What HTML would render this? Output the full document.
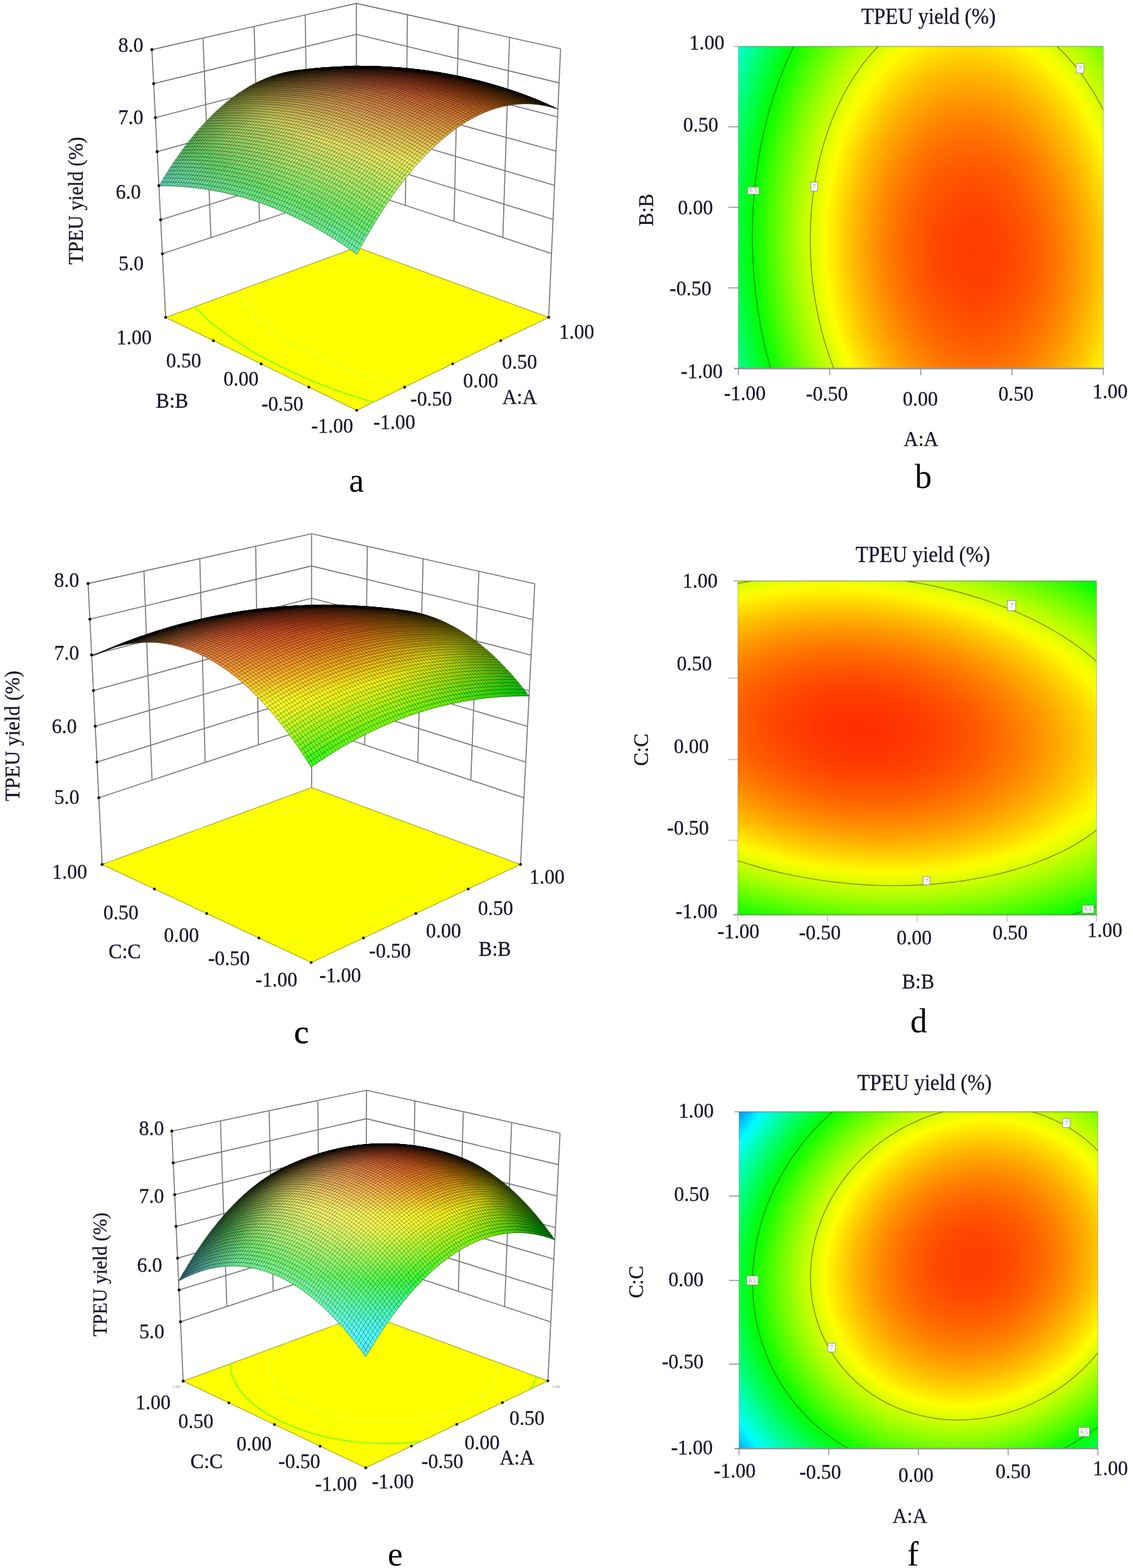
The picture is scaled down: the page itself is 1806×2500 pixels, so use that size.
<!DOCTYPE html>
<html lang="en"><head><meta charset="utf-8"><title>TPEU yield response surfaces</title>
<style>
html,body{margin:0;padding:0;background:#fff;overflow:hidden}
svg{display:block}
text{font-family:"Liberation Serif", "DejaVu Serif", serif;fill:#15152a;stroke:#15152a;stroke-width:.3px;text-anchor:middle}
text.s{fill:#8a8a8a;stroke:none}
</style></head><body>
<svg width="1806" height="2500" viewBox="0 0 1806 2500">
<defs><clipPath id="fca"><path d="M568.5 654.3L874.6 506L568.7 394.2L264.1 506.1Z"/></clipPath><radialGradient id="gb" gradientUnits="userSpaceOnUse" cx="0" cy="0" r="1" gradientTransform="matrix(430.298 0.000 20.851 644.309 1553.07 401.95)"><stop offset="0.000" stop-color="#ff3c00"/><stop offset="0.025" stop-color="#ff3d00"/><stop offset="0.050" stop-color="#ff3e00"/><stop offset="0.075" stop-color="#ff4000"/><stop offset="0.100" stop-color="#ff4300"/><stop offset="0.125" stop-color="#ff4600"/><stop offset="0.150" stop-color="#ff4b00"/><stop offset="0.175" stop-color="#ff5000"/><stop offset="0.200" stop-color="#ff5600"/><stop offset="0.225" stop-color="#ff5c00"/><stop offset="0.250" stop-color="#ff6400"/><stop offset="0.275" stop-color="#ff6c00"/><stop offset="0.300" stop-color="#ff7500"/><stop offset="0.325" stop-color="#ff7f00"/><stop offset="0.350" stop-color="#ff8a00"/><stop offset="0.375" stop-color="#ff9500"/><stop offset="0.400" stop-color="#ffa200"/><stop offset="0.425" stop-color="#ffaf00"/><stop offset="0.450" stop-color="#ffbc00"/><stop offset="0.475" stop-color="#ffcb00"/><stop offset="0.500" stop-color="#ffdb00"/><stop offset="0.525" stop-color="#ffeb00"/><stop offset="0.550" stop-color="#fffc00"/><stop offset="0.575" stop-color="#efff00"/><stop offset="0.600" stop-color="#dbff00"/><stop offset="0.625" stop-color="#c5ff00"/><stop offset="0.650" stop-color="#afff00"/><stop offset="0.675" stop-color="#98ff00"/><stop offset="0.700" stop-color="#80ff00"/><stop offset="0.725" stop-color="#67ff00"/><stop offset="0.750" stop-color="#4eff00"/><stop offset="0.775" stop-color="#33ff00"/><stop offset="0.800" stop-color="#18ff00"/><stop offset="0.825" stop-color="#00ff04"/><stop offset="0.850" stop-color="#00ff22"/><stop offset="0.875" stop-color="#00ff40"/><stop offset="0.900" stop-color="#00ff5e"/><stop offset="0.925" stop-color="#00ff7e"/><stop offset="0.950" stop-color="#00ff9f"/><stop offset="0.975" stop-color="#00ffc0"/><stop offset="1.000" stop-color="#00ffe3"/></radialGradient><clipPath id="cb"><rect x="1177" y="74" width="581.6" height="513.3"/></clipPath><clipPath id="fcc"><path d="M496 1534.6L829.7 1378.3L496.7 1255.7L162.8 1378.3Z"/></clipPath><radialGradient id="gd" gradientUnits="userSpaceOnUse" cx="0" cy="0" r="1" gradientTransform="matrix(619.647 0.000 74.736 344.856 1372.65 1164.36)"><stop offset="0.000" stop-color="#ff2f00"/><stop offset="0.025" stop-color="#ff3000"/><stop offset="0.050" stop-color="#ff3100"/><stop offset="0.075" stop-color="#ff3200"/><stop offset="0.100" stop-color="#ff3400"/><stop offset="0.125" stop-color="#ff3700"/><stop offset="0.150" stop-color="#ff3a00"/><stop offset="0.175" stop-color="#ff3e00"/><stop offset="0.200" stop-color="#ff4300"/><stop offset="0.225" stop-color="#ff4800"/><stop offset="0.250" stop-color="#ff4d00"/><stop offset="0.275" stop-color="#ff5400"/><stop offset="0.300" stop-color="#ff5a00"/><stop offset="0.325" stop-color="#ff6200"/><stop offset="0.350" stop-color="#ff6a00"/><stop offset="0.375" stop-color="#ff7300"/><stop offset="0.400" stop-color="#ff7c00"/><stop offset="0.425" stop-color="#ff8600"/><stop offset="0.450" stop-color="#ff9000"/><stop offset="0.475" stop-color="#ff9b00"/><stop offset="0.500" stop-color="#ffa700"/><stop offset="0.525" stop-color="#ffb300"/><stop offset="0.550" stop-color="#ffc000"/><stop offset="0.575" stop-color="#ffcd00"/><stop offset="0.600" stop-color="#ffdb00"/><stop offset="0.625" stop-color="#ffea00"/><stop offset="0.650" stop-color="#fff900"/><stop offset="0.675" stop-color="#f4ff00"/><stop offset="0.700" stop-color="#e2ff00"/><stop offset="0.725" stop-color="#cfff00"/><stop offset="0.750" stop-color="#bcff00"/><stop offset="0.775" stop-color="#a8ff00"/><stop offset="0.800" stop-color="#93ff00"/><stop offset="0.825" stop-color="#7eff00"/><stop offset="0.850" stop-color="#68ff00"/><stop offset="0.875" stop-color="#51ff00"/><stop offset="0.900" stop-color="#3aff00"/><stop offset="0.925" stop-color="#22ff00"/><stop offset="0.950" stop-color="#0aff00"/><stop offset="0.975" stop-color="#00ff10"/><stop offset="1.000" stop-color="#00ff2a"/></radialGradient><clipPath id="cd"><rect x="1176.1" y="926.2" width="571.9" height="532.3"/></clipPath><clipPath id="fce"><path d="M583.1 2340.3L873.4 2201.6L583 2094.6L292 2202.1Z"/></clipPath><radialGradient id="gf" gradientUnits="userSpaceOnUse" cx="0" cy="0" r="1" gradientTransform="matrix(472.451 0.000 -43.139 457.634 1551.53 2013.46)"><stop offset="0.000" stop-color="#ff3e00"/><stop offset="0.025" stop-color="#ff3f00"/><stop offset="0.050" stop-color="#ff4000"/><stop offset="0.075" stop-color="#ff4300"/><stop offset="0.100" stop-color="#ff4600"/><stop offset="0.125" stop-color="#ff4a00"/><stop offset="0.150" stop-color="#ff5000"/><stop offset="0.175" stop-color="#ff5600"/><stop offset="0.200" stop-color="#ff5d00"/><stop offset="0.225" stop-color="#ff6500"/><stop offset="0.250" stop-color="#ff6f00"/><stop offset="0.275" stop-color="#ff7900"/><stop offset="0.300" stop-color="#ff8400"/><stop offset="0.325" stop-color="#ff9000"/><stop offset="0.350" stop-color="#ff9d00"/><stop offset="0.375" stop-color="#ffab00"/><stop offset="0.400" stop-color="#ffba00"/><stop offset="0.425" stop-color="#ffca00"/><stop offset="0.450" stop-color="#ffdb00"/><stop offset="0.475" stop-color="#ffec00"/><stop offset="0.500" stop-color="#ffff00"/><stop offset="0.525" stop-color="#e9ff00"/><stop offset="0.550" stop-color="#d2ff00"/><stop offset="0.575" stop-color="#baff00"/><stop offset="0.600" stop-color="#a1ff00"/><stop offset="0.625" stop-color="#87ff00"/><stop offset="0.650" stop-color="#6cff00"/><stop offset="0.675" stop-color="#50ff00"/><stop offset="0.700" stop-color="#33ff00"/><stop offset="0.725" stop-color="#15ff00"/><stop offset="0.750" stop-color="#00ff0a"/><stop offset="0.775" stop-color="#00ff2b"/><stop offset="0.800" stop-color="#00ff4c"/><stop offset="0.825" stop-color="#00ff6f"/><stop offset="0.850" stop-color="#00ff92"/><stop offset="0.875" stop-color="#00ffb7"/><stop offset="0.900" stop-color="#00ffdc"/><stop offset="0.925" stop-color="#00fbff"/><stop offset="0.950" stop-color="#00d3ff"/><stop offset="0.975" stop-color="#00aaff"/><stop offset="1.000" stop-color="#0081ff"/></radialGradient><clipPath id="cf"><rect x="1178" y="1772.6" width="572" height="536.7"/></clipPath></defs>
<rect width="1806" height="2500" fill="#fff"/>
<g id="pa"><path d="M264.1 506.1L242.1 79.1M336.3 378.9L323.6 60.7M413.7 353.2L405.1 42.2M491.1 327.5L486.5 23.8M568.7 394.2L568 5.4M874.6 506L893.6 77.7M801.5 378.6L812.2 59.6M723.8 353L730.8 41.6M646.2 327.4L649.4 23.5M242.1 79.1L568 5.4L893.6 77.7M244.9 133.4L568.1 54.8L891.2 132.1M247.7 187.6L568.2 104.2L888.8 186.5M250.5 241.9L568.3 153.6L886.4 241M253.3 296.1L568.4 203L883.9 295.4M256.1 350.4L568.4 252.4L881.5 349.8M258.9 404.6L568.5 301.8L879.1 404.2" fill="none" stroke="#646464" stroke-opacity=".9" stroke-width="1.6"/>
<path d="M568.5 654.3L874.6 506L568.7 394.2L264.1 506.1Z" fill="#ff0" stroke="#8c8c14" stroke-width="1"/>
<g clip-path="url(#fca)" fill="none">
<path d="M614.5 646.5L588.8 639.4L563.4 631.5L538.5 623L514.1 613.9L490.4 604.3L467.6 594.1L445.6 583.6L424.7 572.8L404.9 561.7L386.4 550.4L369.1 539L353.2 527.6L338.9 516.3L326 505L314.8 494L305.2 483.2" stroke="#8cff1e" stroke-width="2.2"/>
<path d="M663.9 618.6L644.6 614.7L625.4 610.2L606.4 605.2L587.6 599.6L569.1 593.6L551.1 587.2L533.6 580.3L516.7 573.2L500.5 565.7L485 558L470.3 550L456.6 542L443.8 533.8L432.1 525.6L421.4 517.4L411.9 509.3L403.6 501.2L396.5 493.3L390.7 485.6L386.1 478.1L382.9 470.9L381 463.9L380.4 457.3L381.2 451M503.1 408.4L519.4 408.2L536.5 408.5L554.1 409.2L572.3 410.4L590.8 411.9L609.7 413.8L628.8 416.2L648 418.9L667.3 422L686.5 425.5M891.3 498.6L900.9 505.9" stroke="#e0ff28" stroke-width="1.6"/>
</g>
<g><path d="M568.2 121.9l9.3 4l-9.3 1.8l-9.3-4z" fill="#000000"/><path d="M559.3 118.9l9.4 3.5l-9.4 1.8l-9.3-3.6z" fill="#000000"/><path d="M577.1 120.7l9.3 4l-9.3 1.6l-9.3-4z" fill="#000000"/><path d="M550.4 116.2l9.4 3.1l-9.4 1.8l-9.3-3.1z" fill="#000000"/><path d="M568.2 117.6l9.3 3.6l-9.3 1.6l-9.3-3.5z" fill="#000000"/><path d="M586 119.6l9.3 4l-9.3 1.5l-9.4-4z" fill="#000000"/><path d="M541.5 114l9.3 2.7l-9.3 1.8l-9.4-2.7z" fill="#000000"/><path d="M559.3 115l9.3 3.1l-9.3 1.7l-9.4-3.2z" fill="#000000"/><path d="M577.1 116.6l9.3 3.5l-9.3 1.5l-9.4-3.6z" fill="#000000"/><path d="M594.9 118.6l9.3 4l-9.3 1.3l-9.4-3.9z" fill="#000000"/><path d="M532.5 112.3l9.4 2.2l-9.3 1.8l-9.4-2.3z" fill="#000000"/><path d="M550.4 112.9l9.3 2.6l-9.3 1.6l-9.4-2.6z" fill="#000000"/><path d="M568.2 114l9.3 3l-9.3 1.5l-9.4-3.1z" fill="#000000"/><path d="M586 115.6l9.3 3.5l-9.3 1.4l-9.4-3.5z" fill="#000000"/><path d="M603.8 117.8l9.3 4l-9.3 1.2l-9.4-4z" fill="#000000"/><path d="M523.6 111l9.4 1.7l-9.3 1.8l-9.4-1.8z" fill="#000000"/><path d="M541.4 111.1l9.4 2.2l-9.3 1.6l-9.4-2.2z" fill="#000000"/><path d="M559.3 111.8l9.3 2.6l-9.3 1.5l-9.4-2.6z" fill="#000000"/><path d="M577.1 113l9.3 3.1l-9.3 1.4l-9.4-3.1z" fill="#000000"/><path d="M594.9 114.8l9.4 3.5l-9.4 1.2l-9.3-3.5z" fill="#000000"/><path d="M612.7 117.1l9.3 4l-9.3 1l-9.3-3.9z" fill="#000000"/><path d="M514.6 110.1l9.4 1.3l-9.3 1.7l-9.4-1.3z" fill="#000000"/><path d="M532.5 109.8l9.4 1.8l-9.4 1.6l-9.4-1.8z" fill="#000000"/><path d="M550.3 110.1l9.4 2.2l-9.3 1.5l-9.4-2.3z" fill="#000000"/><path d="M568.2 110.9l9.3 2.6l-9.3 1.4l-9.4-2.7z" fill="#000000"/><path d="M586 112.3l9.4 3l-9.4 1.2l-9.4-3z" fill="#000000"/><path d="M603.8 114.2l9.4 3.4l-9.4 1.1l-9.3-3.5z" fill="#000000"/><path d="M621.7 116.6l9.3 3.9l-9.4 0.9l-9.3-3.9z" fill="#000000"/><path d="M505.7 109.7l9.4 0.8l-9.3 1.7l-9.4-0.8z" fill="#000000"/><path d="M523.5 109l9.4 1.3l-9.3 1.6l-9.4-1.4z" fill="#000000"/><path d="M541.4 108.8l9.4 1.8l-9.4 1.4l-9.4-1.7z" fill="#000000"/><path d="M559.2 109.2l9.4 2.2l-9.3 1.3l-9.4-2.2z" fill="#000000"/><path d="M577.1 110.2l9.4 2.6l-9.4 1.1l-9.4-2.6z" fill="#000000"/><path d="M594.9 111.6l9.4 3.1l-9.4 1l-9.3-3z" fill="#000000"/><path d="M612.8 113.7l9.3 3.4l-9.4 0.9l-9.3-3.4z" fill="#000000"/><path d="M630.6 116.2l9.3 3.9l-9.4 0.8l-9.3-3.9z" fill="#000000"/><path d="M496.7 109.7l9.4 0.4l-9.3 1.7l-9.4-0.4z" fill="#090801"/><path d="M639.5 116l9.3 3.9l-9.4 0.6l-9.3-3.9z" fill="#000000"/><path d="M514.6 108.6l9.4 0.8l-9.3 1.6l-9.5-0.9z" fill="#020200"/><path d="M532.4 108l9.4 1.3l-9.3 1.4l-9.4-1.3z" fill="#000000"/><path d="M550.3 108l9.4 1.7l-9.4 1.3l-9.4-1.7z" fill="#000000"/><path d="M568.2 108.5l9.3 2.1l-9.3 1.2l-9.4-2.2z" fill="#000000"/><path d="M586 109.6l9.4 2.5l-9.4 1.1l-9.4-2.6z" fill="#000000"/><path d="M603.9 111.2l9.3 3l-9.4 0.9l-9.3-3.1z" fill="#000000"/><path d="M621.7 113.3l9.3 3.5l-9.4 0.7l-9.3-3.4z" fill="#000000"/><path d="M487.7 110.2l9.5-0.1l-9.3 1.7l-9.5 0.1z" fill="#111002"/><path d="M648.5 115.9l9.3 3.9l-9.4 0.5l-9.3-3.9z" fill="#000000"/><path d="M505.6 108.6l9.4 0.4l-9.3 1.6l-9.4-0.4z" fill="#0c0b01"/><path d="M523.5 107.6l9.4 0.8l-9.4 1.5l-9.4-0.9z" fill="#060500"/><path d="M541.3 107.2l9.4 1.2l-9.3 1.3l-9.4-1.2z" fill="#000000"/><path d="M559.2 107.3l9.4 1.7l-9.4 1.1l-9.4-1.7z" fill="#000000"/><path d="M577.1 107.9l9.4 2.1l-9.4 1.1l-9.4-2.2z" fill="#000000"/><path d="M595 109.1l9.3 2.5l-9.4 0.9l-9.3-2.5z" fill="#000000"/><path d="M612.8 110.8l9.4 3l-9.4 0.8l-9.4-3z" fill="#000000"/><path d="M630.7 113.1l9.3 3.4l-9.4 0.6l-9.3-3.4z" fill="#000000"/><path d="M478.7 111.2l9.5-0.6l-9.2 1.7l-9.5 0.5z" fill="#191603"/><path d="M496.6 109.2l9.5-0.1l-9.3 1.5l-9.5 0.1z" fill="#141102"/><path d="M514.5 107.7l9.4 0.4l-9.3 1.4l-9.4-0.4z" fill="#0f0d01"/><path d="M621.8 110.6l9.3 3l-9.4 0.6l-9.3-3z" fill="#000000"/><path d="M639.6 113l9.3 3.4l-9.4 0.5l-9.3-3.4z" fill="#000000"/><path d="M657.4 116l9.3 3.8l-9.4 0.4l-9.3-3.9z" fill="#000000"/><path d="M532.4 106.8l9.4 0.8l-9.4 1.3l-9.4-0.8z" fill="#0a0801"/><path d="M550.3 106.5l9.4 1.2l-9.4 1.2l-9.4-1.3z" fill="#030300"/><path d="M568.2 106.7l9.3 1.7l-9.3 1l-9.4-1.7z" fill="#000000"/><path d="M586 107.5l9.4 2.1l-9.4 0.9l-9.4-2.2z" fill="#000000"/><path d="M603.9 108.8l9.4 2.5l-9.4 0.8l-9.4-2.6z" fill="#000000"/><path d="M469.8 113.5l9.5-2l-9.2 0.8l-9.5 1.9z" fill="#201d05"/><path d="M487.3 110.4l9.8-0.8l-9 1.4l-9.7 0.7z" fill="#1b1804"/><path d="M505.5 108.3l9.5-0.2l-9.3 1.4l-9.5 0.2z" fill="#171303"/><path d="M630.7 110.6l9.4 3l-9.5 0.4l-9.3-3z" fill="#000000"/><path d="M648.6 113.1l9.3 3.4l-9.4 0.3l-9.3-3.4z" fill="#000000"/><path d="M666.4 116.2l9.3 3.8l-9.5 0.2l-9.2-3.8z" fill="#000000"/><path d="M523.4 107l9.4 0.3l-9.3 1.2l-9.4-0.3z" fill="#120e02"/><path d="M541.3 106.2l9.4 0.7l-9.3 1.2l-9.5-0.8z" fill="#0d0a01"/><path d="M559.2 106l9.4 1.2l-9.4 1l-9.4-1.2z" fill="#070600"/><path d="M577.1 106.3l9.4 1.6l-9.4 0.9l-9.4-1.7z" fill="#000000"/><path d="M595 107.2l9.4 2.1l-9.4 0.7l-9.4-2.1z" fill="#000000"/><path d="M612.9 108.6l9.3 2.5l-9.4 0.6l-9.3-2.5z" fill="#000000"/><path d="M460.9 115.4l9.4-2.5l-9.3 0.8l-9.4 2.4z" fill="#272308"/><path d="M478.7 112.5l9.5-2l-9.3 0.7l-9.5 1.9z" fill="#231d06"/><path d="M496.4 110.2l9.6-1.5l-9.1 0.5l-9.6 1.4z" fill="#1e1904"/><path d="M514.4 107.6l9.5-0.2l-9.3 1.2l-9.5 0.2z" fill="#1a1403"/><path d="M532.3 106.3l9.5 0.3l-9.4 1.1l-9.4-0.3z" fill="#151002"/><path d="M603.9 107.1l9.4 2l-9.4 0.6l-9.4-2.1z" fill="#000000"/><path d="M621.8 108.6l9.4 2.5l-9.4 0.4l-9.4-2.5z" fill="#000000"/><path d="M639.7 110.7l9.3 3l-9.4 0.2l-9.3-2.9z" fill="#000000"/><path d="M657.5 113.4l9.3 3.3l-9.4 0.2l-9.3-3.4z" fill="#000000"/><path d="M675.4 116.6l9.2 3.8l-9.4 0l-9.3-3.8z" fill="#000000"/><path d="M550.2 105.7l9.5 0.7l-9.4 1l-9.4-0.8z" fill="#100c01"/><path d="M568.1 105.6l9.4 1.2l-9.3 0.8l-9.4-1.2z" fill="#0a0801"/><path d="M586.1 106l9.3 1.7l-9.4 0.7l-9.4-1.7z" fill="#040300"/><path d="M452 117.7l9.4-2.9l-9.3 0.7l-9.4 2.9z" fill="#2f290a"/><path d="M469.8 114.4l9.4-2.4l-9.3 0.6l-9.4 2.4z" fill="#2a2408"/><path d="M487.6 111.7l9.5-2l-9.4 0.5l-9.4 1.9z" fill="#261e06"/><path d="M505.4 109.5l9.5-1.6l-9.3 0.4l-9.4 1.5z" fill="#211905"/><path d="M523 107.5l9.8-0.7l-9 0.9l-9.8 0.3z" fill="#1c1503"/><path d="M612.9 107.1l9.4 2l-9.5 0.4l-9.3-2z" fill="#010100"/><path d="M630.8 108.8l9.3 2.4l-9.4 0.3l-9.3-2.5z" fill="#000000"/><path d="M648.7 111l9.3 2.9l-9.5 0.1l-9.3-2.9z" fill="#000000"/><path d="M666.5 113.8l9.3 3.3l-9.4 0l-9.3-3.3z" fill="#000000"/><path d="M684.3 117.1l9.3 3.8l-9.5-0.1l-9.2-3.8z" fill="#000000"/><path d="M541.3 105.9l9.4 0.2l-9.3 1l-9.5-0.3z" fill="#171102"/><path d="M559.2 105.3l9.4 0.7l-9.4 0.9l-9.4-0.8z" fill="#130d01"/><path d="M577.1 105.4l9.4 1.1l-9.4 0.7l-9.4-1.2z" fill="#0d0a01"/><path d="M595 105.9l9.4 1.6l-9.4 0.6l-9.4-1.6z" fill="#080600"/><path d="M443.1 120.6l9.3-3.4l-9.2 0.7l-9.4 3.3z" fill="#36300e"/><path d="M460.9 116.8l9.4-2.9l-9.4 0.6l-9.3 2.8z" fill="#312a0b"/><path d="M478.7 113.6l9.4-2.4l-9.3 0.4l-9.4 2.4z" fill="#2d2409"/><path d="M496.5 111l9.5-2l-9.4 0.3l-9.4 2z" fill="#281f07"/><path d="M514.4 108.9l9.4-1.5l-9.3 0.1l-9.4 1.6z" fill="#241a05"/><path d="M532.3 107.4l9.4-1.1l-9.3 0l-9.5 1.1z" fill="#1f1604"/><path d="M550.2 105.6l9.4 0.2l-9.3 0.8l-9.5-0.3z" fill="#1a1203"/><path d="M586.1 105.3l9.4 1.1l-9.5 0.5l-9.3-1.1z" fill="#100b01"/><path d="M604 106l9.3 1.5l-9.4 0.5l-9.3-1.6z" fill="#0b0801"/><path d="M621.9 107.2l9.3 2l-9.4 0.3l-9.4-2z" fill="#050400"/><path d="M639.8 109.1l9.3 2.4l-9.4 0.1l-9.4-2.5z" fill="#000000"/><path d="M657.6 111.4l9.3 2.9l-9.4 0l-9.3-2.9z" fill="#000000"/><path d="M675.5 114.3l9.2 3.4l-9.4-0.2l-9.3-3.3z" fill="#000000"/><path d="M693.3 117.8l9.2 3.8l-9.4-0.3l-9.2-3.8z" fill="#000000"/><path d="M568.1 105.1l9.5 0.7l-9.4 0.7l-9.5-0.7z" fill="#150e02"/><path d="M434.2 123.9l9.3-3.9l-9.3 0.7l-9.3 3.8z" fill="#3d3712"/><path d="M702.2 118.7l9.3 3.7l-9.5-0.5l-9.2-3.7z" fill="#000000"/><path d="M451.9 119.7l9.4-3.4l-9.3 0.5l-9.4 3.4z" fill="#38300f"/><path d="M469.7 116.1l9.4-3l-9.3 0.4l-9.4 2.9z" fill="#342a0c"/><path d="M487.6 113l9.4-2.5l-9.3 0.3l-9.4 2.4z" fill="#2f240a"/><path d="M505.5 110.5l9.4-2.1l-9.4 0.2l-9.4 2z" fill="#2b1f08"/><path d="M523.3 108.5l9.5-1.6l-9.4 0.1l-9.4 1.5z" fill="#261b06"/><path d="M541.2 107.1l9.5-1.1l-9.4-0.1l-9.4 1.1z" fill="#221704"/><path d="M595 105.4l9.4 1.1l-9.4 0.3l-9.4-1.1z" fill="#130c01"/><path d="M613 106.2l9.3 1.5l-9.4 0.3l-9.4-1.6z" fill="#0e0901"/><path d="M630.9 107.6l9.3 1.9l-9.4 0.2l-9.4-2.1z" fill="#090600"/><path d="M648.7 109.5l9.4 2.4l-9.5 0l-9.3-2.5z" fill="#020200"/><path d="M666.6 112l9.3 2.9l-9.4-0.2l-9.3-2.9z" fill="#000000"/><path d="M684.4 115.1l9.3 3.3l-9.4-0.4l-9.3-3.3z" fill="#000000"/><path d="M559.1 106.3l9.5-0.7l-9.2-0.2l-9.6 0.6z" fill="#1d1303"/><path d="M577.1 105.1l9.4 0.6l-9.4 0.6l-9.4-0.7z" fill="#181002"/><path d="M425.3 127.7l9.3-4.4l-9.3 0.6l-9.3 4.4z" fill="#454016"/><path d="M711.2 119.7l9.2 3.7l-9.4-0.6l-9.2-3.8z" fill="#000000"/><path d="M443 123l9.4-3.9l-9.3 0.6l-9.4 3.8z" fill="#3f3713"/><path d="M460.8 119l9.4-3.5l-9.3 0.4l-9.4 3.4z" fill="#3b3110"/><path d="M478.6 115.5l9.4-3l-9.3 0.2l-9.4 3z" fill="#372a0d"/><path d="M496.5 112.5l9.4-2.5l-9.3 0.1l-9.4 2.5z" fill="#32250a"/><path d="M514.4 110.1l9.4-2.1l-9.4 0l-9.4 2.1z" fill="#2d2008"/><path d="M532.3 108.3l9.4-1.7l-9.4-0.1l-9.4 1.6z" fill="#291b06"/><path d="M550.2 107l9.4-1.2l-9.4-0.3l-9.4 1.2z" fill="#241705"/><path d="M568.1 106.3l9.5-0.8l-9.5-0.4l-9.4 0.7z" fill="#1f1403"/><path d="M586.1 105.2l9.4 0.6l-9.5 0.4l-9.3-0.7z" fill="#1b1002"/><path d="M604 105.6l9.4 1.1l-9.5 0.2l-9.3-1.1z" fill="#160d01"/><path d="M621.9 106.5l9.4 1.5l-9.5 0.1l-9.3-1.5z" fill="#110b01"/><path d="M639.8 108l9.4 2l-9.5 0l-9.3-2z" fill="#0c0800"/><path d="M657.7 110.1l9.3 2.4l-9.4-0.2l-9.3-2.4z" fill="#060400"/><path d="M675.6 112.7l9.3 2.9l-9.5-0.4l-9.3-2.8z" fill="#000000"/><path d="M693.4 115.9l9.3 3.3l-9.5-0.5l-9.2-3.3z" fill="#000000"/><path d="M416.4 132l9.3-4.9l-9.3 0.6l-9.3 4.8z" fill="#4f4b1b"/><path d="M434.1 126.9l9.4-4.4l-9.3 0.5l-9.4 4.3z" fill="#494117"/><path d="M702.4 117l9.2 3.2l-9.4-0.6l-9.3-3.3z" fill="#000000"/><path d="M720.2 120.8l9.2 3.7l-9.4-0.8l-9.3-3.7z" fill="#000000"/><path d="M451.9 122.4l9.4-4l-9.3 0.4l-9.4 3.9z" fill="#443914"/><path d="M559.2 107l9.4-1.2l-9.4-0.4l-9.4 1.2z" fill="#271805"/><path d="M577.1 106.4l9.4-0.8l-9.4-0.5l-9.4 0.7z" fill="#221404"/><path d="M684.6 113.6l9.2 2.9l-9.4-0.5l-9.3-2.9z" fill="#030200"/><path d="M469.7 118.4l9.4-3.5l-9.3 0.3l-9.4 3.4z" fill="#3e3111"/><path d="M487.6 115l9.4-3l-9.4 0.1l-9.4 3z" fill="#392b0e"/><path d="M505.4 112.2l9.5-2.6l-9.4 0l-9.4 2.5z" fill="#35250b"/><path d="M523.3 109.9l9.5-2.1l-9.4-0.2l-9.4 2.1z" fill="#302009"/><path d="M541.3 108.2l9.4-1.7l-9.4-0.3l-9.4 1.6z" fill="#2b1c07"/><path d="M595.1 106.3l9.3-0.3l-9.5-0.6l-9.3 0.2z" fill="#1d1102"/><path d="M613 106l9.4 1l-9.5 0.1l-9.4-1.1z" fill="#180e02"/><path d="M630.9 107l9.4 1.5l-9.5 0l-9.3-1.6z" fill="#140c01"/><path d="M648.8 108.7l9.3 1.9l-9.4-0.2l-9.3-2z" fill="#0e0901"/><path d="M666.7 110.9l9.3 2.4l-9.5-0.4l-9.3-2.4z" fill="#090600"/><path d="M407.5 136.7l9.3-5.3l-9.2 0.6l-9.3 5.3z" fill="#595620"/><path d="M425.2 131.2l9.4-4.9l-9.3 0.5l-9.3 4.8z" fill="#544c1c"/><path d="M443 126.2l9.3-4.4l-9.3 0.3l-9.3 4.4z" fill="#4e4318"/><path d="M568.1 107.2l9.5-1.3l-9.5-0.5l-9.4 1.2z" fill="#291805"/><path d="M693.5 114.7l9.3 2.8l-9.5-0.7l-9.2-2.8z" fill="#060400"/><path d="M711.4 118.2l9.2 3.2l-9.5-0.8l-9.2-3.3z" fill="#000000"/><path d="M729.1 122.2l9.2 3.6l-9.4-0.9l-9.2-3.7z" fill="#000000"/><path d="M460.8 121.8l9.4-3.9l-9.4 0.2l-9.3 3.9z" fill="#483a15"/><path d="M550.2 108.2l9.4-1.7l-9.4-0.4l-9.4 1.6z" fill="#2e1c07"/><path d="M586.1 106.7l9.4-0.8l-9.4-0.7l-9.4 0.7z" fill="#251504"/><path d="M675.7 111.8l9.3 2.4l-9.5-0.6l-9.3-2.3z" fill="#0c0800"/><path d="M478.6 118l9.4-3.5l-9.3 0.1l-9.4 3.4z" fill="#423212"/><path d="M496.5 114.7l9.4-3.1l-9.4 0l-9.4 3z" fill="#3c2b0f"/><path d="M514.4 112l9.4-2.6l-9.4-0.2l-9.4 2.6z" fill="#37250c"/><path d="M532.3 109.8l9.4-2.1l-9.4-0.3l-9.4 2.1z" fill="#332009"/><path d="M604.1 106.8l9.3-0.4l-9.5-0.8l-9.3 0.3z" fill="#201203"/><path d="M622.4 106.8l8.9 0.7l-9.7-0.2l-9.1-0.9z" fill="#1b0f02"/><path d="M639.9 107.7l9.3 1.5l-9.5-0.3l-9.3-1.4z" fill="#160d01"/><path d="M657.8 109.5l9.3 1.9l-9.5-0.4l-9.3-1.9z" fill="#110a01"/><path d="M398.7 142l9.3-5.9l-9.3 0.6l-9.2 5.8z" fill="#636225"/><path d="M416.4 136l9.3-5.4l-9.3 0.5l-9.3 5.3z" fill="#5e5821"/><path d="M434.1 130.6l9.3-4.9l-9.3 0.3l-9.3 4.9z" fill="#584d1d"/><path d="M451.9 125.7l9.3-4.4l-9.3 0.2l-9.3 4.4z" fill="#53441a"/><path d="M559.2 108.4l9.4-1.7l-9.4-0.6l-9.4 1.7z" fill="#311c08"/><path d="M577.1 107.5l9.4-1.3l-9.4-0.7l-9.4 1.2z" fill="#2c1806"/><path d="M684.7 112.9l9.2 2.3l-9.4-0.7l-9.3-2.3z" fill="#0f0900"/><path d="M702.5 115.9l9.3 2.8l-9.5-0.8l-9.2-2.8z" fill="#0a0600"/><path d="M720.3 119.5l9.2 3.2l-9.4-1l-9.2-3.2z" fill="#030200"/><path d="M738.1 123.7l9.2 3.6l-9.4-1.1l-9.2-3.7z" fill="#000000"/><path d="M469.7 121.4l9.4-4l-9.4 0.1l-9.3 4z" fill="#4d3b16"/><path d="M541.2 109.9l9.5-2.2l-9.4-0.4l-9.5 2.1z" fill="#35200a"/><path d="M595.1 107.1l9.4-0.8l-9.5-0.8l-9.4 0.7z" fill="#271504"/><path d="M666.8 110.4l9.3 1.9l-9.5-0.5l-9.3-1.9z" fill="#140c01"/><path d="M487.5 117.7l9.4-3.5l-9.3-0.1l-9.4 3.5z" fill="#473313"/><path d="M505.4 114.5l9.4-3l-9.3-0.2l-9.5 3z" fill="#402c10"/><path d="M523.3 111.9l9.4-2.6l-9.4-0.3l-9.4 2.6z" fill="#3a260d"/><path d="M613 107.3l9.4-0.3l-9.5-1l-9.3 0.3z" fill="#221203"/><path d="M631.1 108.1l9.2 0.1l-9.6-1.1l-9.2-0.2z" fill="#1e1002"/><path d="M649.1 108.6l9.1 1.4l-9.6-0.4l-9.2-1.5z" fill="#190e01"/><path d="M389.9 147.8l9.2-6.4l-9.2 0.5l-9.2 6.4z" fill="#6b6d2a"/><path d="M407.5 141.3l9.3-5.9l-9.3 0.4l-9.2 5.9z" fill="#686427"/><path d="M425.2 135.5l9.3-5.5l-9.3 0.3l-9.3 5.4z" fill="#635923"/><path d="M443 130.1l9.3-4.9l-9.3 0.1l-9.3 5z" fill="#5d4f1f"/><path d="M460.8 125.4l9.3-4.5l-9.3 0l-9.4 4.5z" fill="#57451b"/><path d="M550.2 110.1l9.4-2.2l-9.4-0.6l-9.4 2.2z" fill="#39210b"/><path d="M568.2 108.8l9.4-1.8l-9.5-0.7l-9.4 1.7z" fill="#331c08"/><path d="M586.1 108l9.4-1.3l-9.4-0.9l-9.4 1.2z" fill="#2e1906"/><path d="M675.9 111.6l9.2 1.8l-9.6-0.7l-9.2-1.9z" fill="#160d01"/><path d="M693.7 114.2l9.2 2.2l-9.5-0.8l-9.2-2.3z" fill="#110b00"/><path d="M711.5 117.3l9.2 2.7l-9.4-1l-9.3-2.7z" fill="#0c0800"/><path d="M729.3 121l9.2 3.2l-9.4-1.1l-9.2-3.2z" fill="#070500"/><path d="M747.1 125.3l9.1 3.6l-9.4-1.2l-9.2-3.7z" fill="#000000"/><path d="M478.6 121.2l9.4-4l-9.4-0.1l-9.3 4z" fill="#513c17"/><path d="M532.3 112.1l9.4-2.7l-9.4-0.5l-9.4 2.6z" fill="#3f260d"/><path d="M604.1 107.7l9.4-0.8l-9.5-1l-9.4 0.8z" fill="#2a1605"/><path d="M658.2 110.3l9 0.6l-9.8-1.2l-9-0.8z" fill="#1b0f01"/><path d="M496.5 117.6l9.4-3.6l-9.4-0.2l-9.4 3.5z" fill="#4b3414"/><path d="M514.4 114.5l9.4-3.1l-9.4-0.3l-9.4 3.1z" fill="#452d10"/><path d="M622 108.1l9.4-0.4l-9.5-1.2l-9.3 0.4z" fill="#251303"/><path d="M640 109l9.3 0l-9.5-1.3l-9.3-0.1z" fill="#201102"/><path d="M381.1 154l9.2-6.8l-9.2 0.4l-9.2 6.9z" fill="#717730"/><path d="M398.7 147.1l9.3-6.4l-9.3 0.4l-9.2 6.4z" fill="#72712c"/><path d="M416.4 140.8l9.3-5.9l-9.3 0.2l-9.3 5.9z" fill="#6d6528"/><path d="M434.1 135.1l9.3-5.5l-9.3 0.1l-9.3 5.4z" fill="#685a24"/><path d="M451.9 129.9l9.3-5.1l-9.3 0l-9.3 5z" fill="#625020"/><path d="M469.7 125.2l9.4-4.5l-9.4-0.2l-9.4 4.6z" fill="#5c461c"/><path d="M541.2 112.3l9.5-2.7l-9.5-0.6l-9.4 2.7z" fill="#43270e"/><path d="M559.2 110.5l9.4-2.2l-9.4-0.8l-9.4 2.2z" fill="#3d220b"/><path d="M577.1 109.3l9.4-1.8l-9.4-0.9l-9.4 1.7z" fill="#371d09"/><path d="M595.1 108.6l9.4-1.3l-9.4-1.1l-9.5 1.3z" fill="#311907"/><path d="M667 111.6l9.2 0.5l-9.6-1.6l-9.2-0.6z" fill="#1e1002"/><path d="M685.1 113.1l9 1.6l-9.8-1.1l-9-1.7z" fill="#190e01"/><path d="M702.7 115.6l9.2 2.2l-9.5-1l-9.2-2.3z" fill="#140c01"/><path d="M720.5 118.9l9.2 2.7l-9.5-1.2l-9.2-2.7z" fill="#0f0a00"/><path d="M738.3 122.7l9.2 3.2l-9.5-1.3l-9.2-3.2z" fill="#0a0700"/><path d="M756 127.1l9.2 3.6l-9.5-1.4l-9.1-3.6z" fill="#040300"/><path d="M487.5 121.1l9.4-4l-9.3-0.3l-9.4 4.1z" fill="#563d19"/><path d="M523.3 114.7l9.4-3.2l-9.4-0.5l-9.4 3.2z" fill="#492e11"/><path d="M613 108.5l9.4-0.9l-9.4-1.2l-9.4 0.9z" fill="#2c1605"/><path d="M649 110l9.3 0l-9.5-1.5l-9.3 0z" fill="#221102"/><path d="M505.4 117.6l9.4-3.6l-9.4-0.4l-9.4 3.6z" fill="#503515"/><path d="M631 109l9.4-0.5l-9.5-1.3l-9.4 0.4z" fill="#271303"/><path d="M372.3 160.8l9.2-7.4l-9.2 0.5l-9.2 7.3z" fill="#758035"/><path d="M389.9 153.5l9.2-7l-9.2 0.4l-9.2 6.9z" fill="#797c32"/><path d="M407.6 146.7l9.2-6.5l-9.3 0.2l-9.2 6.5z" fill="#77722e"/><path d="M425.2 140.5l9.3-6l-9.3 0.1l-9.2 5.9z" fill="#72672a"/><path d="M443 134.8l9.3-5.5l-9.3-0.1l-9.3 5.5z" fill="#6d5c26"/><path d="M460.8 129.7l9.3-5l-9.3-0.2l-9.4 5z" fill="#675122"/><path d="M478.6 125.2l9.4-4.6l-9.4-0.3l-9.3 4.6z" fill="#61471e"/><path d="M532.3 115l9.4-3.2l-9.4-0.6l-9.4 3.1z" fill="#4e2f12"/><path d="M550.2 112.8l9.4-2.8l-9.4-0.8l-9.4 2.7z" fill="#48280f"/><path d="M568.2 111.1l9.4-2.3l-9.4-0.9l-9.5 2.2z" fill="#41230c"/><path d="M586.1 110l9.4-1.9l-9.4-1l-9.4 1.8z" fill="#3b1e09"/><path d="M604.1 109.4l9.4-1.3l-9.5-1.3l-9.4 1.4z" fill="#351a07"/><path d="M657.9 111.2l9.4 0l-9.5-1.7l-9.3 0z" fill="#251203"/><path d="M675.9 112.9l9.3 0.4l-9.5-1.7l-9.3-0.5z" fill="#201002"/><path d="M694 115.1l9 1l-9.7-1.9l-9-1z" fill="#1b0f01"/><path d="M711.8 117.2l9.1 2.2l-9.7-1.3l-9.1-2.2z" fill="#170d01"/><path d="M729.5 120.6l9.2 2.7l-9.6-1.4l-9.1-2.7z" fill="#120b00"/><path d="M747.3 124.6l9.1 3.1l-9.5-1.5l-9.1-3.1z" fill="#0d0900"/><path d="M765 129.1l9.1 3.6l-9.4-1.6l-9.1-3.6z" fill="#070500"/><path d="M496.5 121.2l9.4-4.1l-9.4-0.4l-9.4 4.1z" fill="#5b3e1a"/><path d="M514.4 117.8l9.4-3.6l-9.4-0.6l-9.4 3.7z" fill="#553616"/><path d="M622 109.4l9.4-0.9l-9.4-1.3l-9.4 0.8z" fill="#2f1605"/><path d="M640 110l9.4-0.4l-9.5-1.5l-9.4 0.4z" fill="#2a1404"/><path d="M363.6 168.1l9.1-7.9l-9.2 0.4l-9.1 7.9z" fill="#77893b"/><path d="M774 131.3l9.1 3.5l-9.5-1.8l-9.1-3.5z" fill="#0a0800"/><path d="M381.1 160.3l9.2-7.5l-9.2 0.3l-9.2 7.5z" fill="#7e8537"/><path d="M398.7 153l9.3-6.9l-9.3 0.1l-9.2 7z" fill="#818034"/><path d="M416.4 146.4l9.3-6.5l-9.3 0l-9.3 6.5z" fill="#7c7430"/><path d="M434.1 140.2l9.3-6l-9.3 0l-9.3 5.9z" fill="#77682c"/><path d="M451.9 134.7l9.3-5.6l-9.3-0.1l-9.3 5.5z" fill="#725d28"/><path d="M469.7 129.7l9.3-5.1l-9.3-0.3l-9.4 5.1z" fill="#6c5223"/><path d="M487.5 125.3l9.4-4.6l-9.4-0.5l-9.3 4.6z" fill="#66481f"/><path d="M505.4 121.5l9.4-4.2l-9.4-0.6l-9.4 4.2z" fill="#603f1b"/><path d="M523.3 118.2l9.4-3.7l-9.4-0.7l-9.4 3.7z" fill="#593717"/><path d="M541.2 115.5l9.5-3.2l-9.5-0.9l-9.4 3.2z" fill="#532f13"/><path d="M559.2 113.4l9.4-2.8l-9.4-1l-9.4 2.8z" fill="#4c2910"/><path d="M577.1 111.8l9.5-2.3l-9.5-1.1l-9.4 2.3z" fill="#46230d"/><path d="M595.1 110.8l9.4-1.9l-9.4-1.2l-9.4 1.8z" fill="#3f1f0a"/><path d="M613.1 110.4l9.4-1.4l-9.5-1.4l-9.4 1.4z" fill="#391b08"/><path d="M631 110.5l9.4-0.9l-9.4-1.5l-9.4 0.9z" fill="#331706"/><path d="M649 111.2l9.3-0.5l-9.4-1.6l-9.4 0.4z" fill="#2d1504"/><path d="M666.9 112.5l9.4 0l-9.5-1.8l-9.3 0z" fill="#281303"/><path d="M684.9 114.4l9.3 0.4l-9.5-2l-9.3-0.4z" fill="#221102"/><path d="M702.8 116.8l9.2 0.9l-9.5-2.1l-9.2-0.9z" fill="#1e1001"/><path d="M721 119.5l8.8 1.6l-9.8-1.9l-8.9-1.7z" fill="#190e01"/><path d="M738.6 122.5l9 2.6l-9.6-1.5l-9-2.7z" fill="#140d00"/><path d="M756.3 126.6l9.1 3.1l-9.5-1.7l-9.1-3.1z" fill="#0f0b00"/><path d="M354.9 175.9l9.1-8.4l-9.2 0.4l-9.1 8.4z" fill="#789240"/><path d="M372.4 167.6l9.2-7.9l-9.3 0.2l-9.1 7.9z" fill="#808e3d"/><path d="M496.5 125.6l9.4-4.7l-9.4-0.6l-9.4 4.7z" fill="#6b4920"/><path d="M514.4 121.9l9.4-4.2l-9.4-0.8l-9.4 4.2z" fill="#65401c"/><path d="M622.1 111.5l9.4-1.4l-9.5-1.6l-9.4 1.4z" fill="#3d1b08"/><path d="M640 111.8l9.4-1l-9.4-1.7l-9.4 1z" fill="#371806"/><path d="M765.3 128.8l9 3.1l-9.5-1.9l-9.1-3.1z" fill="#120c00"/><path d="M783 133.6l9 3.6l-9.5-2l-9-3.6z" fill="#0d0a00"/><path d="M390 159.9l9.2-7.5l-9.3 0.2l-9.2 7.4z" fill="#878b3a"/><path d="M407.6 152.8l9.2-7.1l-9.3 0.1l-9.2 6.9z" fill="#868136"/><path d="M425.3 146.2l9.2-6.6l-9.3 0l-9.2 6.5z" fill="#827532"/><path d="M443 140.2l9.3-6.1l-9.3-0.2l-9.3 6z" fill="#7d692e"/><path d="M460.8 134.7l9.3-5.6l-9.3-0.3l-9.3 5.6z" fill="#775e29"/><path d="M478.6 129.9l9.4-5.2l-9.4-0.4l-9.3 5.1z" fill="#715325"/><path d="M532.3 118.7l9.4-3.7l-9.4-0.9l-9.4 3.7z" fill="#5e3818"/><path d="M550.2 116.1l9.4-3.2l-9.4-1l-9.4 3.2z" fill="#583014"/><path d="M568.2 114.1l9.4-2.8l-9.4-1.1l-9.5 2.8z" fill="#512a10"/><path d="M586.1 112.7l9.5-2.4l-9.5-1.2l-9.4 2.3z" fill="#4a240d"/><path d="M604.1 111.8l9.4-1.9l-9.4-1.4l-9.4 1.9z" fill="#441f0a"/><path d="M658 112.6l9.3-0.5l-9.4-1.8l-9.4 0.4z" fill="#311604"/><path d="M675.9 114l9.3 0l-9.4-2l-9.4 0z" fill="#2b1403"/><path d="M693.8 116l9.3 0.4l-9.4-2.1l-9.3-0.4z" fill="#261202"/><path d="M711.8 118.6l9.2 0.8l-9.5-2.3l-9.3-0.8z" fill="#201101"/><path d="M729.7 121.6l9.1 1.4l-9.6-2.4l-9.1-1.4z" fill="#1b0f01"/><path d="M747.8 124.8l8.8 2.3l-9.8-1.9l-8.9-2.4z" fill="#170e00"/><path d="M346.2 184.2l9.1-8.9l-9.2 0.3l-9 8.9z" fill="#789a45"/><path d="M505.4 126l9.4-4.7l-9.4-0.7l-9.4 4.6z" fill="#714a22"/><path d="M631.1 112.8l9.4-1.5l-9.5-1.7l-9.4 1.4z" fill="#421c08"/><path d="M791.9 136.2l9 3.4l-9.5-2.2l-9-3.5z" fill="#0f0c00"/><path d="M363.7 175.5l9.1-8.5l-9.2 0.2l-9.1 8.5z" fill="#819742"/><path d="M381.2 167.3l9.2-8l-9.3 0.1l-9.1 8z" fill="#89933f"/><path d="M487.6 130.2l9.3-5.2l-9.4-0.6l-9.3 5.1z" fill="#775426"/><path d="M523.3 122.4l9.4-4.2l-9.4-0.9l-9.4 4.2z" fill="#6a411d"/><path d="M613.1 113l9.4-2l-9.4-1.5l-9.5 1.9z" fill="#48200b"/><path d="M649 113.2l9.4-1l-9.4-1.9l-9.4 1z" fill="#3b1906"/><path d="M756.6 127.5l8.9 1.8l-9.7-2.5l-8.9-2z" fill="#191001"/><path d="M774.4 131.3l8.9 2.9l-9.7-2.1l-8.9-3z" fill="#140e00"/><path d="M398.8 159.7l9.2-7.6l-9.3 0l-9.2 7.5z" fill="#908f3c"/><path d="M416.4 152.6l9.3-7l-9.3-0.1l-9.2 7z" fill="#8b8338"/><path d="M434.2 146.2l9.2-6.6l-9.3-0.3l-9.3 6.6z" fill="#877634"/><path d="M451.9 140.3l9.3-6.1l-9.3-0.4l-9.3 6.1z" fill="#826a2f"/><path d="M469.7 135l9.4-5.7l-9.4-0.5l-9.3 5.6z" fill="#7c5f2b"/><path d="M541.3 119.4l9.4-3.8l-9.5-1l-9.4 3.7z" fill="#643919"/><path d="M559.2 116.9l9.4-3.3l-9.4-1.1l-9.4 3.2z" fill="#5d3115"/><path d="M577.2 115l9.4-2.8l-9.5-1.3l-9.4 2.8z" fill="#562a11"/><path d="M595.1 113.7l9.4-2.4l-9.4-1.4l-9.4 2.3z" fill="#4f250e"/><path d="M667 114.2l9.3-0.6l-9.4-2l-9.4 0.5z" fill="#351705"/><path d="M684.9 115.7l9.3-0.1l-9.4-2.1l-9.4 0z" fill="#2f1503"/><path d="M702.8 117.8l9.3 0.4l-9.5-2.3l-9.3-0.4z" fill="#291402"/><path d="M720.7 120.5l9.3 0.8l-9.5-2.4l-9.3-0.9z" fill="#241201"/><path d="M738.6 123.8l9.2 1.2l-9.6-2.5l-9.1-1.3z" fill="#1e1101"/><path d="M337.6 193.1l9-9.5l-9.1 0.3l-9 9.4z" fill="#76a14a"/><path d="M496.5 130.7l9.4-5.2l-9.4-0.8l-9.4 5.2z" fill="#7c5528"/><path d="M514.4 126.6l9.4-4.7l-9.4-0.9l-9.4 4.7z" fill="#764b23"/><path d="M622.1 114.3l9.4-2l-9.4-1.7l-9.5 1.9z" fill="#4d210b"/><path d="M640.1 114.2l9.4-1.5l-9.5-1.8l-9.4 1.4z" fill="#461d09"/><path d="M801 138.9l8.9 3.4l-9.7-2.4l-8.9-3.5z" fill="#120e00"/><path d="M355 183.8l9.1-9l-9.2 0.2l-9.1 9z" fill="#809f47"/><path d="M783.4 134.2l8.8 2.5l-9.8-2.7l-8.8-2.5z" fill="#161000"/><path d="M372.5 175.2l9.1-8.5l-9.2 0l-9.1 8.5z" fill="#8a9c44"/><path d="M390 167.1l9.2-8l-9.2-0.1l-9.2 8z" fill="#929941"/><path d="M478.6 135.3l9.4-5.7l-9.4-0.6l-9.3 5.6z" fill="#82602d"/><path d="M532.3 123.1l9.4-4.2l-9.4-1.1l-9.4 4.2z" fill="#6f421f"/><path d="M604.1 114.9l9.4-2.4l-9.4-1.6l-9.4 2.4z" fill="#54260f"/><path d="M658 114.8l9.4-1.1l-9.5-2l-9.3 1z" fill="#401a07"/><path d="M747.5 126l9.2 1.3l-9.5-2.8l-9.1-1.3z" fill="#221301"/><path d="M765.4 130l9.1 1.7l-9.6-2.9l-9-1.7z" fill="#1c1101"/><path d="M407.6 159.6l9.3-7.6l-9.3-0.1l-9.2 7.5z" fill="#95913e"/><path d="M729.7 122.6l9.2 0.8l-9.4-2.6l-9.3-0.8z" fill="#271402"/><path d="M425.3 152.7l9.3-7.1l-9.3-0.3l-9.3 7z" fill="#91843a"/><path d="M443 146.3l9.3-6.6l-9.3-0.4l-9.3 6.6z" fill="#8c7836"/><path d="M460.8 140.5l9.3-6.1l-9.3-0.6l-9.3 6.2z" fill="#876c31"/><path d="M550.2 120.2l9.4-3.8l-9.4-1.2l-9.4 3.8z" fill="#69391a"/><path d="M568.2 117.9l9.4-3.4l-9.4-1.3l-9.4 3.3z" fill="#623216"/><path d="M586.2 116.1l9.4-2.9l-9.5-1.4l-9.4 2.8z" fill="#5b2b12"/><path d="M676 115.9l9.3-0.6l-9.4-2.2l-9.4 0.6z" fill="#391805"/><path d="M693.9 117.5l9.3-0.1l-9.4-2.3l-9.4 0.1z" fill="#331703"/><path d="M711.8 119.8l9.3 0.3l-9.5-2.4l-9.3-0.4z" fill="#2d1502"/><path d="M329 202.4l9-10l-9.1 0.3l-9 10z" fill="#72a84e"/><path d="M346.4 192.7l9-9.5l-9.2 0.1l-9 9.5z" fill="#7ea64c"/><path d="M487.6 135.9l9.3-5.8l-9.4-0.8l-9.3 5.7z" fill="#87612e"/><path d="M505.4 131.3l9.4-5.2l-9.4-1l-9.3 5.2z" fill="#815629"/><path d="M523.3 127.4l9.4-4.8l-9.4-1.1l-9.4 4.8z" fill="#7b4c25"/><path d="M613.1 116.3l9.4-2.5l-9.4-1.7l-9.4 2.4z" fill="#59260f"/><path d="M631.1 115.8l9.4-2l-9.5-1.9l-9.4 1.9z" fill="#52220c"/><path d="M649.1 115.9l9.4-1.6l-9.5-2l-9.4 1.5z" fill="#4b1e09"/><path d="M792.2 137.2l8.9 2.2l-9.6-3.2l-8.9-2.2z" fill="#191100"/><path d="M810.1 142l8.7 3.1l-9.8-2.8l-8.7-3.2z" fill="#141000"/><path d="M363.8 183.6l9.1-9.1l-9.2 0.1l-9.1 9z" fill="#89a44a"/><path d="M774.3 132.5l9.1 1.7l-9.5-3.1l-9.1-1.7z" fill="#1f1301"/><path d="M381.3 175.1l9.1-8.6l-9.2-0.1l-9.1 8.5z" fill="#93a147"/><path d="M398.9 167.1l9.2-8.1l-9.3-0.2l-9.2 8z" fill="#9c9e43"/><path d="M469.7 140.9l9.4-6.2l-9.4-0.6l-9.3 6.1z" fill="#8d6d33"/><path d="M541.3 124l9.4-4.3l-9.4-1.2l-9.4 4.3z" fill="#754320"/><path d="M595.1 117.3l9.5-2.9l-9.5-1.6l-9.4 2.9z" fill="#602c13"/><path d="M667 116.5l9.4-1.1l-9.5-2.1l-9.3 1z" fill="#441c07"/><path d="M738.6 124.9l9.3 0.8l-9.5-2.8l-9.2-0.8z" fill="#2b1602"/><path d="M756.5 128.4l9.2 1.3l-9.5-3l-9.2-1.2z" fill="#251501"/><path d="M416.5 159.7l9.2-7.6l-9.3-0.4l-9.2 7.6z" fill="#9a9240"/><path d="M720.8 121.9l9.3 0.3l-9.5-2.6l-9.3-0.3z" fill="#311702"/><path d="M434.2 152.9l9.3-7.2l-9.4-0.4l-9.2 7.1z" fill="#96853c"/><path d="M451.9 146.6l9.3-6.7l-9.3-0.5l-9.3 6.6z" fill="#917938"/><path d="M559.2 121.2l9.4-3.8l-9.4-1.4l-9.4 3.8z" fill="#6e3a1b"/><path d="M577.2 119l9.4-3.4l-9.4-1.5l-9.5 3.4z" fill="#673317"/><path d="M685 117.7l9.3-0.6l-9.4-2.3l-9.4 0.6z" fill="#3e1905"/><path d="M702.9 119.6l9.3-0.2l-9.4-2.5l-9.4 0.1z" fill="#371804"/><path d="M320.5 212.3l8.9-10.5l-9.1 0.2l-8.9 10.5z" fill="#6daf52"/><path d="M337.8 202.2l9-10.1l-9.2 0.1l-9 10z" fill="#7aad51"/><path d="M355.1 192.6l9.1-9.6l-9.2-0.1l-9 9.6z" fill="#87ab4e"/><path d="M478.7 141.5l9.3-6.2l-9.4-0.9l-9.3 6.2z" fill="#926e35"/><path d="M496.5 136.5l9.4-5.7l-9.4-1l-9.4 5.7z" fill="#8d6230"/><path d="M514.4 132.1l9.4-5.3l-9.4-1.1l-9.4 5.3z" fill="#87572b"/><path d="M532.3 128.3l9.4-4.8l-9.4-1.3l-9.4 4.8z" fill="#814d26"/><path d="M604.1 118.8l9.5-3l-9.5-1.8l-9.4 2.9z" fill="#652d14"/><path d="M622.1 117.8l9.4-2.5l-9.4-1.9l-9.4 2.4z" fill="#5e2710"/><path d="M640.1 117.4l9.4-2l-9.5-2.1l-9.4 2z" fill="#57230c"/><path d="M658.1 117.6l9.4-1.5l-9.5-2.2l-9.4 1.5z" fill="#501f0a"/><path d="M783.2 135.3l9.2 1.6l-9.5-3.2l-9.1-1.7z" fill="#211501"/><path d="M801 140.1l9.1 2.1l-9.6-3.4l-9-2.1z" fill="#1c1300"/><path d="M818.9 145.4l8.8 2.7l-9.7-3.4l-8.8-2.8z" fill="#161200"/><path d="M372.6 183.5l9.1-9.1l-9.2-0.1l-9.1 9.1z" fill="#92a94c"/><path d="M765.4 131l9.2 1.2l-9.4-3.1l-9.2-1.2z" fill="#281601"/><path d="M390.1 175.1l9.2-8.6l-9.3-0.3l-9.1 8.6z" fill="#9ca649"/><path d="M407.7 167.2l9.2-8.1l-9.3-0.4l-9.1 8.1z" fill="#a3a146"/><path d="M460.9 147.1l9.3-6.7l-9.4-0.8l-9.3 6.7z" fill="#977a39"/><path d="M550.3 125.1l9.4-4.4l-9.5-1.4l-9.4 4.3z" fill="#7a4421"/><path d="M586.2 120.3l9.4-3.4l-9.5-1.7l-9.4 3.4z" fill="#6c3318"/><path d="M676 118.4l9.4-1.1l-9.5-2.3l-9.3 1z" fill="#491d07"/><path d="M729.8 124.3l9.2 0.2l-9.4-2.8l-9.3-0.3z" fill="#351903"/><path d="M747.6 127.4l9.3 0.7l-9.5-3l-9.2-0.7z" fill="#2e1702"/><path d="M425.4 159.9l9.2-7.6l-9.3-0.5l-9.2 7.6z" fill="#9f9442"/><path d="M711.9 121.7l9.3-0.1l-9.5-2.7l-9.3 0.1z" fill="#3b1a04"/><path d="M443.1 153.2l9.3-7.2l-9.4-0.6l-9.2 7.2z" fill="#9b873e"/><path d="M568.2 122.4l9.4-3.9l-9.4-1.5l-9.4 3.8z" fill="#733b1c"/><path d="M693.9 119.8l9.4-0.6l-9.4-2.6l-9.4 0.7z" fill="#421b05"/><path d="M312 222.8l8.8-11.2l-9.1 0.2l-8.8 11.1z" fill="#66b556"/><path d="M329.2 212.1l8.9-10.6l-9.1 0l-8.9 10.6z" fill="#75b455"/><path d="M346.5 202l9-10.1l-9.1-0.1l-9 10.1z" fill="#83b253"/><path d="M363.9 192.5l9.1-9.6l-9.2-0.2l-9.1 9.6z" fill="#90b051"/><path d="M469.8 147.7l9.3-6.8l-9.4-0.9l-9.3 6.8z" fill="#9c7b3b"/><path d="M487.6 142.3l9.4-6.3l-9.4-1l-9.4 6.2z" fill="#976f37"/><path d="M505.5 137.4l9.3-5.8l-9.4-1.2l-9.3 5.8z" fill="#926332"/><path d="M523.4 133.1l9.4-5.3l-9.5-1.3l-9.3 5.3z" fill="#8c582c"/><path d="M541.3 129.4l9.4-4.9l-9.4-1.4l-9.4 4.8z" fill="#864e27"/><path d="M595.2 121.7l9.4-3.4l-9.5-1.9l-9.4 3.5z" fill="#723419"/><path d="M613.1 120.3l9.5-3l-9.5-1.9l-9.4 2.9z" fill="#6b2e14"/><path d="M631.1 119.5l9.4-2.5l-9.4-2.1l-9.4 2.5z" fill="#632810"/><path d="M649.1 119.3l9.4-2.1l-9.5-2.2l-9.4 2z" fill="#5c240d"/><path d="M667.1 119.6l9.4-1.6l-9.5-2.4l-9.4 1.6z" fill="#55210a"/><path d="M774.4 133.8l9.2 1.2l-9.4-3.3l-9.3-1.2z" fill="#2a1801"/><path d="M792.2 138.2l9.1 1.6l-9.4-3.4l-9.2-1.7z" fill="#241701"/><path d="M809.9 143.2l9.1 2l-9.5-3.5l-9.1-2.1z" fill="#1e1600"/><path d="M827.7 148.7l8.9 2.6l-9.6-3.7l-8.9-2.6z" fill="#191400"/><path d="M381.4 183.6l9.1-9.2l-9.2-0.2l-9.1 9.1z" fill="#9bae4e"/><path d="M756.6 130l9.2 0.7l-9.4-3.2l-9.3-0.7z" fill="#311902"/><path d="M399 175.3l9.1-8.7l-9.2-0.4l-9.2 8.6z" fill="#a5ab4b"/><path d="M416.6 167.5l9.2-8.2l-9.3-0.5l-9.2 8.1z" fill="#a8a248"/><path d="M452 153.7l9.3-7.2l-9.4-0.8l-9.2 7.2z" fill="#a18840"/><path d="M559.2 126.3l9.4-4.4l-9.4-1.6l-9.4 4.4z" fill="#804422"/><path d="M577.2 123.7l9.4-3.9l-9.4-1.7l-9.4 3.9z" fill="#793c1d"/><path d="M685 120.5l9.4-1.1l-9.5-2.6l-9.3 1.1z" fill="#4d1e08"/><path d="M720.8 124.1l9.4-0.2l-9.5-2.9l-9.3 0.2z" fill="#401b04"/><path d="M738.7 126.8l9.3 0.2l-9.4-3l-9.3-0.3z" fill="#381a03"/><path d="M434.3 160.3l9.2-7.7l-9.3-0.6l-9.2 7.6z" fill="#a59544"/><path d="M702.9 122l9.4-0.7l-9.5-2.6l-9.3 0.6z" fill="#461c06"/><path d="M303.5 233.7l8.8-11.6l-9.1 0.1l-8.8 11.6z" fill="#5dbb5a"/><path d="M836.5 152.1l9 2.5l-9.5-3.9l-9-2.5z" fill="#1b1600"/><path d="M320.7 222.6l8.9-11.2l-9.2 0l-8.8 11.2z" fill="#6eba59"/><path d="M337.9 212l9-10.6l-9.2-0.1l-8.9 10.6z" fill="#7db857"/><path d="M355.3 202.1l9-10.2l-9.2-0.2l-9 10.1z" fill="#8bb755"/><path d="M372.7 192.7l9.1-9.7l-9.2-0.4l-9.1 9.7z" fill="#98b553"/><path d="M460.9 154.4l9.3-7.3l-9.3-0.9l-9.3 7.2z" fill="#a68942"/><path d="M478.7 148.5l9.3-6.8l-9.3-1.1l-9.3 6.8z" fill="#a27d3d"/><path d="M496.6 143.2l9.3-6.4l-9.4-1.2l-9.3 6.3z" fill="#9d7038"/><path d="M514.4 138.4l9.4-5.9l-9.4-1.3l-9.4 5.8z" fill="#986533"/><path d="M532.3 134.2l9.4-5.4l-9.4-1.4l-9.4 5.3z" fill="#92592e"/><path d="M550.3 130.6l9.4-4.9l-9.5-1.5l-9.4 4.8z" fill="#8c4f29"/><path d="M568.2 127.6l9.4-4.4l-9.4-1.7l-9.4 4.4z" fill="#854523"/><path d="M586.2 125.2l9.4-4l-9.4-1.8l-9.5 3.9z" fill="#7e3d1e"/><path d="M604.2 123.3l9.4-3.5l-9.5-1.9l-9.4 3.4z" fill="#773519"/><path d="M622.1 122.1l9.5-3.1l-9.5-2.1l-9.4 3z" fill="#702f15"/><path d="M640.1 121.4l9.4-2.6l-9.4-2.3l-9.4 2.6z" fill="#682911"/><path d="M658.1 121.3l9.4-2.1l-9.5-2.5l-9.4 2.1z" fill="#61250d"/><path d="M676.1 121.7l9.3-1.6l-9.4-2.6l-9.4 1.6z" fill="#5a220a"/><path d="M765.5 132.8l9.3 0.7l-9.4-3.4l-9.3-0.7z" fill="#341b02"/><path d="M783.3 136.8l9.2 1.1l-9.4-3.5l-9.2-1.1z" fill="#2d1a01"/><path d="M801.1 141.3l9.1 1.6l-9.4-3.7l-9.1-1.6z" fill="#271901"/><path d="M818.8 146.4l9.1 2l-9.5-3.7l-9-2.1z" fill="#211800"/><path d="M390.2 183.8l9.2-9.2l-9.3-0.4l-9.1 9.2z" fill="#a4b350"/><path d="M443.2 160.9l9.2-7.8l-9.3-0.8l-9.3 7.7z" fill="#aa9646"/><path d="M694 122.8l9.4-1.2l-9.5-2.7l-9.4 1.1z" fill="#522008"/><path d="M747.7 129.4l9.3 0.2l-9.4-3.1l-9.3-0.3z" fill="#3b1c03"/><path d="M407.8 175.6l9.2-8.7l-9.3-0.6l-9.1 8.7z" fill="#afb04d"/><path d="M425.5 168l9.2-8.3l-9.3-0.7l-9.2 8.2z" fill="#ada44a"/><path d="M711.9 124.4l9.4-0.7l-9.5-2.9l-9.3 0.7z" fill="#4b1e06"/><path d="M729.8 126.6l9.3-0.2l-9.4-3l-9.3 0.2z" fill="#431d04"/><path d="M295.1 245.2l8.7-12.2l-9 0.1l-8.8 12.2z" fill="#5dc067"/><path d="M312.2 233.6l8.8-11.7l-9.1 0l-8.8 11.6z" fill="#65bf5c"/><path d="M559.3 132.1l9.4-5l-9.5-1.7l-9.4 4.9z" fill="#92502a"/><path d="M577.2 129.2l9.4-4.5l-9.4-1.9l-9.4 4.4z" fill="#8b4624"/><path d="M827.7 149.8l9.1 2l-9.4-3.9l-9.1-2.1z" fill="#231a00"/><path d="M845.3 155.7l9 2.4l-9.4-4.1l-9-2.5z" fill="#1e1900"/><path d="M452.1 161.6l9.2-7.8l-9.3-1l-9.3 7.8z" fill="#af9848"/><path d="M685.1 124l9.3-1.6l-9.4-2.8l-9.4 1.7z" fill="#5f240b"/><path d="M329.4 222.6l8.9-11.3l-9.1-0.1l-8.9 11.2z" fill="#76be5b"/><path d="M346.7 212.1l9-10.7l-9.2-0.3l-9 10.7z" fill="#85bd59"/><path d="M364.1 202.2l9-10.2l-9.2-0.4l-9 10.2z" fill="#94bc58"/><path d="M381.5 192.9l9.1-9.7l-9.2-0.5l-9.1 9.7z" fill="#a1ba55"/><path d="M434.4 168.6l9.2-8.3l-9.3-0.9l-9.3 8.3z" fill="#b3a54c"/><path d="M469.8 155.2l9.3-7.3l-9.3-1.1l-9.3 7.3z" fill="#ac8b44"/><path d="M487.7 149.4l9.3-6.8l-9.4-1.2l-9.3 6.8z" fill="#a77e3f"/><path d="M505.5 144.2l9.4-6.4l-9.4-1.3l-9.4 6.3z" fill="#a3723a"/><path d="M523.4 139.6l9.4-5.9l-9.4-1.5l-9.4 5.9z" fill="#9d6635"/><path d="M541.3 135.5l9.4-5.4l-9.4-1.6l-9.4 5.4z" fill="#985b2f"/><path d="M595.2 126.9l9.4-4.1l-9.4-2l-9.5 4z" fill="#843e1f"/><path d="M613.2 125.1l9.4-3.5l-9.5-2.2l-9.4 3.5z" fill="#7d361a"/><path d="M631.1 124l9.5-3.1l-9.5-2.3l-9.4 3z" fill="#753016"/><path d="M649.1 123.4l9.4-2.6l-9.4-2.4l-9.4 2.5z" fill="#6e2b12"/><path d="M667.1 123.4l9.4-2.1l-9.5-2.6l-9.4 2.1z" fill="#66270e"/><path d="M703 125.2l9.4-1.2l-9.5-2.9l-9.4 1.2z" fill="#572108"/><path d="M756.7 132.3l9.2 0.1l-9.4-3.3l-9.3-0.2z" fill="#3e1d03"/><path d="M774.5 135.8l9.2 0.6l-9.4-3.5l-9.2-0.7z" fill="#371d02"/><path d="M792.3 139.9l9.2 1.1l-9.4-3.7l-9.3-1.1z" fill="#301c01"/><path d="M810 144.6l9.1 1.5l-9.4-3.8l-9.1-1.6z" fill="#2a1b01"/><path d="M399.1 184.2l9.1-9.2l-9.2-0.6l-9.2 9.2z" fill="#adb853"/><path d="M738.8 129.3l9.3-0.3l-9.4-3.1l-9.3 0.2z" fill="#461e04"/><path d="M416.7 176.1l9.2-8.8l-9.3-0.7l-9.2 8.7z" fill="#b5b350"/><path d="M720.9 127l9.4-0.8l-9.5-3l-9.3 0.7z" fill="#4e2006"/><path d="M568.2 133.6l9.5-5l-9.5-1.9l-9.4 5z" fill="#97512b"/><path d="M286.7 257.3l8.7-12.8l-9 0l-8.7 12.7z" fill="#60c578"/><path d="M303.7 245.2l8.8-12.3l-9-0.1l-8.8 12.2z" fill="#5fc464"/><path d="M320.9 233.6l8.9-11.7l-9.2-0.2l-8.8 11.7z" fill="#6dc45e"/><path d="M443.2 169.3l9.3-8.3l-9.3-1l-9.3 8.3z" fill="#b8a74e"/><path d="M550.3 137l9.4-5.5l-9.4-1.8l-9.4 5.5z" fill="#9d5c31"/><path d="M586.2 130.9l9.4-4.6l-9.4-2l-9.4 4.5z" fill="#914826"/><path d="M694 126.5l9.4-1.7l-9.4-2.9l-9.4 1.6z" fill="#63250b"/><path d="M818.9 148l9.2 1.5l-9.4-4l-9.2-1.5z" fill="#2c1e01"/><path d="M836.6 153.4l9.1 2l-9.4-4.2l-9.1-2z" fill="#261d01"/><path d="M854.2 159.4l9 2.4l-9.4-4.3l-9-2.4z" fill="#201b00"/><path d="M461 162.5l9.3-7.9l-9.4-1.1l-9.3 7.8z" fill="#b5994a"/><path d="M676.1 125.8l9.4-2.2l-9.5-2.8l-9.4 2.2z" fill="#6b280e"/><path d="M338.1 222.7l9-11.3l-9.2-0.3l-8.9 11.2z" fill="#7ec35d"/><path d="M355.5 212.3l9-10.7l-9.2-0.4l-9 10.7z" fill="#8ec25c"/><path d="M372.9 202.6l9-10.3l-9.2-0.5l-9 10.2z" fill="#9cc05a"/><path d="M390.4 193.4l9.1-9.8l-9.3-0.7l-9.1 9.8z" fill="#aabf58"/><path d="M425.6 176.8l9.2-8.9l-9.3-0.8l-9.2 8.7z" fill="#bbb552"/><path d="M478.8 156.2l9.3-7.4l-9.4-1.2l-9.3 7.3z" fill="#b18c46"/><path d="M496.6 150.5l9.3-6.9l-9.3-1.3l-9.4 6.8z" fill="#ad7f41"/><path d="M514.5 145.4l9.3-6.4l-9.4-1.5l-9.3 6.4z" fill="#a8733c"/><path d="M532.4 140.9l9.4-5.9l-9.5-1.7l-9.3 5.9z" fill="#a36736"/><path d="M604.2 128.7l9.4-4.1l-9.4-2.2l-9.5 4z" fill="#8a3f20"/><path d="M622.2 127.1l9.4-3.6l-9.5-2.3l-9.4 3.5z" fill="#82381b"/><path d="M640.1 126.1l9.5-3.2l-9.5-2.4l-9.4 3z" fill="#7b3116"/><path d="M658.1 125.6l9.4-2.6l-9.4-2.6l-9.4 2.6z" fill="#732c12"/><path d="M712 127.8l9.3-1.2l-9.4-3.1l-9.4 1.2z" fill="#5a2309"/><path d="M747.8 132.2l9.3-0.3l-9.4-3.4l-9.4 0.3z" fill="#492005"/><path d="M765.6 135.3l9.3 0.1l-9.4-3.5l-9.3-0.2z" fill="#411f03"/><path d="M783.4 138.9l9.3 0.6l-9.4-3.6l-9.3-0.7z" fill="#3a1f02"/><path d="M801.2 143.2l9.2 1l-9.4-3.8l-9.2-1.1z" fill="#331e01"/><path d="M407.9 184.8l9.2-9.3l-9.3-0.8l-9.1 9.3z" fill="#b6bd55"/><path d="M729.9 129.7l9.3-0.8l-9.4-3.2l-9.3 0.8z" fill="#522106"/><path d="M559.3 138.6l9.4-5.5l-9.4-1.9l-9.4 5.4z" fill="#a35d32"/><path d="M577.2 135.4l9.5-5.1l-9.5-2l-9.4 5z" fill="#9d532c"/><path d="M278.4 269.9l8.6-13.3l-9-0.1l-8.6 13.3z" fill="#62c98b"/><path d="M295.4 257.3l8.7-12.9l-9.1-0.1l-8.7 12.8z" fill="#62c975"/><path d="M312.4 245.3l8.9-12.4l-9.1-0.2l-8.8 12.3z" fill="#62c961"/><path d="M329.6 233.8l8.9-11.8l-9.1-0.3l-8.9 11.7z" fill="#74c860"/><path d="M434.4 177.6l9.3-8.9l-9.4-1l-9.2 8.8z" fill="#c0b754"/><path d="M452.2 170.3l9.2-8.4l-9.3-1.2l-9.3 8.4z" fill="#bda950"/><path d="M541.3 142.4l9.4-6l-9.4-1.8l-9.4 6z" fill="#a96838"/><path d="M595.2 132.7l9.4-4.5l-9.4-2.2l-9.4 4.5z" fill="#974927"/><path d="M685.1 128.3l9.4-2.2l-9.5-3l-9.4 2.2z" fill="#702a0f"/><path d="M703 129.1l9.4-1.7l-9.4-3.1l-9.4 1.7z" fill="#67270c"/><path d="M810.1 146.6l9.2 1.1l-9.4-4l-9.2-1.1z" fill="#362101"/><path d="M827.8 151.6l9.2 1.5l-9.4-4.2l-9.2-1.5z" fill="#2f2001"/><path d="M845.5 157.2l9 1.9l-9.3-4.3l-9.1-2z" fill="#292001"/><path d="M863.1 163.3l9 2.4l-9.4-4.5l-9-2.4z" fill="#231e00"/><path d="M416.8 185.5l9.2-9.4l-9.3-0.9l-9.2 9.3z" fill="#bfc257"/><path d="M469.9 163.5l9.3-7.9l-9.4-1.3l-9.2 7.9z" fill="#ba9b4c"/><path d="M667.1 128l9.4-2.7l-9.4-2.8l-9.4 2.7z" fill="#792e13"/><path d="M721 130.6l9.3-1.3l-9.4-3.2l-9.4 1.2z" fill="#5e2509"/><path d="M346.9 223l9-11.3l-9.2-0.5l-9 11.3z" fill="#86c85f"/><path d="M364.3 212.7l9-10.8l-9.2-0.6l-9 10.8z" fill="#96c75e"/><path d="M381.7 203.1l9.1-10.4l-9.3-0.7l-9 10.3z" fill="#a5c55c"/><path d="M399.2 194l9.1-9.9l-9.2-0.8l-9.1 9.8z" fill="#b2c45a"/><path d="M487.7 157.4l9.3-7.4l-9.3-1.5l-9.4 7.4z" fill="#b78e48"/><path d="M505.6 151.8l9.3-6.9l-9.4-1.6l-9.3 6.9z" fill="#b28143"/><path d="M523.4 146.8l9.4-6.4l-9.4-1.7l-9.4 6.4z" fill="#ae743d"/><path d="M613.2 130.7l9.4-4.1l-9.4-2.4l-9.5 4.1z" fill="#904021"/><path d="M631.2 129.2l9.4-3.6l-9.5-2.5l-9.4 3.6z" fill="#88391c"/><path d="M649.2 128.3l9.4-3.1l-9.5-2.7l-9.4 3.1z" fill="#813317"/><path d="M738.9 132.6l9.3-0.8l-9.4-3.4l-9.4 0.8z" fill="#552307"/><path d="M756.7 135.3l9.3-0.4l-9.4-3.5l-9.3 0.3z" fill="#4d2205"/><path d="M774.6 138.5l9.2 0.1l-9.4-3.7l-9.2-0.2z" fill="#452203"/><path d="M792.4 142.3l9.2 0.5l-9.4-3.8l-9.2-0.6z" fill="#3d2102"/><path d="M270.1 283l8.6-13.9l-9 0l-8.6 13.8z" fill="#64ce9f"/><path d="M550.3 144.1l9.4-6l-9.4-2l-9.4 6z" fill="#af6a39"/><path d="M568.3 140.4l9.4-5.5l-9.5-2.2l-9.4 5.5z" fill="#a95f33"/><path d="M586.2 137.3l9.5-5.1l-9.5-2.2l-9.4 5z" fill="#a3542e"/><path d="M871.9 167.4l9 2.4l-9.3-4.7l-9-2.4z" fill="#252100"/><path d="M425.7 186.4l9.2-9.4l-9.3-1.1l-9.2 9.3z" fill="#c7c659"/><path d="M712 132l9.4-1.8l-9.4-3.3l-9.4 1.8z" fill="#6b280c"/><path d="M287 269.9l8.7-13.4l-9-0.1l-8.7 13.3z" fill="#64ce88"/><path d="M304 257.4l8.8-12.9l-9.1-0.2l-8.7 12.8z" fill="#64ce73"/><path d="M321.2 245.5l8.8-12.4l-9.1-0.4l-8.8 12.4z" fill="#69cd63"/><path d="M338.4 234.2l8.9-11.9l-9.2-0.5l-8.9 11.8z" fill="#7ccd63"/><path d="M408.1 194.8l9.1-9.9l-9.3-1l-9.1 9.8z" fill="#bbc95c"/><path d="M443.3 178.6l9.3-8.9l-9.4-1.3l-9.2 8.9z" fill="#c5b856"/><path d="M461.1 171.4l9.2-8.5l-9.3-1.3l-9.3 8.4z" fill="#c2aa52"/><path d="M532.4 148.4l9.4-6.5l-9.4-1.9l-9.4 6.5z" fill="#b4763f"/><path d="M604.2 134.8l9.4-4.6l-9.4-2.4l-9.4 4.5z" fill="#9c4b28"/><path d="M676.1 130.6l9.4-2.8l-9.4-2.9l-9.4 2.6z" fill="#7e2f13"/><path d="M694.1 131l9.4-2.3l-9.5-3.1l-9.4 2.2z" fill="#742b0f"/><path d="M729.9 133.6l9.4-1.4l-9.4-3.4l-9.4 1.3z" fill="#622609"/><path d="M801.3 145.8l9.2 0.5l-9.4-4l-9.2-0.6z" fill="#402402"/><path d="M819 150.3l9.2 1l-9.4-4.2l-9.2-1z" fill="#392402"/><path d="M836.7 155.4l9.1 1.5l-9.3-4.4l-9.2-1.5z" fill="#322301"/><path d="M854.3 161.1l9.1 1.9l-9.3-4.5l-9.1-1.9z" fill="#2b2301"/><path d="M478.8 164.7l9.3-7.9l-9.3-1.5l-9.3 7.9z" fill="#bf9d4e"/><path d="M658.2 130.7l9.4-3.2l-9.5-2.8l-9.4 3.2z" fill="#863518"/><path d="M355.7 223.4l8.9-11.3l-9.1-0.7l-9 11.4z" fill="#8dcc62"/><path d="M373.1 213.3l9-10.9l-9.2-0.7l-9 10.8z" fill="#9ecb60"/><path d="M390.5 203.7l9.1-10.4l-9.2-0.8l-9.1 10.3z" fill="#adca5e"/><path d="M496.7 158.7l9.3-7.5l-9.4-1.6l-9.3 7.5z" fill="#bc8f49"/><path d="M514.5 153.3l9.4-7l-9.4-1.8l-9.4 7z" fill="#b88344"/><path d="M622.2 132.8l9.4-4.1l-9.4-2.5l-9.5 4.1z" fill="#954222"/><path d="M640.2 131.5l9.4-3.7l-9.5-2.6l-9.4 3.6z" fill="#8e3b1d"/><path d="M747.8 135.7l9.4-0.8l-9.5-3.6l-9.3 0.8z" fill="#592507"/><path d="M765.7 138.5l9.3-0.4l-9.4-3.7l-9.3 0.3z" fill="#502405"/><path d="M783.5 141.8l9.3 0.1l-9.4-3.9l-9.3-0.1z" fill="#482403"/><path d="M261.9 296.7l8.5-14.4l-8.9-0.1l-8.6 14.3z" fill="#66d2b4"/><path d="M278.7 283.1l8.7-13.9l-9.1-0.2l-8.6 13.8z" fill="#66d29c"/><path d="M416.9 195.7l9.2-10l-9.3-1.1l-9.1 9.9z" fill="#c3ce5e"/><path d="M541.4 150.1l9.4-6.5l-9.5-2.1l-9.3 6.5z" fill="#b97841"/><path d="M559.3 146l9.4-6.1l-9.4-2.2l-9.4 6.1z" fill="#b46c3b"/><path d="M577.3 142.4l9.4-5.6l-9.5-2.3l-9.4 5.5z" fill="#af6035"/><path d="M595.2 139.4l9.5-5.1l-9.5-2.5l-9.4 5.1z" fill="#a9562f"/><path d="M721 135l9.4-1.9l-9.4-3.4l-9.4 1.8z" fill="#6f2a0c"/><path d="M863.2 165.3l9.1 1.9l-9.4-4.8l-9-1.9z" fill="#2e2601"/><path d="M880.7 171.7l9.1 2.4l-9.4-4.9l-9-2.4z" fill="#282500"/><path d="M434.6 187.4l9.2-9.4l-9.4-1.3l-9.1 9.4z" fill="#ccc85b"/><path d="M703.1 133.8l9.4-2.3l-9.5-3.3l-9.4 2.3z" fill="#782d10"/><path d="M295.7 270.1l8.7-13.4l-9.1-0.3l-8.7 13.3z" fill="#66d285"/><path d="M312.7 257.7l8.8-12.9l-9.1-0.4l-8.7 12.8z" fill="#66d270"/><path d="M329.9 245.9l8.8-12.4l-9.1-0.6l-8.8 12.4z" fill="#71d266"/><path d="M347.1 234.7l8.9-11.9l-9.1-0.7l-8.9 11.9z" fill="#84d165"/><path d="M399.4 204.6l9.1-10.5l-9.3-1l-9.1 10.4z" fill="#b5cf61"/><path d="M452.3 179.7l9.2-8.9l-9.4-1.4l-9.2 8.9z" fill="#caba58"/><path d="M470 172.6l9.3-8.5l-9.4-1.5l-9.3 8.5z" fill="#c8ac54"/><path d="M523.5 154.9l9.3-7.1l-9.4-1.9l-9.3 7z" fill="#be8446"/><path d="M613.2 137l9.4-4.7l-9.4-2.5l-9.4 4.6z" fill="#a24c29"/><path d="M667.1 133.3l9.5-3.2l-9.5-3l-9.4 3.2z" fill="#8b3618"/><path d="M685.1 133.3l9.4-2.8l-9.4-3.1l-9.4 2.7z" fill="#823114"/><path d="M738.9 136.7l9.4-1.4l-9.5-3.6l-9.3 1.3z" fill="#652909"/><path d="M792.4 145.4l9.3 0l-9.4-4l-9.2-0.1z" fill="#4b2704"/><path d="M810.2 149.5l9.2 0.5l-9.3-4.2l-9.3-0.6z" fill="#432702"/><path d="M827.9 154.2l9.2 0.9l-9.3-4.4l-9.2-1z" fill="#3c2702"/><path d="M845.6 159.4l9.1 1.4l-9.3-4.5l-9.2-1.5z" fill="#352601"/><path d="M487.8 166.1l9.3-8l-9.4-1.6l-9.3 7.9z" fill="#c59f50"/><path d="M649.2 134l9.4-3.7l-9.5-2.9l-9.4 3.7z" fill="#943c1e"/><path d="M364.5 224.1l8.9-11.5l-9.2-0.8l-8.9 11.4z" fill="#95d164"/><path d="M381.9 214l9-10.9l-9.2-0.9l-9 10.9z" fill="#a6d062"/><path d="M505.6 160.2l9.3-7.5l-9.3-1.8l-9.4 7.5z" fill="#c2914b"/><path d="M631.2 135.2l9.4-4.2l-9.4-2.7l-9.5 4.1z" fill="#9b4423"/><path d="M756.8 139l9.3-0.9l-9.4-3.7l-9.3 0.8z" fill="#5c2807"/><path d="M774.6 141.9l9.3-0.4l-9.4-3.9l-9.3 0.4z" fill="#532705"/><path d="M270.5 296.9l8.6-14.5l-9-0.3l-8.6 14.4z" fill="#68d6b1"/><path d="M287.4 283.4l8.6-14l-9-0.4l-8.6 13.9z" fill="#68d699"/><path d="M408.2 205.6l9.1-10.6l-9.2-1.1l-9.1 10.4z" fill="#bbd262"/><path d="M425.8 196.8l9.2-10l-9.3-1.3l-9.2 9.9z" fill="#cad160"/><path d="M532.5 156.6l9.3-7l-9.4-2.1l-9.4 7z" fill="#c38648"/><path d="M550.4 152l9.4-6.6l-9.5-2.2l-9.4 6.6z" fill="#bf7a42"/><path d="M568.3 148l9.4-6.2l-9.4-2.3l-9.4 6.1z" fill="#ba6d3c"/><path d="M586.3 144.5l9.4-5.6l-9.5-2.5l-9.4 5.6z" fill="#b56236"/><path d="M604.2 141.7l9.5-5.2l-9.5-2.6l-9.4 5.1z" fill="#af5830"/><path d="M712.1 136.9l9.3-2.4l-9.4-3.4l-9.4 2.3z" fill="#7c2f10"/><path d="M730 138.1l9.4-1.8l-9.5-3.6l-9.3 1.8z" fill="#722d0d"/><path d="M854.5 163.6l9.1 1.4l-9.3-4.8l-9.2-1.4z" fill="#372a01"/><path d="M872 169.6l9.1 1.8l-9.3-4.8l-9.1-1.9z" fill="#312901"/><path d="M443.5 188.6l9.2-9.5l-9.4-1.4l-9.2 9.5z" fill="#d0ca5d"/><path d="M694.1 136.2l9.4-2.8l-9.4-3.3l-9.4 2.7z" fill="#863314"/><path d="M304.3 270.5l8.8-13.5l-9.1-0.5l-8.7 13.4z" fill="#68d582"/><path d="M321.4 258.2l8.8-13l-9.1-0.6l-8.8 12.9z" fill="#68d56c"/><path d="M338.6 246.5l8.9-12.5l-9.2-0.7l-8.8 12.4z" fill="#77d467"/><path d="M355.9 235.4l8.9-12l-9.1-0.9l-9 12z" fill="#8ad466"/><path d="M390.7 214.9l9.1-11l-9.3-1.1l-9 11z" fill="#acd364"/><path d="M461.2 181.1l9.2-9.1l-9.3-1.5l-9.3 9z" fill="#cfbc5a"/><path d="M478.9 174.1l9.3-8.6l-9.4-1.7l-9.2 8.5z" fill="#cdae56"/><path d="M514.6 161.9l9.3-7.6l-9.4-1.9l-9.3 7.5z" fill="#c7934d"/><path d="M622.2 139.4l9.4-4.7l-9.4-2.8l-9.4 4.7z" fill="#a84e2a"/><path d="M658.2 136.6l9.4-3.7l-9.5-3.1l-9.4 3.7z" fill="#993e1e"/><path d="M676.1 136.1l9.5-3.3l-9.5-3.1l-9.4 3.2z" fill="#8f3819"/><path d="M747.9 140l9.3-1.4l-9.4-3.8l-9.3 1.4z" fill="#692b0a"/><path d="M783.6 145.5l9.3-0.5l-9.4-4.1l-9.3 0.5z" fill="#572a05"/><path d="M801.4 149.1l9.2 0l-9.3-4.2l-9.3-0.1z" fill="#4e2a04"/><path d="M819.1 153.4l9.2 0.4l-9.3-4.4l-9.2-0.5z" fill="#462a03"/><path d="M836.8 158.2l9.2 0.9l-9.4-4.6l-9.1-0.9z" fill="#3e2a02"/><path d="M496.7 167.7l9.3-8.1l-9.3-1.8l-9.3 8z" fill="#caa152"/><path d="M640.2 137.7l9.4-4.2l-9.4-2.9l-9.5 4.2z" fill="#a14624"/><path d="M373.3 224.8l9-11.5l-9.3-0.9l-8.9 11.4z" fill="#9bd365"/><path d="M765.7 142.4l9.4-0.9l-9.4-3.9l-9.4 0.9z" fill="#602a07"/><path d="M279.1 297.2l8.6-14.5l-9-0.5l-8.6 14.5z" fill="#69d7ad"/><path d="M296 283.8l8.7-14l-9.1-0.6l-8.6 14z" fill="#69d795"/><path d="M399.5 215.9l9.1-11l-9.2-1.2l-9.1 11z" fill="#b1d464"/><path d="M417.1 206.7l9.1-10.6l-9.3-1.3l-9.1 10.5z" fill="#c0d462"/><path d="M434.7 198.1l9.2-10.1l-9.3-1.5l-9.2 10z" fill="#cfd360"/><path d="M523.5 163.7l9.4-7.6l-9.4-2.1l-9.4 7.5z" fill="#cd954f"/><path d="M541.4 158.6l9.4-7.1l-9.4-2.3l-9.4 7.1z" fill="#c98849"/><path d="M559.3 154.1l9.4-6.7l-9.4-2.3l-9.4 6.6z" fill="#c57c44"/><path d="M577.3 150.2l9.4-6.2l-9.4-2.5l-9.4 6.1z" fill="#c0703d"/><path d="M595.3 146.8l9.4-5.7l-9.5-2.6l-9.4 5.6z" fill="#bb6437"/><path d="M613.2 144.1l9.5-5.2l-9.5-2.8l-9.4 5.2z" fill="#b55a31"/><path d="M703.1 139.3l9.4-2.9l-9.4-3.5l-9.4 2.8z" fill="#8a3515"/><path d="M721 140.1l9.4-2.4l-9.4-3.6l-9.4 2.3z" fill="#803211"/><path d="M739 141.5l9.3-1.9l-9.4-3.8l-9.4 1.8z" fill="#762f0d"/><path d="M845.7 162.4l9.2 0.9l-9.4-4.8l-9.1-0.9z" fill="#412d02"/><path d="M863.3 167.9l9.1 1.4l-9.3-4.9l-9.1-1.4z" fill="#3a2d01"/><path d="M452.4 190l9.2-9.6l-9.4-1.6l-9.2 9.6z" fill="#d2c95e"/><path d="M505.7 169.4l9.3-8.1l-9.4-2l-9.3 8.1z" fill="#cfa254"/><path d="M631.2 142l9.4-4.8l-9.4-2.9l-9.4 4.7z" fill="#ae502b"/><path d="M685.1 139.1l9.5-3.4l-9.5-3.3l-9.4 3.3z" fill="#933a1a"/><path d="M313 271l8.8-13.5l-9.1-0.7l-8.7 13.5z" fill="#69d77e"/><path d="M330.2 258.8l8.8-13l-9.1-0.8l-8.8 13z" fill="#68d668"/><path d="M347.4 247.2l8.9-12.5l-9.2-0.9l-8.9 12.5z" fill="#7cd668"/><path d="M364.7 236.2l8.9-12l-9.2-1l-8.9 11.9z" fill="#8fd567"/><path d="M382.1 225.8l9-11.6l-9.2-1.1l-9 11.5z" fill="#a0d566"/><path d="M470.1 182.5l9.2-9l-9.3-1.8l-9.3 9.1z" fill="#d1bb5b"/><path d="M487.9 175.7l9.2-8.6l-9.3-1.9l-9.3 8.6z" fill="#d1af57"/><path d="M649.2 140.4l9.4-4.3l-9.4-3l-9.5 4.2z" fill="#a64825"/><path d="M667.2 139.4l9.4-3.8l-9.5-3.2l-9.4 3.8z" fill="#9d401f"/><path d="M756.8 143.5l9.4-1.4l-9.4-4l-9.4 1.4z" fill="#6c2e0a"/><path d="M774.7 146.1l9.3-1l-9.4-4.1l-9.3 0.9z" fill="#632d07"/><path d="M792.5 149.3l9.3-0.5l-9.4-4.3l-9.3 0.5z" fill="#5a2d05"/><path d="M810.3 153l9.2 0l-9.3-4.4l-9.3 0z" fill="#512d04"/><path d="M828 157.4l9.2 0.4l-9.3-4.5l-9.2-0.5z" fill="#492d03"/><path d="M514.6 171.3l9.4-8.2l-9.4-2.1l-9.4 8.1z" fill="#d2a254"/><path d="M622.2 146.7l9.4-5.2l-9.4-3l-9.4 5.2z" fill="#bb5c32"/><path d="M287.7 297.7l8.7-14.6l-9.1-0.6l-8.6 14.5z" fill="#6ad9a9"/><path d="M304.7 284.4l8.7-14.1l-9.1-0.7l-8.7 14z" fill="#6ad891"/><path d="M373.5 237.2l9-12.1l-9.3-1.2l-8.9 12.1z" fill="#94d768"/><path d="M390.9 226.9l9-11.6l-9.2-1.3l-9 11.5z" fill="#a5d666"/><path d="M408.4 217.2l9.1-11.2l-9.3-1.3l-9.1 11z" fill="#b6d665"/><path d="M426 208l9.1-10.6l-9.3-1.5l-9.1 10.6z" fill="#c5d563"/><path d="M443.6 199.5l9.2-10.1l-9.4-1.7l-9.1 10.1z" fill="#d4d561"/><path d="M496.8 177.4l9.3-8.6l-9.4-2l-9.3 8.6z" fill="#d3ae58"/><path d="M532.5 165.7l9.4-7.7l-9.5-2.3l-9.3 7.7z" fill="#d19650"/><path d="M550.4 160.7l9.4-7.2l-9.4-2.4l-9.4 7.2z" fill="#cf8a4b"/><path d="M568.3 156.3l9.4-6.7l-9.4-2.5l-9.4 6.6z" fill="#cb7e45"/><path d="M586.3 152.5l9.4-6.2l-9.4-2.7l-9.5 6.2z" fill="#c6723f"/><path d="M604.2 149.3l9.5-5.7l-9.5-2.8l-9.4 5.7z" fill="#c16638"/><path d="M640.2 144.7l9.4-4.8l-9.4-3.1l-9.4 4.7z" fill="#b3522c"/><path d="M694.1 142.2l9.4-3.4l-9.4-3.5l-9.4 3.3z" fill="#973d1a"/><path d="M712.1 142.5l9.4-2.8l-9.5-3.7l-9.4 2.8z" fill="#8e3815"/><path d="M730 143.5l9.4-2.4l-9.4-3.9l-9.4 2.4z" fill="#843511"/><path d="M747.9 145l9.4-1.9l-9.4-4l-9.4 1.9z" fill="#7a320d"/><path d="M765.8 147.2l9.3-1.5l-9.4-4.2l-9.3 1.5z" fill="#70310a"/><path d="M836.9 161.7l9.2 0.4l-9.3-4.8l-9.2-0.5z" fill="#4c3103"/><path d="M854.6 166.8l9.1 0.8l-9.3-4.9l-9.2-0.9z" fill="#443102"/><path d="M461.3 191.5l9.2-9.6l-9.3-1.7l-9.3 9.5z" fill="#d4c85e"/><path d="M676.2 142.4l9.4-3.8l-9.5-3.4l-9.4 3.8z" fill="#a14220"/><path d="M321.7 271.7l8.8-13.6l-9.1-0.8l-8.7 13.5z" fill="#69d87a"/><path d="M338.9 259.6l8.8-13.1l-9.1-0.9l-8.8 13z" fill="#6ed869"/><path d="M356.1 248.1l9-12.6l-9.2-1l-8.9 12.5z" fill="#81d768"/><path d="M479 184.2l9.3-9.1l-9.4-1.9l-9.2 9.1z" fill="#d3bb5b"/><path d="M658.2 143.3l9.4-4.3l-9.4-3.3l-9.5 4.3z" fill="#aa4a25"/><path d="M783.6 149.9l9.3-1l-9.3-4.3l-9.4 1z" fill="#663008"/><path d="M801.4 153.2l9.3-0.5l-9.3-4.5l-9.3 0.5z" fill="#5d3006"/><path d="M819.2 157.1l9.2 0l-9.3-4.6l-9.3 0z" fill="#553004"/><path d="M382.3 238.4l9-12.2l-9.2-1.3l-9 12.1z" fill="#99d868"/><path d="M505.8 179.4l9.3-8.7l-9.4-2.2l-9.3 8.6z" fill="#d5ae58"/><path d="M631.2 149.5l9.4-5.3l-9.4-3.1l-9.4 5.2z" fill="#bf5e33"/><path d="M756.9 148.8l9.3-2l-9.4-4.2l-9.3 1.9z" fill="#7d350e"/><path d="M523.6 173.3l9.3-8.2l-9.4-2.3l-9.3 8.2z" fill="#d4a254"/><path d="M613.2 152l9.5-5.8l-9.5-3l-9.4 5.7z" fill="#c76939"/><path d="M296.4 298.4l8.6-14.7l-9-0.8l-8.6 14.6z" fill="#6adaa5"/><path d="M313.4 285.2l8.7-14.2l-9.1-0.9l-8.7 14.1z" fill="#6ada8d"/><path d="M364.9 249.2l9-12.7l-9.2-1.2l-8.9 12.6z" fill="#86d969"/><path d="M399.7 228.2l9.1-11.7l-9.3-1.5l-9 11.6z" fill="#aad867"/><path d="M417.3 218.5l9.1-11.1l-9.3-1.6l-9.1 11.1z" fill="#bad866"/><path d="M434.8 209.5l9.2-10.7l-9.3-1.6l-9.2 10.6z" fill="#cad764"/><path d="M452.5 201.1l9.2-10.2l-9.3-1.8l-9.2 10.1z" fill="#d7d562"/><path d="M487.9 186l9.3-9.2l-9.3-2l-9.3 9.1z" fill="#d5bb5c"/><path d="M541.5 167.9l9.3-7.8l-9.4-2.4l-9.3 7.7z" fill="#d39650"/><path d="M559.4 163l9.4-7.2l-9.5-2.6l-9.3 7.2z" fill="#d28b4b"/><path d="M577.3 158.7l9.4-6.7l-9.4-2.7l-9.4 6.7z" fill="#d08046"/><path d="M595.3 155.1l9.4-6.3l-9.5-2.9l-9.4 6.3z" fill="#cc7440"/><path d="M649.2 147.6l9.4-4.8l-9.4-3.3l-9.4 4.8z" fill="#b7552c"/><path d="M685.1 145.6l9.5-3.9l-9.5-3.5l-9.4 3.8z" fill="#a54520"/><path d="M703.1 145.5l9.4-3.4l-9.4-3.7l-9.4 3.3z" fill="#9b3f1b"/><path d="M721.1 146l9.4-2.9l-9.5-3.9l-9.4 2.9z" fill="#913b16"/><path d="M739 147.1l9.4-2.5l-9.5-4l-9.3 2.4z" fill="#873811"/><path d="M774.7 151l9.4-1.5l-9.4-4.3l-9.4 1.4z" fill="#74340a"/><path d="M828.1 161.4l9.2-0.1l-9.3-4.8l-9.2 0.1z" fill="#583404"/><path d="M845.8 166.1l9.2 0.4l-9.3-5l-9.2-0.4z" fill="#4f3503"/><path d="M470.2 193.3l9.2-9.7l-9.3-2l-9.2 9.7z" fill="#d6c75f"/><path d="M667.2 146.3l9.4-4.3l-9.4-3.5l-9.5 4.3z" fill="#ae4c26"/><path d="M330.5 272.6l8.8-13.7l-9.2-1l-8.7 13.6z" fill="#6ad976"/><path d="M347.7 260.6l8.8-13.2l-9.1-1.1l-8.9 13.1z" fill="#73d96a"/><path d="M792.6 153.9l9.3-1l-9.4-4.5l-9.3 1z" fill="#6a3408"/><path d="M810.4 157.4l9.2-0.6l-9.3-4.7l-9.3 0.6z" fill="#613406"/><path d="M373.7 250.4l9-12.7l-9.2-1.4l-9 12.7z" fill="#8bda6a"/><path d="M391.1 239.7l9-12.2l-9.2-1.5l-9 12.1z" fill="#9dda69"/><path d="M496.9 188l9.3-9.2l-9.4-2.3l-9.3 9.2z" fill="#d7ba5c"/><path d="M514.7 181.5l9.3-8.8l-9.4-2.3l-9.3 8.7z" fill="#d7ae59"/><path d="M622.2 154.8l9.5-5.8l-9.5-3.2l-9.4 5.8z" fill="#cb6b3b"/><path d="M640.2 152.5l9.4-5.4l-9.4-3.3l-9.4 5.3z" fill="#c36134"/><path d="M747.9 150.8l9.4-2.5l-9.4-4.2l-9.4 2.5z" fill="#8b3b12"/><path d="M765.8 152.7l9.4-2.1l-9.4-4.3l-9.4 1.9z" fill="#81390e"/><path d="M479.1 195.1l9.3-9.7l-9.4-2.1l-9.2 9.7z" fill="#d8c75f"/><path d="M532.6 175.6l9.3-8.3l-9.4-2.5l-9.3 8.2z" fill="#d6a255"/><path d="M604.3 157.8l9.4-6.3l-9.5-3.1l-9.4 6.3z" fill="#d27741"/><path d="M658.2 150.7l9.4-4.9l-9.4-3.4l-9.5 4.8z" fill="#bb572d"/><path d="M305.1 299.2l8.6-14.8l-9-0.9l-8.7 14.7z" fill="#6bdba1"/><path d="M322.1 286.1l8.7-14.2l-9.1-1.1l-8.7 14.2z" fill="#6bdb89"/><path d="M356.4 261.7l8.9-13.2l-9.2-1.3l-8.8 13.2z" fill="#77da6a"/><path d="M408.6 229.6l9-11.7l-9.2-1.6l-9.1 11.6z" fill="#aed968"/><path d="M426.1 220.1l9.1-11.2l-9.3-1.8l-9.1 11.2z" fill="#bfd966"/><path d="M443.7 211.2l9.2-10.8l-9.3-1.8l-9.2 10.7z" fill="#ced964"/><path d="M461.4 202.9l9.2-10.3l-9.3-2l-9.2 10.2z" fill="#d8d462"/><path d="M550.4 170.2l9.4-7.8l-9.4-2.6l-9.4 7.7z" fill="#d59750"/><path d="M568.4 165.5l9.4-7.3l-9.5-2.8l-9.4 7.3z" fill="#d48c4c"/><path d="M586.3 161.3l9.4-6.8l-9.4-2.9l-9.4 6.8z" fill="#d38147"/><path d="M676.2 149.5l9.4-4.4l-9.4-3.6l-9.5 4.4z" fill="#b24f27"/><path d="M694.1 149l9.5-3.9l-9.5-3.8l-9.4 3.9z" fill="#a94821"/><path d="M712.1 149l9.4-3.4l-9.4-4l-9.4 3.4z" fill="#9f421b"/><path d="M730 149.6l9.4-3l-9.4-4l-9.4 2.9z" fill="#953e16"/><path d="M783.7 155.1l9.3-1.6l-9.4-4.5l-9.3 1.5z" fill="#77380b"/><path d="M819.3 161.7l9.2-0.6l-9.3-4.9l-9.3 0.6z" fill="#643806"/><path d="M837 165.9l9.2-0.1l-9.3-5l-9.2 0.1z" fill="#5b3904"/><path d="M339.2 273.6l8.8-13.7l-9.1-1.2l-8.8 13.7z" fill="#6bdb73"/><path d="M801.5 158.1l9.3-1.1l-9.4-4.7l-9.3 1.1z" fill="#6d3808"/><path d="M488 197.2l9.3-9.8l-9.4-2.3l-9.2 9.8z" fill="#dac760"/><path d="M649.2 155.6l9.4-5.4l-9.4-3.5l-9.4 5.4z" fill="#c86335"/><path d="M365.2 263l8.9-13.3l-9.2-1.4l-8.9 13.2z" fill="#7cdc6b"/><path d="M382.5 251.8l9-12.8l-9.2-1.5l-9 12.7z" fill="#8fdc6a"/><path d="M399.9 241.2l9.1-12.3l-9.3-1.6l-9 12.2z" fill="#a1db69"/><path d="M470.3 204.8l9.2-10.3l-9.3-2.1l-9.2 10.2z" fill="#dad463"/><path d="M505.8 190.2l9.3-9.3l-9.4-2.4l-9.2 9.2z" fill="#d9bb5d"/><path d="M523.7 183.8l9.3-8.8l-9.4-2.6l-9.3 8.8z" fill="#d9ae59"/><path d="M613.3 160.7l9.4-6.4l-9.5-3.2l-9.4 6.3z" fill="#d37841"/><path d="M631.2 157.8l9.5-5.8l-9.5-3.4l-9.4 5.8z" fill="#cf6e3c"/><path d="M667.2 154l9.4-4.9l-9.4-3.7l-9.5 4.9z" fill="#bf5a2e"/><path d="M739 153.4l9.4-3l-9.4-4.2l-9.4 2.9z" fill="#994217"/><path d="M756.9 154.8l9.4-2.6l-9.4-4.3l-9.4 2.4z" fill="#8f3f12"/><path d="M774.8 156.7l9.3-2l-9.4-4.6l-9.3 2z" fill="#853d0e"/><path d="M541.5 178l9.4-8.4l-9.4-2.6l-9.4 8.2z" fill="#d8a355"/><path d="M595.3 164.1l9.4-6.9l-9.4-3l-9.4 6.8z" fill="#d68247"/><path d="M313.8 300.2l8.6-14.8l-9-1.1l-8.7 14.7z" fill="#6cdd9d"/><path d="M330.8 287.2l8.8-14.3l-9.2-1.2l-8.7 14.2z" fill="#6cdc86"/><path d="M348 274.8l8.8-13.8l-9.2-1.3l-8.8 13.7z" fill="#6bdc6f"/><path d="M417.4 231.2l9.1-11.8l-9.3-1.8l-9 11.8z" fill="#b3db68"/><path d="M435 221.8l9.1-11.3l-9.3-1.9l-9.1 11.2z" fill="#c3db67"/><path d="M452.6 213l9.2-10.8l-9.3-2l-9.2 10.7z" fill="#d2da65"/><path d="M559.4 172.7l9.4-7.8l-9.4-2.8l-9.4 7.8z" fill="#d89751"/><path d="M577.3 168.1l9.4-7.3l-9.4-3l-9.4 7.3z" fill="#d78c4c"/><path d="M685.1 152.9l9.5-4.4l-9.5-3.8l-9.4 4.4z" fill="#b75228"/><path d="M703.1 152.5l9.4-4l-9.4-3.9l-9.4 3.9z" fill="#ad4b21"/><path d="M721.1 152.7l9.4-3.5l-9.5-4.1l-9.4 3.4z" fill="#a3461c"/><path d="M792.6 159.3l9.3-1.6l-9.3-4.7l-9.4 1.5z" fill="#7b3c0b"/><path d="M810.4 162.5l9.3-1.2l-9.4-4.8l-9.3 1z" fill="#713c08"/><path d="M828.1 166.2l9.3-0.6l-9.3-5.1l-9.3 0.6z" fill="#673c06"/><path d="M479.2 206.9l9.3-10.3l-9.4-2.4l-9.2 10.3z" fill="#dcd463"/><path d="M658.2 158.9l9.4-5.4l-9.4-3.7l-9.4 5.4z" fill="#cc6636"/><path d="M497 199.4l9.2-9.8l-9.3-2.5l-9.3 9.8z" fill="#dcc760"/><path d="M640.2 161l9.4-5.9l-9.4-3.5l-9.4 5.9z" fill="#d16f3c"/><path d="M339.5 288.4l8.8-14.3l-9.1-1.4l-8.8 14.3z" fill="#6cde82"/><path d="M356.7 276.1l8.9-13.8l-9.2-1.5l-8.8 13.8z" fill="#6cdd6c"/><path d="M374 264.4l8.9-13.3l-9.2-1.6l-8.9 13.3z" fill="#80dd6c"/><path d="M391.4 253.4l8.9-12.9l-9.2-1.7l-9 12.8z" fill="#93dd6b"/><path d="M408.8 242.9l9-12.4l-9.2-1.8l-9 12.3z" fill="#a5dd6a"/><path d="M461.5 215l9.2-10.8l-9.3-2.2l-9.2 10.7z" fill="#d6dc65"/><path d="M514.8 192.5l9.3-9.3l-9.4-2.6l-9.3 9.3z" fill="#dbbb5d"/><path d="M532.6 186.2l9.4-8.8l-9.4-2.7l-9.4 8.8z" fill="#dbaf59"/><path d="M604.3 167l9.4-6.9l-9.4-3.2l-9.5 6.8z" fill="#d78347"/><path d="M622.2 163.7l9.5-6.4l-9.5-3.4l-9.4 6.4z" fill="#d47941"/><path d="M676.2 157.4l9.4-4.9l-9.4-3.9l-9.5 5z" fill="#c45d2f"/><path d="M730 156.5l9.4-3.5l-9.4-4.3l-9.4 3.5z" fill="#a74a1c"/><path d="M747.9 157.4l9.4-3l-9.4-4.5l-9.4 3z" fill="#9d4617"/><path d="M765.8 158.9l9.4-2.6l-9.4-4.5l-9.4 2.5z" fill="#934312"/><path d="M783.7 161l9.3-2.1l-9.3-4.7l-9.4 2z" fill="#88410e"/><path d="M801.5 163.7l9.3-1.6l-9.3-4.9l-9.4 1.6z" fill="#7e410b"/><path d="M550.5 180.5l9.4-8.3l-9.5-2.9l-9.3 8.3z" fill="#daa355"/><path d="M586.3 170.9l9.4-7.3l-9.4-3.2l-9.4 7.4z" fill="#d98d4c"/><path d="M322.5 301.3l8.7-14.9l-9.1-1.2l-8.7 14.8z" fill="#6cde9a"/><path d="M426.3 233l9.1-11.9l-9.3-1.9l-9.1 11.8z" fill="#b6dd69"/><path d="M443.9 223.7l9.1-11.3l-9.3-2.1l-9.1 11.3z" fill="#c7dc67"/><path d="M568.4 175.4l9.4-7.8l-9.4-3l-9.4 7.8z" fill="#da9851"/><path d="M694.1 156.5l9.5-4.5l-9.5-3.9l-9.4 4.4z" fill="#bb5528"/><path d="M712.1 156.2l9.4-4l-9.4-4.1l-9.4 4z" fill="#b14f22"/><path d="M819.3 167l9.3-1.1l-9.4-5.1l-9.3 1.1z" fill="#744108"/><path d="M348.3 289.8l8.8-14.4l-9.2-1.5l-8.7 14.3z" fill="#6ddf7f"/><path d="M470.4 217.2l9.2-10.9l-9.3-2.4l-9.2 10.8z" fill="#dade66"/><path d="M488.2 209.2l9.2-10.4l-9.4-2.5l-9.2 10.3z" fill="#ded463"/><path d="M649.2 164.4l9.4-6l-9.4-3.7l-9.4 5.9z" fill="#d2713c"/><path d="M667.2 162.5l9.4-5.5l-9.4-3.9l-9.5 5.4z" fill="#ce6936"/><path d="M792.6 165.5l9.4-2.2l-9.4-4.9l-9.4 2.1z" fill="#8c460f"/><path d="M505.9 201.8l9.3-9.9l-9.4-2.6l-9.2 9.8z" fill="#ddc861"/><path d="M631.2 167l9.5-6.5l-9.5-3.6l-9.4 6.5z" fill="#d57a41"/><path d="M331.2 302.6l8.7-14.9l-9.1-1.4l-8.7 14.8z" fill="#6ddf96"/><path d="M365.5 277.6l8.9-13.9l-9.2-1.6l-8.9 13.8z" fill="#70df6d"/><path d="M382.8 266.1l8.9-13.4l-9.2-1.8l-8.9 13.3z" fill="#84df6c"/><path d="M400.2 255.1l9-12.9l-9.3-1.9l-8.9 12.8z" fill="#97de6b"/><path d="M417.6 244.7l9.1-12.4l-9.3-2l-9 12.3z" fill="#a9de6a"/><path d="M452.8 225.7l9.1-11.3l-9.3-2.3l-9.1 11.3z" fill="#cade68"/><path d="M523.7 195l9.3-9.4l-9.3-2.7l-9.3 9.3z" fill="#ddbc5d"/><path d="M541.6 188.9l9.3-8.9l-9.4-2.9l-9.3 8.8z" fill="#ddb05a"/><path d="M595.3 173.9l9.4-7.4l-9.4-3.3l-9.4 7.4z" fill="#da8e4c"/><path d="M613.3 170.2l9.4-7l-9.4-3.4l-9.5 6.9z" fill="#d88447"/><path d="M685.1 161.1l9.5-5l-9.5-4.1l-9.4 5z" fill="#c8612f"/><path d="M721 160.1l9.5-4l-9.4-4.3l-9.5 4z" fill="#b55322"/><path d="M739 160.6l9.4-3.6l-9.4-4.5l-9.4 3.6z" fill="#ab4e1d"/><path d="M756.9 161.6l9.4-3.1l-9.4-4.6l-9.4 3z" fill="#a14a17"/><path d="M774.8 163.2l9.3-2.6l-9.3-4.8l-9.4 2.6z" fill="#974813"/><path d="M810.4 168.3l9.3-1.7l-9.3-5l-9.3 1.6z" fill="#82460b"/><path d="M559.5 183.3l9.3-8.4l-9.4-3.1l-9.3 8.4z" fill="#dda456"/><path d="M577.4 178.3l9.4-7.9l-9.5-3.2l-9.3 7.9z" fill="#dc9951"/><path d="M435.2 234.9l9.1-11.9l-9.3-2.1l-9.1 11.8z" fill="#bade69"/><path d="M703.1 160.3l9.4-4.5l-9.4-4.2l-9.4 4.5z" fill="#bf5929"/><path d="M339.9 304.1l8.7-15l-9.1-1.6l-8.7 14.9z" fill="#6de093"/><path d="M357 291.4l8.9-14.5l-9.2-1.7l-8.8 14.4z" fill="#6de07d"/><path d="M461.7 228l9.1-11.5l-9.3-2.4l-9.1 11.4z" fill="#cde068"/><path d="M479.4 219.5l9.2-10.9l-9.4-2.6l-9.2 10.9z" fill="#dde066"/><path d="M497.1 211.7l9.2-10.5l-9.3-2.7l-9.3 10.4z" fill="#dfd564"/><path d="M514.9 204.4l9.2-10l-9.3-2.8l-9.3 9.9z" fill="#dfc861"/><path d="M622.2 173.5l9.5-7l-9.5-3.7l-9.4 7z" fill="#d88547"/><path d="M640.2 170.4l9.4-6.5l-9.4-3.8l-9.4 6.5z" fill="#d67c41"/><path d="M658.2 168l9.4-6l-9.4-4l-9.5 6z" fill="#d3733c"/><path d="M676.1 166.1l9.5-5.5l-9.4-4.1l-9.5 5.5z" fill="#d06b36"/><path d="M783.7 167.7l9.4-2.6l-9.4-5l-9.4 2.6z" fill="#9a4d13"/><path d="M801.5 170.1l9.4-2.2l-9.4-5.1l-9.3 2.2z" fill="#904c0f"/><path d="M374.3 279.3l8.9-13.9l-9.2-1.9l-8.9 13.9z" fill="#73e06d"/><path d="M391.6 267.9l9-13.5l-9.3-1.9l-8.9 13.4z" fill="#87e06d"/><path d="M409 257l9-13l-9.2-2l-9 12.9z" fill="#9ae06c"/><path d="M426.5 246.7l9.1-12.4l-9.3-2.2l-9.1 12.4z" fill="#ace06b"/><path d="M444.1 237l9.1-11.9l-9.3-2.3l-9.1 11.9z" fill="#bde06a"/><path d="M532.7 197.7l9.3-9.4l-9.4-3l-9.3 9.4z" fill="#dfbc5e"/><path d="M550.5 191.7l9.4-9l-9.4-3.1l-9.4 9z" fill="#dfb15a"/><path d="M568.4 186.2l9.4-8.4l-9.4-3.3l-9.4 8.5z" fill="#dea556"/><path d="M586.4 181.4l9.3-8l-9.4-3.4l-9.4 8z" fill="#dd9a51"/><path d="M604.3 177.1l9.4-7.5l-9.4-3.5l-9.4 7.5z" fill="#db8f4c"/><path d="M694.1 164.9l9.4-5.1l-9.4-4.2l-9.4 5z" fill="#cc6530"/><path d="M712.1 164.3l9.4-4.6l-9.4-4.4l-9.5 4.6z" fill="#c35d29"/><path d="M730 164.2l9.4-4.1l-9.4-4.5l-9.4 4.1z" fill="#b95723"/><path d="M747.9 164.8l9.4-3.6l-9.4-4.7l-9.4 3.6z" fill="#af521d"/><path d="M765.8 166l9.4-3.2l-9.4-4.8l-9.4 3.1z" fill="#a54f18"/><path d="M348.6 305.8l8.8-15.1l-9.1-1.8l-8.8 15z" fill="#6ee291"/><path d="M365.8 293.2l8.8-14.6l-9.1-1.9l-8.8 14.5z" fill="#6ee17a"/><path d="M435.4 248.9l9-12.5l-9.2-2.4l-9.1 12.5z" fill="#afe16b"/><path d="M452.9 239.3l9.2-12l-9.3-2.5l-9.2 12z" fill="#c0e16a"/><path d="M470.6 230.4l9.2-11.5l-9.4-2.6l-9.1 11.4z" fill="#d0e168"/><path d="M488.3 222l9.2-11l-9.4-2.7l-9.2 11z" fill="#e0e166"/><path d="M506 214.3l9.3-10.5l-9.4-2.9l-9.2 10.5z" fill="#e1d664"/><path d="M523.8 207.2l9.3-10.1l-9.4-3l-9.3 10z" fill="#e1c961"/><path d="M559.5 194.7l9.4-9l-9.4-3.3l-9.4 9z" fill="#e1b25a"/><path d="M577.4 189.3l9.4-8.5l-9.4-3.4l-9.4 8.5z" fill="#dfa656"/><path d="M613.3 180.5l9.4-7.6l-9.4-3.6l-9.5 7.5z" fill="#dc914c"/><path d="M631.2 177l9.5-7.1l-9.5-3.8l-9.4 7z" fill="#d98747"/><path d="M649.2 174l9.4-6.5l-9.4-4l-9.4 6.5z" fill="#d77d41"/><path d="M667.2 171.7l9.4-6.1l-9.4-4l-9.5 6z" fill="#d4753c"/><path d="M685.1 170l9.5-5.6l-9.5-4.2l-9.4 5.5z" fill="#d16e36"/><path d="M703.1 168.9l9.4-5.1l-9.4-4.4l-9.4 5.1z" fill="#cd6830"/><path d="M774.7 170.5l9.4-3.2l-9.3-5l-9.4 3.2z" fill="#a95418"/><path d="M792.6 172.4l9.4-2.7l-9.4-5.1l-9.4 2.6z" fill="#9e5213"/><path d="M383.1 281.2l8.9-14l-9.2-2l-8.9 13.9z" fill="#77e16d"/><path d="M400.4 269.8l9-13.5l-9.2-2.1l-9 13.4z" fill="#8be16d"/><path d="M417.9 259.1l9-13.1l-9.3-2.2l-9 13z" fill="#9ee16c"/><path d="M541.6 200.6l9.4-9.5l-9.4-3.1l-9.3 9.4z" fill="#e1be5e"/><path d="M595.3 184.6l9.4-8l-9.4-3.6l-9.4 8z" fill="#de9b51"/><path d="M721 168.4l9.5-4.6l-9.5-4.6l-9.4 4.6z" fill="#c7622a"/><path d="M739 168.5l9.4-4.1l-9.4-4.7l-9.4 4.1z" fill="#bd5c23"/><path d="M756.9 169.2l9.4-3.7l-9.4-4.8l-9.4 3.6z" fill="#b3581d"/><path d="M444.2 251.3l9.1-12.6l-9.3-2.6l-9 12.6z" fill="#b2e36c"/><path d="M694.1 174.1l9.4-5.7l-9.4-4.4l-9.4 5.6z" fill="#d27136"/><path d="M357.4 307.6l8.8-15.1l-9.2-2l-8.7 15.1z" fill="#6ee38e"/><path d="M374.6 295.1l8.8-14.6l-9.1-2.1l-8.9 14.6z" fill="#6ee378"/><path d="M426.7 261.3l9-13.1l-9.2-2.4l-9 13z" fill="#a0e36d"/><path d="M461.8 241.8l9.2-12.1l-9.3-2.6l-9.2 12z" fill="#c3e36a"/><path d="M479.5 233l9.2-11.6l-9.4-2.8l-9.1 11.5z" fill="#d3e369"/><path d="M497.2 224.7l9.2-11l-9.3-2.9l-9.2 11z" fill="#e2e366"/><path d="M515 217.1l9.2-10.6l-9.3-3l-9.3 10.5z" fill="#e3d764"/><path d="M532.8 210.1l9.3-10.1l-9.4-3.2l-9.3 10.1z" fill="#e3cb61"/><path d="M550.6 203.7l9.3-9.6l-9.4-3.3l-9.3 9.5z" fill="#e3bf5e"/><path d="M568.5 197.9l9.3-9.1l-9.4-3.5l-9.3 9.1z" fill="#e1b35a"/><path d="M586.4 192.6l9.4-8.5l-9.5-3.6l-9.3 8.5z" fill="#e0a756"/><path d="M604.3 188l9.4-8.1l-9.4-3.7l-9.4 8.1z" fill="#de9c51"/><path d="M622.2 184l9.5-7.6l-9.5-3.8l-9.4 7.5z" fill="#dd924c"/><path d="M640.2 180.6l9.4-7.1l-9.4-4l-9.4 7.1z" fill="#da8947"/><path d="M658.2 177.8l9.4-6.6l-9.4-4.1l-9.5 6.6z" fill="#d88041"/><path d="M676.1 175.7l9.5-6.2l-9.5-4.3l-9.4 6.1z" fill="#d5783c"/><path d="M712 173.1l9.5-5.2l-9.4-4.5l-9.5 5.1z" fill="#ce6b30"/><path d="M765.8 173.8l9.4-3.7l-9.4-5l-9.4 3.6z" fill="#b75d1e"/><path d="M783.7 175.3l9.3-3.3l-9.3-5.2l-9.4 3.2z" fill="#ac5a18"/><path d="M391.9 283.2l8.9-14.1l-9.2-2.1l-8.9 14z" fill="#7ae36e"/><path d="M409.3 272l8.9-13.6l-9.2-2.3l-9 13.5z" fill="#8ee36d"/><path d="M730 172.7l9.4-4.6l-9.4-4.8l-9.4 4.7z" fill="#ca672a"/><path d="M747.9 173l9.4-4.2l-9.4-4.9l-9.4 4.1z" fill="#c16124"/><path d="M435.6 263.7l9-13.1l-9.2-2.6l-9.1 13.1z" fill="#a3e46d"/><path d="M453.1 253.8l9.1-12.6l-9.3-2.8l-9.1 12.6z" fill="#b5e46c"/><path d="M685.1 179.8l9.4-6.2l-9.4-4.5l-9.4 6.1z" fill="#d67b3b"/><path d="M703 178.3l9.5-5.7l-9.4-4.6l-9.5 5.7z" fill="#d37436"/><path d="M366.1 309.6l8.8-15.2l-9.1-2.1l-8.8 15.1z" fill="#6fe48c"/><path d="M383.4 297.2l8.8-14.7l-9.1-2.2l-8.9 14.6z" fill="#6ee475"/><path d="M418.1 274.3l9-13.7l-9.3-2.4l-8.9 13.6z" fill="#90e46e"/><path d="M470.7 244.5l9.2-12.2l-9.3-2.8l-9.2 12.1z" fill="#c5e46a"/><path d="M488.4 235.7l9.2-11.6l-9.3-3l-9.2 11.6z" fill="#d5e469"/><path d="M506.1 227.6l9.3-11.1l-9.4-3.1l-9.2 11.1z" fill="#e4e467"/><path d="M523.9 220.1l9.3-10.6l-9.4-3.2l-9.3 10.5z" fill="#e5d864"/><path d="M541.7 213.2l9.3-10.1l-9.4-3.4l-9.3 10.1z" fill="#e4cc61"/><path d="M559.6 206.9l9.3-9.6l-9.4-3.5l-9.3 9.6z" fill="#e3bf5e"/><path d="M577.4 201.2l9.4-9.1l-9.4-3.7l-9.4 9.1z" fill="#e2b45a"/><path d="M595.3 196.1l9.4-8.6l-9.4-3.8l-9.4 8.6z" fill="#e1a956"/><path d="M613.3 191.6l9.4-8.1l-9.4-3.9l-9.4 8.1z" fill="#df9e51"/><path d="M631.2 187.8l9.4-7.7l-9.4-4l-9.4 7.6z" fill="#dd944c"/><path d="M649.2 184.5l9.4-7.2l-9.4-4.2l-9.4 7.2z" fill="#db8b47"/><path d="M667.1 181.8l9.5-6.6l-9.4-4.4l-9.5 6.7z" fill="#d98241"/><path d="M721 177.5l9.4-5.2l-9.4-4.8l-9.4 5.2z" fill="#cf6f30"/><path d="M756.8 177.6l9.4-4.2l-9.3-5.1l-9.5 4.2z" fill="#c56724"/><path d="M774.7 178.6l9.4-3.7l-9.4-5.3l-9.4 3.7z" fill="#ba631e"/><path d="M400.7 285.4l8.9-14.1l-9.2-2.4l-8.9 14.1z" fill="#7ce46e"/><path d="M738.9 177.3l9.4-4.8l-9.3-4.9l-9.5 4.7z" fill="#cb6b2a"/><path d="M426.9 276.8l9-13.7l-9.2-2.7l-9 13.7z" fill="#93e56e"/><path d="M444.4 266.3l9.1-13.2l-9.3-2.7l-9 13.1z" fill="#a5e56d"/><path d="M462 256.5l9.1-12.7l-9.3-2.9l-9.1 12.7z" fill="#b7e66c"/><path d="M676.1 186l9.4-6.7l-9.4-4.5l-9.4 6.6z" fill="#da8541"/><path d="M694 184.1l9.5-6.3l-9.4-4.6l-9.5 6.2z" fill="#d77e3b"/><path d="M712 182.8l9.4-5.8l-9.4-4.8l-9.4 5.7z" fill="#d47835"/><path d="M374.9 311.7l8.8-15.2l-9.1-2.3l-8.8 15.2z" fill="#6fe58a"/><path d="M392.2 299.5l8.9-14.8l-9.2-2.4l-8.9 14.7z" fill="#6fe574"/><path d="M409.5 287.8l9-14.2l-9.3-2.5l-8.9 14.1z" fill="#7fe56e"/><path d="M479.6 247.3l9.2-12.2l-9.3-3l-9.2 12.1z" fill="#c7e66b"/><path d="M497.3 238.7l9.2-11.7l-9.3-3.2l-9.2 11.7z" fill="#d7e669"/><path d="M515 230.7l9.3-11.2l-9.4-3.3l-9.2 11.1z" fill="#e6e667"/><path d="M532.8 223.3l9.3-10.7l-9.4-3.4l-9.2 10.6z" fill="#e6d964"/><path d="M550.7 216.5l9.3-10.2l-9.4-3.5l-9.3 10.1z" fill="#e5cd61"/><path d="M568.5 210.3l9.4-9.7l-9.4-3.6l-9.4 9.6z" fill="#e4c15e"/><path d="M586.4 204.7l9.4-9.2l-9.4-3.8l-9.4 9.2z" fill="#e3b55a"/><path d="M604.3 199.8l9.4-8.7l-9.4-4l-9.4 8.7z" fill="#e2aa56"/><path d="M622.2 195.4l9.5-8.2l-9.5-4.1l-9.4 8.2z" fill="#e0a051"/><path d="M640.2 191.7l9.4-7.7l-9.4-4.3l-9.4 7.7z" fill="#de964c"/><path d="M658.1 188.5l9.5-7.2l-9.4-4.4l-9.5 7.2z" fill="#dc8d47"/><path d="M729.9 182.1l9.5-5.3l-9.4-5l-9.5 5.2z" fill="#d0732f"/><path d="M747.9 182l9.4-4.8l-9.4-5.1l-9.4 4.7z" fill="#cc702a"/><path d="M765.7 182.5l9.5-4.3l-9.4-5.3l-9.4 4.3z" fill="#c86e24"/><path d="M401 301.9l8.9-14.8l-9.2-2.6l-8.9 14.8z" fill="#6fe772"/><path d="M418.3 290.4l9-14.3l-9.2-2.7l-9 14.2z" fill="#81e76f"/><path d="M435.8 279.4l9-13.7l-9.2-2.9l-9.1 13.7z" fill="#95e76e"/><path d="M453.3 269.1l9.1-13.3l-9.3-2.9l-9.1 13.2z" fill="#a7e76d"/><path d="M470.9 259.4l9.1-12.8l-9.3-3l-9.1 12.7z" fill="#b9e76c"/><path d="M541.8 226.6l9.3-10.7l-9.4-3.6l-9.3 10.7z" fill="#e6da64"/><path d="M595.4 208.5l9.3-9.3l-9.4-4l-9.3 9.2z" fill="#e4b75a"/><path d="M667.1 192.8l9.4-7.3l-9.4-4.6l-9.4 7.2z" fill="#dd9146"/><path d="M685 190.4l9.5-6.8l-9.4-4.7l-9.5 6.7z" fill="#db8941"/><path d="M703 188.6l9.4-6.3l-9.4-4.9l-9.4 6.3z" fill="#d8823b"/><path d="M720.9 187.4l9.5-5.8l-9.4-5l-9.5 5.7z" fill="#d57c35"/><path d="M738.9 186.8l9.4-5.3l-9.4-5.1l-9.4 5.2z" fill="#d1782f"/><path d="M383.7 314.1l8.8-15.3l-9.1-2.5l-8.9 15.2z" fill="#6fe788"/><path d="M488.5 250.3l9.2-12.3l-9.3-3.2l-9.2 12.2z" fill="#c9e76b"/><path d="M506.2 241.8l9.3-11.8l-9.4-3.3l-9.2 11.7z" fill="#d9e769"/><path d="M524 233.9l9.2-11.2l-9.3-3.5l-9.3 11.2z" fill="#e7e767"/><path d="M559.6 220l9.3-10.3l-9.4-3.7l-9.3 10.2z" fill="#e6ce61"/><path d="M577.5 213.9l9.3-9.7l-9.4-3.9l-9.3 9.7z" fill="#e5c25e"/><path d="M613.3 203.6l9.4-8.7l-9.4-4.2l-9.4 8.7z" fill="#e2ac56"/><path d="M631.2 199.4l9.4-8.3l-9.4-4.2l-9.4 8.2z" fill="#e1a251"/><path d="M649.1 195.8l9.5-7.8l-9.4-4.4l-9.5 7.7z" fill="#df994c"/><path d="M756.8 186.9l9.4-4.9l-9.4-5.3l-9.4 4.8z" fill="#cd7529"/><path d="M409.8 304.5l8.9-14.8l-9.2-2.8l-8.9 14.8z" fill="#6fe871"/><path d="M729.9 192.2l9.4-5.8l-9.4-5.2l-9.4 5.8z" fill="#d68135"/><path d="M392.5 316.6l8.8-15.4l-9.2-2.6l-8.8 15.3z" fill="#6fe887"/><path d="M427.2 293.1l9-14.4l-9.3-2.8l-9 14.3z" fill="#83e86f"/><path d="M444.6 282.3l9.1-13.9l-9.3-3l-9 13.8z" fill="#96e86e"/><path d="M462.2 272.1l9.1-13.4l-9.3-3.1l-9.1 13.3z" fill="#a9e86e"/><path d="M479.8 262.5l9.1-12.9l-9.3-3.2l-9.1 12.7z" fill="#bae86c"/><path d="M532.9 237.3l9.3-11.3l-9.4-3.6l-9.2 11.2z" fill="#e7e867"/><path d="M550.7 230.2l9.3-10.8l-9.4-3.8l-9.3 10.7z" fill="#e7db64"/><path d="M568.5 223.6l9.4-10.3l-9.4-3.9l-9.3 10.3z" fill="#e6cf61"/><path d="M586.4 217.7l9.4-9.8l-9.4-4.1l-9.4 9.8z" fill="#e5c45e"/><path d="M604.3 212.4l9.4-9.4l-9.4-4.1l-9.4 9.2z" fill="#e4b95a"/><path d="M658.1 200.1l9.4-7.9l-9.4-4.6l-9.4 7.8z" fill="#e09c4b"/><path d="M676 197.2l9.5-7.4l-9.4-4.7l-9.4 7.3z" fill="#de9446"/><path d="M694 194.9l9.4-6.8l-9.3-4.9l-9.5 6.8z" fill="#dc8d40"/><path d="M711.9 193.2l9.5-6.3l-9.4-5l-9.4 6.2z" fill="#d9863b"/><path d="M747.8 191.8l9.4-5.4l-9.3-5.3l-9.5 5.3z" fill="#d27d2f"/><path d="M497.4 253.5l9.2-12.4l-9.3-3.3l-9.2 12.2z" fill="#cae96b"/><path d="M515.1 245.1l9.3-11.8l-9.4-3.5l-9.2 11.7z" fill="#d9e869"/><path d="M622.2 207.6l9.4-8.8l-9.4-4.3l-9.4 8.8z" fill="#e3af55"/><path d="M640.2 203.5l9.4-8.3l-9.4-4.4l-9.4 8.2z" fill="#e2a551"/><path d="M401.3 319.3l8.8-15.5l-9.1-2.8l-8.9 15.4z" fill="#70e985"/><path d="M418.6 307.3l8.9-14.9l-9.2-2.9l-8.9 14.8z" fill="#70e970"/><path d="M559.6 233.9l9.4-10.9l-9.4-3.9l-9.3 10.8z" fill="#e8dd64"/><path d="M577.5 227.5l9.3-10.4l-9.3-4.1l-9.4 10.3z" fill="#e7d161"/><path d="M720.9 198.1l9.4-6.4l-9.4-5.2l-9.4 6.3z" fill="#da8b3a"/><path d="M738.8 197.2l9.4-5.9l-9.3-5.4l-9.5 5.9z" fill="#d78634"/><path d="M436 296l9-14.4l-9.2-3.1l-9 14.4z" fill="#84e96f"/><path d="M453.5 285.3l9.1-13.9l-9.3-3.2l-9.1 13.9z" fill="#98e96f"/><path d="M471.1 275.2l9.1-13.4l-9.3-3.3l-9.1 13.3z" fill="#aaea6e"/><path d="M488.7 265.7l9.1-12.9l-9.3-3.4l-9.1 12.8z" fill="#bbea6c"/><path d="M524.1 248.6l9.2-11.9l-9.3-3.7l-9.3 11.8z" fill="#dae969"/><path d="M541.8 240.9l9.3-11.4l-9.3-3.8l-9.3 11.3z" fill="#e7e867"/><path d="M595.4 221.6l9.3-9.8l-9.3-4.2l-9.4 9.8z" fill="#e6c65d"/><path d="M613.3 216.5l9.4-9.4l-9.4-4.4l-9.4 9.3z" fill="#e5bb59"/><path d="M649.1 207.9l9.4-8.4l-9.4-4.6l-9.4 8.3z" fill="#e3a850"/><path d="M667.1 204.5l9.4-7.8l-9.4-4.8l-9.4 7.8z" fill="#e19f4b"/><path d="M685 201.8l9.4-7.4l-9.3-4.9l-9.5 7.3z" fill="#df9846"/><path d="M702.9 199.6l9.5-6.8l-9.4-5.1l-9.4 6.8z" fill="#dd9140"/><path d="M506.3 256.8l9.2-12.4l-9.3-3.5l-9.2 12.3z" fill="#cbe96b"/><path d="M631.2 211.9l9.4-8.9l-9.4-4.5l-9.4 8.8z" fill="#e4b155"/><path d="M410.1 322.2l8.9-15.6l-9.2-3l-8.9 15.5z" fill="#70ea85"/><path d="M427.4 310.3l9-15l-9.2-3.1l-9 14.9z" fill="#71ea70"/><path d="M497.6 269.1l9.1-12.9l-9.3-3.6l-9.1 12.9z" fill="#bbea6c"/><path d="M550.8 244.7l9.3-11.4l-9.4-4l-9.3 11.3z" fill="#e7e967"/><path d="M568.6 237.8l9.3-10.9l-9.4-4.2l-9.3 10.9z" fill="#e8df64"/><path d="M586.4 231.5l9.4-10.4l-9.4-4.3l-9.3 10.4z" fill="#e8d361"/><path d="M640.1 216.3l9.5-9l-9.4-4.7l-9.5 8.9z" fill="#e5b455"/><path d="M711.9 204.6l9.4-7l-9.4-5.3l-9.4 6.9z" fill="#de9540"/><path d="M729.8 203.2l9.4-6.5l-9.3-5.4l-9.5 6.4z" fill="#db903a"/><path d="M444.9 299.1l9-14.5l-9.3-3.2l-9 14.4z" fill="#85ea6f"/><path d="M462.4 288.5l9-14l-9.2-3.3l-9.1 13.9z" fill="#99eb6f"/><path d="M479.9 278.5l9.2-13.5l-9.3-3.4l-9.1 13.4z" fill="#abeb6e"/><path d="M515.2 260.4l9.3-12.5l-9.4-3.7l-9.2 12.4z" fill="#cbea6b"/><path d="M533 252.2l9.2-11.9l-9.3-3.9l-9.3 11.9z" fill="#d9e969"/><path d="M604.3 225.8l9.4-9.9l-9.4-4.4l-9.4 9.8z" fill="#e7c85d"/><path d="M622.2 220.7l9.4-9.4l-9.4-4.6l-9.4 9.4z" fill="#e6be59"/><path d="M658.1 212.4l9.4-8.4l-9.4-4.8l-9.4 8.3z" fill="#e3ac50"/><path d="M676 209.2l9.4-7.9l-9.3-5l-9.5 7.8z" fill="#e2a34b"/><path d="M693.9 206.6l9.5-7.5l-9.4-5.1l-9.4 7.4z" fill="#e09c45"/><path d="M418.9 325.2l8.9-15.6l-9.2-3.2l-8.9 15.6z" fill="#70eb84"/><path d="M436.3 313.5l8.9-15.1l-9.2-3.3l-9 15z" fill="#72ec70"/><path d="M453.7 302.4l9-14.6l-9.2-3.4l-9 14.5z" fill="#86ec6f"/><path d="M471.2 291.9l9.1-14.1l-9.3-3.5l-9 14z" fill="#99ec6f"/><path d="M488.8 282l9.2-13.5l-9.3-3.7l-9.2 13.5z" fill="#abeb6e"/><path d="M506.5 272.8l9.1-13.1l-9.3-3.8l-9.1 13z" fill="#bbeb6c"/><path d="M524.2 264.1l9.2-12.5l-9.3-3.9l-9.3 12.4z" fill="#caeb6b"/><path d="M541.9 256.1l9.3-12l-9.4-4.1l-9.2 12z" fill="#d9ea69"/><path d="M559.7 248.7l9.3-11.5l-9.4-4.2l-9.3 11.4z" fill="#e6ea66"/><path d="M577.5 241.9l9.4-11l-9.4-4.3l-9.3 10.9z" fill="#e9e164"/><path d="M595.4 235.7l9.3-10.5l-9.3-4.5l-9.4 10.5z" fill="#e8d661"/><path d="M613.3 230.1l9.3-9.9l-9.3-4.6l-9.4 9.9z" fill="#e8cb5d"/><path d="M631.2 225.2l9.4-9.5l-9.4-4.7l-9.4 9.4z" fill="#e7c159"/><path d="M649.1 220.9l9.4-9l-9.4-4.9l-9.4 8.9z" fill="#e6b854"/><path d="M667 217.1l9.4-8.4l-9.3-5.1l-9.5 8.5z" fill="#e4af50"/><path d="M684.9 214l9.5-7.9l-9.4-5.2l-9.4 7.9z" fill="#e3a74a"/><path d="M702.9 211.6l9.4-7.5l-9.4-5.4l-9.4 7.5z" fill="#e1a045"/><path d="M720.8 209.7l9.4-7l-9.3-5.5l-9.5 7z" fill="#df9a3f"/><path d="M427.7 328.4l8.9-15.6l-9.2-3.4l-8.9 15.6z" fill="#70ed83"/><path d="M445.1 316.8l9-15.1l-9.3-3.5l-8.9 15.1z" fill="#72ed70"/><path d="M480.1 295.5l9.1-14.2l-9.3-3.7l-9.1 14.1z" fill="#99ec6f"/><path d="M497.7 285.7l9.2-13.6l-9.3-3.9l-9.2 13.6z" fill="#aaec6e"/><path d="M515.4 276.6l9.2-13.1l-9.4-4l-9.1 13z" fill="#bbec6c"/><path d="M533.1 268l9.2-12.5l-9.3-4.2l-9.3 12.5z" fill="#caeb6b"/><path d="M550.8 260.1l9.3-12l-9.3-4.3l-9.3 12z" fill="#d8eb69"/><path d="M568.6 252.8l9.3-11.5l-9.3-4.4l-9.3 11.5z" fill="#e5ea66"/><path d="M586.4 246.2l9.4-11.1l-9.4-4.5l-9.3 11z" fill="#eae363"/><path d="M604.3 240.1l9.4-10.5l-9.4-4.7l-9.4 10.5z" fill="#e9d960"/><path d="M622.2 234.7l9.4-10.1l-9.4-4.8l-9.4 10z" fill="#e8ce5d"/><path d="M640.1 229.8l9.4-9.5l-9.4-4.9l-9.4 9.4z" fill="#e7c559"/><path d="M658 225.6l9.4-9l-9.3-5.1l-9.5 9z" fill="#e6bc54"/><path d="M693.9 219.1l9.4-8.1l-9.4-5.3l-9.4 8z" fill="#e4ac4a"/><path d="M711.8 216.7l9.4-7.5l-9.3-5.5l-9.5 7.5z" fill="#e2a545"/><path d="M462.6 305.8l9-14.6l-9.2-3.6l-9.1 14.6z" fill="#86ed6f"/><path d="M675.9 222.1l9.5-8.6l-9.4-5.2l-9.4 8.5z" fill="#e5b34f"/><path d="M436.5 331.9l9-15.8l-9.3-3.5l-8.9 15.6z" fill="#70ee83"/><path d="M453.9 320.4l9-15.3l-9.2-3.6l-9 15.1z" fill="#72ee70"/><path d="M471.4 309.5l9.1-14.7l-9.3-3.8l-9 14.6z" fill="#86ed6f"/><path d="M489 299.2l9.1-14.2l-9.3-3.9l-9.1 14.1z" fill="#99ed6f"/><path d="M506.6 289.6l9.2-13.7l-9.3-4l-9.2 13.6z" fill="#aaed6e"/><path d="M524.3 280.5l9.2-13.1l-9.3-4.2l-9.3 13.1z" fill="#baec6c"/><path d="M542 272.1l9.2-12.6l-9.3-4.3l-9.2 12.6z" fill="#c9ec6a"/><path d="M559.7 264.3l9.3-12.1l-9.3-4.4l-9.3 12z" fill="#d6eb68"/><path d="M577.5 257.2l9.4-11.6l-9.4-4.6l-9.3 11.5z" fill="#e3eb66"/><path d="M595.4 250.6l9.3-11.1l-9.3-4.7l-9.4 11.1z" fill="#eae663"/><path d="M613.2 244.7l9.4-10.6l-9.3-4.9l-9.4 10.6z" fill="#eadc60"/><path d="M631.1 239.4l9.4-10.1l-9.3-5l-9.4 10z" fill="#e9d25c"/><path d="M649 234.7l9.4-9.6l-9.3-5.1l-9.4 9.5z" fill="#e8c958"/><path d="M666.9 230.6l9.5-9.1l-9.4-5.3l-9.4 9.1z" fill="#e7c054"/><path d="M684.9 227.2l9.4-8.6l-9.4-5.5l-9.4 8.6z" fill="#e6b84f"/><path d="M702.8 224.3l9.4-8.1l-9.3-5.5l-9.5 8z" fill="#e4b149"/><path d="M533.1 284.7l9.3-13.2l-9.3-4.4l-9.3 13.2z" fill="#b8ed6c"/><path d="M604.3 255.3l9.4-11.2l-9.4-4.9l-9.4 11.1z" fill="#ebea63"/><path d="M445.3 335.5l9-15.8l-9.2-3.8l-9 15.8z" fill="#70ee83"/><path d="M462.8 324.1l9-15.3l-9.3-3.9l-9 15.2z" fill="#72ee70"/><path d="M480.3 313.3l9.1-14.8l-9.3-3.9l-9.1 14.6z" fill="#86ee6f"/><path d="M497.8 303.1l9.2-14.2l-9.3-4.1l-9.1 14.2z" fill="#98ee6e"/><path d="M515.5 293.6l9.2-13.7l-9.3-4.2l-9.2 13.6z" fill="#a9ed6d"/><path d="M550.9 276.4l9.2-12.7l-9.3-4.5l-9.2 12.7z" fill="#c7ec6a"/><path d="M568.6 268.8l9.4-12.2l-9.4-4.7l-9.3 12.2z" fill="#d5ec68"/><path d="M586.5 261.7l9.3-11.7l-9.4-4.7l-9.3 11.6z" fill="#e1eb66"/><path d="M622.2 249.5l9.4-10.7l-9.4-5l-9.4 10.6z" fill="#eadf5f"/><path d="M640 244.3l9.5-10.2l-9.4-5.2l-9.4 10.2z" fill="#ead65c"/><path d="M657.9 239.7l9.5-9.6l-9.4-5.4l-9.4 9.6z" fill="#e9cd58"/><path d="M675.9 235.8l9.4-9.2l-9.4-5.4l-9.4 9.1z" fill="#e8c553"/><path d="M693.8 232.5l9.4-8.7l-9.3-5.6l-9.5 8.6z" fill="#e7bd4e"/><path d="M454.1 339.2l9-15.8l-9.2-3.9l-9 15.7z" fill="#70ee83"/><path d="M471.6 328l9-15.4l-9.2-4l-9 15.2z" fill="#71ee70"/><path d="M489.1 317.3l9.1-14.8l-9.2-4.2l-9.1 14.8z" fill="#85ee6f"/><path d="M506.7 307.3l9.2-14.3l-9.3-4.3l-9.2 14.2z" fill="#97ee6e"/><path d="M524.4 297.9l9.1-13.8l-9.3-4.5l-9.1 13.8z" fill="#a7ee6d"/><path d="M542 289.1l9.3-13.3l-9.3-4.6l-9.3 13.3z" fill="#b7ed6c"/><path d="M559.8 280.9l9.3-12.8l-9.4-4.7l-9.2 12.8z" fill="#c5ed6a"/><path d="M577.6 273.4l9.3-12.3l-9.4-4.8l-9.3 12.2z" fill="#d2ed68"/><path d="M595.4 266.4l9.3-11.7l-9.3-5l-9.4 11.7z" fill="#dfec65"/><path d="M613.2 260.1l9.4-11.2l-9.4-5.1l-9.3 11.2z" fill="#eaec62"/><path d="M631.1 254.5l9.4-10.8l-9.4-5.2l-9.4 10.7z" fill="#ebe35f"/><path d="M649 249.4l9.4-10.2l-9.4-5.4l-9.4 10.2z" fill="#ebda5b"/><path d="M666.9 245l9.4-9.8l-9.4-5.5l-9.4 9.7z" fill="#ead157"/><path d="M684.8 241.2l9.4-9.3l-9.3-5.6l-9.5 9.1z" fill="#e9ca53"/><path d="M463 343.2l9-15.9l-9.2-4.1l-9 15.8z" fill="#70ee84"/><path d="M480.4 332l9.1-15.4l-9.2-4.2l-9.1 15.3z" fill="#70ee70"/><path d="M515.6 311.6l9.1-14.4l-9.2-4.5l-9.2 14.3z" fill="#95ee6e"/><path d="M533.2 302.3l9.2-13.9l-9.3-4.6l-9.2 13.8z" fill="#a6ee6d"/><path d="M550.9 293.6l9.3-13.3l-9.3-4.8l-9.3 13.3z" fill="#b5ee6b"/><path d="M586.5 278.2l9.3-12.4l-9.3-5l-9.4 12.3z" fill="#d0ed67"/><path d="M604.3 271.4l9.3-11.9l-9.3-5.1l-9.4 11.7z" fill="#dced65"/><path d="M622.1 265.2l9.4-11.3l-9.3-5.3l-9.4 11.2z" fill="#e7ec62"/><path d="M657.9 254.7l9.4-10.3l-9.4-5.6l-9.4 10.3z" fill="#ebdf5b"/><path d="M675.8 250.4l9.4-9.8l-9.3-5.7l-9.5 9.7z" fill="#ebd656"/><path d="M498 321.5l9.1-14.9l-9.3-4.4l-9.1 14.9z" fill="#83ee6f"/><path d="M568.7 285.6l9.3-12.9l-9.4-4.8l-9.2 12.7z" fill="#c3ee6a"/><path d="M640 259.6l9.4-10.8l-9.4-5.4l-9.4 10.7z" fill="#ece85e"/><path d="M489.3 336.3l9.1-15.5l-9.3-4.4l-9 15.4z" fill="#70ee70"/><path d="M648.9 265l9.4-10.9l-9.3-5.6l-9.4 10.8z" fill="#edec5e"/><path d="M471.8 347.4l9-16.1l-9.2-4.2l-9 15.9z" fill="#70ee85"/><path d="M506.8 325.9l9.2-15l-9.3-4.5l-9.1 14.9z" fill="#82ee6f"/><path d="M524.5 316.1l9.1-14.5l-9.3-4.6l-9.1 14.3z" fill="#93ef6e"/><path d="M542.1 306.9l9.2-13.9l-9.3-4.8l-9.2 13.8z" fill="#a3ef6d"/><path d="M559.8 298.4l9.3-13.5l-9.3-4.9l-9.3 13.4z" fill="#b2ee6b"/><path d="M577.6 290.4l9.3-12.9l-9.3-5l-9.3 12.8z" fill="#c0ee69"/><path d="M595.4 283.1l9.3-12.4l-9.3-5.2l-9.4 12.4z" fill="#cdee67"/><path d="M613.2 276.5l9.3-11.9l-9.3-5.4l-9.3 11.9z" fill="#d9ee64"/><path d="M631 270.4l9.4-11.4l-9.3-5.4l-9.4 11.3z" fill="#e3ed61"/><path d="M666.8 260.2l9.4-10.4l-9.3-5.7l-9.5 10.3z" fill="#ece45a"/><path d="M480.6 351.7l9.1-16.1l-9.3-4.5l-9 16z" fill="#70ee86"/><path d="M498.1 340.8l9.1-15.6l-9.2-4.6l-9.1 15.5z" fill="#6fee72"/><path d="M515.7 330.5l9.1-15.1l-9.2-4.7l-9.2 14.9z" fill="#7fee6f"/><path d="M533.3 320.8l9.2-14.6l-9.3-4.8l-9.2 14.4z" fill="#91ef6e"/><path d="M551 311.7l9.2-14l-9.3-5l-9.2 14z" fill="#a1ef6c"/><path d="M568.7 303.3l9.3-13.5l-9.3-5.1l-9.3 13.4z" fill="#afef6b"/><path d="M586.5 295.5l9.3-13l-9.3-5.2l-9.3 12.9z" fill="#bdef69"/><path d="M604.3 288.3l9.3-12.4l-9.3-5.4l-9.4 12.3z" fill="#caef67"/><path d="M622.1 281.8l9.4-12l-9.4-5.5l-9.3 11.9z" fill="#d5ee64"/><path d="M639.9 275.9l9.4-11.5l-9.3-5.7l-9.4 11.4z" fill="#dfee61"/><path d="M657.8 270.6l9.4-11l-9.3-5.8l-9.4 10.9z" fill="#e9ed5d"/><path d="M489.5 356.2l9-16.1l-9.2-4.7l-9.1 16.1z" fill="#70ee88"/><path d="M507 345.4l9.1-15.6l-9.3-4.8l-9.1 15.5z" fill="#6fee73"/><path d="M559.9 316.7l9.2-14.1l-9.3-5.1l-9.2 14z" fill="#9eef6c"/><path d="M577.6 308.4l9.3-13.5l-9.3-5.4l-9.3 13.5z" fill="#acf06a"/><path d="M631 287.3l9.4-12l-9.4-5.8l-9.3 12z" fill="#d1ef63"/><path d="M648.8 281.5l9.4-11.5l-9.3-5.9l-9.4 11.4z" fill="#dbef60"/><path d="M524.5 335.2l9.2-15.1l-9.3-4.9l-9.1 15z" fill="#7dee6e"/><path d="M542.2 325.7l9.2-14.6l-9.3-5.1l-9.2 14.5z" fill="#8eef6d"/><path d="M595.3 300.7l9.4-13l-9.3-5.5l-9.4 13z" fill="#baef68"/><path d="M613.1 293.7l9.4-12.5l-9.3-5.6l-9.4 12.4z" fill="#c6ef66"/><path d="M498.3 360.9l9.1-16.2l-9.3-4.8l-9 16.1z" fill="#6fee89"/><path d="M515.8 350.2l9.1-15.7l-9.2-4.9l-9.1 15.6z" fill="#6fee75"/><path d="M533.4 340.2l9.2-15.2l-9.3-5.1l-9.1 15.1z" fill="#7aef6e"/><path d="M551 330.7l9.3-14.6l-9.3-5.3l-9.2 14.6z" fill="#8aef6d"/><path d="M568.7 321.9l9.3-14.1l-9.3-5.4l-9.2 14.1z" fill="#9aef6c"/><path d="M586.5 313.7l9.3-13.6l-9.3-5.5l-9.3 13.5z" fill="#a8f06a"/><path d="M604.2 306.2l9.4-13.1l-9.3-5.7l-9.4 13.1z" fill="#b6f068"/><path d="M622 299.3l9.4-12.6l-9.3-5.8l-9.4 12.5z" fill="#c2f065"/><path d="M639.8 293l9.4-12.1l-9.3-5.9l-9.4 12z" fill="#ccf063"/><path d="M507.1 365.9l9.1-16.3l-9.2-5.1l-9.1 16.2z" fill="#6fee8c"/><path d="M524.6 355.3l9.2-15.8l-9.3-5.2l-9.1 15.7z" fill="#6eee78"/><path d="M542.2 345.3l9.2-15.2l-9.2-5.3l-9.2 15.1z" fill="#77ef6e"/><path d="M559.9 336l9.2-14.7l-9.2-5.5l-9.3 14.7z" fill="#87ef6c"/><path d="M577.6 327.3l9.3-14.2l-9.3-5.6l-9.3 14.2z" fill="#96f06b"/><path d="M595.3 319.3l9.3-13.7l-9.3-5.8l-9.3 13.7z" fill="#a4f069"/><path d="M613.1 311.8l9.3-13.2l-9.3-5.8l-9.3 13.1z" fill="#b1f167"/><path d="M630.9 305l9.4-12.6l-9.3-6l-9.4 12.6z" fill="#bdf165"/><path d="M515.9 371l9.1-16.4l-9.2-5.3l-9.1 16.3z" fill="#6fee8e"/><path d="M533.5 360.5l9.1-15.9l-9.2-5.3l-9.1 15.7z" fill="#6eef7a"/><path d="M551.1 350.7l9.2-15.4l-9.3-5.5l-9.2 15.3z" fill="#73ef6d"/><path d="M568.7 341.5l9.3-14.8l-9.3-5.7l-9.2 14.7z" fill="#83ef6c"/><path d="M586.4 332.9l9.3-14.3l-9.2-5.8l-9.3 14.2z" fill="#92f06b"/><path d="M604.2 325l9.3-13.8l-9.3-5.9l-9.3 13.7z" fill="#9ff069"/><path d="M622 317.7l9.3-13.3l-9.3-6l-9.3 13.1z" fill="#acf167"/><path d="M524.7 376.3l9.2-16.5l-9.3-5.4l-9.1 16.3z" fill="#6eee91"/><path d="M542.3 365.9l9.2-15.9l-9.3-5.6l-9.1 15.9z" fill="#6eef7d"/><path d="M595.3 338.7l9.3-14.4l-9.3-5.9l-9.3 14.2z" fill="#8df06a"/><path d="M613 330.9l9.4-13.9l-9.3-6.1l-9.3 13.8z" fill="#9af168"/><path d="M559.9 356.2l9.2-15.4l-9.2-5.7l-9.2 15.3z" fill="#6fef6d"/><path d="M577.6 347.1l9.3-14.8l-9.3-5.9l-9.3 14.8z" fill="#7eef6c"/><path d="M533.6 381.8l9.1-16.6l-9.2-5.6l-9.1 16.4z" fill="#6eef94"/><path d="M551.1 371.5l9.2-16l-9.2-5.7l-9.2 15.9z" fill="#6def81"/><path d="M568.8 361.9l9.2-15.4l-9.3-5.9l-9.2 15.4z" fill="#6cef6e"/><path d="M586.4 353l9.3-15l-9.2-6l-9.3 14.9z" fill="#79f06b"/><path d="M604.1 344.7l9.4-14.5l-9.3-6.1l-9.3 14.3z" fill="#87f069"/><path d="M542.4 387.5l9.1-16.6l-9.2-5.9l-9.1 16.5z" fill="#6eef97"/><path d="M560 377.3l9.2-16l-9.3-6l-9.2 16z" fill="#6def85"/><path d="M577.6 367.9l9.2-15.6l-9.2-6.1l-9.2 15.5z" fill="#6cef72"/><path d="M595.3 359l9.2-15l-9.2-6.2l-9.3 14.9z" fill="#74f06a"/><path d="M568.8 383.4l9.2-16.2l-9.2-6.2l-9.2 16.1z" fill="#6cef89"/><path d="M551.2 393.3l9.1-16.6l-9.2-6.1l-9.1 16.6z" fill="#6def9b"/><path d="M586.4 374l9.3-15.6l-9.3-6.3l-9.2 15.5z" fill="#6bf077"/><path d="M560 399.4l9.2-16.7l-9.2-6.3l-9.2 16.7z" fill="#6defa0"/><path d="M577.6 389.6l9.2-16.2l-9.2-6.4l-9.2 16.1z" fill="#6cef8d"/><path d="M568.8 405.7l9.2-16.8l-9.2-6.4l-9.2 16.7z" fill="#6cefa4"/></g>
<path d="M568.8 405.3l-17.6-12.4l-17.6-11.6l-17.7-10.8l-17.6-10l-17.7-9.3l-17.6-8.5l-17.7-7.7l-17.6-7l-17.6-6.3l-17.6-5.6l-17.6-4.8l-17.5-4.2l-17.5-3.4l-17.5-2.8l-17.3-2.2l-17.4-1.4l-17.2-0.9l-17.2-0.2M572.7 397.9l-17.6-12.3l-17.6-11.5l-17.7-10.7l-17.6-10l-17.7-9.2l-17.7-8.4l-17.6-7.7l-17.7-6.9l-17.6-6.2l-17.6-5.5l-17.6-4.8l-17.5-4.1l-17.6-3.4l-17.4-2.8l-17.4-2.1l-17.4-1.4l-17.2-0.7l-17.2-0.2M576.7 390.7l-17.6-12.2l-17.7-11.5l-17.6-10.6l-17.7-9.9l-17.7-9.1l-17.7-8.4l-17.6-7.6l-17.7-6.9l-17.7-6.1l-17.6-5.5l-17.6-4.7l-17.5-4.1l-17.6-3.3l-17.4-2.7l-17.5-2l-17.3-1.4l-17.3-0.7l-17.2-0.1M580.7 383.6l-17.7-12.2l-17.6-11.3l-17.7-10.6l-17.7-9.8l-17.7-9.1l-17.7-8.3l-17.7-7.5l-17.6-6.9l-17.7-6.1l-17.7-5.3l-17.6-4.7l-17.5-4l-17.6-3.3l-17.5-2.6l-17.4-2l-17.4-1.3l-17.3-0.6l-17.2 0M584.6 376.6l-17.6-12.1l-17.7-11.3l-17.7-10.5l-17.7-9.8l-17.7-8.9l-17.7-8.3l-17.7-7.5l-17.7-6.7l-17.7-6l-17.6-5.4l-17.6-4.6l-17.6-3.9l-17.6-3.2l-17.5-2.6l-17.4-1.9l-17.4-1.2l-17.4-0.6l-17.2 0M588.6 369.8l-17.6-12.1l-17.7-11.2l-17.7-10.5l-17.7-9.6l-17.7-9l-17.8-8.1l-17.7-7.5l-17.7-6.6l-17.7-6l-17.7-5.3l-17.6-4.5l-17.6-3.9l-17.6-3.2l-17.5-2.5l-17.5-1.8l-17.4-1.2l-17.3-0.6l-17.3 0.1M592.6 363l-17.7-11.9l-17.6-11.2l-17.8-10.4l-17.7-9.6l-17.7-8.9l-17.7-8.1l-17.8-7.3l-17.7-6.7l-17.7-5.9l-17.7-5.2l-17.7-4.5l-17.6-3.8l-17.6-3.1l-17.5-2.4l-17.5-1.8l-17.4-1.2l-17.4-0.4l-17.3 0.1M596.6 356.4l-17.7-11.9l-17.7-11.1l-17.7-10.3l-17.7-9.6l-17.8-8.8l-17.7-8l-17.8-7.3l-17.7-6.6l-17.7-5.8l-17.7-5.2l-17.7-4.4l-17.6-3.7l-17.6-3.1l-17.6-2.4l-17.5-1.7l-17.4-1.1l-17.4-0.4l-17.3 0.2M600.6 349.9l-17.7-11.8l-17.7-11.1l-17.7-10.2l-17.8-9.5l-17.7-8.7l-17.8-8l-17.8-7.3l-17.7-6.5l-17.7-5.7l-17.7-5.1l-17.7-4.4l-17.7-3.7l-17.6-3l-17.6-2.3l-17.5-1.7l-17.4-1l-17.4-0.4l-17.4 0.2M604.6 343.5l-17.7-11.7l-17.7-11l-17.8-10.2l-17.7-9.4l-17.8-8.7l-17.8-7.9l-17.7-7.2l-17.8-6.4l-17.7-5.8l-17.8-5l-17.7-4.3l-17.6-3.6l-17.7-3l-17.5-2.2l-17.6-1.7l-17.4-0.9l-17.4-0.4l-17.4 0.3M608.6 337.2l-17.7-11.6l-17.7-11l-17.8-10.1l-17.8-9.3l-17.7-8.6l-17.8-7.9l-17.8-7.1l-17.8-6.4l-17.7-5.7l-17.8-4.9l-17.7-4.3l-17.7-3.5l-17.6-2.9l-17.6-2.3l-17.5-1.5l-17.5-1l-17.5-0.2l-17.3 0.3M612.6 331.1l-17.7-11.6l-17.8-10.9l-17.7-10l-17.8-9.3l-17.8-8.6l-17.8-7.8l-17.8-7l-17.8-6.3l-17.7-5.6l-17.8-4.9l-17.7-4.2l-17.7-3.6l-17.6-2.8l-17.6-2.2l-17.6-1.5l-17.5-0.9l-17.4-0.2l-17.4 0.4M616.6 325.1l-17.7-11.6l-17.8-10.8l-17.7-10l-17.8-9.2l-17.8-8.5l-17.8-7.7l-17.8-7l-17.8-6.3l-17.8-5.5l-17.8-4.9l-17.7-4.1l-17.7-3.5l-17.7-2.7l-17.6-2.2l-17.6-1.4l-17.5-0.8l-17.4-0.2l-17.4 0.4M620.6 319.2l-17.7-11.5l-17.8-10.8l-17.8-9.9l-17.8-9.2l-17.8-8.4l-17.8-7.6l-17.8-7l-17.8-6.2l-17.8-5.5l-17.8-4.8l-17.7-4l-17.7-3.5l-17.7-2.7l-17.6-2l-17.6-1.5l-17.5-0.7l-17.5-0.1l-17.4 0.4M624.6 313.4l-17.7-11.5l-17.8-10.6l-17.8-9.9l-17.8-9.1l-17.8-8.4l-17.8-7.6l-17.8-6.8l-17.9-6.2l-17.8-5.4l-17.7-4.7l-17.8-4.1l-17.7-3.3l-17.7-2.7l-17.7-2l-17.6-1.4l-17.5-0.7l-17.5-0.1l-17.4 0.6M628.7 307.7l-17.8-11.4l-17.8-10.6l-17.8-9.8l-17.8-9l-17.8-8.3l-17.8-7.6l-17.9-6.8l-17.8-6.1l-17.8-5.4l-17.8-4.6l-17.8-4l-17.7-3.3l-17.7-2.6l-17.7-2l-17.6-1.3l-17.6-0.6l-17.5-0.1l-17.4 0.6M632.7 302.1l-17.8-11.3l-17.8-10.5l-17.8-9.8l-17.8-8.9l-17.8-8.3l-17.9-7.5l-17.8-6.7l-17.9-6.1l-17.8-5.3l-17.8-4.6l-17.8-3.9l-17.7-3.3l-17.7-2.5l-17.7-1.9l-17.6-1.3l-17.6-0.6l-17.5 0l-17.4 0.7M636.7 296.7l-17.8-11.3l-17.7-10.4l-17.9-9.7l-17.8-8.9l-17.8-8.2l-17.9-7.5l-17.8-6.6l-17.9-6l-17.8-5.3l-17.8-4.5l-17.8-3.9l-17.8-3.2l-17.7-2.5l-17.7-1.9l-17.6-1.2l-17.6-0.5l-17.5 0l-17.5 0.7M640.7 291.3l-17.7-11.1l-17.8-10.4l-17.9-9.7l-17.8-8.8l-17.9-8.1l-17.8-7.4l-17.9-6.7l-17.8-5.9l-17.9-5.2l-17.8-4.5l-17.8-3.8l-17.8-3.1l-17.7-2.5l-17.7-1.8l-17.7-1.2l-17.6-0.5l-17.5 0.1l-17.5 0.8M644.8 286.1l-17.8-11.1l-17.8-10.3l-17.8-9.6l-17.9-8.8l-17.9-8.1l-17.8-7.3l-17.9-6.6l-17.9-5.8l-17.8-5.2l-17.9-4.4l-17.8-3.8l-17.7-3.1l-17.8-2.4l-17.7-1.7l-17.7-1.1l-17.6-0.5l-17.5 0.2l-17.5 0.7M648.8 281l-17.8-11l-17.8-10.3l-17.8-9.5l-17.9-8.8l-17.9-8l-17.8-7.2l-17.9-6.5l-17.9-5.9l-17.8-5.1l-17.9-4.3l-17.8-3.8l-17.8-3l-17.8-2.3l-17.7-1.8l-17.7-1l-17.6-0.4l-17.5 0.2l-17.5 0.8M652.9 276l-17.8-11l-17.9-10.2l-17.8-9.4l-17.9-8.7l-17.9-8l-17.8-7.2l-17.9-6.4l-17.9-5.8l-17.9-5l-17.8-4.4l-17.9-3.6l-17.8-3l-17.7-2.3l-17.8-1.7l-17.7-1l-17.6-0.3l-17.6 0.2l-17.5 0.9M656.9 271.2l-17.8-11l-17.8-10.1l-17.9-9.4l-17.9-8.6l-17.8-7.9l-17.9-7.2l-17.9-6.4l-17.9-5.7l-17.9-5l-17.9-4.3l-17.8-3.6l-17.8-2.9l-17.8-2.3l-17.7-1.6l-17.7-0.9l-17.7-0.3l-17.6 0.3l-17.5 0.9M660.9 266.4l-17.8-10.9l-17.8-10.1l-17.9-9.3l-17.8-8.6l-17.9-7.8l-17.9-7.1l-17.9-6.3l-17.9-5.7l-17.9-4.9l-17.9-4.3l-17.8-3.5l-17.9-2.9l-17.8-2.2l-17.7-1.6l-17.7-0.9l-17.7-0.2l-17.6 0.3l-17.5 1M665 261.8l-17.8-10.8l-17.9-10.1l-17.8-9.3l-17.9-8.5l-17.9-7.7l-17.9-7.1l-17.9-6.3l-17.9-5.6l-17.9-4.9l-17.9-4.1l-17.9-3.5l-17.8-2.9l-17.8-2.1l-17.8-1.5l-17.7-0.9l-17.6-0.2l-17.7 0.4l-17.5 1M669 257.2l-17.8-10.7l-17.8-10l-17.9-9.2l-17.9-8.5l-17.9-7.7l-17.9-7l-17.9-6.2l-18-5.6l-17.9-4.8l-17.8-4.1l-17.9-3.5l-17.9-2.8l-17.8-2.1l-17.7-1.4l-17.7-0.8l-17.7-0.2l-17.6 0.4l-17.6 1.1M673.1 252.8l-17.8-10.7l-17.9-9.9l-17.9-9.2l-17.9-8.4l-17.9-7.6l-17.9-6.9l-17.9-6.2l-18-5.5l-17.9-4.8l-17.9-4.1l-17.8-3.4l-17.9-2.7l-17.8-2.1l-17.8-1.4l-17.7-0.8l-17.7-0.1l-17.6 0.5l-17.6 1.1M677.1 248.5l-17.8-10.6l-17.9-9.9l-17.8-9.1l-17.9-8.3l-18-7.6l-17.9-6.9l-17.9-6.2l-17.9-5.4l-18-4.7l-17.9-4.1l-17.9-3.3l-17.8-2.7l-17.8-2l-17.8-1.4l-17.8-0.7l-17.7-0.1l-17.6 0.5l-17.6 1.2M681.2 244.3l-17.9-10.5l-17.8-9.9l-17.9-9l-17.9-8.3l-17.9-7.6l-18-6.8l-17.9-6.1l-17.9-5.3l-18-4.7l-17.9-4l-17.9-3.3l-17.8-2.6l-17.9-2l-17.8-1.3l-17.7-0.7l-17.7-0.1l-17.7 0.6l-17.5 1.2M685.2 240.3l-17.8-10.6l-17.9-9.7l-17.9-9l-17.9-8.3l-17.9-7.5l-17.9-6.7l-18-6.1l-17.9-5.3l-18-4.6l-17.9-4l-17.9-3.2l-17.8-2.6l-17.9-1.9l-17.8-1.3l-17.8-0.6l-17.7 0l-17.6 0.6l-17.6 1.2M689.3 236.3l-17.9-10.5l-17.8-9.7l-17.9-8.9l-17.9-8.2l-18-7.4l-17.9-6.8l-18-5.9l-17.9-5.3l-18-4.6l-17.9-3.9l-17.9-3.2l-17.9-2.5l-17.8-1.9l-17.8-1.2l-17.8-0.6l-17.7 0l-17.7 0.7l-17.6 1.2M693.3 232.4l-17.8-10.4l-17.9-9.6l-17.9-8.9l-17.9-8.1l-17.9-7.4l-18-6.7l-17.9-5.9l-18-5.3l-17.9-4.5l-18-3.8l-17.9-3.2l-17.9-2.5l-17.8-1.8l-17.8-1.2l-17.8-0.5l-17.8 0l-17.6 0.7l-17.6 1.4M697.4 228.7l-17.9-10.4l-17.8-9.6l-17.9-8.8l-18-8.1l-17.9-7.3l-18-6.6l-17.9-5.9l-18-5.2l-17.9-4.5l-18-3.7l-17.9-3.2l-17.9-2.4l-17.8-1.8l-17.9-1.1l-17.8-0.5l-17.7 0.1l-17.7 0.7l-17.6 1.4M701.4 225.1l-17.8-10.3l-17.9-9.6l-17.9-8.7l-17.9-8.1l-18-7.3l-17.9-6.5l-18-5.9l-18-5.1l-17.9-4.4l-18-3.8l-17.9-3l-17.9-2.4l-17.8-1.8l-17.9-1.1l-17.8-0.4l-17.7 0.1l-17.7 0.8l-17.6 1.4M705.5 221.5l-17.9-10.2l-17.8-9.5l-18-8.7l-17.9-8l-17.9-7.2l-18-6.5l-18-5.8l-17.9-5.1l-18-4.4l-17.9-3.7l-18-3l-17.9-2.4l-17.9-1.7l-17.8-1l-17.8-0.4l-17.7 0.2l-17.7 0.8l-17.7 1.4M709.5 218.1l-17.8-10.2l-17.9-9.4l-17.9-8.7l-17.9-7.9l-18-7.2l-18-6.4l-17.9-5.8l-18-5l-18-4.3l-17.9-3.7l-18-3l-17.9-2.3l-17.9-1.6l-17.8-1l-17.8-0.4l-17.8 0.2l-17.7 0.9l-17.6 1.5M713.6 214.8l-17.9-10.1l-17.8-9.4l-18-8.6l-17.9-7.9l-18-7.1l-17.9-6.4l-18-5.7l-18-5l-17.9-4.3l-18-3.6l-17.9-2.9l-18-2.3l-17.8-1.6l-17.9-1l-17.8-0.3l-17.8 0.3l-17.7 0.9l-17.7 1.5M717.6 211.6l-17.8-10l-17.9-9.4l-17.9-8.5l-18-7.9l-17.9-7l-18-6.4l-18-5.6l-17.9-5l-18-4.2l-18-3.6l-17.9-2.9l-17.9-2.2l-17.9-1.6l-17.9-0.9l-17.8-0.3l-17.8 0.3l-17.7 1l-17.7 1.5M721.7 208.6l-17.9-10.1l-17.9-9.2l-17.9-8.6l-17.9-7.7l-18-7.1l-18-6.3l-17.9-5.6l-18-4.9l-18-4.2l-18-3.5l-17.9-2.8l-17.9-2.2l-17.9-1.5l-17.9-0.9l-17.8-0.3l-17.8 0.4l-17.7 1l-17.7 1.5M725.7 205.6l-17.8-10l-17.9-9.2l-17.9-8.5l-18-7.7l-17.9-7l-18-6.3l-18-5.5l-18-4.8l-18-4.2l-17.9-3.5l-18-2.8l-17.9-2.1l-17.9-1.5l-17.9-0.8l-17.8-0.3l-17.8 0.4l-17.7 1.1l-17.7 1.6M729.8 202.7l-17.9-9.9l-17.9-9.2l-17.9-8.4l-17.9-7.7l-18-6.9l-18-6.2l-18-5.5l-17.9-4.8l-18-4.1l-18-3.5l-18-2.7l-17.9-2.1l-17.9-1.5l-17.9-0.8l-17.8-0.1l-17.8 0.4l-17.8 1.1l-17.6 1.6M733.9 200l-17.9-9.9l-17.9-9.1l-17.9-8.4l-18-7.6l-17.9-6.9l-18-6.2l-18-5.4l-18-4.8l-18-4.1l-18-3.3l-17.9-2.8l-18-2l-17.9-1.4l-17.9-0.8l-17.8-0.1l-17.8 0.5l-17.8 1l-17.7 1.7M737.9 197.3l-17.9-9.8l-17.9-9.1l-17.9-8.3l-17.9-7.6l-18-6.8l-18-6.1l-18-5.4l-18-4.8l-18-4l-17.9-3.3l-18-2.7l-17.9-2l-18-1.4l-17.9-0.7l-17.8-0.1l-17.8 0.5l-17.8 1.1l-17.7 1.8M741.9 194.8l-17.8-9.8l-17.9-9l-17.9-8.3l-18-7.5l-18-6.8l-17.9-6.1l-18-5.4l-18-4.6l-18-4l-18-3.3l-18-2.6l-17.9-2l-17.9-1.3l-17.9-0.7l-17.9-0.1l-17.8 0.6l-17.8 1.1l-17.7 1.8M746 192.4l-17.9-9.8l-17.9-8.9l-17.9-8.3l-17.9-7.4l-18-6.8l-18-6l-18-5.4l-18-4.6l-18-3.9l-18-3.3l-17.9-2.6l-18-1.9l-17.9-1.3l-17.9-0.6l-17.9-0.1l-17.8 0.6l-17.8 1.2l-17.7 1.8M750 190l-17.8-9.6l-17.9-9l-17.9-8.1l-18-7.5l-18-6.7l-18-6l-18-5.3l-17.9-4.5l-18-3.9l-18-3.3l-18-2.5l-18-1.9l-17.9-1.2l-17.9-0.7l-17.9 0l-17.8 0.7l-17.7 1.2l-17.8 1.8M754.1 187.8l-17.9-9.6l-17.9-8.9l-17.9-8.1l-17.9-7.4l-18-6.7l-18-5.9l-18-5.3l-18-4.5l-18-3.8l-18-3.2l-18-2.5l-17.9-1.9l-18-1.2l-17.9-0.6l-17.8 0.1l-17.9 0.6l-17.7 1.3l-17.8 1.8M758.1 185.7l-17.8-9.6l-17.9-8.8l-18-8.1l-17.9-7.3l-18-6.7l-18-5.9l-18-5.1l-18-4.5l-18-3.9l-18-3.1l-17.9-2.5l-18-1.8l-17.9-1.2l-17.9-0.5l-17.9 0.1l-17.8 0.7l-17.8 1.3l-17.7 1.9M762.2 183.7l-17.9-9.5l-17.9-8.8l-17.9-8l-18-7.4l-17.9-6.5l-18-5.9l-18-5.1l-18-4.5l-18-3.8l-18-3.1l-18-2.4l-18-1.8l-17.9-1.1l-17.9-0.5l-17.9 0.1l-17.8 0.7l-17.8 1.4l-17.7 1.9M766.2 181.8l-17.9-9.5l-17.8-8.7l-18-8l-17.9-7.3l-18-6.5l-18-5.8l-18-5.1l-18-4.4l-18-3.8l-18-3l-18-2.4l-17.9-1.8l-18-1.1l-17.9-0.4l-17.9 0.1l-17.8 0.8l-17.8 1.3l-17.7 2M770.2 180l-17.8-9.4l-17.9-8.7l-17.9-8l-18-7.2l-18-6.5l-17.9-5.7l-18-5.1l-18-4.4l-18-3.7l-18-3l-18-2.4l-18-1.7l-17.9-1l-18-0.5l-17.8 0.2l-17.9 0.8l-17.8 1.4l-17.7 2M774.3 178.3l-17.9-9.4l-17.9-8.6l-17.9-7.9l-17.9-7.2l-18-6.4l-18-5.8l-18-5l-18-4.3l-18-3.7l-18-3l-18-2.3l-18-1.7l-17.9-1l-17.9-0.4l-17.9 0.2l-17.8 0.9l-17.8 1.4l-17.8 2M778.3 176.8l-17.9-9.4l-17.8-8.6l-18-7.9l-17.9-7.1l-18-6.4l-18-5.7l-18-5l-18-4.3l-18-3.6l-18-2.9l-18-2.3l-17.9-1.7l-18-1l-17.9-0.3l-17.9 0.2l-17.8 0.9l-17.8 1.4l-17.8 2.1M782.3 175.3l-17.8-9.3l-17.9-8.6l-17.9-7.8l-18-7.1l-17.9-6.4l-18-5.6l-18-5l-18-4.2l-18-3.6l-18-2.9l-18-2.3l-18-1.6l-17.9-0.9l-18-0.4l-17.8 0.3l-17.9 0.9l-17.8 1.5l-17.7 2.1M786.3 173.9l-17.8-9.3l-17.9-8.5l-17.9-7.7l-17.9-7.1l-18-6.3l-18-5.6l-18-4.9l-18-4.3l-18-3.5l-18-2.9l-18-2.2l-17.9-1.6l-18-0.9l-17.9-0.3l-17.9 0.3l-17.9 1l-17.8 1.5l-17.7 2.1M790.4 172.7l-17.9-9.3l-17.9-8.5l-17.9-7.7l-17.9-7l-18-6.3l-18-5.5l-18-4.9l-18-4.2l-18-3.5l-18-2.8l-17.9-2.2l-18-1.6l-18-0.9l-17.9-0.2l-17.9 0.3l-17.8 1l-17.8 1.5l-17.8 2.1M794.4 171.5l-17.9-9.2l-17.8-8.4l-17.9-7.7l-18-7l-17.9-6.2l-18-5.6l-18-4.8l-18-4.1l-18-3.5l-18-2.8l-18-2.2l-18-1.5l-17.9-0.8l-17.9-0.3l-17.9 0.4l-17.9 1l-17.8 1.6l-17.8 2.1M798.4 170.4l-17.8-9.1l-17.9-8.4l-17.9-7.7l-18-6.9l-17.9-6.2l-18-5.5l-18-4.8l-18-4.1l-18-3.4l-18-2.8l-18-2.1l-17.9-1.5l-18-0.8l-17.9-0.2l-17.9 0.4l-17.9 1l-17.8 1.6l-17.7 2.2M802.4 169.5l-17.8-9.1l-17.9-8.4l-17.9-7.6l-17.9-6.9l-18-6.1l-18-5.5l-18-4.8l-18-4l-18-3.4l-17.9-2.8l-18-2l-18-1.5l-18-0.8l-17.9-0.2l-17.9 0.5l-17.8 1l-17.8 1.6l-17.8 2.3M806.4 168.6l-17.8-9l-17.9-8.4l-17.9-7.5l-17.9-6.9l-18-6.1l-17.9-5.4l-18-4.7l-18-4.1l-18-3.3l-18-2.7l-18-2.1l-18-1.4l-17.9-0.8l-17.9-0.1l-17.9 0.5l-17.9 1l-17.8 1.7l-17.8 2.2M810.4 167.9l-17.8-9.1l-17.9-8.2l-17.9-7.6l-17.9-6.8l-17.9-6.1l-18-5.3l-18-4.7l-18-4l-18-3.4l-18-2.6l-18-2l-17.9-1.4l-18-0.8l-17.9-0.1l-17.9 0.5l-17.9 1.1l-17.8 1.7l-17.8 2.3M814.4 167.2l-17.8-9l-17.9-8.2l-17.9-7.5l-17.9-6.8l-17.9-6l-18-5.4l-18-4.6l-18-4l-18-3.3l-18-2.6l-17.9-2l-18-1.3l-18-0.7l-17.9-0.1l-17.9 0.5l-17.8 1.1l-17.9 1.7l-17.7 2.3M818.4 166.7l-17.8-9l-17.9-8.2l-17.8-7.4l-18-6.8l-17.9-6l-18-5.3l-18-4.6l-17.9-3.9l-18-3.3l-18-2.6l-18-2l-18-1.3l-17.9-0.6l-17.9-0.1l-17.9 0.5l-17.9 1.2l-17.8 1.7l-17.8 2.3M822.4 166.2l-17.8-8.9l-17.9-8.1l-17.8-7.4l-18-6.7l-17.9-6l-18-5.3l-17.9-4.6l-18-3.9l-18-3.2l-18-2.6l-18-1.9l-17.9-1.3l-18-0.7l-17.9 0l-17.9 0.6l-17.9 1.2l-17.8 1.7l-17.8 2.4M826.4 165.9l-17.8-8.9l-17.9-8.1l-17.8-7.4l-18-6.6l-17.9-6l-18-5.2l-17.9-4.6l-18-3.9l-18-3.2l-18-2.5l-18-1.9l-17.9-1.2l-18-0.7l-17.9 0l-17.9 0.6l-17.8 1.2l-17.9 1.8l-17.7 2.4M830.4 165.6l-17.8-8.8l-17.9-8.1l-17.9-7.3l-17.9-6.6l-17.9-5.9l-17.9-5.3l-18-4.5l-18-3.8l-18-3.2l-18-2.5l-17.9-1.9l-18-1.2l-17.9-0.6l-18 0l-17.9 0.7l-17.8 1.2l-17.8 1.8l-17.8 2.4M834.3 165.5l-17.8-8.8l-17.8-8l-17.9-7.3l-17.9-6.6l-17.9-5.9l-17.9-5.2l-18-4.5l-18-3.8l-18-3.1l-17.9-2.5l-18-1.8l-18-1.2l-17.9-0.6l-17.9 0l-17.9 0.7l-17.9 1.2l-17.8 1.9l-17.8 2.4M838.3 165.5l-17.8-8.8l-17.8-8l-17.9-7.3l-17.9-6.5l-17.9-5.9l-17.9-5.1l-18-4.5l-18-3.8l-17.9-3.1l-18-2.4l-18-1.8l-18-1.2l-17.9-0.5l-17.9 0l-17.9 0.7l-17.9 1.3l-17.8 1.8l-17.8 2.5M842.3 165.5l-17.8-8.7l-17.8-8l-17.9-7.2l-17.9-6.5l-17.9-5.8l-17.9-5.2l-18-4.4l-18-3.7l-17.9-3.1l-18-2.4l-18-1.8l-17.9-1.2l-18-0.5l-17.9 0.1l-17.9 0.7l-17.8 1.3l-17.9 1.9M846.2 165.7l-17.8-8.7l-17.8-7.9l-17.8-7.3l-17.9-6.4l-17.9-5.8l-18-5.1l-17.9-4.4l-18-3.7l-17.9-3.1l-18-2.4l-18-1.7l-17.9-1.1l-18-0.5l-17.9 0.1l-17.9 0.7l-17.8 1.3M850.2 165.9l-17.8-8.6l-17.8-7.9l-17.8-7.2l-17.9-6.4l-17.9-5.8l-18-5l-17.9-4.4l-18-3.7l-17.9-3l-18-2.4l-18-1.7l-17.9-1.1l-17.9-0.5l-18 0.2l-17.8 0.7l-17.9 1.4M854.1 166.3l-17.7-8.6l-17.8-7.9l-17.9-7.1l-17.9-6.5l-17.9-5.7l-17.9-5l-17.9-4.3l-18-3.7l-17.9-3l-18-2.3l-18-1.7l-17.9-1.1l-17.9-0.4l-17.9 0.1l-17.9 0.8M858.1 166.7l-17.8-8.5l-17.8-7.9l-17.8-7.1l-17.9-6.4l-17.9-5.7l-17.9-4.9l-17.9-4.4l-18-3.6l-17.9-2.9l-18-2.4l-18-1.6l-17.9-1.1l-17.9-0.4l-17.9 0.2l-17.9 0.8M862 167.3l-17.8-8.5l-17.7-7.9l-17.9-7l-17.8-6.4l-17.9-5.6l-17.9-5l-18-4.3l-17.9-3.6l-18-2.9l-17.9-2.3l-18-1.7l-17.9-1l-17.9-0.4l-17.9 0.2M865.9 167.9l-17.7-8.5l-17.8-7.7l-17.8-7.1l-17.9-6.3l-17.9-5.6l-17.9-5l-17.9-4.2l-17.9-3.6l-18-2.9l-17.9-2.3l-18-1.6l-17.9-1l-17.9-0.4M869.8 168.7l-17.7-8.5l-17.8-7.7l-17.8-7l-17.8-6.3l-17.9-5.6l-17.9-4.9l-17.9-4.3l-17.9-3.5l-18-2.9l-17.9-2.2l-18-1.6l-17.9-1l-17.9-0.4M873.7 169.5l-17.7-8.4l-17.7-7.7l-17.8-7l-17.9-6.3l-17.8-5.5l-17.9-4.9l-18-4.2l-17.9-3.5l-17.9-2.9l-17.9-2.2l-18-1.6l-17.9-0.9M877.7 170.5l-17.8-8.4l-17.7-7.7l-17.8-7l-17.8-6.2l-17.9-5.5l-17.9-4.9l-17.9-4.2l-17.9-3.5l-17.9-2.8l-18-2.2l-17.9-1.5l-17.9-1M881.6 171.5l-17.7-8.4l-17.8-7.6l-17.8-6.9l-17.8-6.2l-17.9-5.6l-17.8-4.8l-17.9-4.1l-18-3.5l-17.9-2.8l-17.9-2.2l-17.9-1.5M885.4 172.7l-17.6-8.4l-17.8-7.6l-17.8-6.9l-17.8-6.2l-17.8-5.5l-17.9-4.8l-17.9-4.1l-17.9-3.4l-17.9-2.8l-17.9-2.2M889.3 173.9l-17.7-8.3l-17.7-7.6l-17.8-6.9l-17.8-6.1l-17.8-5.5l-17.9-4.8l-17.8-4.1l-17.9-3.4l-18-2.8l-17.9-2.1" fill="none" stroke="#000" stroke-opacity="0.4" stroke-width="1.0"/>
<path d="M568.8 405.3l17.6-31.7l17.7-29.4l17.9-27l17.8-24.7l18-22.4l18-20.2l18-17.9l18-15.7l18-13.6l18-11.4l18-9.3l17.9-7.2l17.8-5.1l17.8-3.1l17.7-1.1l17.6 0.8l17.4 2.9l17.3 4.7M564.8 402.4l17.6-31.6l17.8-29.3l17.8-26.9l17.9-24.7l17.9-22.3l18-20.1l18-17.9l18-15.7l18-13.5l18-11.3l17.9-9.3l18-7.1l17.8-5.1l17.8-3.1l17.7-1.1l17.6 0.9l17.4 2.9l17.4 4.8M560.9 399.6l17.6-31.6l17.7-29.2l17.8-26.9l17.9-24.5l17.9-22.3l18-20l18-17.9l18-15.6l18-13.4l18-11.3l17.9-9.2l17.9-7.2l17.9-5l17.8-3l17.7-1.1l17.6 1l17.4 2.9l17.4 4.8M556.9 396.8l17.6-31.5l17.7-29.1l17.8-26.8l17.9-24.5l17.9-22.3l17.9-19.9l18-17.8l18-15.6l18.1-13.4l17.9-11.2l18-9.2l17.9-7l17.9-5.1l17.8-2.9l17.7-1l17.6 0.9l17.5 3l17.3 4.8M552.9 394.1l17.6-31.4l17.7-29.1l17.8-26.8l17.9-24.4l17.9-22.2l17.9-19.9l18-17.7l18-15.5l18-13.3l18-11.3l18-9.1l17.9-7l17.9-5l17.8-2.9l17.7-1l17.6 1.1l17.5 2.9l17.3 4.9M549 391.4l17.6-31.4l17.6-29l17.8-26.6l17.9-24.4l17.9-22.1l17.9-19.9l18-17.6l18-15.5l18-13.3l18-11.2l18-9l17.9-7l17.9-4.9l17.8-2.9l17.7-0.9l17.6 1l17.5 3l17.3 4.9M545 388.7l17.6-31.2l17.7-29l17.7-26.6l17.9-24.3l17.9-22.1l17.9-19.8l18-17.6l18-15.4l18-13.2l18-11.1l17.9-9l18-7l17.8-4.8l17.8-2.9l17.8-0.9l17.6 1.1l17.5 3l17.3 4.9M541.1 386.1l17.5-31.2l17.7-28.9l17.7-26.5l17.8-24.3l17.9-21.9l18-19.8l18-17.5l18-15.4l18-13.2l17.9-11l18-9l17.9-6.9l17.9-4.8l17.8-2.9l17.7-0.8l17.7 1.1l17.5 3.1l17.4 4.9M537.1 383.6l17.5-31.2l17.7-28.8l17.7-26.5l17.8-24.2l17.9-21.9l18-19.7l17.9-17.5l18-15.3l18-13.1l18-11l18-8.9l17.9-6.9l17.9-4.8l17.8-2.8l17.7-0.8l17.7 1.2l17.5 3.1l17.4 4.9M533.1 381l17.5-31.1l17.7-28.7l17.7-26.4l17.8-24.1l17.9-21.9l17.9-19.6l18-17.5l18-15.2l18-13.1l18-11l18-8.8l17.9-6.8l17.9-4.8l17.8-2.7l17.7-0.8l17.6 1.2l17.6 3.1l17.4 5M529.2 378.5l17.5-31l17.6-28.7l17.7-26.3l17.8-24.1l17.9-21.8l17.9-19.6l18-17.3l18-15.2l18-13l18-11l17.9-8.8l18-6.7l17.8-4.8l17.9-2.7l17.7-0.7l17.6 1.2l17.6 3.2l17.4 5M525.2 376.1l17.5-31l17.6-28.6l17.7-26.3l17.8-24l17.9-21.7l17.9-19.5l18-17.3l17.9-15.2l18-13l18-10.8l18-8.8l17.9-6.7l17.9-4.7l17.8-2.7l17.8-0.7l17.6 1.3l17.6 3.2l17.4 5M521.2 373.7l17.5-30.9l17.6-28.6l17.7-26.2l17.8-23.9l17.9-21.7l17.9-19.5l17.9-17.2l18-15.1l18-12.9l18-10.9l18-8.7l17.9-6.7l17.9-4.6l17.8-2.6l17.8-0.7l17.6 1.3l17.6 3.2l17.4 5.1M517.2 371.3l17.5-30.8l17.6-28.5l17.7-26.2l17.8-23.8l17.8-21.7l18-19.4l17.9-17.2l18-15l18-12.9l18-10.8l17.9-8.6l18-6.7l17.9-4.6l17.8-2.6l17.7-0.6l17.7 1.3l17.5 3.3l17.5 5.1M513.3 369l17.4-30.8l17.6-28.4l17.7-26.1l17.8-23.8l17.8-21.6l17.9-19.3l18-17.2l17.9-14.9l18-12.9l18-10.7l18-8.7l17.9-6.5l17.9-4.6l17.9-2.6l17.7-0.5l17.7 1.3l17.5 3.3l17.5 5.1M509.3 366.7l17.5-30.7l17.5-28.4l17.7-26l17.8-23.8l17.8-21.5l17.9-19.2l17.9-17.1l18-15l18-12.8l18-10.6l18-8.6l17.9-6.6l17.9-4.5l17.8-2.5l17.8-0.6l17.7 1.4l17.5 3.3l17.5 5.2M505.3 364.4l17.5-30.6l17.5-28.3l17.7-26l17.8-23.7l17.8-21.4l17.9-19.2l17.9-17.1l18-14.8l18-12.8l17.9-10.6l18-8.6l18-6.5l17.9-4.4l17.8-2.5l17.8-0.5l17.6 1.4l17.6 3.3l17.5 5.2M501.4 362.2l17.4-30.6l17.5-28.2l17.7-25.9l17.7-23.6l17.9-21.4l17.8-19.2l18-17l17.9-14.8l18-12.7l18-10.6l18-8.5l17.9-6.4l17.9-4.5l17.9-2.4l17.7-0.5l17.7 1.5l17.6 3.3l17.5 5.3M497.4 360l17.4-30.5l17.5-28.1l17.7-25.9l17.7-23.5l17.8-21.4l17.9-19.1l17.9-16.9l18-14.8l18-12.6l18-10.6l17.9-8.4l18-6.4l17.9-4.4l17.8-2.4l17.8-0.5l17.7 1.5l17.6 3.4l17.4 5.3M493.4 357.9l17.4-30.4l17.5-28.1l17.7-25.8l17.7-23.5l17.8-21.3l17.9-19.1l17.9-16.8l18-14.8l17.9-12.5l18-10.5l18-8.4l17.9-6.4l17.9-4.4l17.9-2.3l17.8-0.5l17.7 1.6l17.6 3.4l17.4 5.3M489.5 355.8l17.3-30.4l17.5-28l17.7-25.7l17.7-23.5l17.8-21.2l17.9-19l17.9-16.8l17.9-14.7l18-12.5l18-10.5l17.9-8.3l18-6.4l17.9-4.3l17.9-2.3l17.7-0.4l17.7 1.6l17.6 3.4l17.5 5.3M485.5 353.7l17.4-30.3l17.5-27.9l17.6-25.7l17.7-23.4l17.8-21.1l17.8-19l17.9-16.8l18-14.6l18-12.5l17.9-10.4l18-8.3l17.9-6.3l18-4.3l17.8-2.3l17.8-0.3l17.7 1.6l17.6 3.5l17.5 5.3M481.5 351.7l17.4-30.2l17.5-27.9l17.6-25.6l17.7-23.4l17.7-21.1l17.9-18.8l17.9-16.8l17.9-14.5l18-12.5l18-10.3l18-8.3l17.9-6.3l17.9-4.2l17.9-2.3l17.8-0.3l17.7 1.7l17.6 3.5l17.5 5.4M477.5 349.7l17.4-30.1l17.5-27.9l17.5-25.5l17.7-23.3l17.8-21l17.9-18.9l17.9-16.6l17.9-14.5l18-12.4l17.9-10.3l18-8.3l18-6.2l17.9-4.2l17.8-2.2l17.8-0.3l17.7 1.7l17.7 3.5l17.5 5.4M473.6 347.8l17.3-30.1l17.5-27.8l17.5-25.5l17.7-23.2l17.8-21l17.8-18.8l17.9-16.6l18-14.4l17.9-12.4l18-10.2l18-8.2l17.9-6.2l17.9-4.2l17.9-2.1l17.8-0.3l17.7 1.7l17.6 3.6l17.6 5.4M469.6 345.8l17.3-30l17.5-27.7l17.5-25.4l17.7-23.1l17.8-21l17.8-18.7l17.9-16.6l17.9-14.4l18-12.3l17.9-10.2l18-8.1l18-6.2l17.9-4.1l17.9-2.1l17.8-0.2l17.7 1.7l17.6 3.6l17.5 5.4M465.6 344l17.3-30l17.5-27.6l17.5-25.4l17.7-23.1l17.7-20.8l17.9-18.7l17.8-16.5l18-14.4l17.9-12.2l18-10.2l18-8.1l17.9-6.1l17.9-4.1l17.9-2.1l17.8-0.2l17.7 1.8l17.7 3.6l17.5 5.5M461.6 342.1l17.3-29.8l17.5-27.6l17.5-25.3l17.7-23.1l17.7-20.8l17.8-18.6l17.9-16.4l17.9-14.4l18-12.2l18-10.1l17.9-8l18-6.1l17.9-4l17.9-2.1l17.8-0.1l17.7 1.7l17.7 3.7l17.5 5.5M457.7 340.3l17.2-29.8l17.5-27.5l17.5-25.2l17.6-23l17.8-20.8l17.8-18.5l17.9-16.4l17.9-14.3l17.9-12.1l18-10.1l18-8l17.9-6l17.9-4.1l17.9-2l17.8-0.1l17.8 1.8l17.6 3.7l17.6 5.5M453.7 338.6l17.3-29.8l17.4-27.4l17.5-25.2l17.6-22.9l17.8-20.7l17.8-18.5l17.8-16.4l17.9-14.2l18-12.1l18-10l17.9-8l18-6l17.9-3.9l17.9-2l17.8-0.1l17.7 1.8l17.7 3.7l17.5 5.6M449.7 336.9l17.3-29.7l17.4-27.4l17.5-25.1l17.6-22.9l17.7-20.6l17.8-18.5l17.9-16.3l17.9-14.2l17.9-12l18-10l18-7.9l17.9-6l17.9-3.9l17.9-2l17.9 0l17.7 1.9l17.7 3.7l17.5 5.6M445.8 335.2l17.2-29.6l17.4-27.4l17.5-25l17.6-22.8l17.7-20.6l17.8-18.4l17.8-16.3l18-14.1l17.9-12l18-9.9l17.9-7.9l18-5.9l17.9-3.9l17.9-1.9l17.8-0.1l17.8 1.9l17.6 3.8l17.6 5.6M441.8 333.5l17.2-29.5l17.4-27.3l17.5-25l17.6-22.7l17.7-20.6l17.8-18.3l17.8-16.2l17.9-14.1l17.9-11.9l18-9.9l18-7.9l17.9-5.8l18-3.9l17.8-1.9l17.9 0l17.7 2l17.7 3.8l17.6 5.6M437.8 331.9l17.2-29.5l17.4-27.2l17.5-24.9l17.6-22.7l17.6-20.5l17.8-18.3l17.9-16.1l17.9-14l17.9-11.9l18-9.9l17.9-7.8l18-5.8l17.9-3.8l17.9-1.9l17.8 0.1l17.8 1.9l17.7 3.8l17.5 5.7M433.9 330.4l17.1-29.5l17.4-27.1l17.5-24.9l17.5-22.6l17.7-20.4l17.8-18.3l17.8-16.1l17.9-13.9l18-11.9l17.9-9.8l18-7.8l17.9-5.8l18-3.8l17.8-1.8l17.9 0.1l17.8 2l17.6 3.8l17.6 5.7M429.9 328.8l17.2-29.3l17.3-27.1l17.4-24.8l17.6-22.6l17.7-20.4l17.8-18.2l17.8-16l17.9-13.9l17.9-11.9l18-9.7l17.9-7.8l18-5.7l17.9-3.7l17.9-1.8l17.8 0.1l17.8 2l17.7 3.9l17.6 5.7M425.9 327.3l17.2-29.3l17.3-27l17.4-24.7l17.6-22.6l17.7-20.3l17.7-18.1l17.9-16l17.8-13.9l18-11.8l17.9-9.7l18-7.7l17.9-5.7l18-3.7l17.8-1.7l17.9 0.1l17.8 2.1l17.7 3.9l17.6 5.7M422 325.9l17.1-29.3l17.3-26.9l17.4-24.7l17.6-22.5l17.6-20.2l17.8-18.1l17.8-16l17.9-13.8l17.9-11.7l18-9.7l17.9-7.7l18-5.6l17.9-3.7l17.9-1.7l17.8 0.2l17.8 2l17.7 4l17.6 5.7M418 324.4l17.1-29.1l17.3-26.9l17.4-24.7l17.6-22.4l17.6-20.2l17.8-18l17.8-15.9l17.8-13.8l18-11.7l17.9-9.6l18-7.6l17.9-5.6l18-3.7l17.9-1.7l17.8 0.3l17.8 2.1l17.7 3.9l17.6 5.8M414 323.1l17.1-29.2l17.3-26.8l17.4-24.6l17.6-22.3l17.6-20.2l17.7-18l17.8-15.8l17.9-13.7l17.9-11.7l18-9.6l17.9-7.5l18-5.6l17.9-3.6l17.9-1.7l17.9 0.3l17.7 2.1l17.8 4l17.6 5.8M410.1 321.7l17.1-29l17.2-26.8l17.4-24.5l17.5-22.3l17.7-20.1l17.7-18l17.8-15.8l17.9-13.6l17.9-11.6l17.9-9.6l18-7.5l17.9-5.5l18-3.6l17.9-1.6l17.8 0.2l17.8 2.2l17.7 4l17.6 5.8M406.1 320.4l17.1-29l17.2-26.7l17.4-24.5l17.5-22.2l17.7-20.1l17.7-17.8l17.8-15.8l17.8-13.6l17.9-11.6l18-9.5l17.9-7.5l18-5.5l17.9-3.5l17.9-1.6l17.9 0.3l17.8 2.2l17.7 4l17.6 5.9M402.1 319.1l17.1-28.9l17.2-26.7l17.4-24.4l17.5-22.1l17.6-20l17.7-17.9l17.8-15.7l17.9-13.5l17.9-11.6l17.9-9.4l18-7.5l17.9-5.4l18-3.5l17.9-1.6l17.8 0.4l17.8 2.2l17.7 4l17.7 5.9M398.2 317.9l17-28.9l17.3-26.6l17.3-24.3l17.5-22.2l17.6-19.9l17.7-17.8l17.8-15.6l17.8-13.6l17.9-11.4l18-9.4l17.9-7.5l18-5.4l17.9-3.4l17.9-1.6l17.9 0.4l17.8 2.2l17.7 4.1l17.7 5.9M394.2 316.7l17.1-28.8l17.2-26.6l17.3-24.3l17.5-22l17.6-19.9l17.7-17.7l17.8-15.6l17.8-13.5l17.9-11.5l17.9-9.3l18-7.4l17.9-5.4l18-3.4l17.9-1.5l17.8 0.4l17.8 2.3l17.8 4.1l17.6 5.9M390.3 315.5l17-28.7l17.2-26.5l17.3-24.2l17.5-22.1l17.6-19.8l17.7-17.7l17.7-15.5l17.9-13.5l17.9-11.3l17.9-9.4l17.9-7.3l18-5.4l17.9-3.3l17.9-1.5l17.9 0.4l17.8 2.3l17.7 4.1l17.7 6M386.3 314.4l17-28.7l17.2-26.4l17.3-24.2l17.5-22l17.6-19.7l17.6-17.7l17.8-15.5l17.8-13.4l17.9-11.3l17.9-9.3l18-7.3l17.9-5.3l18-3.4l17.9-1.4l17.8 0.5l17.9 2.3l17.7 4.2M382.4 313.3l17-28.7l17.1-26.3l17.3-24.1l17.5-21.9l17.5-19.8l17.7-17.5l17.8-15.5l17.8-13.3l17.9-11.3l17.9-9.3l17.9-7.2l18-5.3l17.9-3.3l17.9-1.4l17.9 0.5l17.8 2.3l17.8 4.2M378.4 312.2l17-28.6l17.1-26.3l17.3-24l17.5-21.9l17.5-19.6l17.7-17.6l17.7-15.4l17.9-13.3l17.8-11.2l17.9-9.2l18-7.2l17.9-5.3l18-3.3l17.9-1.3l17.9 0.5l17.8 2.4l17.7 4.2M374.5 311.2l16.9-28.5l17.2-26.3l17.3-24l17.4-21.8l17.5-19.6l17.7-17.5l17.7-15.3l17.8-13.3l17.9-11.2l17.9-9.2l17.9-7.1l18-5.2l17.9-3.3l17.9-1.3l17.9 0.5l17.8 2.4l17.8 4.3M370.5 310.2l17-28.5l17.1-26.1l17.3-24l17.4-21.7l17.5-19.6l17.7-17.4l17.7-15.3l17.8-13.2l17.9-11.2l17.9-9.1l17.9-7.2l17.9-5.1l18-3.3l17.9-1.3l17.9 0.6l17.8 2.4l17.8 4.3M366.6 309.2l16.9-28.4l17.1-26.1l17.3-23.9l17.4-21.7l17.5-19.5l17.6-17.3l17.8-15.3l17.8-13.2l17.8-11.1l17.9-9.1l18-7.1l17.9-5.1l17.9-3.2l18-1.3l17.8 0.6l17.9 2.5l17.7 4.3M362.6 308.3l16.9-28.3l17.1-26.1l17.3-23.8l17.4-21.6l17.5-19.5l17.6-17.3l17.7-15.2l17.8-13.2l17.9-11.1l17.9-9l17.9-7.1l17.9-5.1l18-3.1l17.9-1.3l17.9 0.7l17.8 2.5l17.8 4.3M358.7 307.4l16.9-28.2l17.1-26l17.2-23.8l17.4-21.6l17.5-19.4l17.6-17.3l17.7-15.2l17.8-13l17.8-11.1l17.9-9l18-7l17.9-5.1l17.9-3.1l18-1.2l17.9 0.7l17.8 2.5l17.8 4.3M354.7 306.6l16.9-28.2l17.1-26l17.2-23.7l17.4-21.5l17.5-19.4l17.6-17.2l17.7-15.1l17.8-13.1l17.8-11l17.9-8.9l17.9-7l18-5l17.9-3.1l17.9-1.2l17.9 0.7l17.9 2.5l17.7 4.3M350.8 305.7l16.9-28.1l17-25.9l17.2-23.7l17.4-21.4l17.5-19.3l17.6-17.2l17.7-15.1l17.7-13l17.9-10.9l17.9-9l17.9-6.9l17.9-5l18-3.1l17.9-1.1l17.9 0.7l17.8 2.6l17.8 4.3M346.9 305l16.8-28.1l17.1-25.9l17.2-23.6l17.3-21.4l17.5-19.2l17.6-17.2l17.7-15l17.7-13l17.9-10.9l17.8-8.9l18-6.9l17.9-4.9l17.9-3l17.9-1.2l17.9 0.8l17.9 2.6l17.8 4.4M342.9 304.2l16.9-28l17-25.8l17.2-23.5l17.3-21.4l17.5-19.2l17.6-17.1l17.6-15l17.8-12.9l17.8-10.9l17.9-8.8l17.9-6.9l18-4.9l17.9-3l17.9-1.1l17.9 0.8l17.9 2.6l17.7 4.4M339 303.5l16.8-28l17-25.7l17.2-23.5l17.3-21.3l17.5-19.2l17.6-17l17.6-14.9l17.8-12.9l17.8-10.8l17.9-8.8l17.9-6.9l17.9-4.8l18-3l17.9-1.1l17.9 0.8l17.8 2.7M335.1 302.8l16.8-27.9l17-25.6l17.1-23.5l17.3-21.3l17.5-19.1l17.5-17l17.7-14.8l17.8-12.9l17.8-10.7l17.8-8.8l18-6.8l17.9-4.9l17.9-2.9l17.9-1l17.9 0.8l17.9 2.6M331.2 302.2l16.7-27.9l17-25.6l17.2-23.4l17.3-21.2l17.4-19l17.5-17l17.7-14.8l17.7-12.8l17.9-10.7l17.8-8.8l17.9-6.7l17.9-4.9l18-2.9l17.9-1l17.9 0.9l17.9 2.7M327.2 301.6l16.8-27.8l17-25.6l17.1-23.3l17.3-21.2l17.4-19l17.5-16.9l17.7-14.8l17.7-12.7l17.8-10.7l17.9-8.7l17.9-6.7l17.9-4.8l17.9-2.9l18-1l17.9 0.9l17.8 2.7M323.3 301l16.8-27.8l16.9-25.4l17.1-23.3l17.3-21.1l17.4-19l17.5-16.8l17.7-14.8l17.7-12.7l17.8-10.6l17.9-8.7l17.9-6.7l17.9-4.7l17.9-2.9l17.9-0.9l17.9 0.9l17.9 2.7M319.4 300.4l16.7-27.6l17-25.5l17.1-23.2l17.2-21.1l17.4-18.9l17.6-16.8l17.6-14.7l17.7-12.6l17.8-10.6l17.8-8.7l17.9-6.6l18-4.7l17.9-2.8l17.9-1l17.9 1l17.9 2.7M315.5 299.9l16.7-27.6l16.9-25.4l17.1-23.1l17.3-21.1l17.3-18.8l17.6-16.8l17.6-14.6l17.7-12.6l17.8-10.6l17.8-8.6l17.9-6.6l17.9-4.7l18-2.8l17.9-0.9l17.9 1l17.8 2.8M311.6 299.4l16.7-27.5l16.9-25.3l17.1-23.2l17.2-20.9l17.4-18.8l17.5-16.7l17.6-14.6l17.7-12.6l17.8-10.6l17.8-8.5l17.9-6.6l17.9-4.6l17.9-2.8l18-0.8l17.9 0.9l17.8 2.8M307.7 299l16.7-27.5l16.8-25.3l17.1-23l17.2-20.9l17.4-18.8l17.5-16.7l17.6-14.5l17.7-12.6l17.8-10.5l17.8-8.5l17.9-6.5l17.9-4.6l17.9-2.7l17.9-0.9l17.9 1l17.9 2.8M303.8 298.6l16.6-27.5l16.9-25.2l17-23l17.3-20.8l17.3-18.8l17.5-16.6l17.6-14.5l17.7-12.5l17.7-10.4l17.9-8.5l17.9-6.5l17.9-4.6l17.9-2.7l17.9-0.8l17.9 1l17.9 2.9M299.9 298.2l16.6-27.4l16.9-25.1l17-23l17.2-20.8l17.3-18.7l17.5-16.5l17.6-14.5l17.7-12.5l17.7-10.4l17.9-8.4l17.8-6.5l17.9-4.5l18-2.7l17.9-0.8l17.9 1.1l17.9 2.8M296 297.9l16.6-27.4l16.8-25.1l17.1-22.9l17.1-20.7l17.4-18.6l17.4-16.6l17.6-14.4l17.7-12.4l17.7-10.4l17.9-8.4l17.8-6.4l17.9-4.5l18-2.7l17.9-0.7l17.9 1.1l17.8 2.8M292.1 297.6l16.6-27.3l16.8-25.1l17-22.8l17.2-20.7l17.3-18.6l17.4-16.5l17.6-14.4l17.7-12.3l17.7-10.4l17.8-8.3l17.9-6.4l17.9-4.5l17.9-2.6l18-0.7l17.9 1.1M288.2 297.3l16.6-27.2l16.8-25l17-22.8l17.1-20.7l17.3-18.5l17.5-16.4l17.5-14.4l17.7-12.3l17.7-10.3l17.8-8.3l17.9-6.4l17.9-4.5l17.9-2.5l17.9-0.7l17.9 1.1M284.3 297l16.6-27.1l16.8-25l16.9-22.7l17.2-20.6l17.3-18.5l17.4-16.4l17.5-14.3l17.7-12.3l17.7-10.2l17.8-8.3l17.9-6.4l17.9-4.4l17.9-2.5l17.9-0.7l17.9 1.1M280.4 296.8l16.6-27.1l16.7-24.9l17-22.7l17.1-20.5l17.3-18.5l17.4-16.3l17.6-14.3l17.6-12.2l17.7-10.2l17.8-8.3l17.9-6.3l17.9-4.4l17.9-2.5l17.9-0.6l17.9 1.1M276.5 296.6l16.6-27l16.7-24.8l17-22.7l17.1-20.5l17.3-18.4l17.4-16.3l17.5-14.2l17.6-12.2l17.7-10.2l17.8-8.2l17.9-6.3l17.9-4.3l17.9-2.5l17.9-0.6l17.9 1.2M272.6 296.5l16.6-27l16.7-24.8l16.9-22.6l17.1-20.4l17.3-18.4l17.4-16.2l17.5-14.2l17.6-12.2l17.8-10.1l17.7-8.2l17.9-6.2l17.9-4.4l17.9-2.4l17.9-0.6l17.9 1.2M268.8 296.4l16.5-27l16.7-24.7l16.9-22.5l17.1-20.4l17.3-18.3l17.3-16.2l17.5-14.2l17.7-12.1l17.7-10.1l17.8-8.2l17.8-6.2l17.9-4.3l17.9-2.4l17.9-0.6l17.9 1.3M264.9 296.3l16.5-26.9l16.7-24.7l16.9-22.5l17.1-20.3l17.2-18.3l17.4-16.1l17.5-14.1l17.6-12.1l17.7-10.1l17.8-8.1l17.8-6.2l17.9-4.2l17.9-2.4l17.9-0.6l17.9 1.3M261 296.2l16.5-26.8l16.7-24.6l16.9-22.5l17-20.3l17.3-18.2l17.3-16.1l17.5-14l17.6-12.1l17.7-10l17.8-8.1l17.8-6.1l17.9-4.3l17.9-2.3l17.9-0.6l17.9 1.3M257.1 296.2l16.5-26.7l16.7-24.6l16.9-22.4l17-20.3l17.2-18.1l17.4-16.1l17.5-14l17.5-12l17.7-10l17.8-8.1l17.8-6.1l17.9-4.2l17.9-2.3l17.9-0.5l17.9 1.3M253.3 296.2l16.4-26.7l16.7-24.5l16.9-22.4l17-20.2l17.2-18.1l17.3-16l17.5-14l17.6-11.9l17.7-10l17.7-8l17.8-6.1l17.9-4.2l17.9-2.3l17.9-0.4l17.9 1.3" fill="none" stroke="#000" stroke-opacity="0.4" stroke-width="1.0"/>
<g fill="#0a0a0a"><circle cx="242.1" cy="79.1" r="2.4"/><circle cx="244.9" cy="133.4" r="2.4"/><circle cx="247.7" cy="187.6" r="2.4"/><circle cx="250.5" cy="241.9" r="2.4"/><circle cx="253.3" cy="296.1" r="2.4"/><circle cx="256.1" cy="350.4" r="2.4"/><circle cx="258.9" cy="404.6" r="2.4"/><circle cx="264.1" cy="506.1" r="2.4"/><circle cx="568.5" cy="654.3" r="2.2"/><circle cx="492.4" cy="617.2" r="2.2"/><circle cx="416.3" cy="580.2" r="2.2"/><circle cx="340.2" cy="543.2" r="2.2"/><circle cx="645" cy="617.2" r="2.2"/><circle cx="721.5" cy="580.1" r="2.2"/><circle cx="798.1" cy="543.1" r="2.2"/><circle cx="874.6" cy="506" r="2.2"/></g>
<text transform="translate(208.6 71.2) scale(1 1.06)" y="10.8" font-size="32">8.0</text>
<text transform="translate(208.6 186.1) scale(1 1.06)" y="10.8" font-size="32">7.0</text>
<text transform="translate(204.5 305.6) scale(1 1.06)" y="10.8" font-size="32">6.0</text>
<text transform="translate(209 420) scale(1 1.06)" y="10.8" font-size="32">5.0</text>
<text transform="translate(121.1 320) rotate(-90) scale(1 1.06)" y="10.6" font-size="31.3">TPEU yield (%)</text>
<text transform="translate(213.7 537.3) scale(1 1.06)" y="10.8" font-size="32">1.00</text>
<text transform="translate(292.7 574.4) scale(1 1.06)" y="10.8" font-size="32">0.50</text>
<text transform="translate(384.3 603.7) scale(1 1.06)" y="10.8" font-size="32">0.00</text>
<text transform="translate(450.2 643.3) scale(1 1.06)" y="10.8" font-size="32">-0.50</text>
<text transform="translate(529.6 678.7) scale(1 1.06)" y="10.8" font-size="32">-1.00</text>
<text transform="translate(274.4 638.4) scale(1 1.06)" y="10.8" font-size="32">B:B</text>
<text transform="translate(628.7 672.6) scale(1 1.06)" y="10.8" font-size="32">-1.00</text>
<text transform="translate(687.3 636) scale(1 1.06)" y="10.8" font-size="32">-0.50</text>
<text transform="translate(766.2 606.6) scale(1 1.06)" y="10.8" font-size="32">0.00</text>
<text transform="translate(828.2 576.1) scale(1 1.06)" y="10.8" font-size="32">0.50</text>
<text transform="translate(891.2 528.5) scale(1 1.06)" y="10.8" font-size="32" style="text-anchor:start">1.00</text>
<text transform="translate(828.2 632.3) scale(1 1.06)" y="10.8" font-size="32">A:A</text>
<text x="568.3" y="784" font-size="54" style="fill:#000;stroke:none">a</text></g>
<g id="pb"><rect x="1177" y="74" width="581.6" height="513.3" fill="url(#gb)"/>
<g clip-path="url(#cb)" fill="none" stroke="#203800" stroke-opacity=".55" stroke-width="1.4">
<path d="M1237.2 616.9L1231.2 597.8L1225.7 578.3L1220.6 558.6L1216.2 538.7L1212.2 518.5L1208.7 498.1L1205.8 477.6L1203.4 457L1201.6 436.3L1200.3 415.6L1199.5 394.8L1199.3 374L1199.7 353.3L1200.5 332.7L1202 312.1L1203.9 291.7L1206.4 271.5L1209.5 251.5L1213 231.7L1217.1 212.1L1221.7 192.9L1226.8 174L1232.5 155.4L1238.6 137.2L1245.2 119.4L1252.3 102.1L1259.8 85.2L1267.8 68.8L1276.2 52.9"/>
<path d="M1340.7 614.9L1334.9 601.9L1329.4 588.5L1324.3 574.8L1319.4 560.9L1315 546.8L1310.9 532.4L1307.2 517.8L1303.9 503L1301 488.1L1298.4 473.1L1296.3 457.9L1294.5 442.7L1293.1 427.4L1292.2 412L1291.6 396.7L1291.5 381.3L1291.7 366L1292.4 350.7L1293.4 335.5L1294.9 320.4L1296.7 305.5L1299 290.7L1301.6 276L1304.6 261.6L1308 247.3L1311.8 233.3L1316 219.6L1320.5 206.2L1325.4 193L1330.6 180.2L1336.2 167.7L1342.1 155.6L1348.3 143.8L1354.9 132.5L1361.7 121.6L1368.9 111.1L1376.3 101L1384 91.4L1392 82.3L1400.2 73.7L1408.7 65.6L1417.4 58L1426.2 50.9L1435.3 44.4M1654.2 48.9L1663.6 55.8L1672.9 63.2L1681.9 71.1L1690.7 79.6L1699.4 88.5L1707.8 98L1715.9 107.9L1723.8 118.2L1731.5 129L1738.9 140.3L1746 151.9L1752.7 163.9L1759.2 176.3L1765.4 189L1771.2 202L1776.7 215.4L1781.9 229L1786.7 243L1791.1 257.1M1790.2 584.3L1785.6 597.7L1780.8 610.9"/>
</g>
<path d="M1170 74H1758.6" stroke="#5a6e3c" stroke-width="1.6" stroke-opacity=".55"/>
<path d="M1170 587.6H1759.6" stroke="#909090" stroke-width="2.4"/>
<path d="M1177 74V587.3M1758.6 74V587.3" stroke="#787850" stroke-width="1.2" stroke-opacity=".4"/>
<path d="M1161 202.3H1177M1161 330.6H1177M1161 459H1177M1177 587.3V598.3M1322.4 587.3V598.3M1467.8 587.3V598.3M1613.2 587.3V598.3M1758.6 587.3V598.3" stroke="#8e8e8e" stroke-width="1.5"/>
<rect x="1191.8" y="298.5" width="18" height="11" fill="#fff" stroke="#a0a0a0" stroke-width="1.2"/>
<text x="1200.8" y="307.3" font-size="9.5" class="s">6.5</text>
<rect x="1292.4" y="290.5" width="11" height="14" fill="#fff" stroke="#a0a0a0" stroke-width="1.2"/>
<text x="1297.9" y="300.8" font-size="9.5" class="s">7</text>
<rect x="1715.8" y="101.5" width="12" height="15" fill="#fff" stroke="#a0a0a0" stroke-width="1.2"/>
<text x="1721.8" y="112.3" font-size="9.5" class="s">7</text>
<text transform="translate(1480 26.5) scale(1 1.06)" y="11.2" font-size="33">TPEU yield (%)</text>
<text transform="translate(1154.8 68) scale(1 1.06)" y="10.8" font-size="32" style="text-anchor:end">1.00</text>
<text transform="translate(1145 199) scale(1 1.06)" y="10.8" font-size="32" style="text-anchor:end">0.50</text>
<text transform="translate(1136.5 331) scale(1 1.06)" y="10.8" font-size="32" style="text-anchor:end">0.00</text>
<text transform="translate(1134 460) scale(1 1.06)" y="10.8" font-size="32" style="text-anchor:end">-0.50</text>
<text transform="translate(1151.9 591.5) scale(1 1.06)" y="10.8" font-size="32" style="text-anchor:end">-1.00</text>
<text transform="translate(1187.3 626.7) scale(1 1.06)" y="10.8" font-size="32">-1.00</text>
<text transform="translate(1318.1 627.8) scale(1 1.06)" y="10.8" font-size="32">-0.50</text>
<text transform="translate(1467 635.3) scale(1 1.06)" y="10.8" font-size="32">0.00</text>
<text transform="translate(1619.4 627.8) scale(1 1.06)" y="10.8" font-size="32">0.50</text>
<text transform="translate(1769.6 623.9) scale(1 1.06)" y="10.8" font-size="32">1.00</text>
<text transform="translate(1029.5 334.6) rotate(-90) scale(1 1.06)" y="10.8" font-size="32">B:B</text>
<text transform="translate(1468.1 699.7) scale(1 1.06)" y="10.8" font-size="32">A:A</text>
<text x="1471.7" y="778.3" font-size="54" style="fill:#000;stroke:none">b</text></g>
<g id="pc"><path d="M162.8 1378.3L140.4 930.4M242.3 1243.8L229.5 910.5M327.1 1215.7L318.5 890.7M411.9 1187.6L407.6 870.9M496.7 1255.7L496.6 851M829.7 1378.3L852.4 930.8M750.5 1243.9L763.4 910.8M665.9 1215.8L674.5 890.9M581.3 1187.6L585.6 871M140.4 930.4L496.6 851L852.4 930.8M143.2 987.3L496.6 902.4L849.5 987.7M146.1 1044.2L496.6 953.8L846.6 1044.5M148.9 1101.1L496.6 1005.3L843.7 1101.4M151.8 1158L496.7 1056.7L840.9 1158.2M154.6 1215L496.7 1108.1L838 1215.1M157.5 1271.9L496.7 1159.5L835.1 1272" fill="none" stroke="#646464" stroke-opacity=".9" stroke-width="1.6"/>
<path d="M496 1534.6L829.7 1378.3L496.7 1255.7L162.8 1378.3Z" fill="#ff0" stroke="#8c8c14" stroke-width="1"/>
<g clip-path="url(#fcc)" fill="none">
<path d="M152.1 1388L164.2 1380.2L177.6 1372.6L192.2 1365.1L207.9 1357.9L224.7 1350.9L242.5 1344.2L261.2 1337.7L280.7 1331.6L300.9 1325.8L321.7 1320.3L343.1 1315.1L364.8 1310.3L386.8 1305.9L409.1 1301.9L431.4 1298.3L453.7 1295.1L475.8 1292.3L497.8 1290L519.3 1288.1L540.5 1286.7L561 1285.7L580.9 1285.2L600.1 1285.2L618.4 1285.7M746.2 1337.3L745.9 1344.4L744 1351.9L740.6 1359.8L735.6 1367.9L729.1 1376.3L721.2 1384.8L711.8 1393.6L701.1 1402.4L689 1411.3L675.6 1420.2L661 1429.1L645.2 1437.9L628.4 1446.5L610.7 1454.9L592 1463.1L572.5 1470.9L552.3 1478.4L531.5 1485.5L510.2 1492.1L488.4 1498.3L466.4 1503.9L444.2 1508.9L421.9 1513.3" stroke="#f4ff28" stroke-width="1.3"/>
</g>
<g><path d="M496.6 1001.5l10.1 2.1l-10.1 6l-10.1-2.1z" fill="#000000"/><path d="M486.9 999.9l10.2 1.9l-10.1 6.1l-10.1-2z" fill="#000000"/><path d="M506.3 996.4l10.1 2.1l-10.1 5.6l-10.1-2.1z" fill="#000000"/><path d="M477.2 998.5l10.2 1.8l-10.1 6l-10.1-1.8z" fill="#000000"/><path d="M496.6 994.8l10.1 2l-10.1 5.6l-10.1-2z" fill="#000000"/><path d="M516 991.7l10.1 2.1l-10.1 5.2l-10.2-2.1z" fill="#000000"/><path d="M467.5 997.2l10.2 1.6l-10.1 6l-10.1-1.6z" fill="#000000"/><path d="M486.9 993.4l10.1 1.8l-10.1 5.6l-10.1-1.8z" fill="#000000"/><path d="M506.3 990.2l10.1 1.9l-10.1 5.2l-10.1-1.9z" fill="#000000"/><path d="M525.7 987.5l10.1 2.1l-10.2 4.7l-10.1-2z" fill="#000000"/><path d="M457.8 996l10.2 1.5l-10.1 6l-10.1-1.5z" fill="#000000"/><path d="M477.2 992.1l10.1 1.7l-10 5.6l-10.2-1.7z" fill="#000000"/><path d="M496.6 988.8l10.1 1.8l-10.1 5.1l-10.1-1.8z" fill="#000000"/><path d="M516 986l10.1 1.9l-10.1 4.7l-10.2-1.9z" fill="#000000"/><path d="M535.4 983.8l10.1 2l-10.1 4.3l-10.2-2.1z" fill="#000000"/><path d="M448.1 995l10.2 1.4l-10.1 6l-10.1-1.4z" fill="#000000"/><path d="M467.5 991l10.1 1.5l-10 5.6l-10.2-1.5z" fill="#000000"/><path d="M486.9 987.6l10.1 1.6l-10.1 5.1l-10.1-1.6z" fill="#000000"/><path d="M506.3 984.6l10.1 1.8l-10.1 4.7l-10.2-1.8z" fill="#000000"/><path d="M525.7 982.3l10.2 1.9l-10.2 4.2l-10.2-1.9z" fill="#000000"/><path d="M545.2 980.4l10.1 2.1l-10.2 3.8l-10.1-2z" fill="#000000"/><path d="M438.4 994.2l10.1 1.2l-10 5.9l-10.2-1.2z" fill="#000000"/><path d="M457.7 990.1l10.2 1.3l-10.1 5.5l-10.1-1.3z" fill="#000000"/><path d="M477.1 986.5l10.2 1.4l-10.1 5.1l-10.2-1.4z" fill="#000000"/><path d="M496.6 983.4l10.1 1.6l-10.1 4.7l-10.2-1.6z" fill="#000000"/><path d="M516 980.9l10.2 1.8l-10.2 4.2l-10.2-1.7z" fill="#000000"/><path d="M535.5 979l10.1 1.8l-10.2 3.9l-10.1-1.9z" fill="#000000"/><path d="M554.9 977.6l10.1 2l-10.2 3.4l-10.1-2.1z" fill="#000000"/><path d="M428.6 993.5l10.2 1l-10 6l-10.2-1.1z" fill="#000000"/><path d="M448 989.2l10.2 1.2l-10.1 5.5l-10.2-1.2z" fill="#000000"/><path d="M467.4 985.5l10.2 1.3l-10.1 5.1l-10.2-1.3z" fill="#000000"/><path d="M486.8 982.3l10.2 1.5l-10.1 4.7l-10.2-1.5z" fill="#000000"/><path d="M506.3 979.7l10.2 1.6l-10.2 4.2l-10.2-1.6z" fill="#000000"/><path d="M525.7 977.7l10.2 1.7l-10.2 3.8l-10.1-1.8z" fill="#000000"/><path d="M545.2 976.1l10.2 1.9l-10.3 3.3l-10.1-1.8z" fill="#000000"/><path d="M564.7 975.2l10.1 1.9l-10.2 3l-10.1-2.1z" fill="#000000"/><path d="M418.9 992.9l10.2 0.9l-10 6l-10.2-1z" fill="#000000"/><path d="M574.5 973.2l10.1 2l-10.2 2.4l-10.2-2z" fill="#000000"/><path d="M438.3 988.6l10.1 1l-10 5.5l-10.2-1.1z" fill="#000000"/><path d="M457.7 984.7l10.2 1.2l-10.1 5.1l-10.2-1.2z" fill="#000000"/><path d="M477.1 981.4l10.2 1.3l-10.1 4.7l-10.2-1.4z" fill="#000000"/><path d="M496.5 978.7l10.2 1.4l-10.1 4.2l-10.2-1.4z" fill="#000000"/><path d="M516 976.5l10.2 1.6l-10.2 3.7l-10.2-1.6z" fill="#000000"/><path d="M535.5 974.8l10.2 1.7l-10.3 3.4l-10.1-1.8z" fill="#000000"/><path d="M555 973.7l10.1 1.9l-10.2 2.9l-10.1-1.9z" fill="#000000"/><path d="M409.1 992.6l10.2 0.7l-10 5.9l-10.2-0.8z" fill="#000000"/><path d="M584.3 971.7l10.1 1.9l-10.3 2l-10.1-2z" fill="#000000"/><path d="M428.5 988l10.2 0.9l-10.1 5.5l-10.2-0.9z" fill="#000000"/><path d="M447.9 984.1l10.2 1l-10.1 5l-10.2-1z" fill="#000000"/><path d="M467.3 980.7l10.2 1.1l-10.1 4.6l-10.2-1.2z" fill="#000000"/><path d="M486.8 977.8l10.2 1.3l-10.2 4.1l-10.1-1.3z" fill="#000000"/><path d="M506.3 975.5l10.2 1.4l-10.2 3.7l-10.2-1.4z" fill="#000000"/><path d="M525.8 973.7l10.1 1.6l-10.2 3.3l-10.1-1.6z" fill="#000000"/><path d="M545.3 972.5l10.1 1.7l-10.2 2.8l-10.2-1.7z" fill="#000000"/><path d="M564.8 971.8l10.1 1.8l-10.2 2.4l-10.2-1.8z" fill="#000000"/><path d="M399.4 992.3l10.2 0.6l-10 5.9l-10.2-0.6z" fill="#000000"/><path d="M418.7 987.7l10.2 0.7l-10 5.4l-10.2-0.7z" fill="#000000"/><path d="M438.1 983.6l10.3 0.8l-10.1 5.1l-10.2-0.9z" fill="#000000"/><path d="M555 970.6l10.2 1.6l-10.2 2.4l-10.2-1.7z" fill="#000000"/><path d="M574.5 970.4l10.2 1.7l-10.3 2l-10.1-1.8z" fill="#000000"/><path d="M594 970.7l10.2 1.9l-10.3 1.5l-10.1-2z" fill="#000000"/><path d="M457.6 980l10.2 1l-10.1 4.6l-10.2-1z" fill="#000000"/><path d="M477 977l10.3 1.2l-10.2 4.1l-10.2-1.1z" fill="#000000"/><path d="M496.5 974.6l10.2 1.3l-10.1 3.7l-10.2-1.3z" fill="#000000"/><path d="M516 972.7l10.2 1.4l-10.2 3.3l-10.2-1.4z" fill="#000000"/><path d="M535.5 971.4l10.2 1.5l-10.2 2.8l-10.2-1.5z" fill="#000000"/><path d="M389.6 992.2l10.2 0.5l-10 5.8l-10.2-0.4z" fill="#000000"/><path d="M409 987.5l10.2 0.5l-10.1 5.5l-10.2-0.6z" fill="#000000"/><path d="M428.4 983.2l10.2 0.7l-10.1 5l-10.2-0.7z" fill="#000000"/><path d="M564.8 969.2l10.2 1.6l-10.3 1.9l-10.1-1.7z" fill="#000000"/><path d="M584.3 969.4l10.2 1.7l-10.3 1.5l-10.1-1.8z" fill="#000000"/><path d="M603.8 970.1l10.2 1.9l-10.3 1l-10.1-1.9z" fill="#000000"/><path d="M447.8 979.6l10.2 0.8l-10.1 4.6l-10.2-0.9z" fill="#000000"/><path d="M467.3 976.4l10.2 1l-10.1 4.2l-10.3-1.1z" fill="#000000"/><path d="M486.8 973.9l10.2 1.1l-10.2 3.7l-10.2-1.2z" fill="#000000"/><path d="M506.3 971.9l10.2 1.2l-10.2 3.3l-10.2-1.3z" fill="#000000"/><path d="M525.8 970.4l10.2 1.4l-10.2 2.8l-10.2-1.4z" fill="#000000"/><path d="M545.3 969.5l10.2 1.5l-10.2 2.4l-10.2-1.6z" fill="#000000"/><path d="M379.8 992.3l10.2 0.3l-9.9 5.8l-10.3-0.3z" fill="#000000"/><path d="M399.2 987.4l10.2 0.4l-10 5.4l-10.2-0.4z" fill="#000000"/><path d="M418.6 983.1l10.2 0.5l-10 5l-10.3-0.6z" fill="#000000"/><path d="M438 979.3l10.3 0.6l-10.1 4.6l-10.3-0.7z" fill="#000000"/><path d="M457.5 976l10.2 0.8l-10.1 4.1l-10.2-0.8z" fill="#000000"/><path d="M535.6 968.6l10.2 1.3l-10.3 2.4l-10.2-1.4z" fill="#000000"/><path d="M555.1 968.1l10.2 1.5l-10.3 1.9l-10.1-1.5z" fill="#000000"/><path d="M574.6 968.2l10.2 1.6l-10.3 1.5l-10.1-1.7z" fill="#000000"/><path d="M594.1 968.8l10.2 1.8l-10.3 1l-10.1-1.8z" fill="#000000"/><path d="M613.6 970l10.2 1.9l-10.3 0.5l-10.1-1.9z" fill="#000000"/><path d="M477 973.3l10.2 1l-10.1 3.6l-10.3-0.9z" fill="#000000"/><path d="M496.5 971.2l10.2 1.1l-10.2 3.2l-10.2-1.1z" fill="#000000"/><path d="M516 969.6l10.2 1.2l-10.2 2.8l-10.2-1.3z" fill="#000000"/><path d="M370 992.6l10.3 0.1l-10 5.8l-10.2-0.1z" fill="#000000"/><path d="M389.4 987.5l10.2 0.3l-10 5.3l-10.2-0.2z" fill="#000000"/><path d="M408.8 983l10.2 0.4l-10 5l-10.2-0.4z" fill="#000000"/><path d="M428.3 979.1l10.2 0.5l-10.1 4.5l-10.2-0.5z" fill="#000000"/><path d="M447.7 975.7l10.3 0.7l-10.2 4.1l-10.2-0.7z" fill="#000000"/><path d="M545.4 967.2l10.1 1.3l-10.2 1.9l-10.2-1.4z" fill="#000000"/><path d="M564.9 967.2l10.2 1.4l-10.3 1.5l-10.2-1.5z" fill="#000000"/><path d="M584.4 967.7l10.2 1.6l-10.3 1l-10.1-1.7z" fill="#000000"/><path d="M603.9 968.8l10.2 1.7l-10.3 0.5l-10.1-1.7z" fill="#050500"/><path d="M623.5 970.4l10 1.9l-10.2 0l-10.1-1.9z" fill="#0c0a00"/><path d="M467.2 972.9l10.3 0.8l-10.2 3.6l-10.2-0.8z" fill="#000000"/><path d="M486.7 970.7l10.3 0.9l-10.2 3.2l-10.2-1z" fill="#000000"/><path d="M506.3 968.9l10.2 1.1l-10.2 2.8l-10.2-1.1z" fill="#000000"/><path d="M525.8 967.8l10.2 1.2l-10.2 2.3l-10.2-1.2z" fill="#000000"/><path d="M360.3 993l10.2-0.1l-10 5.8l-10.2 0z" fill="#000000"/><path d="M379.6 987.8l10.3 0.1l-10.1 5.3l-10.2-0.1z" fill="#000000"/><path d="M399 983.2l10.3 0.2l-10.1 4.9l-10.2-0.2z" fill="#000000"/><path d="M418.5 979.1l10.2 0.4l-10.1 4.5l-10.2-0.4z" fill="#000000"/><path d="M437.9 975.6l10.3 0.5l-10.1 4.1l-10.3-0.6z" fill="#000000"/><path d="M457.4 972.7l10.3 0.6l-10.2 3.6l-10.2-0.7z" fill="#000000"/><path d="M477 970.3l10.2 0.7l-10.2 3.2l-10.2-0.8z" fill="#000000"/><path d="M516 967.2l10.3 1l-10.3 2.3l-10.2-1.1z" fill="#000000"/><path d="M535.6 966.5l10.2 1.1l-10.2 1.9l-10.2-1.2z" fill="#000000"/><path d="M555.1 966.3l10.2 1.3l-10.2 1.4l-10.2-1.3z" fill="#000000"/><path d="M574.7 966.7l10.2 1.5l-10.3 0.9l-10.2-1.5z" fill="#030200"/><path d="M594.2 967.7l10.2 1.6l-10.3 0.4l-10.1-1.6z" fill="#0a0800"/><path d="M613.8 969.2l10.1 1.7l-10.3 0l-10.1-1.7z" fill="#0f0d01"/><path d="M633.3 971.3l10 1.8l-10.3-0.4l-10-1.9z" fill="#141201"/><path d="M496.5 968.4l10.2 1l-10.2 2.7l-10.2-1z" fill="#000000"/><path d="M350.5 993.5l10.2-0.2l-9.9 5.8l-10.3 0.2z" fill="#000000"/><path d="M643.3 973.4l9.8 1.1l-10.6-1.6l-9.8-1.2z" fill="#1c1801"/><path d="M369.8 988.2l10.3-0.1l-10 5.4l-10.3 0z" fill="#000000"/><path d="M389.2 983.5l10.3 0l-10.1 4.9l-10.2 0z" fill="#000000"/><path d="M408.7 979.3l10.2 0.2l-10.1 4.4l-10.2-0.2z" fill="#000000"/><path d="M428.2 975.6l10.2 0.4l-10.1 4l-10.3-0.4z" fill="#000000"/><path d="M447.7 972.6l10.2 0.4l-10.1 3.6l-10.3-0.5z" fill="#000000"/><path d="M467.2 970.1l10.2 0.6l-10.2 3.1l-10.2-0.6z" fill="#000000"/><path d="M525.8 965.9l10.2 1l-10.2 1.8l-10.2-1.1z" fill="#000000"/><path d="M545.4 965.6l10.2 1.2l-10.3 1.3l-10.2-1.2z" fill="#000000"/><path d="M564.9 965.9l10.2 1.3l-10.2 0.9l-10.2-1.3z" fill="#080600"/><path d="M584.5 966.8l10.1 1.4l-10.2 0.4l-10.2-1.4z" fill="#0e0b01"/><path d="M604.1 968.2l10.1 1.5l-10.3 0l-10.2-1.6z" fill="#130f01"/><path d="M623.6 970.2l10 1.6l-10.3-0.5l-10-1.7z" fill="#181401"/><path d="M486.7 968.1l10.3 0.8l-10.2 2.7l-10.3-0.8z" fill="#000000"/><path d="M506.3 966.7l10.2 0.9l-10.2 2.2l-10.2-0.9z" fill="#000000"/><path d="M340.7 994.3l10.2-0.4l-9.9 5.7l-10.3 0.4z" fill="#000000"/><path d="M652.8 975.5l10.1 0.8l-10.3-2.3l-10.1-0.9z" fill="#241f02"/><path d="M360 988.8l10.3-0.2l-10 5.3l-10.2 0.2z" fill="#000000"/><path d="M379.4 983.9l10.3-0.1l-10 4.9l-10.3 0.1z" fill="#000000"/><path d="M398.9 979.6l10.2 0l-10 4.5l-10.3-0.1z" fill="#000000"/><path d="M418.4 975.8l10.2 0.2l-10.1 4l-10.3-0.2z" fill="#000000"/><path d="M437.9 972.6l10.2 0.4l-10.1 3.5l-10.3-0.3z" fill="#000000"/><path d="M457.4 970l10.2 0.5l-10.1 3.1l-10.3-0.5z" fill="#000000"/><path d="M476.9 967.9l10.3 0.6l-10.2 2.7l-10.3-0.6z" fill="#000000"/><path d="M496.5 966.4l10.2 0.7l-10.2 2.2l-10.2-0.7z" fill="#000000"/><path d="M516.1 965.5l10.2 0.8l-10.3 1.8l-10.2-0.9z" fill="#000000"/><path d="M535.6 965.1l10.2 1l-10.2 1.3l-10.2-1.1z" fill="#050400"/><path d="M555.2 965.2l10.2 1.2l-10.3 0.8l-10.2-1.1z" fill="#0c0901"/><path d="M574.8 966l10.1 1.2l-10.3 0.4l-10.1-1.3z" fill="#110d01"/><path d="M594.3 967.3l10.1 1.4l-10.3-0.1l-10.1-1.4z" fill="#161101"/><path d="M614.1 969.3l9.8 1.4l-10.5-0.7l-9.9-1.4z" fill="#1b1501"/><path d="M633.4 972.5l10 0.7l-10.4-1.9l-9.9-0.8z" fill="#201a01"/><path d="M330.9 995.2l10.2-0.6l-9.9 5.7l-10.2 0.6z" fill="#000000"/><path d="M350.2 989.6l10.3-0.4l-10 5.2l-10.2 0.4z" fill="#000000"/><path d="M643.1 974.4l10.1 0.7l-10.3-2.4l-10.1-0.7z" fill="#282002"/><path d="M662.5 977.8l10.1 0.8l-10.2-2.8l-10.1-0.9z" fill="#2f2802"/><path d="M369.6 984.6l10.3-0.3l-10 4.8l-10.3 0.3z" fill="#000000"/><path d="M486.7 966.3l10.2 0.5l-10.2 2.2l-10.2-0.6z" fill="#000000"/><path d="M506.3 965.2l10.2 0.7l-10.2 1.7l-10.3-0.7z" fill="#030200"/><path d="M623.6 971.5l10.1 0.6l-10.3-1.9l-10.1-0.7z" fill="#231b02"/><path d="M389.1 980.1l10.2-0.1l-10 4.4l-10.3 0.1z" fill="#000000"/><path d="M408.5 976.2l10.3 0l-10.1 4l-10.2-0.1z" fill="#000000"/><path d="M428.1 972.9l10.2 0.1l-10.1 3.5l-10.3-0.1z" fill="#000000"/><path d="M447.6 970.1l10.2 0.3l-10.1 3.1l-10.3-0.3z" fill="#000000"/><path d="M467.1 967.9l10.3 0.4l-10.2 2.7l-10.3-0.5z" fill="#000000"/><path d="M525.8 964.7l10.3 0.8l-10.3 1.3l-10.2-0.9z" fill="#0a0701"/><path d="M545.4 964.7l10.2 1l-10.2 0.8l-10.2-1z" fill="#100b01"/><path d="M565 965.4l10.2 1.1l-10.3 0.3l-10.2-1.1z" fill="#150f01"/><path d="M584.6 966.6l10.1 1.2l-10.3-0.1l-10.1-1.3z" fill="#1a1202"/><path d="M604.3 969.1l9.9 0.5l-10.5-1.3l-9.9-0.6z" fill="#1e1602"/><path d="M321.1 996.2l10.3-0.7l-10 5.7l-10.2 0.7z" fill="#000000"/><path d="M340.4 990.5l10.3-0.6l-10 5.3l-10.2 0.6z" fill="#000000"/><path d="M359.8 985.4l10.3-0.5l-10 4.8l-10.3 0.5z" fill="#000000"/><path d="M496.5 965.1l10.2 0.5l-10.2 1.7l-10.3-0.6z" fill="#070501"/><path d="M633.4 973.5l10.1 0.5l-10.3-2.4l-10.1-0.6z" fill="#2c2102"/><path d="M652.8 976.8l10.2 0.7l-10.3-2.9l-10.1-0.7z" fill="#342902"/><path d="M672.3 980.7l10.1 0.8l-10.2-3.4l-10.1-0.8z" fill="#393002"/><path d="M379.3 980.8l10.2-0.3l-10 4.3l-10.3 0.3z" fill="#000000"/><path d="M476.9 966.3l10.2 0.4l-10.2 2.1l-10.2-0.4z" fill="#000000"/><path d="M516.1 964.4l10.2 0.7l-10.3 1.3l-10.2-0.7z" fill="#0e0901"/><path d="M613.9 970.7l10.1 0.4l-10.3-1.9l-10.1-0.5z" fill="#261b02"/><path d="M398.7 976.7l10.3-0.1l-10.1 3.9l-10.2 0.1z" fill="#000000"/><path d="M418.2 973.3l10.3 0l-10.1 3.4l-10.3 0z" fill="#000000"/><path d="M437.8 970.4l10.2 0.1l-10.1 3l-10.3-0.1z" fill="#000000"/><path d="M457.3 968l10.3 0.3l-10.2 2.6l-10.3-0.3z" fill="#000000"/><path d="M535.6 964.4l10.3 0.8l-10.3 0.8l-10.2-0.9z" fill="#130d01"/><path d="M555.3 964.9l10.1 0.9l-10.3 0.3l-10.1-0.9z" fill="#181002"/><path d="M575.2 966.3l9.8 0.7l-10.6-0.2l-9.9-1z" fill="#1d1402"/><path d="M594.4 968.5l10.1 0.3l-10.3-1.5l-10.1-0.3z" fill="#221702"/><path d="M311.3 997.5l10.3-0.9l-9.9 5.6l-10.3 0.9z" fill="#000000"/><path d="M330.7 991.6l10.2-0.8l-9.9 5.3l-10.3 0.7z" fill="#000000"/><path d="M350 986.3l10.3-0.6l-10 4.8l-10.3 0.6z" fill="#000000"/><path d="M369.5 981.6l10.2-0.5l-10 4.4l-10.3 0.4z" fill="#000000"/><path d="M486.7 965.1l10.2 0.4l-10.2 1.7l-10.3-0.4z" fill="#0c0701"/><path d="M506.3 964.4l10.2 0.5l-10.2 1.2l-10.3-0.6z" fill="#110b01"/><path d="M623.7 972.7l10.1 0.4l-10.3-2.5l-10.1-0.4z" fill="#312203"/><path d="M643.1 975.9l10.2 0.5l-10.3-2.9l-10.1-0.6z" fill="#382a03"/><path d="M662.6 979.7l10.1 0.6l-10.2-3.4l-10.1-0.6z" fill="#3e3103"/><path d="M682 984.1l10.1 0.7l-10.2-3.9l-10.1-0.8z" fill="#433903"/><path d="M388.9 977.4l10.3-0.3l-10.1 3.9l-10.2 0.3z" fill="#000000"/><path d="M467.1 966.5l10.2 0.2l-10.2 2.1l-10.2-0.3z" fill="#050300"/><path d="M525.9 964.2l10.2 0.6l-10.3 0.8l-10.2-0.7z" fill="#170e02"/><path d="M604.1 970l10.2 0.3l-10.3-2l-10.1-0.3z" fill="#291c03"/><path d="M408.4 973.8l10.3-0.2l-10.1 3.5l-10.3 0.2z" fill="#000000"/><path d="M428 970.8l10.2 0l-10.1 3l-10.3 0z" fill="#000000"/><path d="M447.5 968.3l10.3 0.1l-10.2 2.6l-10.3-0.1z" fill="#000000"/><path d="M545.5 964.6l10.2 0.7l-10.3 0.3l-10.2-0.8z" fill="#1c1102"/><path d="M565.1 966.4l10.1 0l-10.3-1l-10.1-0.1z" fill="#201502"/><path d="M584.6 967.9l10.2 0.2l-10.3-1.6l-10.2-0.1z" fill="#251803"/><path d="M301.5 998.9l10.3-1.1l-9.9 5.6l-10.2 1.1z" fill="#000000"/><path d="M320.9 992.9l10.2-1l-9.9 5.2l-10.3 1z" fill="#000000"/><path d="M340.2 987.5l10.3-0.8l-10 4.7l-10.2 0.8z" fill="#000000"/><path d="M359.7 982.6l10.2-0.7l-10 4.4l-10.3 0.6z" fill="#000000"/><path d="M379.1 978.3l10.3-0.5l-10.1 3.9l-10.3 0.4z" fill="#000000"/><path d="M476.8 965.3l10.3 0.3l-10.2 1.6l-10.3-0.3z" fill="#0f0901"/><path d="M496.4 964.5l10.3 0.3l-10.2 1.2l-10.3-0.4z" fill="#150d02"/><path d="M516.1 964.2l10.2 0.4l-10.2 0.7l-10.3-0.5z" fill="#1a0f02"/><path d="M613.9 972.1l10.2 0.2l-10.3-2.5l-10.1-0.3z" fill="#352303"/><path d="M633.4 975.2l10.2 0.3l-10.3-2.9l-10.1-0.4z" fill="#3d2b03"/><path d="M652.9 978.9l10.1 0.4l-10.2-3.4l-10.1-0.5z" fill="#423203"/><path d="M672.3 983.1l10.1 0.6l-10.2-3.9l-10.1-0.6z" fill="#473903"/><path d="M691.7 987.9l10.1 0.7l-10.2-4.4l-10-0.7z" fill="#4c4203"/><path d="M398.6 974.6l10.3-0.4l-10.1 3.4l-10.3 0.4z" fill="#000000"/><path d="M457.3 966.8l10.2 0.1l-10.1 2l-10.3-0.1z" fill="#090601"/><path d="M535.8 965.3l10.1-0.3l-10.5-0.5l-10 0.1z" fill="#1f1203"/><path d="M594.4 969.5l10.2 0.1l-10.3-2l-10.2-0.2z" fill="#2d1d03"/><path d="M418.1 971.4l10.3-0.2l-10.1 3l-10.3 0.2z" fill="#000000"/><path d="M437.7 968.8l10.3-0.1l-10.2 2.6l-10.3 0z" fill="#020100"/><path d="M555.3 966.2l10.2-0.2l-10.3-1.1l-10.2 0.1z" fill="#241503"/><path d="M574.8 967.6l10.2-0.1l-10.3-1.5l-10.1-0.1z" fill="#281903"/><path d="M291.8 1000.5l10.2-1.3l-9.9 5.6l-10.2 1.2z" fill="#000000"/><path d="M311.1 994.3l10.2-1.1l-9.9 5.2l-10.3 1.1z" fill="#000000"/><path d="M330.4 988.8l10.3-1l-10 4.7l-10.2 1z" fill="#000000"/><path d="M349.8 983.8l10.3-0.9l-10 4.3l-10.3 0.8z" fill="#000000"/><path d="M369.3 979.3l10.3-0.7l-10.1 3.9l-10.3 0.6z" fill="#000000"/><path d="M388.8 975.5l10.3-0.6l-10.1 3.4l-10.3 0.5z" fill="#000000"/><path d="M467 965.7l10.3 0.1l-10.2 1.6l-10.3-0.1z" fill="#130b02"/><path d="M486.6 964.7l10.3 0.2l-10.2 1.1l-10.3-0.2z" fill="#180e02"/><path d="M506.2 964.3l10.3 0.3l-10.2 0.7l-10.3-0.4z" fill="#1e1103"/><path d="M525.9 965.3l10.2-0.4l-10.3-0.7l-10.2 0.4z" fill="#221303"/><path d="M604.2 971.6l10.1 0.1l-10.2-2.6l-10.2-0.1z" fill="#3a2404"/><path d="M623.7 974.6l10.2 0.2l-10.3-3l-10.1-0.2z" fill="#422b04"/><path d="M643.2 978.2l10.1 0.3l-10.2-3.5l-10.1-0.3z" fill="#473204"/><path d="M662.6 982.3l10.2 0.5l-10.2-4l-10.2-0.5z" fill="#4c3a04"/><path d="M682 987.1l10.1 0.5l-10.1-4.4l-10.1-0.6z" fill="#514203"/><path d="M701.4 992.3l10.1 0.7l-10.2-4.9l-10-0.7z" fill="#564c03"/><path d="M408.3 972.2l10.3-0.4l-10.1 2.9l-10.3 0.4z" fill="#000000"/><path d="M447.4 967.3l10.3-0.1l-10.1 2l-10.3 0.1z" fill="#0d0801"/><path d="M545.5 966l10.2-0.3l-10.3-1.1l-10.2 0.3z" fill="#271603"/><path d="M584.6 969.2l10.2-0.1l-10.2-2.1l-10.2 0.1z" fill="#321e04"/><path d="M427.9 969.4l10.3-0.2l-10.2 2.5l-10.3 0.2z" fill="#070401"/><path d="M565.1 967.3l10.2-0.2l-10.3-1.6l-10.2 0.2z" fill="#2b1904"/><path d="M282 1002.2l10.2-1.4l-9.9 5.6l-10.2 1.4z" fill="#000000"/><path d="M301.3 995.9l10.2-1.3l-9.9 5.2l-10.2 1.3z" fill="#000000"/><path d="M320.6 990.2l10.3-1.1l-10 4.7l-10.2 1.1z" fill="#000000"/><path d="M340 985.1l10.3-1l-10 4.3l-10.3 0.9z" fill="#000000"/><path d="M359.5 980.5l10.3-0.8l-10.1 3.8l-10.3 0.8z" fill="#000000"/><path d="M379 976.5l10.3-0.7l-10.1 3.4l-10.3 0.7z" fill="#000000"/><path d="M398.5 973.1l10.3-0.6l-10.1 3l-10.3 0.5z" fill="#040300"/><path d="M457.2 966.3l10.3-0.2l-10.2 1.6l-10.3 0.1z" fill="#170d02"/><path d="M476.8 965.1l10.3 0l-10.2 1.1l-10.3 0z" fill="#1c0f03"/><path d="M496.4 965.5l10.3-0.8l-10.2-0.2l-10.3 0.7z" fill="#211203"/><path d="M516.1 965.5l10.2-0.6l-10.2-0.7l-10.3 0.5z" fill="#261404"/><path d="M535.7 966.1l10.2-0.5l-10.3-1.2l-10.2 0.5z" fill="#2a1704"/><path d="M594.4 971.3l10.2-0.1l-10.2-2.6l-10.2 0.1z" fill="#3e2504"/><path d="M614 974.2l10.1 0l-10.2-3l-10.2-0.1z" fill="#462c04"/><path d="M633.5 977.7l10.1 0.1l-10.2-3.5l-10.2-0.2z" fill="#4c3204"/><path d="M652.9 981.7l10.2 0.3l-10.2-4l-10.2-0.3z" fill="#513a04"/><path d="M672.4 986.3l10.1 0.4l-10.2-4.5l-10.1-0.4z" fill="#564204"/><path d="M691.7 991.5l10.1 0.5l-10.1-5l-10.1-0.5z" fill="#5b4c04"/><path d="M711.1 997.2l10 0.7l-10.1-5.5l-10-0.7z" fill="#5f5803"/><path d="M418 970.3l10.3-0.5l-10.1 2.5l-10.3 0.4z" fill="#0b0701"/><path d="M437.6 968l10.3-0.3l-10.2 2l-10.3 0.2z" fill="#110a02"/><path d="M555.3 967.3l10.2-0.4l-10.3-1.6l-10.2 0.3z" fill="#2f1a04"/><path d="M574.8 969l10.3-0.2l-10.3-2.1l-10.2 0.1z" fill="#361f04"/><path d="M272.2 1004.2l10.2-1.7l-9.8 5.6l-10.2 1.6z" fill="#000000"/><path d="M720.7 1002.7l10.1 0.5l-10.1-5.9l-10.1-0.6z" fill="#696404"/><path d="M291.5 997.7l10.2-1.4l-9.9 5.1l-10.2 1.4z" fill="#000000"/><path d="M310.8 991.9l10.3-1.3l-10 4.6l-10.2 1.3z" fill="#000000"/><path d="M330.2 986.6l10.3-1.2l-10 4.3l-10.3 1.1z" fill="#000000"/><path d="M349.7 981.9l10.3-1l-10.1 3.8l-10.3 0.9z" fill="#000000"/><path d="M369.1 977.8l10.3-0.9l-10 3.3l-10.3 0.9z" fill="#010000"/><path d="M388.7 974.2l10.3-0.7l-10.1 2.9l-10.3 0.7z" fill="#090601"/><path d="M408.2 971.2l10.3-0.6l-10.1 2.5l-10.3 0.5z" fill="#0f0902"/><path d="M427.8 968.8l10.3-0.4l-10.2 1.9l-10.3 0.5z" fill="#150c02"/><path d="M447.3 967l10.4-0.3l-10.2 1.5l-10.3 0.3z" fill="#1a0e03"/><path d="M466.6 966.4l10.7-0.8l-9.8 0.8l-10.7 0.3z" fill="#1f1004"/><path d="M486.6 965.9l10.3-0.9l-10.2-0.3l-10.3 0.9z" fill="#241304"/><path d="M506.2 965.8l10.3-0.7l-10.2-0.8l-10.3 0.7z" fill="#291504"/><path d="M525.9 966.3l10.2-0.6l-10.2-1.3l-10.3 0.6z" fill="#2d1705"/><path d="M545.5 967.4l10.2-0.6l-10.3-1.7l-10.2 0.5z" fill="#331a05"/><path d="M565.1 969l10.2-0.4l-10.3-2.2l-10.2 0.4z" fill="#3b1f05"/><path d="M584.6 971.2l10.2-0.3l-10.2-2.6l-10.2 0.2z" fill="#432505"/><path d="M604.2 974l10.2-0.2l-10.2-3.1l-10.2 0.1z" fill="#4b2c05"/><path d="M623.7 977.3l10.2 0l-10.2-3.6l-10.2 0z" fill="#513205"/><path d="M643.2 981.3l10.2 0.1l-10.2-4.1l-10.2-0.2z" fill="#563a05"/><path d="M662.7 985.8l10.1 0.2l-10.2-4.6l-10.1-0.2z" fill="#5b4204"/><path d="M682.1 990.8l10.1 0.4l-10.2-5l-10.1-0.4z" fill="#604c04"/><path d="M701.4 996.5l10.1 0.4l-10.1-5.5l-10.1-0.5z" fill="#645704"/><path d="M262.4 1006.3l10.3-1.9l-9.9 5.6l-10.2 1.7z" fill="#000000"/><path d="M281.7 999.7l10.3-1.7l-9.9 5.1l-10.3 1.6z" fill="#000000"/><path d="M417.9 969.8l10.4-0.6l-10.1 1.9l-10.4 0.6z" fill="#180d03"/><path d="M437.3 968l10.6-0.6l-10.1 1.4l-10.4 0.5z" fill="#1d1004"/><path d="M555.3 969.1l10.2-0.5l-10.2-2.2l-10.3 0.5z" fill="#402006"/><path d="M574.9 971.2l10.2-0.4l-10.3-2.7l-10.2 0.4z" fill="#482606"/><path d="M711.1 1002l10.1 0.4l-10.1-6.1l-10.1-0.4z" fill="#6e6404"/><path d="M730.4 1008.6l10 0.6l-10-6.5l-10.1-0.6z" fill="#727204"/><path d="M301 993.7l10.3-1.5l-9.9 4.6l-10.3 1.5z" fill="#000000"/><path d="M320.4 988.3l10.3-1.4l-10 4.2l-10.3 1.3z" fill="#000000"/><path d="M339.8 983.4l10.3-1.2l-10 3.8l-10.3 1.2z" fill="#000000"/><path d="M359.3 979.2l10.3-1.1l-10 3.3l-10.3 1z" fill="#060401"/><path d="M378.8 975.5l10.3-0.9l-10 2.8l-10.4 0.9z" fill="#0d0802"/><path d="M398.4 972.4l10.3-0.8l-10.1 2.4l-10.3 0.7z" fill="#130b02"/><path d="M457.1 967.4l10.4-1.2l-10.2 0.1l-10.3 1.2z" fill="#231204"/><path d="M476.8 966.6l10.3-1.1l-10.2-0.4l-10.3 1.1z" fill="#281405"/><path d="M496.4 966.4l10.3-1l-10.3-0.8l-10.2 0.9z" fill="#2c1605"/><path d="M516 966.7l10.3-0.8l-10.2-1.3l-10.3 0.8z" fill="#311805"/><path d="M535.7 967.6l10.2-0.7l-10.2-1.7l-10.3 0.6z" fill="#381b06"/><path d="M594.4 973.9l10.2-0.3l-10.2-3.2l-10.2 0.3z" fill="#502c06"/><path d="M614 977.1l10.2-0.1l-10.3-3.7l-10.2 0.1z" fill="#563206"/><path d="M633.5 980.9l10.1 0l-10.2-4.1l-10.1 0z" fill="#5b3a05"/><path d="M653 985.3l10.1 0.1l-10.2-4.6l-10.1-0.1z" fill="#604205"/><path d="M672.4 990.3l10.1 0.2l-10.1-5.1l-10.2-0.2z" fill="#654c05"/><path d="M691.8 995.8l10.1 0.3l-10.2-5.5l-10.1-0.4z" fill="#6a5704"/><path d="M252.7 1008.5l10.2-1.9l-9.8 5.4l-10.3 2z" fill="#000000"/><path d="M427.5 969.8l10.5-1.5l-9.9 0.6l-10.6 1.4z" fill="#211105"/><path d="M565.1 971.4l10.2-0.6l-10.2-2.7l-10.3 0.5z" fill="#4e2607"/><path d="M739.9 1015.1l10.1 0.5l-10-7l-10.1-0.6z" fill="#767c04"/><path d="M271.9 1001.8l10.3-1.8l-9.9 5l-10.3 1.9z" fill="#000000"/><path d="M291.2 995.7l10.3-1.7l-9.9 4.6l-10.3 1.7z" fill="#000000"/><path d="M408 971.1l10.4-0.9l-10 1.9l-10.4 0.8z" fill="#1c0f04"/><path d="M447.3 968.3l10.3-1.4l-10.1 0.1l-10.4 1.3z" fill="#261305"/><path d="M545.5 969.5l10.2-0.8l-10.2-2.2l-10.3 0.7z" fill="#452107"/><path d="M584.7 974l10.2-0.5l-10.3-3.2l-10.2 0.4z" fill="#552c07"/><path d="M701.4 1001.4l10.1 0.2l-10.1-6l-10.1-0.3z" fill="#736305"/><path d="M720.7 1008l10.1 0.3l-10.1-6.5l-10-0.4z" fill="#787104"/><path d="M310.6 990.1l10.3-1.5l-10 4.2l-10.3 1.5z" fill="#000000"/><path d="M330 985.2l10.3-1.4l-10 3.7l-10.3 1.3z" fill="#030200"/><path d="M349.5 980.8l10.3-1.3l-10 3.3l-10.3 1.2z" fill="#0a0701"/><path d="M369 976.9l10.3-1.1l-10 2.9l-10.4 1z" fill="#100a02"/><path d="M388.5 973.7l10.4-1l-10.1 2.4l-10.4 0.9z" fill="#160d03"/><path d="M467 967.4l10.3-1.3l-10.3-0.4l-10.3 1.3z" fill="#2b1506"/><path d="M486.6 967l10.3-1.1l-10.3-0.8l-10.2 1z" fill="#2f1606"/><path d="M506.2 967.3l10.3-1l-10.3-1.4l-10.2 1z" fill="#341806"/><path d="M525.9 968.1l10.2-0.9l-10.2-1.8l-10.3 0.8z" fill="#3c1c07"/><path d="M604.2 977.1l10.2-0.3l-10.2-3.7l-10.2 0.3z" fill="#5b3206"/><path d="M623.7 980.8l10.2-0.2l-10.2-4.2l-10.2 0.2z" fill="#603a06"/><path d="M643.2 985.1l10.2-0.1l-10.2-4.6l-10.2 0z" fill="#654206"/><path d="M662.7 989.9l10.1 0.1l-10.1-5.1l-10.2-0.1z" fill="#6a4c06"/><path d="M682.1 995.4l10.1 0.1l-10.1-5.6l-10.2-0.2z" fill="#6f5705"/><path d="M242.9 1011l10.2-2.2l-9.8 5.5l-10.2 2.1z" fill="#000000"/><path d="M417.8 971l10.4-1.7l-10.1 0.5l-10.4 1.7z" fill="#241205"/><path d="M437.5 969.4l10.3-1.6l-10.2 0.1l-10.3 1.5z" fill="#291406"/><path d="M555.3 971.8l10.2-0.8l-10.2-2.8l-10.3 0.8z" fill="#532708"/><path d="M574.9 974.2l10.2-0.6l-10.2-3.3l-10.3 0.6z" fill="#5b2d07"/><path d="M749.5 1022.2l10 0.4l-9.9-7.6l-10.1-0.5z" fill="#778504"/><path d="M262.1 1004.2l10.3-2.1l-9.9 5.1l-10.2 1.9z" fill="#000000"/><path d="M730.3 1014.5l10.1 0.3l-10-7.1l-10.1-0.3z" fill="#818004"/><path d="M281.4 997.9l10.3-1.9l-9.9 4.6l-10.3 1.8z" fill="#000000"/><path d="M300.8 992.2l10.3-1.7l-10 4.1l-10.2 1.7z" fill="#000000"/><path d="M397.9 972.9l10.7-1.5l-9.7 1.5l-10.8 1.3z" fill="#1f1105"/><path d="M457.1 968.3l10.3-1.4l-10.2-0.4l-10.3 1.4z" fill="#2e1506"/><path d="M535.7 969.9l10.2-0.9l-10.2-2.3l-10.3 0.9z" fill="#4a2108"/><path d="M594.4 977.2l10.3-0.5l-10.3-3.7l-10.2 0.5z" fill="#603207"/><path d="M691.7 1001l10.2 0.1l-10.1-6.2l-10.2-0.1z" fill="#796305"/><path d="M711.1 1007.5l10 0.2l-10-6.6l-10.1-0.3z" fill="#7d7105"/><path d="M320.2 987.1l10.3-1.6l-10 3.7l-10.3 1.5z" fill="#080501"/><path d="M672.4 995.1l10.1 0l-10.1-5.7l-10.2 0z" fill="#745606"/><path d="M339.7 982.5l10.3-1.4l-10 3.2l-10.4 1.4z" fill="#0e0902"/><path d="M359.1 978.6l10.4-1.3l-10 2.8l-10.4 1.2z" fill="#140c03"/><path d="M378.6 975.2l10.4-1.1l-10 2.3l-10.4 1.1z" fill="#1a0f04"/><path d="M476.8 967.9l10.3-1.3l-10.3-0.9l-10.3 1.2z" fill="#331707"/><path d="M496.4 968l10.3-1.2l-10.3-1.3l-10.2 1.1z" fill="#391907"/><path d="M516 968.7l10.3-1.1l-10.3-1.8l-10.2 1z" fill="#411d07"/><path d="M614 980.8l10.2-0.4l-10.2-4.2l-10.2 0.4z" fill="#663907"/><path d="M633.5 985l10.2-0.3l-10.2-4.7l-10.2 0.3z" fill="#6b4207"/><path d="M653 989.7l10.1-0.1l-10.2-5.2l-10.1 0.1z" fill="#704b06"/><path d="M233.1 1013.7l10.3-2.4l-9.8 5.4l-10.2 2.3z" fill="#000000"/><path d="M252.4 1006.7l10.2-2.2l-9.8 4.9l-10.3 2.2z" fill="#000000"/><path d="M408 972.4l10.4-1.9l-10.2 0.5l-10.3 1.9z" fill="#281406"/><path d="M427.7 970.7l10.3-1.8l-10.2 0l-10.3 1.7z" fill="#2d1507"/><path d="M447.3 969.5l10.3-1.6l-10.2-0.5l-10.3 1.6z" fill="#311607"/><path d="M545.5 972.3l10.2-0.9l-10.2-2.8l-10.3 0.8z" fill="#582709"/><path d="M565.1 974.6l10.2-0.8l-10.2-3.3l-10.3 0.8z" fill="#602d08"/><path d="M584.7 977.5l10.2-0.7l-10.2-3.7l-10.3 0.6z" fill="#663208"/><path d="M739.9 1021.6l10 0.3l-9.9-7.7l-10.1-0.3z" fill="#838b05"/><path d="M759 1029.7l10 0.4l-9.9-8.1l-10-0.5z" fill="#758e04"/><path d="M271.7 1000.2l10.2-2l-9.9 4.5l-10.2 2z" fill="#000000"/><path d="M720.7 1014.1l10 0.1l-10-7.1l-10.1-0.2z" fill="#878005"/><path d="M291 994.4l10.3-1.9l-9.9 4.1l-10.3 1.9z" fill="#050401"/><path d="M310.4 989.1l10.3-1.7l-10 3.6l-10.3 1.7z" fill="#0c0802"/><path d="M388.3 974.8l10.5-2l-10 0.9l-10.5 2z" fill="#221205"/><path d="M466.9 968.9l10.3-1.5l-10.2-0.9l-10.3 1.4z" fill="#361808"/><path d="M525.9 970.6l10.2-1.1l-10.2-2.3l-10.3 1z" fill="#4f2209"/><path d="M604.2 981l10.2-0.5l-10.2-4.3l-10.2 0.5z" fill="#6b3908"/><path d="M682.1 1000.7l10.1 0l-10.1-6.2l-10.2 0z" fill="#7e6206"/><path d="M701.4 1007.1l10.1 0.1l-10.1-6.7l-10.1-0.1z" fill="#837006"/><path d="M329.8 984.5l10.4-1.6l-10 3.2l-10.4 1.5z" fill="#120c03"/><path d="M662.7 994.9l10.1-0.2l-10.1-5.7l-10.2 0.2z" fill="#7a5607"/><path d="M349.3 980.4l10.4-1.5l-10 2.7l-10.4 1.5z" fill="#170e04"/><path d="M368.6 977.1l10.6-1.6l-9.8 2.2l-10.6 1.4z" fill="#1d1005"/><path d="M486.6 968.9l10.3-1.4l-10.3-1.4l-10.3 1.3z" fill="#3d1b08"/><path d="M506.2 969.4l10.3-1.2l-10.3-1.8l-10.2 1.1z" fill="#461e08"/><path d="M623.7 985.1l10.2-0.5l-10.2-4.7l-10.2 0.4z" fill="#704108"/><path d="M643.2 989.7l10.2-0.3l-10.2-5.2l-10.2 0.2z" fill="#754b07"/><path d="M223.4 1016.5l10.2-2.6l-9.8 5.4l-10.2 2.5z" fill="#000000"/><path d="M242.6 1009.3l10.3-2.3l-9.9 4.9l-10.2 2.4z" fill="#000000"/><path d="M261.9 1002.8l10.3-2.3l-9.9 4.5l-10.3 2.2z" fill="#010100"/><path d="M398.2 974l10.3-2.1l-10.1 0.5l-10.3 2z" fill="#2b1507"/><path d="M417.8 972.1l10.3-1.9l-10.2-0.1l-10.3 1.9z" fill="#301608"/><path d="M437.5 970.8l10.3-1.8l-10.3-0.5l-10.3 1.8z" fill="#351809"/><path d="M457.1 970.1l10.3-1.7l-10.2-1l-10.3 1.7z" fill="#3a1909"/><path d="M535.7 973l10.2-1.1l-10.2-2.9l-10.3 1.1z" fill="#5e280a"/><path d="M555.3 975.2l10.2-1l-10.2-3.3l-10.3 0.9z" fill="#652d0a"/><path d="M574.9 978l10.2-0.9l-10.2-3.8l-10.3 0.8z" fill="#6b3209"/><path d="M594.4 981.4l10.3-0.8l-10.3-4.3l-10.2 0.7z" fill="#713909"/><path d="M730.3 1021.2l10 0.1l-10-7.7l-10-0.1z" fill="#909005"/><path d="M749.4 1029.2l10.1 0.2l-10-8.1l-10-0.3z" fill="#819405"/><path d="M768.5 1037.8l10 0.3l-9.9-8.6l-10-0.4z" fill="#719704"/><path d="M281.2 996.8l10.3-2.1l-9.9 4.1l-10.3 2z" fill="#090702"/><path d="M711 1013.8l10.1 0l-10-7.2l-10.1-0.1z" fill="#8c7f06"/><path d="M300.6 991.4l10.3-1.9l-9.9 3.6l-10.4 1.9z" fill="#0f0b03"/><path d="M320 986.6l10.4-1.8l-10 3.1l-10.4 1.8z" fill="#150e04"/><path d="M378.6 976.5l10.3-2.2l-10 0.9l-10.4 2.2z" fill="#261406"/><path d="M476.7 969.9l10.3-1.5l-10.2-1.4l-10.3 1.4z" fill="#421c09"/><path d="M516 971.4l10.3-1.2l-10.3-2.4l-10.2 1.2z" fill="#54230a"/><path d="M614 985.3l10.2-0.6l-10.2-4.8l-10.2 0.6z" fill="#764108"/><path d="M672.4 1000.7l10.1-0.3l-10.1-6.2l-10.2 0.2z" fill="#846107"/><path d="M691.7 1006.9l10.1-0.1l-10-6.7l-10.2 0z" fill="#886f06"/><path d="M339.3 982.5l10.6-1.8l-9.9 2.6l-10.5 1.7z" fill="#1b1005"/><path d="M652.9 995l10.2-0.4l-10.1-5.8l-10.2 0.3z" fill="#805507"/><path d="M358.8 979.5l10.6-2.3l-9.8 1.5l-10.6 2.2z" fill="#201206"/><path d="M496.4 970.4l10.3-1.4l-10.3-1.9l-10.3 1.3z" fill="#4b1f0a"/><path d="M633.5 989.8l10.2-0.4l-10.2-5.3l-10.2 0.4z" fill="#7b4a08"/><path d="M213.6 1019.5l10.3-2.7l-9.8 5.3l-10.2 2.7z" fill="#000000"/><path d="M232.8 1012.2l10.3-2.6l-9.8 4.9l-10.3 2.6z" fill="#000000"/><path d="M252.1 1005.5l10.3-2.4l-9.9 4.4l-10.3 2.4z" fill="#060501"/><path d="M271.4 999.4l10.3-2.3l-9.9 4l-10.3 2.3z" fill="#0d0a02"/><path d="M388.4 975.8l10.3-2.3l-10.2 0.4l-10.3 2.2z" fill="#2e1708"/><path d="M408 973.7l10.3-2.1l-10.2 0l-10.3 2z" fill="#331809"/><path d="M427.6 972.3l10.3-2l-10.2-0.5l-10.3 1.9z" fill="#38190a"/><path d="M447.3 971.4l10.3-1.8l-10.3-1l-10.3 1.8z" fill="#3f1a0a"/><path d="M466.9 971.2l10.3-1.7l-10.2-1.5l-10.3 1.6z" fill="#471d0b"/><path d="M525.8 973.9l10.3-1.3l-10.2-2.9l-10.3 1.2z" fill="#64280b"/><path d="M545.5 976l10.2-1.2l-10.2-3.4l-10.3 1.1z" fill="#6b2d0b"/><path d="M565.1 978.6l10.2-1l-10.2-3.9l-10.3 1z" fill="#71320a"/><path d="M584.7 981.9l10.2-0.9l-10.2-4.4l-10.3 0.9z" fill="#76390a"/><path d="M604.2 985.7l10.2-0.8l-10.2-4.8l-10.2 0.7z" fill="#7b410a"/><path d="M720.6 1021l10.1-0.1l-10-7.7l-10.1 0z" fill="#969006"/><path d="M739.8 1028.9l10.1 0.1l-10-8.3l-10-0.1z" fill="#8e9905"/><path d="M758.9 1037.4l10.1 0.2l-10-8.8l-10-0.2z" fill="#7d9c05"/><path d="M778 1046.5l10 0.2l-9.9-9.2l-10-0.3z" fill="#699f04"/><path d="M290.7 993.9l10.4-2.2l-9.9 3.6l-10.3 2.1z" fill="#130e03"/><path d="M701.4 1013.7l10-0.2l-10-7.3l-10.1 0.1z" fill="#927e06"/><path d="M310 989l10.5-2.1l-9.8 3.1l-10.5 2z" fill="#191004"/><path d="M329.4 985.1l10.6-2.4l-9.6 2.2l-10.7 2.2z" fill="#1e1206"/><path d="M368.8 978.4l10.3-2.4l-10.1 0.8l-10.3 2.4z" fill="#291507"/><path d="M486.6 971.5l10.2-1.6l-10.2-1.9l-10.3 1.5z" fill="#50200b"/><path d="M506.2 972.4l10.3-1.4l-10.3-2.5l-10.3 1.4z" fill="#5a240b"/><path d="M623.7 990.1l10.2-0.6l-10.2-5.3l-10.2 0.6z" fill="#804a09"/><path d="M662.6 1000.7l10.2-0.4l-10.1-6.3l-10.2 0.4z" fill="#8a6108"/><path d="M682 1006.9l10.1-0.3l-10-6.8l-10.2 0.3z" fill="#8e6f07"/><path d="M349.1 981.6l10.5-2.5l-10 1.3l-10.4 2.5z" fill="#241407"/><path d="M643.2 995.1l10.2-0.5l-10.2-5.8l-10.2 0.5z" fill="#855408"/><path d="M203.9 1022.7l10.2-2.9l-9.7 5.3l-10.2 2.9z" fill="#000000"/><path d="M787.4 1055.7l10 0.2l-9.8-9.8l-10-0.3z" fill="#5fa804"/><path d="M223.1 1015.3l10.2-2.8l-9.7 4.9l-10.3 2.7z" fill="#030301"/><path d="M242.3 1008.4l10.3-2.6l-9.8 4.4l-10.3 2.6z" fill="#0a0902"/><path d="M261.6 1002.2l10.3-2.5l-9.8 4l-10.3 2.4z" fill="#110d03"/><path d="M280.9 996.5l10.4-2.3l-9.8 3.4l-10.4 2.3z" fill="#161004"/><path d="M378.6 977.7l10.3-2.4l-10.2 0.3l-10.3 2.4z" fill="#311809"/><path d="M398.2 975.5l10.3-2.3l-10.2-0.1l-10.3 2.3z" fill="#36190a"/><path d="M417.8 974l10.3-2.2l-10.2-0.6l-10.3 2.1z" fill="#3b1a0b"/><path d="M437.4 973l10.3-2l-10.2-1.1l-10.3 2z" fill="#431c0b"/><path d="M457.1 972.6l10.3-1.9l-10.3-1.5l-10.3 1.8z" fill="#4c1e0c"/><path d="M476.7 972.8l10.3-1.8l-10.2-2l-10.3 1.7z" fill="#56210c"/><path d="M496.4 973.6l10.3-1.6l-10.3-2.5l-10.3 1.5z" fill="#5f250c"/><path d="M516 974.9l10.3-1.4l-10.3-3l-10.2 1.4z" fill="#69290c"/><path d="M535.7 976.9l10.2-1.3l-10.2-3.5l-10.3 1.3z" fill="#712d0c"/><path d="M555.3 979.4l10.2-1.2l-10.2-3.9l-10.3 1.1z" fill="#76330c"/><path d="M574.9 982.6l10.2-1.1l-10.2-4.4l-10.3 1z" fill="#7c390b"/><path d="M594.4 986.3l10.3-0.9l-10.3-4.9l-10.2 0.8z" fill="#81400b"/><path d="M614 990.6l10.2-0.8l-10.2-5.4l-10.2 0.8z" fill="#86490a"/><path d="M711 1020.9l10-0.2l-10-7.8l-10.1 0.2z" fill="#9b8f07"/><path d="M730.2 1028.8l10-0.2l-9.9-8.3l-10.1 0.1z" fill="#9b9f06"/><path d="M749.3 1037.2l10.1-0.1l-10-8.8l-10 0z" fill="#8aa205"/><path d="M768.4 1046.1l10 0.1l-9.9-9.3l-10-0.1z" fill="#76a505"/><path d="M300.1 991.7l10.6-2.5l-9.6 2.8l-10.7 2.4z" fill="#1c1305"/><path d="M359 980.5l10.3-2.6l-10.1 0.8l-10.4 2.5z" fill="#2c1709"/><path d="M633.5 995.5l10.1-0.7l-10.1-5.9l-10.2 0.7z" fill="#8b5409"/><path d="M691.7 1013.7l10.1-0.3l-10.1-7.4l-10.1 0.3z" fill="#987e07"/><path d="M319.8 987.7l10.4-2.9l-9.9 1.8l-10.4 2.8z" fill="#221506"/><path d="M339.4 983.8l10.3-2.7l-10 1.2l-10.4 2.7z" fill="#271608"/><path d="M652.9 1001l10.2-0.6l-10.2-6.3l-10.1 0.5z" fill="#906009"/><path d="M672.3 1007.1l10.2-0.5l-10.1-6.8l-10.2 0.4z" fill="#946e08"/><path d="M194.2 1026.1l10.2-3.1l-9.7 5.2l-10.2 3.1z" fill="#000000"/><path d="M213.3 1018.5l10.3-3l-9.8 4.9l-10.2 2.9z" fill="#080701"/><path d="M486.5 974.9l10.3-1.8l-10.2-2.5l-10.3 1.7z" fill="#65260e"/><path d="M506.2 976.1l10.3-1.6l-10.3-3l-10.3 1.6z" fill="#6f2a0e"/><path d="M777.8 1055.4l10 0l-9.8-9.8l-10-0.1z" fill="#6cad05"/><path d="M796.8 1065.4l9.9 0.2l-9.7-10.4l-10-0.2z" fill="#52b004"/><path d="M368.7 979.8l10.3-2.6l-10.1 0.3l-10.3 2.6z" fill="#351a0b"/><path d="M623.7 996l10.2-0.8l-10.2-6l-10.2 0.8z" fill="#91530a"/><path d="M232.5 1011.5l10.3-2.8l-9.7 4.4l-10.3 2.8z" fill="#0e0c03"/><path d="M251.7 1005.1l10.5-2.7l-9.8 4l-10.4 2.6z" fill="#141004"/><path d="M270.9 999.5l10.6-2.7l-9.6 3.3l-10.6 2.6z" fill="#1a1305"/><path d="M290.4 994.8l10.5-3.1l-9.7 2.3l-10.5 3z" fill="#1f1506"/><path d="M349.1 982.7l10.4-2.8l-10.2 0.8l-10.3 2.7z" fill="#30190a"/><path d="M388.3 977.5l10.3-2.5l-10.2-0.1l-10.3 2.4z" fill="#3a1b0c"/><path d="M407.9 975.8l10.3-2.3l-10.2-0.7l-10.3 2.3z" fill="#401c0c"/><path d="M427.6 974.7l10.3-2.2l-10.3-1.1l-10.2 2.1z" fill="#481e0d"/><path d="M447.2 974.2l10.3-2.1l-10.2-1.6l-10.3 2z" fill="#51200d"/><path d="M466.9 974.2l10.3-1.9l-10.3-2l-10.3 1.8z" fill="#5b220e"/><path d="M525.8 978l10.3-1.5l-10.3-3.5l-10.2 1.4z" fill="#762e0d"/><path d="M545.5 980.4l10.2-1.4l-10.2-3.9l-10.3 1.3z" fill="#7c330d"/><path d="M565.1 983.4l10.2-1.2l-10.2-4.5l-10.3 1.2z" fill="#82390c"/><path d="M584.6 987l10.3-1.1l-10.2-4.9l-10.3 1z" fill="#87400c"/><path d="M604.2 991.2l10.2-1l-10.2-5.4l-10.2 0.9z" fill="#8c490b"/><path d="M643.2 1001.4l10.1-0.7l-10.1-6.5l-10.2 0.7z" fill="#95600a"/><path d="M701.3 1021l10.1-0.3l-10-7.9l-10.2 0.3z" fill="#a18e07"/><path d="M720.5 1028.8l10.1-0.3l-10-8.4l-10.1 0.2z" fill="#a5a207"/><path d="M739.7 1037.1l10.1-0.2l-10-8.9l-10 0.1z" fill="#97a806"/><path d="M758.8 1045.9l10 0l-9.8-9.4l-10.1 0z" fill="#82ab05"/><path d="M310 990.2l10.4-3l-10 1.7l-10.3 3z" fill="#251708"/><path d="M682 1013.9l10.1-0.5l-10.1-7.4l-10.1 0.5z" fill="#9e7d08"/><path d="M329.6 986.2l10.3-2.9l-10.1 1.2l-10.3 2.9z" fill="#2a1809"/><path d="M662.6 1007.4l10.1-0.7l-10.1-6.9l-10.1 0.6z" fill="#9a6d09"/><path d="M496.4 977.5l10.2-1.8l-10.2-3l-10.3 1.7z" fill="#752b0f"/><path d="M184.4 1029.7l10.3-3.4l-9.7 5.3l-10.2 3.3z" fill="#040501"/><path d="M203.6 1022l10.3-3.2l-9.7 4.8l-10.3 3.1z" fill="#0b0b02"/><path d="M222.7 1014.8l10.4-3l-9.7 4.3l-10.4 3z" fill="#120f04"/><path d="M358.9 982.1l10.3-2.8l-10.2 0.3l-10.3 2.7z" fill="#381c0c"/><path d="M476.7 976.4l10.3-1.9l-10.3-2.6l-10.3 1.9z" fill="#6b270f"/><path d="M516 979.2l10.3-1.6l-10.3-3.6l-10.3 1.6z" fill="#7c2e0f"/><path d="M633.4 1002l10.2-0.9l-10.1-6.5l-10.2 0.9z" fill="#9b5f0b"/><path d="M768.3 1055.3l10-0.1l-9.9-10l-10 0.1z" fill="#78b305"/><path d="M787.2 1065.2l10 0l-9.8-10.4l-9.9-0.1z" fill="#5eb505"/><path d="M806.1 1075.8l9.9 0l-9.7-10.9l-9.9-0.1z" fill="#42b704"/><path d="M378.5 979.7l10.3-2.7l-10.2-0.2l-10.3 2.6z" fill="#3d1c0d"/><path d="M613.9 996.7l10.2-1l-10.1-6l-10.2 1z" fill="#97530c"/><path d="M241.8 1008.4l10.6-3l-9.7 3.8l-10.5 2.9z" fill="#171305"/><path d="M261.1 1002.9l10.6-3.3l-9.6 2.8l-10.6 3.3z" fill="#1d1606"/><path d="M280.7 997.7l10.4-3.4l-9.8 2.2l-10.4 3.3z" fill="#231707"/><path d="M300.3 993l10.3-3.3l-10 1.7l-10.3 3.2z" fill="#281909"/><path d="M339.3 985.1l10.3-2.9l-10.1 0.7l-10.3 2.9z" fill="#331b0b"/><path d="M398.1 977.8l10.3-2.5l-10.2-0.7l-10.3 2.5z" fill="#441e0e"/><path d="M417.7 976.6l10.3-2.4l-10.2-1.1l-10.3 2.3z" fill="#4d1f0e"/><path d="M437.4 975.9l10.3-2.2l-10.3-1.6l-10.3 2.2z" fill="#57210f"/><path d="M457 975.9l10.3-2.1l-10.2-2.1l-10.3 2z" fill="#61240f"/><path d="M535.6 981.6l10.3-1.6l-10.2-4l-10.3 1.5z" fill="#82330e"/><path d="M555.3 984.5l10.2-1.5l-10.2-4.5l-10.3 1.4z" fill="#88390e"/><path d="M574.8 988l10.3-1.3l-10.2-5l-10.3 1.2z" fill="#8d400d"/><path d="M594.4 992l10.2-1.1l-10.2-5.5l-10.2 1.1z" fill="#92490c"/><path d="M652.9 1007.8l10.1-0.8l-10.1-6.9l-10.2 0.7z" fill="#a06d0a"/><path d="M691.6 1021.3l10.1-0.5l-10-8l-10.2 0.5z" fill="#a78e08"/><path d="M710.9 1028.9l10.1-0.4l-10-8.5l-10.1 0.4z" fill="#aaa107"/><path d="M730.1 1037.1l10-0.3l-9.9-8.9l-10.1 0.2z" fill="#a4ad07"/><path d="M749.2 1045.9l10-0.2l-9.9-9.4l-10 0.1z" fill="#8fb006"/><path d="M319.8 988.8l10.3-3.1l-10.1 1.1l-10.3 3.1z" fill="#2e1a0a"/><path d="M672.3 1014.3l10.1-0.7l-10.1-7.4l-10.1 0.6z" fill="#a37c09"/><path d="M486.5 979.1l10.3-2l-10.3-3.1l-10.2 1.9z" fill="#7b2c11"/><path d="M506.2 980.7l10.3-1.9l-10.3-3.6l-10.3 1.8z" fill="#822f10"/><path d="M174.7 1033.4l10.3-3.5l-9.6 5.2l-10.3 3.5z" fill="#080902"/><path d="M193.8 1025.6l10.3-3.4l-9.6 4.7l-10.3 3.4z" fill="#0f0f03"/><path d="M212.9 1018.4l10.4-3.3l-9.6 4.2l-10.4 3.2z" fill="#151305"/><path d="M232 1012.1l10.6-3.6l-9.5 3.4l-10.6 3.5z" fill="#1b1606"/><path d="M349.1 984.6l10.3-3l-10.2 0.2l-10.3 3z" fill="#3b1e0d"/><path d="M368.7 982l10.3-2.8l-10.2-0.3l-10.3 2.8z" fill="#411e0e"/><path d="M466.9 978.1l10.3-2.1l-10.3-2.7l-10.3 2.1z" fill="#712811"/><path d="M525.8 982.9l10.3-1.7l-10.3-4.1l-10.2 1.6z" fill="#883410"/><path d="M623.7 1002.7l10.2-1l-10.2-6.6l-10.2 1.1z" fill="#a15f0c"/><path d="M643.1 1008.5l10.2-1l-10.1-7l-10.2 0.9z" fill="#a66c0b"/><path d="M758.7 1055.3l10-0.3l-9.9-10l-10 0.3z" fill="#85b806"/><path d="M777.7 1065.2l9.9-0.2l-9.7-10.5l-10 0.1z" fill="#6bbb05"/><path d="M796.6 1075.6l9.9-0.1l-9.7-11l-9.9 0.1z" fill="#4ebd04"/><path d="M815.4 1086.7l9.9-0.1l-9.6-11.4l-10-0.1z" fill="#2fbe04"/><path d="M329.5 987.8l10.3-3.2l-10.1 0.7l-10.3 3.1z" fill="#361d0c"/><path d="M388.3 980.1l10.3-2.7l-10.2-0.8l-10.3 2.7z" fill="#49200f"/><path d="M604.2 997.6l10.2-1.2l-10.2-6.1l-10.2 1.2z" fill="#9d530d"/><path d="M662.5 1014.8l10.2-0.8l-10.1-7.5l-10.2 0.8z" fill="#a97c0a"/><path d="M251.5 1006.3l10.5-3.7l-9.8 2.6l-10.4 3.6z" fill="#201807"/><path d="M271 1000.8l10.3-3.6l-9.9 2.1l-10.3 3.5z" fill="#261a09"/><path d="M290.5 995.9l10.3-3.5l-10 1.6l-10.3 3.4z" fill="#2b1b0a"/><path d="M310 991.5l10.3-3.3l-10.1 1.2l-10.3 3.2z" fill="#311c0b"/><path d="M407.9 978.7l10.3-2.6l-10.2-1.2l-10.3 2.5z" fill="#522110"/><path d="M427.6 977.9l10.2-2.4l-10.2-1.7l-10.3 2.4z" fill="#5c2310"/><path d="M447.2 977.7l10.3-2.3l-10.3-2.1l-10.3 2.2z" fill="#662511"/><path d="M545.4 985.7l10.3-1.6l-10.2-4.6l-10.3 1.5z" fill="#8e390f"/><path d="M565 989l10.3-1.4l-10.2-5.1l-10.3 1.4z" fill="#93400f"/><path d="M584.6 993l10.2-1.3l-10.2-5.6l-10.2 1.3z" fill="#98490e"/><path d="M681.9 1021.8l10.1-0.8l-10-8l-10.2 0.7z" fill="#ad8d09"/><path d="M701.2 1029.3l10.1-0.6l-10-8.6l-10.1 0.6z" fill="#b0a008"/><path d="M720.4 1037.4l10.1-0.5l-10-9l-10 0.4z" fill="#b0b307"/><path d="M739.6 1046.1l10-0.4l-9.9-9.5l-10 0.3z" fill="#9cb606"/><path d="M165 1037.4l10.3-3.7l-9.6 5.1l-10.3 3.7z" fill="#0b0c03"/><path d="M476.7 980.8l10.3-2.1l-10.3-3.2l-10.3 2.1z" fill="#812d12"/><path d="M496.3 982.3l10.3-2l-10.2-3.7l-10.3 2z" fill="#883012"/><path d="M516 984.4l10.3-1.9l-10.3-4.2l-10.3 1.9z" fill="#8e3512"/><path d="M824.7 1098.1l9.8-0.1l-9.6-12l-9.9 0z" fill="#18c504"/><path d="M339.3 987.3l10.2-3.2l-10.1 0.1l-10.3 3.2z" fill="#3f200f"/><path d="M652.8 1015.5l10.2-1l-10.1-7.6l-10.2 1z" fill="#af7b0b"/><path d="M184 1029.5l10.4-3.7l-9.5 4.6l-10.4 3.6z" fill="#131204"/><path d="M203 1022.4l10.6-3.9l-9.4 3.9l-10.6 3.7z" fill="#181606"/><path d="M222.4 1015.9l10.5-4.1l-9.7 3.1l-10.4 3.9z" fill="#1e1907"/><path d="M241.9 1009.7l10.3-4l-9.9 2.5l-10.3 3.9z" fill="#241b08"/><path d="M319.7 990.6l10.3-3.4l-10.1 0.7l-10.3 3.2z" fill="#391f0e"/><path d="M358.8 984.6l10.3-3.1l-10.2-0.3l-10.3 3z" fill="#452110"/><path d="M378.4 982.4l10.3-2.8l-10.2-0.8l-10.3 2.8z" fill="#4e2211"/><path d="M457 980l10.3-2.3l-10.2-2.7l-10.3 2.2z" fill="#772a13"/><path d="M535.6 987.1l10.3-1.8l-10.3-4.6l-10.2 1.7z" fill="#943a11"/><path d="M613.9 1003.7l10.2-1.3l-10.2-6.6l-10.2 1.2z" fill="#a75f0d"/><path d="M633.4 1009.3l10.2-1.1l-10.2-7.1l-10.2 1.1z" fill="#ac6c0c"/><path d="M672.2 1022.4l10.1-0.9l-10-8.1l-10.2 0.8z" fill="#b38d0a"/><path d="M749 1055.6l10.1-0.5l-9.9-10.1l-10 0.4z" fill="#91be06"/><path d="M768.1 1065.3l10-0.3l-9.8-10.6l-10 0.3z" fill="#77c006"/><path d="M787 1075.7l10-0.3l-9.7-11.1l-10 0.2z" fill="#5ac205"/><path d="M805.9 1086.6l9.9-0.2l-9.7-11.5l-9.9 0.1z" fill="#3ac404"/><path d="M398.1 980.9l10.3-2.7l-10.3-1.3l-10.3 2.7z" fill="#582412"/><path d="M594.4 998.6l10.2-1.4l-10.2-6.1l-10.2 1.4z" fill="#a3530e"/><path d="M261.3 1004l10.3-3.8l-10 2.1l-10.3 3.7z" fill="#291d0a"/><path d="M280.7 998.9l10.3-3.6l-10 1.6l-10.3 3.6z" fill="#2f1e0b"/><path d="M300.2 994.5l10.3-3.5l-10.1 1.1l-10.3 3.4z" fill="#341f0c"/><path d="M417.7 980l10.3-2.6l-10.2-1.7l-10.3 2.5z" fill="#622512"/><path d="M437.4 979.7l10.3-2.5l-10.3-2.2l-10.3 2.4z" fill="#6c2712"/><path d="M555.2 990.3l10.3-1.6l-10.2-5.1l-10.3 1.5z" fill="#994110"/><path d="M574.8 994.2l10.3-1.5l-10.3-5.6l-10.2 1.4z" fill="#9e490f"/><path d="M691.5 1029.8l10.1-0.8l-10-8.6l-10.1 0.7z" fill="#b6a009"/><path d="M710.7 1037.8l10.1-0.7l-9.9-9.1l-10.1 0.7z" fill="#b9b508"/><path d="M729.9 1046.4l10.1-0.6l-9.9-9.6l-10.1 0.5z" fill="#a9bc07"/><path d="M155.2 1041.6l10.4-4l-9.5 5.1l-10.3 3.9z" fill="#0e1004"/><path d="M174.2 1033.7l10.5-4.1l-9.4 4.4l-10.5 4z" fill="#161605"/><path d="M329.4 990.1l10.3-3.4l-10.1 0.2l-10.3 3.3z" fill="#422210"/><path d="M466.8 982.8l10.3-2.4l-10.2-3.2l-10.3 2.3z" fill="#872f14"/><path d="M486.5 984.1l10.3-2.2l-10.3-3.7l-10.3 2.2z" fill="#8e3214"/><path d="M506.2 986.1l10.2-2.1l-10.2-4.2l-10.3 2z" fill="#943613"/><path d="M525.8 988.6l10.3-1.9l-10.3-4.7l-10.3 1.9z" fill="#9a3b13"/><path d="M662.4 1023.1l10.2-1l-10.1-8.2l-10.1 1z" fill="#b98c0b"/><path d="M815.1 1098.1l9.9-0.2l-9.6-12.1l-9.9 0.1z" fill="#23cb04"/><path d="M833.8 1110.1l9.9-0.1l-9.5-12.7l-9.9 0.1z" fill="#04cc09"/><path d="M349 987.3l10.3-3.3l-10.2-0.3l-10.3 3.2z" fill="#4a2312"/><path d="M643.1 1016.4l10.1-1.2l-10.1-7.6l-10.2 1.1z" fill="#b57b0c"/><path d="M193.4 1026.5l10.5-4.3l-9.5 3.5l-10.5 4.3z" fill="#1c1907"/><path d="M212.8 1019.6l10.3-4.2l-9.7 2.9l-10.4 4.2z" fill="#211c08"/><path d="M232.1 1013.2l10.3-4.1l-9.9 2.5l-10.2 4z" fill="#271e0a"/><path d="M251.5 1007.4l10.3-4l-10 2l-10.2 4z" fill="#2c1f0b"/><path d="M309.9 993.5l10.3-3.5l-10.1 0.6l-10.3 3.5z" fill="#3d220f"/><path d="M368.6 985l10.3-3.1l-10.2-0.8l-10.3 3.1z" fill="#532513"/><path d="M388.2 983.4l10.3-3l-10.2-1.2l-10.3 2.8z" fill="#5d2613"/><path d="M447.2 982l10.3-2.5l-10.3-2.7l-10.3 2.4z" fill="#7d2c14"/><path d="M545.4 991.8l10.3-1.9l-10.3-5.1l-10.2 1.7z" fill="#9f4112"/><path d="M604.1 1004.8l10.2-1.5l-10.1-6.6l-10.3 1.4z" fill="#ae5f0e"/><path d="M623.6 1010.3l10.2-1.3l-10.1-7.2l-10.2 1.3z" fill="#b26c0d"/><path d="M681.8 1030.5l10.1-1l-10-8.6l-10.1 0.9z" fill="#bca00a"/><path d="M739.4 1055.9l10.1-0.6l-9.9-10.1l-10.1 0.5z" fill="#9ec407"/><path d="M758.5 1065.6l10-0.5l-9.8-10.7l-10 0.5z" fill="#83c606"/><path d="M777.5 1075.9l9.9-0.5l-9.7-11.1l-10 0.4z" fill="#66c806"/><path d="M796.3 1086.7l10-0.3l-9.7-11.7l-10 0.3z" fill="#46c905"/><path d="M407.9 982.3l10.3-2.8l-10.3-1.7l-10.3 2.7z" fill="#672814"/><path d="M584.6 999.8l10.2-1.5l-10.2-6.2l-10.2 1.5z" fill="#a95310"/><path d="M270.9 1002.2l10.3-3.8l-10 1.5l-10.3 3.8z" fill="#32210c"/><path d="M290.4 997.6l10.3-3.7l-10.1 1.1l-10.3 3.6z" fill="#37210e"/><path d="M427.5 981.9l10.3-2.7l-10.2-2.2l-10.3 2.6z" fill="#722914"/><path d="M565 995.5l10.3-1.7l-10.3-5.7l-10.2 1.7z" fill="#a44911"/><path d="M701.1 1038.4l10.1-0.9l-10-9.1l-10.1 0.8z" fill="#bfb509"/><path d="M720.3 1046.9l10.1-0.8l-10-9.6l-10.1 0.7z" fill="#b5c208"/><path d="M164.6 1038.2l10.4-4.6l-9.4 4l-10.5 4.5z" fill="#191906"/><path d="M183.8 1030.6l10.4-4.6l-9.7 3.4l-10.3 4.6z" fill="#1f1d08"/><path d="M319.6 993.1l10.3-3.5l-10.2 0.1l-10.2 3.5z" fill="#462512"/><path d="M339.2 990.2l10.3-3.4l-10.2-0.4l-10.3 3.3z" fill="#4f2613"/><path d="M457 984.9l10.3-2.6l-10.3-3.2l-10.3 2.5z" fill="#8d3116"/><path d="M476.7 986.1l10.3-2.4l-10.3-3.8l-10.3 2.4z" fill="#943316"/><path d="M496.3 987.9l10.3-2.2l-10.3-4.3l-10.2 2.2z" fill="#9a3715"/><path d="M516 990.4l10.2-2.2l-10.2-4.7l-10.3 2.1z" fill="#a03c14"/><path d="M535.6 993.4l10.3-2l-10.3-5.2l-10.2 1.9z" fill="#a54213"/><path d="M652.7 1024.1l10.2-1.3l-10.1-8.2l-10.2 1.2z" fill="#bf8c0c"/><path d="M672.1 1031.3l10.1-1.1l-10-8.7l-10.2 1z" fill="#c29f0b"/><path d="M805.6 1098.3l9.9-0.4l-9.6-12.2l-9.9 0.3z" fill="#2ed005"/><path d="M824.3 1110.2l9.9-0.3l-9.5-12.7l-9.9 0.2z" fill="#09d104"/><path d="M358.8 987.8l10.3-3.3l-10.2-0.8l-10.3 3.2z" fill="#592814"/><path d="M633.3 1017.5l10.2-1.4l-10.1-7.7l-10.2 1.3z" fill="#bc7b0d"/><path d="M203.1 1023.5l10.3-4.4l-9.8 2.8l-10.3 4.5z" fill="#241f09"/><path d="M222.4 1017l10.3-4.3l-9.9 2.4l-10.3 4.2z" fill="#2a210b"/><path d="M241.8 1011l10.2-4.1l-9.9 1.9l-10.3 4.1z" fill="#30220c"/><path d="M261.2 1005.7l10.2-4.1l-10 1.5l-10.2 4z" fill="#35230e"/><path d="M300.1 996.7l10.3-3.7l-10.2 0.6l-10.2 3.6z" fill="#402411"/><path d="M378.4 986l10.3-3.1l-10.2-1.4l-10.3 3.1z" fill="#632915"/><path d="M398 984.8l10.3-2.9l-10.2-1.9l-10.3 3z" fill="#6d2a16"/><path d="M437.3 984.3l10.3-2.7l-10.2-2.8l-10.3 2.6z" fill="#832e16"/><path d="M555.2 997l10.3-1.9l-10.3-5.7l-10.2 1.8z" fill="#aa4a12"/><path d="M594.3 1006l10.3-1.6l-10.2-6.7l-10.3 1.6z" fill="#b45f10"/><path d="M613.8 1011.5l10.2-1.5l-10.1-7.2l-10.2 1.4z" fill="#b86c0f"/><path d="M691.4 1039.1l10.1-1l-10-9.2l-10.1 0.9z" fill="#c5b50a"/><path d="M729.8 1056.5l10-0.8l-9.9-10.2l-10 0.7z" fill="#aaca08"/><path d="M748.9 1066.1l10-0.7l-9.8-10.7l-10.1 0.6z" fill="#8fcc07"/><path d="M767.9 1076.2l10-0.6l-9.8-11.2l-10 0.5z" fill="#72cd06"/><path d="M786.8 1087l9.9-0.5l-9.7-11.7l-9.9 0.4z" fill="#51cf05"/><path d="M417.7 984.2l10.3-2.8l-10.3-2.3l-10.3 2.8z" fill="#782c16"/><path d="M574.8 1001.2l10.2-1.7l-10.2-6.2l-10.2 1.7z" fill="#af5311"/><path d="M280.6 1000.9l10.3-3.9l-10.1 1l-10.3 3.9z" fill="#3a240f"/><path d="M710.6 1047.5l10.1-0.9l-9.9-9.7l-10.1 0.8z" fill="#c2c709"/><path d="M174.2 1034.9l10.3-4.8l-9.7 3.3l-10.3 4.7z" fill="#222009"/><path d="M193.4 1027.6l10.3-4.7l-9.9 2.9l-10.2 4.6z" fill="#28220a"/><path d="M309.8 996.4l10.3-3.8l-10.2 0l-10.2 3.8z" fill="#4b2814"/><path d="M329.4 993.3l10.2-3.6l-10.1-0.5l-10.3 3.6z" fill="#542a15"/><path d="M349 990.7l10.2-3.4l-10.2-0.9l-10.2 3.4z" fill="#5e2b16"/><path d="M447.2 987.2l10.3-2.7l-10.3-3.4l-10.3 2.7z" fill="#933318"/><path d="M466.8 988.3l10.3-2.6l-10.2-3.8l-10.3 2.5z" fill="#9a3518"/><path d="M486.5 990l10.3-2.5l-10.3-4.3l-10.3 2.4z" fill="#a03917"/><path d="M506.1 992.3l10.3-2.3l-10.2-4.8l-10.3 2.2z" fill="#a63d16"/><path d="M525.8 995.2l10.2-2.2l-10.2-5.3l-10.3 2.1z" fill="#ab4315"/><path d="M545.4 998.7l10.2-2.1l-10.2-5.7l-10.2 1.9z" fill="#b14b14"/><path d="M643 1025.2l10.1-1.4l-10-8.3l-10.2 1.4z" fill="#c58c0d"/><path d="M662.3 1032.3l10.2-1.3l-10-8.8l-10.2 1.3z" fill="#c89f0c"/><path d="M681.7 1040l10.1-1.2l-10-9.2l-10.1 1.1z" fill="#cbb50b"/><path d="M796.1 1098.7l9.9-0.6l-9.6-12.3l-10 0.5z" fill="#39d505"/><path d="M814.8 1110.5l9.9-0.5l-9.5-12.8l-10 0.4z" fill="#14d605"/><path d="M368.6 988.8l10.2-3.3l-10.2-1.4l-10.3 3.3z" fill="#682c17"/><path d="M427.5 986.7l10.3-2.9l-10.3-2.8l-10.3 2.8z" fill="#893018"/><path d="M565 1002.8l10.2-1.9l-10.2-6.3l-10.2 1.9z" fill="#b55413"/><path d="M623.5 1018.7l10.2-1.5l-10.1-7.8l-10.2 1.5z" fill="#c27b0f"/><path d="M212.7 1020.9l10.2-4.5l-9.9 2.4l-10.2 4.4z" fill="#2d240c"/><path d="M232 1014.8l10.3-4.3l-10 1.9l-10.2 4.3z" fill="#33250e"/><path d="M251.4 1009.3l10.2-4.2l-10 1.4l-10.2 4.2z" fill="#38260f"/><path d="M270.8 1004.4l10.3-4.1l-10.1 1l-10.2 4z" fill="#3e2711"/><path d="M290.3 1000.1l10.3-3.9l-10.2 0.5l-10.2 3.8z" fill="#432713"/><path d="M388.2 987.5l10.3-3.1l-10.3-1.9l-10.2 3.1z" fill="#732d18"/><path d="M407.8 986.8l10.3-3l-10.2-2.4l-10.3 3z" fill="#7e2e18"/><path d="M584.5 1007.5l10.3-1.8l-10.2-6.8l-10.3 1.8z" fill="#ba5f11"/><path d="M604.1 1012.8l10.2-1.7l-10.2-7.2l-10.2 1.6z" fill="#be6c10"/><path d="M700.9 1048.3l10.1-1.1l-9.9-9.7l-10.1 1z" fill="#cdcc0a"/><path d="M720.1 1057.2l10.1-1l-9.9-10.2l-10.1 0.9z" fill="#b6cf09"/><path d="M739.2 1066.7l10.1-0.9l-9.9-10.8l-10 0.8z" fill="#9bd108"/><path d="M758.3 1076.8l10-0.8l-9.8-11.3l-10 0.7z" fill="#7dd307"/><path d="M777.2 1087.4l10-0.6l-9.7-11.8l-10 0.6z" fill="#5dd406"/><path d="M437.3 989.7l10.3-3l-10.3-3.3l-10.2 2.8z" fill="#99351a"/><path d="M555.2 1004.5l10.2-2.1l-10.2-6.3l-10.2 2z" fill="#bc5514"/><path d="M183.8 1031.9l10.2-4.9l-9.9 2.8l-10.2 4.8z" fill="#2b260c"/><path d="M203 1025.1l10.2-4.8l-9.9 2.4l-10.2 4.6z" fill="#30270d"/><path d="M280.5 1003.7l10.3-4.2l-10.1 0.5l-10.3 4.1z" fill="#472a14"/><path d="M300 999.8l10.3-4l-10.2 0l-10.2 3.9z" fill="#502c16"/><path d="M319.6 996.5l10.2-3.8l-10.1-0.5l-10.3 3.8z" fill="#592d17"/><path d="M339.1 993.9l10.3-3.7l-10.2-0.9l-10.3 3.6z" fill="#632e18"/><path d="M358.7 991.8l10.3-3.5l-10.2-1.4l-10.3 3.4z" fill="#6e2f19"/><path d="M417.7 989.3l10.3-3.1l-10.3-2.9l-10.3 3.1z" fill="#8f331a"/><path d="M457 990.6l10.3-2.7l-10.3-3.9l-10.3 2.7z" fill="#a0371a"/><path d="M476.7 992.2l10.2-2.6l-10.2-4.4l-10.3 2.6z" fill="#a63b19"/><path d="M496.3 994.4l10.3-2.5l-10.3-4.9l-10.3 2.5z" fill="#ac3f18"/><path d="M516 997.2l10.2-2.4l-10.2-5.3l-10.3 2.3z" fill="#b24517"/><path d="M535.6 1000.6l10.2-2.3l-10.2-5.8l-10.3 2.2z" fill="#b74c16"/><path d="M574.7 1009.1l10.3-1.9l-10.2-6.9l-10.3 1.9z" fill="#c06013"/><path d="M633.2 1026.5l10.2-1.6l-10.1-8.3l-10.2 1.5z" fill="#cb8c0f"/><path d="M652.6 1033.5l10.2-1.5l-10.1-8.8l-10.2 1.4z" fill="#cea00d"/><path d="M672 1041.1l10.1-1.4l-10-9.3l-10.2 1.3z" fill="#d1b50c"/><path d="M691.2 1049.3l10.1-1.2l-9.9-9.9l-10.1 1.2z" fill="#d3cc0b"/><path d="M710.4 1058.1l10.1-1.1l-9.9-10.4l-10.1 1.1z" fill="#c3d509"/><path d="M786.5 1099.2l10-0.7l-9.7-12.4l-10 0.6z" fill="#44db06"/><path d="M805.3 1110.9l9.9-0.6l-9.6-12.9l-9.9 0.6z" fill="#1edc05"/><path d="M378.4 990.4l10.2-3.4l-10.2-1.9l-10.3 3.3z" fill="#78301a"/><path d="M613.8 1020.1l10.2-1.7l-10.2-7.8l-10.2 1.6z" fill="#c87c10"/><path d="M222.3 1018.8l10.2-4.6l-10 1.9l-10.2 4.5z" fill="#36290f"/><path d="M241.7 1013.2l10.2-4.5l-10 1.4l-10.3 4.4z" fill="#3b2911"/><path d="M261.1 1008.1l10.2-4.3l-10.1 1l-10.2 4.2z" fill="#412a13"/><path d="M398 989.5l10.3-3.2l-10.3-2.4l-10.3 3.2z" fill="#84311a"/><path d="M594.3 1014.3l10.2-1.8l-10.2-7.4l-10.2 1.8z" fill="#c46d11"/><path d="M729.6 1067.5l10-1.1l-9.8-10.8l-10.1 1z" fill="#a7d708"/><path d="M748.6 1077.5l10.1-1l-9.8-11.3l-10.1 0.8z" fill="#89d807"/><path d="M767.6 1088l10-0.8l-9.7-11.9l-10 0.8z" fill="#68da07"/><path d="M290.2 1003.4l10.3-4.1l-10.2-0.1l-10.2 4.1z" fill="#553018"/><path d="M427.5 992.3l10.3-3.1l-10.3-3.4l-10.3 3z" fill="#9f381d"/><path d="M564.9 1011l10.3-2.2l-10.2-6.9l-10.3 2.1z" fill="#c66115"/><path d="M700.8 1059.2l10.1-1.4l-10-10.4l-10.1 1.3z" fill="#cdda0a"/><path d="M447.2 993.2l10.2-3l-10.2-3.9l-10.3 2.9z" fill="#a63a1c"/><path d="M545.4 1006.5l10.2-2.3l-10.2-6.4l-10.3 2.2z" fill="#c25616"/><path d="M193.3 1029.4l10.2-4.9l-9.9 2.2l-10.2 4.9z" fill="#332b0f"/><path d="M212.6 1023l10.2-4.8l-10 1.8l-10.2 4.8z" fill="#392c11"/><path d="M270.7 1007.4l10.3-4.3l-10.1 0.4l-10.3 4.3z" fill="#4b2e16"/><path d="M309.8 1000l10.2-4l-10.2-0.5l-10.2 3.9z" fill="#5e3119"/><path d="M329.3 997.2l10.3-3.8l-10.2-1l-10.3 3.8z" fill="#69321a"/><path d="M348.9 995l10.3-3.7l-10.2-1.5l-10.3 3.7z" fill="#73331b"/><path d="M368.5 993.4l10.3-3.5l-10.2-2l-10.3 3.5z" fill="#7e341c"/><path d="M407.8 992.1l10.3-3.3l-10.3-2.9l-10.2 3.2z" fill="#95361d"/><path d="M466.8 994.6l10.3-2.8l-10.3-4.4l-10.3 2.8z" fill="#ac3d1b"/><path d="M486.5 996.7l10.3-2.7l-10.3-4.9l-10.3 2.6z" fill="#b2411a"/><path d="M506.1 999.3l10.3-2.5l-10.3-5.4l-10.2 2.5z" fill="#b84719"/><path d="M525.8 1002.6l10.2-2.4l-10.2-5.9l-10.3 2.3z" fill="#bd4e18"/><path d="M584.5 1016l10.2-2l-10.2-7.4l-10.2 2z" fill="#ca6e13"/><path d="M623.5 1028l10.1-1.8l-10.1-8.4l-10.2 1.7z" fill="#d18d10"/><path d="M642.9 1034.9l10.1-1.7l-10-8.9l-10.2 1.6z" fill="#d4a00e"/><path d="M662.2 1042.4l10.2-1.6l-10-9.4l-10.2 1.5z" fill="#d7b50d"/><path d="M681.5 1050.5l10.2-1.5l-10-9.9l-10.2 1.4z" fill="#d8cc0c"/><path d="M719.9 1068.5l10.1-1.3l-9.9-10.9l-10.1 1.2z" fill="#b1db09"/><path d="M776.9 1099.9l10-0.9l-9.7-12.5l-10 0.9z" fill="#4edd06"/><path d="M795.8 1111.5l9.9-0.8l-9.6-12.9l-10 0.7z" fill="#28de05"/><path d="M388.2 992.5l10.3-3.4l-10.3-2.5l-10.3 3.4z" fill="#8a351d"/><path d="M604 1021.7l10.2-1.9l-10.1-7.9l-10.3 1.9z" fill="#ce7c11"/><path d="M231.9 1017.2l10.2-4.6l-10 1.3l-10.2 4.6z" fill="#3f2d13"/><path d="M251.3 1012l10.2-4.5l-10 0.9l-10.2 4.4z" fill="#442d14"/><path d="M739 1078.3l10.1-1.1l-9.9-11.4l-10 1z" fill="#93db08"/><path d="M758 1088.8l10-1l-9.7-11.9l-10 0.9z" fill="#72dc07"/><path d="M280.5 1007.2l10.2-4.3l-10.2-0.1l-10.2 4.2z" fill="#5a341a"/><path d="M300 1003.7l10.2-4.2l-10.2-0.6l-10.2 4.1z" fill="#64351b"/><path d="M417.7 995.2l10.2-3.3l-10.2-3.5l-10.3 3.2z" fill="#a53b1f"/><path d="M437.3 995.9l10.3-3.2l-10.3-3.9l-10.3 3.1z" fill="#ac3d1e"/><path d="M555.1 1013l10.3-2.4l-10.2-7l-10.3 2.3z" fill="#cc6216"/><path d="M574.7 1017.9l10.2-2.2l-10.2-7.5l-10.2 2.2z" fill="#d06f15"/><path d="M691.1 1060.4l10.1-1.5l-10-10.5l-10.1 1.4z" fill="#d6dc0b"/><path d="M710.3 1069.6l10-1.4l-9.8-11l-10.1 1.3z" fill="#badd0a"/><path d="M398 995.1l10.3-3.5l-10.3-3l-10.3 3.4z" fill="#9c3a1f"/><path d="M457 997.2l10.3-3l-10.3-4.5l-10.3 3z" fill="#b2401d"/><path d="M535.5 1008.6l10.3-2.5l-10.2-6.4l-10.3 2.4z" fill="#c85818"/><path d="M594.2 1023.5l10.2-2.1l-10.1-8l-10.2 2.1z" fill="#d47d13"/><path d="M202.9 1027.4l10.1-5l-9.9 1.8l-10.2 4.9z" fill="#3c3012"/><path d="M222.2 1021.4l10.2-4.8l-10 1.3l-10.2 4.8z" fill="#423014"/><path d="M261 1011.4l10.2-4.5l-10.1 0.3l-10.2 4.5z" fill="#503218"/><path d="M319.5 1000.7l10.3-4l-10.2-1.1l-10.3 4z" fill="#6e361d"/><path d="M339.1 998.4l10.3-3.9l-10.3-1.5l-10.2 3.8z" fill="#79371e"/><path d="M358.7 996.7l10.3-3.7l-10.3-2.1l-10.2 3.7z" fill="#84381e"/><path d="M378.3 995.6l10.3-3.6l-10.2-2.5l-10.3 3.5z" fill="#90381f"/><path d="M476.6 999.2l10.3-2.9l-10.2-5l-10.3 2.8z" fill="#b8441c"/><path d="M496.3 1001.7l10.3-2.7l-10.3-5.5l-10.3 2.7z" fill="#be491b"/><path d="M515.9 1004.8l10.3-2.6l-10.2-5.9l-10.3 2.5z" fill="#c3501a"/><path d="M613.7 1029.7l10.2-2l-10.1-8.5l-10.2 1.9z" fill="#d78e11"/><path d="M633.1 1036.5l10.2-1.9l-10.1-9l-10.2 1.8z" fill="#d9a010"/><path d="M652.5 1043.8l10.2-1.7l-10.1-9.5l-10.1 1.7z" fill="#dab30e"/><path d="M671.8 1051.8l10.1-1.6l-9.9-10l-10.2 1.6z" fill="#dbc90c"/><path d="M729.4 1079.4l10-1.3l-9.8-11.5l-10.1 1.2z" fill="#9cde09"/><path d="M767.3 1100.8l10-1.1l-9.7-12.6l-10 1z" fill="#57df07"/><path d="M786.2 1112.3l10-1l-9.7-13l-9.9 0.9z" fill="#31e006"/><path d="M241.6 1016.1l10.2-4.7l-10.1 0.9l-10.2 4.6z" fill="#473116"/><path d="M748.4 1089.8l10-1.2l-9.7-12l-10.1 1.1z" fill="#7bdf08"/><path d="M407.8 998.2l10.3-3.5l-10.3-3.5l-10.3 3.4z" fill="#ab3f21"/><path d="M584.4 1025.4l10.2-2.2l-10.1-8.1l-10.2 2.2z" fill="#d97e14"/><path d="M270.7 1011.2l10.2-4.5l-10.1-0.2l-10.2 4.5z" fill="#5f381c"/><path d="M290.2 1007.5l10.2-4.4l-10.1-0.6l-10.3 4.3z" fill="#69391e"/><path d="M309.7 1004.5l10.3-4.3l-10.2-1.1l-10.3 4.2z" fill="#743a1f"/><path d="M388.2 998.3l10.2-3.7l-10.2-3l-10.3 3.6z" fill="#a23e21"/><path d="M427.5 998.8l10.3-3.3l-10.3-4.1l-10.3 3.3z" fill="#b24021"/><path d="M447.1 1000l10.3-3.2l-10.2-4.5l-10.3 3.1z" fill="#b84320"/><path d="M545.3 1015.1l10.3-2.5l-10.2-7l-10.3 2.4z" fill="#d36418"/><path d="M564.9 1020l10.2-2.4l-10.2-7.5l-10.2 2.3z" fill="#d77016"/><path d="M603.9 1031.5l10.2-2.1l-10.1-8.6l-10.2 2.1z" fill="#da8d12"/><path d="M681.4 1061.8l10.1-1.7l-10-10.5l-10.1 1.6z" fill="#dede0c"/><path d="M700.6 1070.9l10.1-1.6l-9.9-11l-10.1 1.5z" fill="#c2df0b"/><path d="M719.7 1080.6l10.1-1.5l-9.9-11.5l-10 1.3z" fill="#a4e009"/><path d="M466.8 1001.8l10.3-3l-10.3-5.1l-10.3 3z" fill="#be461f"/><path d="M525.7 1010.9l10.3-2.7l-10.2-6.5l-10.3 2.6z" fill="#ce5a1a"/><path d="M212.5 1025.9l10.1-5l-10 1.2l-10.1 5z" fill="#453416"/><path d="M231.8 1020.4l10.2-4.9l-10 0.8l-10.2 4.8z" fill="#4c3518"/><path d="M251.2 1015.5l10.2-4.7l-10.1 0.3l-10.2 4.7z" fill="#55371a"/><path d="M329.3 1002l10.3-4.1l-10.3-1.6l-10.2 4z" fill="#7f3b20"/><path d="M348.9 1000.2l10.3-4l-10.3-2.1l-10.2 3.9z" fill="#8a3c21"/><path d="M368.5 998.9l10.3-3.8l-10.3-2.6l-10.2 3.8z" fill="#963d21"/><path d="M486.5 1004.2l10.2-2.9l-10.2-5.5l-10.3 2.8z" fill="#c44b1d"/><path d="M506.1 1007.3l10.3-2.8l-10.3-6.1l-10.3 2.8z" fill="#c9521c"/><path d="M623.4 1038.2l10.1-2l-10-9.1l-10.2 2z" fill="#db9e11"/><path d="M642.7 1045.5l10.2-1.9l-10-9.6l-10.2 1.8z" fill="#dcb20f"/><path d="M662.1 1053.4l10.1-1.9l-10-10l-10.1 1.7z" fill="#ddc70d"/><path d="M738.8 1090.9l10-1.4l-9.8-12.1l-10 1.3z" fill="#83e108"/><path d="M757.7 1101.8l10-1.3l-9.7-12.6l-10 1.2z" fill="#60e207"/><path d="M776.6 1113.3l10-1.2l-9.6-13.1l-10 1.1z" fill="#3ae206"/><path d="M398 1001.5l10.3-3.7l-10.3-3.6l-10.3 3.6z" fill="#b14324"/><path d="M594.1 1033.5l10.2-2.3l-10.1-8.6l-10.2 2.3z" fill="#dd8c14"/><path d="M417.6 1001.9l10.3-3.5l-10.2-4.1l-10.3 3.5z" fill="#b84423"/><path d="M574.6 1027.6l10.3-2.5l-10.2-8.1l-10.2 2.4z" fill="#db7e16"/><path d="M241.5 1019.8l10.2-4.9l-10.1 0.3l-10.2 4.8z" fill="#5a3c1c"/><path d="M260.9 1015.4l10.2-4.7l-10.1-0.2l-10.2 4.6z" fill="#643d1e"/><path d="M280.4 1011.6l10.2-4.6l-10.1-0.7l-10.3 4.6z" fill="#6e3e20"/><path d="M299.9 1008.4l10.3-4.5l-10.2-1.1l-10.3 4.4z" fill="#793f21"/><path d="M319.5 1005.8l10.2-4.3l-10.2-1.7l-10.2 4.3z" fill="#844023"/><path d="M378.3 1001.6l10.3-3.8l-10.3-3.1l-10.2 3.8z" fill="#a84224"/><path d="M437.3 1003l10.3-3.4l-10.3-4.6l-10.3 3.3z" fill="#be4622"/><path d="M457 1004.7l10.3-3.3l-10.3-5.1l-10.3 3.2z" fill="#c54a21"/><path d="M535.5 1017.5l10.3-2.7l-10.3-7.1l-10.2 2.6z" fill="#d9671a"/><path d="M555.1 1022.2l10.2-2.6l-10.2-7.5l-10.2 2.5z" fill="#da7118"/><path d="M613.6 1040.1l10.2-2.2l-10.1-9.1l-10.2 2.1z" fill="#de9d12"/><path d="M671.7 1063.4l10.1-1.8l-10-10.7l-10.1 1.8z" fill="#e1dd0d"/><path d="M690.9 1072.4l10.1-1.7l-9.9-11.2l-10.1 1.7z" fill="#cae20b"/><path d="M710 1082l10.1-1.6l-9.8-11.7l-10.1 1.6z" fill="#ace20a"/><path d="M729.1 1092.2l10.1-1.5l-9.8-12.2l-10.1 1.5z" fill="#8be309"/><path d="M748.1 1103l10-1.4l-9.7-12.7l-10 1.3z" fill="#68e408"/><path d="M476.6 1007l10.3-3.2l-10.3-5.5l-10.2 3z" fill="#ca4e20"/><path d="M515.9 1013.4l10.3-2.9l-10.3-6.6l-10.2 2.8z" fill="#d45d1c"/><path d="M222.1 1024.9l10.2-5.1l-10.1 0.7l-10.1 5.1z" fill="#513a1a"/><path d="M339.1 1003.8l10.2-4.1l-10.2-2.2l-10.3 4.1z" fill="#904023"/><path d="M358.7 1002.4l10.3-4l-10.3-2.6l-10.3 3.9z" fill="#9c4124"/><path d="M496.3 1009.9l10.2-3l-10.2-6.1l-10.3 2.9z" fill="#d0551e"/><path d="M633 1047.3l10.2-2.1l-10.1-9.6l-10.2 2z" fill="#dfb010"/><path d="M652.4 1055.1l10.1-2l-10-10.2l-10.2 1.9z" fill="#e0c50e"/><path d="M767 1114.4l10-1.3l-9.6-13.2l-10 1.2z" fill="#43e507"/><path d="M251.2 1019.8l10.2-4.9l-10.2-0.3l-10.2 4.9z" fill="#694220"/><path d="M388.2 1004.9l10.2-3.9l-10.2-3.6l-10.3 3.8z" fill="#b74826"/><path d="M407.8 1005.2l10.3-3.7l-10.3-4.2l-10.3 3.7z" fill="#be4926"/><path d="M584.3 1035.8l10.3-2.6l-10.2-8.7l-10.2 2.5z" fill="#df8c15"/><path d="M603.8 1042.2l10.2-2.4l-10.1-9.2l-10.2 2.3z" fill="#e09d13"/><path d="M738.5 1104.4l10-1.6l-9.7-12.8l-10.1 1.5z" fill="#70e608"/><path d="M427.5 1006.2l10.3-3.6l-10.3-4.7l-10.3 3.6z" fill="#c54a25"/><path d="M564.8 1029.9l10.3-2.6l-10.2-8.2l-10.3 2.6z" fill="#de7e17"/><path d="M231.7 1024.4l10.2-5.1l-10.1 0.2l-10.1 5z" fill="#5f411e"/><path d="M270.6 1015.9l10.2-4.8l-10.1-0.8l-10.2 4.8z" fill="#744322"/><path d="M290.1 1012.5l10.3-4.6l-10.2-1.3l-10.2 4.6z" fill="#7f4424"/><path d="M309.7 1009.8l10.2-4.5l-10.2-1.7l-10.2 4.4z" fill="#8a4525"/><path d="M329.3 1007.6l10.2-4.3l-10.2-2.2l-10.3 4.3z" fill="#964526"/><path d="M368.5 1005.2l10.3-4l-10.3-3.2l-10.3 4z" fill="#ae4727"/><path d="M447.1 1007.7l10.3-3.4l-10.3-5.2l-10.2 3.4z" fill="#cb4d23"/><path d="M466.8 1009.9l10.3-3.3l-10.3-5.7l-10.3 3.3z" fill="#d05222"/><path d="M525.7 1020.1l10.2-3l-10.2-7.1l-10.2 2.8z" fill="#db681c"/><path d="M545.3 1024.7l10.2-2.8l-10.2-7.7l-10.2 2.7z" fill="#dd7219"/><path d="M623.2 1049.3l10.2-2.3l-10-9.7l-10.2 2.2z" fill="#e1af11"/><path d="M661.9 1065.2l10.2-2l-10-10.7l-10.2 1.9z" fill="#e3db0e"/><path d="M681.2 1074.1l10.1-1.9l-9.9-11.3l-10.2 1.9z" fill="#d1e40c"/><path d="M700.4 1083.6l10.1-1.8l-9.9-11.8l-10.1 1.8z" fill="#b3e50b"/><path d="M719.5 1093.7l10-1.7l-9.8-12.3l-10 1.7z" fill="#93e509"/><path d="M757.4 1115.7l10-1.5l-9.6-13.3l-10.1 1.4z" fill="#4be707"/><path d="M486.4 1012.7l10.3-3.2l-10.2-6.2l-10.3 3.2z" fill="#d65820"/><path d="M506.1 1016.1l10.2-3.1l-10.2-6.6l-10.3 2.9z" fill="#da5f1e"/><path d="M348.9 1006.1l10.2-4.2l-10.2-2.6l-10.3 4.1z" fill="#a24627"/><path d="M642.6 1056.9l10.2-2.1l-10-10.2l-10.2 2.1z" fill="#e2c40f"/><path d="M241.4 1024.4l10.2-5.1l-10.1-0.4l-10.2 5.1z" fill="#6e4823"/><path d="M260.9 1020.3l10.2-5l-10.2-0.8l-10.2 5z" fill="#794925"/><path d="M378.3 1008.5l10.3-4l-10.3-3.8l-10.2 4.1z" fill="#bd4d29"/><path d="M398 1008.7l10.3-3.9l-10.3-4.2l-10.3 3.9z" fill="#c44d28"/><path d="M417.7 1009.5l10.2-3.8l-10.3-4.7l-10.2 3.8z" fill="#cb4f27"/><path d="M437.3 1011l10.3-3.7l-10.3-5.2l-10.3 3.6z" fill="#d15226"/><path d="M555 1032.4l10.3-2.8l-10.2-8.3l-10.3 2.8z" fill="#e07e18"/><path d="M574.6 1038.1l10.2-2.7l-10.2-8.7l-10.2 2.6z" fill="#e18c16"/><path d="M594 1044.5l10.2-2.6l-10.1-9.3l-10.2 2.6z" fill="#e39c14"/><path d="M613.5 1051.4l10.2-2.4l-10.1-9.8l-10.2 2.4z" fill="#e4af12"/><path d="M728.9 1106l10-1.8l-9.8-12.9l-10 1.7z" fill="#78e809"/><path d="M747.8 1117.2l10-1.7l-9.7-13.4l-10 1.6z" fill="#52e908"/><path d="M280.4 1016.8l10.2-4.8l-10.2-1.3l-10.2 4.8z" fill="#844a26"/><path d="M299.9 1013.9l10.2-4.7l-10.2-1.7l-10.2 4.6z" fill="#904a28"/><path d="M319.5 1011.7l10.2-4.6l-10.2-2.2l-10.2 4.5z" fill="#9c4b29"/><path d="M339.1 1010l10.2-4.4l-10.2-2.7l-10.3 4.3z" fill="#a84b29"/><path d="M358.7 1009l10.3-4.3l-10.3-3.2l-10.3 4.2z" fill="#b54c29"/><path d="M457 1013l10.2-3.5l-10.2-5.7l-10.3 3.4z" fill="#d65624"/><path d="M476.6 1015.7l10.3-3.4l-10.3-6.2l-10.2 3.3z" fill="#db5b22"/><path d="M496.3 1018.9l10.2-3.2l-10.2-6.7l-10.3 3.1z" fill="#dd6120"/><path d="M515.9 1022.8l10.2-3.1l-10.2-7.2l-10.3 3z" fill="#de691d"/><path d="M535.5 1027.3l10.2-3l-10.2-7.7l-10.2 2.9z" fill="#df731b"/><path d="M632.9 1059l10.1-2.3l-10-10.3l-10.2 2.3z" fill="#e4c310"/><path d="M652.2 1067.2l10.1-2.3l-9.9-10.7l-10.2 2.1z" fill="#e5da0e"/><path d="M671.5 1076l10.1-2.2l-9.9-11.3l-10.2 2.1z" fill="#d7e60d"/><path d="M690.7 1085.4l10.1-2.1l-9.9-11.8l-10.1 2z" fill="#bae70b"/><path d="M709.8 1095.4l10.1-1.9l-9.8-12.4l-10.1 1.8z" fill="#9ae80a"/><path d="M251.1 1025l10.2-5.2l-10.1-0.9l-10.2 5.2z" fill="#7f4f27"/><path d="M270.6 1021.3l10.2-5l-10.2-1.3l-10.2 4.9z" fill="#8a5029"/><path d="M348.9 1012.9l10.2-4.4l-10.2-3.3l-10.3 4.4z" fill="#bb522c"/><path d="M368.5 1012.4l10.3-4.3l-10.3-3.8l-10.2 4.2z" fill="#c3522c"/><path d="M388.2 1012.4l10.2-4.1l-10.2-4.3l-10.3 4.1z" fill="#ca532b"/><path d="M407.8 1013.1l10.3-4l-10.3-4.8l-10.3 4z" fill="#d0542a"/><path d="M427.5 1014.4l10.3-3.9l-10.3-5.2l-10.3 3.8z" fill="#d75629"/><path d="M447.1 1016.3l10.3-3.7l-10.3-5.8l-10.2 3.7z" fill="#dd5a27"/><path d="M486.4 1022l10.3-3.5l-10.3-6.7l-10.2 3.3z" fill="#df6422"/><path d="M506.1 1025.7l10.2-3.3l-10.2-7.2l-10.3 3.2z" fill="#e06b1f"/><path d="M545.2 1035.1l10.3-3l-10.2-8.3l-10.3 2.9z" fill="#e3801a"/><path d="M564.8 1040.7l10.2-2.9l-10.2-8.8l-10.2 2.8z" fill="#e48d17"/><path d="M584.3 1047l10.2-2.8l-10.2-9.3l-10.2 2.7z" fill="#e59d15"/><path d="M603.7 1053.8l10.2-2.7l-10.1-9.8l-10.2 2.6z" fill="#e6af13"/><path d="M623.1 1061.3l10.2-2.6l-10-10.3l-10.2 2.4z" fill="#e7c311"/><path d="M642.5 1069.3l10.1-2.4l-10-10.9l-10.1 2.4z" fill="#e8d90f"/><path d="M719.2 1107.7l10.1-2l-9.8-12.9l-10.1 1.9z" fill="#7eea0a"/><path d="M738.2 1118.8l10-1.9l-9.7-13.4l-10 1.8z" fill="#59eb09"/><path d="M290.1 1018.3l10.3-4.9l-10.2-1.8l-10.3 4.8z" fill="#96502a"/><path d="M309.7 1015.9l10.2-4.7l-10.2-2.3l-10.2 4.6z" fill="#a2512b"/><path d="M329.3 1014.1l10.2-4.6l-10.2-2.8l-10.3 4.6z" fill="#ae512c"/><path d="M466.8 1018.8l10.3-3.5l-10.3-6.3l-10.3 3.5z" fill="#de5e24"/><path d="M525.7 1030.1l10.2-3.1l-10.2-7.8l-10.3 3.1z" fill="#e2741c"/><path d="M661.8 1078l10.1-2.3l-10-11.4l-10.1 2.2z" fill="#dde80e"/><path d="M681 1087.3l10.1-2.2l-9.9-11.9l-10.1 2.1z" fill="#c0e90c"/><path d="M700.1 1097.2l10.1-2.1l-9.8-12.4l-10.1 2z" fill="#a1ea0b"/><path d="M358.7 1016.4l10.3-4.5l-10.3-3.8l-10.3 4.4z" fill="#c9582f"/><path d="M632.7 1071.7l10.2-2.6l-10-11l-10.2 2.5z" fill="#ead910"/><path d="M260.9 1026.1l10.2-5.3l-10.2-1.4l-10.2 5.2z" fill="#90562c"/><path d="M280.4 1022.9l10.2-5.1l-10.2-1.9l-10.2 5.1z" fill="#9b572d"/><path d="M339.1 1017.1l10.2-4.6l-10.2-3.4l-10.3 4.6z" fill="#c1582f"/><path d="M378.4 1016.3l10.2-4.3l-10.3-4.4l-10.2 4.3z" fill="#d0582e"/><path d="M398 1016.9l10.3-4.2l-10.3-4.9l-10.3 4.2z" fill="#d6592d"/><path d="M417.7 1018l10.2-4l-10.3-5.4l-10.2 4z" fill="#dd5c2b"/><path d="M437.3 1019.8l10.3-3.9l-10.3-5.8l-10.3 3.8z" fill="#df5e29"/><path d="M457 1022.2l10.2-3.8l-10.2-6.3l-10.3 3.7z" fill="#e06126"/><path d="M476.6 1025.2l10.3-3.6l-10.3-6.8l-10.2 3.5z" fill="#e26623"/><path d="M496.2 1028.9l10.3-3.5l-10.2-7.4l-10.3 3.4z" fill="#e36d21"/><path d="M515.8 1033.1l10.3-3.3l-10.2-7.9l-10.3 3.3z" fill="#e4761e"/><path d="M535.4 1038l10.3-3.2l-10.2-8.4l-10.3 3.2z" fill="#e5811b"/><path d="M555 1043.5l10.2-3.1l-10.2-8.9l-10.2 3z" fill="#e68e19"/><path d="M574.5 1049.6l10.2-3l-10.1-9.4l-10.3 2.9z" fill="#e79e16"/><path d="M593.9 1056.4l10.2-2.9l-10.1-9.9l-10.2 2.8z" fill="#e8af14"/><path d="M613.4 1063.7l10.1-2.7l-10-10.5l-10.2 2.7z" fill="#e9c312"/><path d="M652 1080.2l10.2-2.5l-10-11.4l-10.1 2.4z" fill="#e3eb0f"/><path d="M709.5 1109.6l10.1-2.1l-9.8-13l-10.1 2z" fill="#85ed0a"/><path d="M728.6 1120.6l10-2l-9.7-13.5l-10.1 1.9z" fill="#60ed09"/><path d="M299.9 1020.3l10.2-4.9l-10.2-2.4l-10.2 4.9z" fill="#a8572e"/><path d="M319.5 1018.4l10.2-4.8l-10.2-2.8l-10.3 4.7z" fill="#b4582f"/><path d="M671.3 1089.4l10.1-2.4l-9.9-11.9l-10.1 2.3z" fill="#c6eb0d"/><path d="M690.4 1099.2l10.1-2.2l-9.8-12.5l-10.1 2.1z" fill="#a7ec0c"/><path d="M348.9 1020.6l10.3-4.7l-10.3-3.9l-10.3 4.7z" fill="#ce5e32"/><path d="M368.5 1020.4l10.3-4.5l-10.3-4.4l-10.2 4.4z" fill="#d55f31"/><path d="M623 1074.2l10.1-2.8l-10-11l-10.2 2.7z" fill="#ecd911"/><path d="M642.3 1082.7l10.1-2.7l-9.9-11.6l-10.2 2.6z" fill="#e8ed0f"/><path d="M270.6 1027.7l10.2-5.3l-10.2-2l-10.2 5.3z" fill="#a15d30"/><path d="M290.1 1025l10.3-5.2l-10.3-2.4l-10.2 5.1z" fill="#ad5e31"/><path d="M329.3 1021.5l10.2-4.9l-10.2-3.4l-10.3 4.8z" fill="#c75f32"/><path d="M388.2 1020.8l10.3-4.4l-10.3-4.9l-10.3 4.4z" fill="#dc5f30"/><path d="M407.8 1021.9l10.3-4.3l-10.3-5.4l-10.2 4.2z" fill="#e0602e"/><path d="M427.5 1023.5l10.3-4.1l-10.3-5.9l-10.3 4z" fill="#e1622b"/><path d="M447.2 1025.8l10.2-4l-10.3-6.4l-10.2 3.9z" fill="#e36528"/><path d="M466.8 1028.7l10.3-3.8l-10.3-7l-10.3 3.8z" fill="#e46925"/><path d="M486.4 1032.2l10.3-3.7l-10.3-7.4l-10.2 3.6z" fill="#e57022"/><path d="M506 1036.3l10.3-3.5l-10.2-8l-10.3 3.5z" fill="#e6791f"/><path d="M525.6 1041.1l10.3-3.4l-10.2-8.5l-10.3 3.4z" fill="#e7831d"/><path d="M545.2 1046.5l10.2-3.3l-10.2-9l-10.2 3.2z" fill="#e8901a"/><path d="M564.7 1052.5l10.2-3.2l-10.1-9.5l-10.3 3.1z" fill="#e99f18"/><path d="M584.2 1059.1l10.2-3l-10.1-10l-10.2 2.9z" fill="#eab015"/><path d="M603.6 1066.3l10.2-2.9l-10.1-10.5l-10.2 2.8z" fill="#ebc413"/><path d="M661.6 1091.7l10.1-2.5l-9.9-12.1l-10.2 2.5z" fill="#cbee0e"/><path d="M699.9 1111.7l10-2.3l-9.8-13.1l-10 2.3z" fill="#8aef0b"/><path d="M718.9 1122.7l10.1-2.3l-9.8-13.6l-10 2.2z" fill="#66ef0a"/><path d="M309.7 1022.9l10.2-5l-10.2-2.9l-10.2 4.9z" fill="#ba5e32"/><path d="M680.8 1101.4l10.1-2.4l-9.9-12.6l-10.1 2.4z" fill="#acee0c"/><path d="M339.1 1025l10.3-4.8l-10.3-4l-10.2 4.8z" fill="#d46535"/><path d="M358.7 1024.7l10.3-4.7l-10.3-4.5l-10.2 4.7z" fill="#db6534"/><path d="M378.4 1025l10.2-4.6l-10.2-5l-10.3 4.6z" fill="#e16632"/><path d="M613.2 1076.9l10.2-3l-10-11.1l-10.2 2.9z" fill="#eeda12"/><path d="M632.6 1085.3l10.1-2.9l-10-11.6l-10.1 2.8z" fill="#ecef10"/><path d="M651.8 1094.2l10.2-2.7l-10-12.2l-10.1 2.7z" fill="#d0f00f"/><path d="M280.4 1029.8l10.2-5.3l-10.2-2.5l-10.2 5.3z" fill="#b36534"/><path d="M299.9 1027.6l10.3-5.2l-10.3-3l-10.2 5.2z" fill="#c06635"/><path d="M319.5 1026l10.2-5l-10.2-3.5l-10.2 5z" fill="#cc6635"/><path d="M398 1025.9l10.3-4.5l-10.3-5.4l-10.3 4.3z" fill="#e26530"/><path d="M417.7 1027.4l10.2-4.3l-10.2-6l-10.3 4.3z" fill="#e4662d"/><path d="M437.3 1029.6l10.3-4.2l-10.3-6.5l-10.2 4.1z" fill="#e5692a"/><path d="M457 1032.3l10.2-4l-10.2-7l-10.3 4z" fill="#e66d27"/><path d="M476.6 1035.7l10.3-3.9l-10.3-7.5l-10.3 3.8z" fill="#e77324"/><path d="M496.2 1039.7l10.3-3.7l-10.3-8l-10.2 3.7z" fill="#e97b21"/><path d="M515.8 1044.4l10.3-3.6l-10.3-8.6l-10.2 3.6z" fill="#ea861e"/><path d="M535.4 1049.6l10.2-3.5l-10.2-9l-10.2 3.4z" fill="#eb921c"/><path d="M554.9 1055.5l10.2-3.3l-10.1-9.6l-10.3 3.3z" fill="#eca119"/><path d="M574.4 1062l10.2-3.2l-10.1-10.1l-10.2 3.2z" fill="#edb117"/><path d="M593.8 1069.2l10.2-3.2l-10.1-10.5l-10.2 3z" fill="#eec514"/><path d="M671 1103.8l10.2-2.6l-9.9-12.7l-10.1 2.6z" fill="#b1f00d"/><path d="M690.2 1114l10.1-2.5l-9.8-13.2l-10.1 2.5z" fill="#90f10c"/><path d="M709.3 1124.9l10-2.5l-9.7-13.7l-10.1 2.4z" fill="#6bf10a"/><path d="M309.7 1030.8l10.3-5.3l-10.3-3.5l-10.2 5.2z" fill="#d26e38"/><path d="M329.3 1029.7l10.3-5.1l-10.3-4l-10.2 5z" fill="#d96d38"/><path d="M349 1029.2l10.2-5l-10.3-4.5l-10.2 4.9z" fill="#e16d37"/><path d="M368.6 1029.3l10.2-4.8l-10.3-5l-10.2 4.7z" fill="#e36b34"/><path d="M388.2 1030.1l10.3-4.6l-10.3-5.6l-10.3 4.6z" fill="#e46a32"/><path d="M466.8 1039.4l10.2-4.1l-10.2-7.5l-10.3 4z" fill="#ea7726"/><path d="M525.6 1053l10.2-3.7l-10.2-9.1l-10.2 3.6z" fill="#ed951d"/><path d="M603.5 1079.8l10.1-3.2l-10-11.2l-10.2 3.1z" fill="#f0db13"/><path d="M622.8 1088.1l10.2-3.1l-10-11.7l-10.2 3z" fill="#f0f111"/><path d="M642.1 1096.9l10.2-2.9l-10-12.2l-10.1 2.8z" fill="#d4f210"/><path d="M661.3 1106.4l10.2-2.8l-9.9-12.8l-10.2 2.8z" fill="#b5f20e"/><path d="M680.5 1116.5l10.1-2.7l-9.8-13.3l-10.1 2.7z" fill="#94f30c"/><path d="M290.2 1032.5l10.2-5.4l-10.3-3l-10.2 5.3z" fill="#c66d38"/><path d="M407.9 1031.5l10.2-4.5l-10.3-6l-10.2 4.4z" fill="#e66b2f"/><path d="M427.5 1033.5l10.3-4.3l-10.3-6.6l-10.3 4.3z" fill="#e76d2c"/><path d="M447.2 1036.2l10.2-4.3l-10.3-7l-10.2 4.1z" fill="#e87129"/><path d="M486.4 1043.3l10.3-3.9l-10.3-8.1l-10.2 3.9z" fill="#eb7f23"/><path d="M506 1047.8l10.2-3.8l-10.2-8.6l-10.2 3.8z" fill="#ec8920"/><path d="M545.1 1058.8l10.2-3.6l-10.1-9.6l-10.3 3.5z" fill="#eea31a"/><path d="M564.6 1065.1l10.2-3.4l-10.1-10.1l-10.2 3.3z" fill="#efb318"/><path d="M584.1 1072.2l10.2-3.3l-10.1-10.7l-10.2 3.2z" fill="#f0c615"/><path d="M699.6 1127.3l10.1-2.7l-9.8-13.8l-10.1 2.6z" fill="#70f30b"/><path d="M319.6 1034.5l10.2-5.3l-10.3-4.1l-10.2 5.3z" fill="#df753b"/><path d="M670.8 1119.2l10.1-2.9l-9.8-13.4l-10.1 2.9z" fill="#98f50d"/><path d="M300 1035.8l10.2-5.5l-10.3-3.6l-10.2 5.4z" fill="#d7763b"/><path d="M339.2 1033.9l10.2-5.2l-10.3-4.6l-10.2 5.1z" fill="#e47339"/><path d="M358.8 1033.9l10.2-5l-10.3-5.1l-10.2 4.9z" fill="#e57137"/><path d="M378.4 1034.5l10.3-4.8l-10.3-5.6l-10.3 4.8z" fill="#e77034"/><path d="M398.1 1035.8l10.2-4.7l-10.3-6.1l-10.2 4.6z" fill="#e87031"/><path d="M457 1043.4l10.2-4.3l-10.2-7.7l-10.3 4.2z" fill="#ec7b27"/><path d="M476.6 1047.1l10.3-4.1l-10.3-8.2l-10.2 4.1z" fill="#ed8324"/><path d="M496.2 1051.5l10.2-4l-10.2-8.7l-10.2 4z" fill="#ee8c21"/><path d="M515.8 1056.5l10.2-3.8l-10.2-9.2l-10.2 3.8z" fill="#ef981e"/><path d="M535.3 1062.2l10.2-3.8l-10.1-9.7l-10.3 3.7z" fill="#f0a51c"/><path d="M593.7 1082.9l10.2-3.4l-10.1-11.2l-10.2 3.2z" fill="#f3dd14"/><path d="M613.1 1091l10.1-3.2l-10-11.8l-10.1 3.2z" fill="#f3f312"/><path d="M632.4 1099.8l10.1-3.1l-9.9-12.3l-10.2 3z" fill="#d7f410"/><path d="M651.6 1109.2l10.2-3l-10-12.9l-10.1 3z" fill="#b9f40f"/><path d="M689.9 1129.8l10.1-2.8l-9.8-13.9l-10.1 2.8z" fill="#74f50c"/><path d="M417.7 1037.7l10.3-4.6l-10.3-6.6l-10.3 4.5z" fill="#e9722e"/><path d="M437.4 1040.2l10.2-4.4l-10.3-7.1l-10.2 4.3z" fill="#ea762b"/><path d="M554.8 1068.5l10.2-3.7l-10.1-10.2l-10.2 3.6z" fill="#f1b619"/><path d="M574.3 1075.4l10.2-3.5l-10.1-10.8l-10.2 3.4z" fill="#f2c817"/><path d="M309.8 1039.6l10.2-5.6l-10.3-4.1l-10.2 5.4z" fill="#e47d3e"/><path d="M329.4 1038.8l10.2-5.4l-10.3-4.6l-10.2 5.3z" fill="#e67a3b"/><path d="M486.4 1055.4l10.2-4.2l-10.2-8.8l-10.2 4.2z" fill="#f09023"/><path d="M506 1060.3l10.2-4.1l-10.2-9.3l-10.2 4.1z" fill="#f19b20"/><path d="M661.1 1122.1l10.1-3.1l-9.8-13.5l-10.2 3z" fill="#9bf70e"/><path d="M680.2 1132.6l10.1-3l-9.8-14l-10.1 2.9z" fill="#78f70c"/><path d="M349 1038.7l10.2-5.2l-10.2-5.2l-10.3 5.1z" fill="#e77739"/><path d="M368.6 1039.2l10.3-5.1l-10.3-5.7l-10.3 5z" fill="#e97636"/><path d="M388.3 1040.3l10.2-4.9l-10.3-6.2l-10.2 4.9z" fill="#ea7633"/><path d="M407.9 1042.1l10.3-4.8l-10.3-6.7l-10.3 4.7z" fill="#eb7730"/><path d="M447.2 1047.5l10.2-4.5l-10.2-7.7l-10.3 4.4z" fill="#ee8029"/><path d="M466.8 1051.1l10.2-4.3l-10.2-8.3l-10.3 4.3z" fill="#ef8726"/><path d="M525.5 1065.8l10.2-3.9l-10.1-9.8l-10.3 3.9z" fill="#f2a91d"/><path d="M545 1072l10.2-3.8l-10.1-10.3l-10.2 3.7z" fill="#f3b81a"/><path d="M583.9 1086.2l10.2-3.6l-10-11.3l-10.2 3.5z" fill="#f5df15"/><path d="M603.3 1094.2l10.2-3.4l-10-11.9l-10.2 3.4z" fill="#f5f513"/><path d="M622.6 1102.9l10.2-3.4l-10-12.3l-10.1 3.2z" fill="#daf611"/><path d="M641.9 1112.2l10.1-3.3l-9.9-12.9l-10.1 3.2z" fill="#bcf610"/><path d="M427.5 1044.5l10.3-4.7l-10.3-7.2l-10.2 4.6z" fill="#ed7b2c"/><path d="M564.5 1078.8l10.2-3.7l-10.1-10.9l-10.2 3.7z" fill="#f4ca18"/><path d="M319.6 1043.9l10.2-5.6l-10.2-4.7l-10.2 5.5z" fill="#e8803e"/><path d="M339.2 1043.7l10.3-5.5l-10.3-5.2l-10.3 5.4z" fill="#e97e3b"/><path d="M417.8 1048.9l10.2-4.8l-10.3-7.3l-10.2 4.8z" fill="#ef802e"/><path d="M476.6 1059.5l10.2-4.5l-10.2-8.8l-10.2 4.4z" fill="#f29424"/><path d="M496.2 1064.2l10.2-4.2l-10.2-9.4l-10.2 4.2z" fill="#f39f21"/><path d="M515.7 1069.7l10.3-4.2l-10.2-9.9l-10.3 4.1z" fill="#f4ac1e"/><path d="M574.2 1089.7l10.2-3.8l-10.1-11.4l-10.2 3.7z" fill="#f7e117"/><path d="M651.4 1125.1l10.1-3.3l-9.9-13.5l-10.1 3.2z" fill="#9ef90f"/><path d="M670.5 1135.5l10.1-3.1l-9.8-14.1l-10.1 3.1z" fill="#7bf90d"/><path d="M358.9 1044l10.2-5.3l-10.3-5.7l-10.2 5.2z" fill="#eb7c38"/><path d="M378.5 1045l10.2-5.1l-10.3-6.3l-10.2 5.1z" fill="#ec7c35"/><path d="M398.1 1046.6l10.3-4.9l-10.3-6.8l-10.3 4.9z" fill="#ed7d32"/><path d="M437.4 1051.8l10.2-4.7l-10.2-7.8l-10.3 4.6z" fill="#f0852b"/><path d="M457 1055.3l10.2-4.6l-10.2-8.2l-10.3 4.4z" fill="#f18c28"/><path d="M535.3 1075.7l10.2-4l-10.2-10.4l-10.2 3.9z" fill="#f5bc1c"/><path d="M554.7 1082.4l10.2-3.9l-10.1-10.9l-10.2 3.8z" fill="#f6cd19"/><path d="M593.6 1097.6l10.1-3.7l-10-11.9l-10.2 3.6z" fill="#f7f714"/><path d="M612.9 1106.1l10.2-3.5l-10-12.5l-10.2 3.5z" fill="#dcf812"/><path d="M632.2 1115.3l10.1-3.4l-9.9-13l-10.2 3.3z" fill="#bef810"/><path d="M329.5 1048.8l10.2-5.6l-10.3-5.3l-10.2 5.6z" fill="#eb853d"/><path d="M349.1 1049.1l10.2-5.5l-10.3-5.8l-10.2 5.4z" fill="#ec833a"/><path d="M368.7 1049.9l10.2-5.3l-10.3-6.3l-10.2 5.2z" fill="#ee8237"/><path d="M388.3 1051.4l10.3-5.2l-10.3-6.8l-10.3 5.1z" fill="#ef8333"/><path d="M408 1053.6l10.2-5.1l-10.3-7.3l-10.2 4.9z" fill="#f18630"/><path d="M427.6 1056.3l10.2-4.9l-10.3-7.8l-10.2 4.8z" fill="#f28a2d"/><path d="M447.2 1059.7l10.2-4.8l-10.2-8.3l-10.3 4.7z" fill="#f39129"/><path d="M466.8 1063.7l10.2-4.6l-10.2-8.9l-10.2 4.6z" fill="#f49926"/><path d="M486.4 1068.4l10.2-4.5l-10.2-9.4l-10.2 4.4z" fill="#f5a423"/><path d="M505.9 1073.7l10.3-4.4l-10.2-9.9l-10.3 4.3z" fill="#f6b120"/><path d="M525.5 1079.6l10.2-4.2l-10.2-10.5l-10.2 4.2z" fill="#f7c01d"/><path d="M545 1086.2l10.2-4.1l-10.2-11l-10.2 4z" fill="#f8d11a"/><path d="M564.4 1093.4l10.2-4l-10.1-11.5l-10.2 3.9z" fill="#f9e518"/><path d="M583.8 1101.2l10.2-3.9l-10.1-12l-10.1 3.7z" fill="#f8f915"/><path d="M603.2 1109.6l10.1-3.7l-10-12.6l-10.1 3.7z" fill="#ddfa13"/><path d="M622.5 1118.7l10.1-3.6l-9.9-13.1l-10.2 3.5z" fill="#c0fa11"/><path d="M641.7 1128.4l10.1-3.5l-9.9-13.6l-10.1 3.4z" fill="#a0fb0f"/><path d="M660.9 1138.7l10.1-3.4l-9.9-14.1l-10.1 3.3z" fill="#7dfb0e"/><path d="M339.3 1054.3l10.2-5.7l-10.3-5.8l-10.2 5.6z" fill="#ee8a3c"/><path d="M358.9 1055.1l10.2-5.6l-10.3-6.4l-10.2 5.5z" fill="#f08939"/><path d="M398.2 1058.4l10.2-5.2l-10.3-7.5l-10.2 5.2z" fill="#f28c32"/><path d="M417.8 1061l10.2-5.1l-10.3-7.9l-10.2 5z" fill="#f4902e"/><path d="M437.4 1064.3l10.2-5l-10.2-8.4l-10.3 4.9z" fill="#f5972b"/><path d="M457 1068.2l10.2-4.8l-10.2-9l-10.2 4.8z" fill="#f69f28"/><path d="M476.6 1072.8l10.2-4.7l-10.2-9.5l-10.2 4.6z" fill="#f7a924"/><path d="M496.2 1077.9l10.2-4.5l-10.2-10.1l-10.2 4.5z" fill="#f8b521"/><path d="M515.7 1083.7l10.2-4.4l-10.2-10.5l-10.2 4.3z" fill="#f9c41e"/><path d="M535.2 1090.2l10.2-4.3l-10.1-11.1l-10.3 4.2z" fill="#fad51b"/><path d="M554.6 1097.2l10.2-4.1l-10.1-11.6l-10.2 4.1z" fill="#fbe819"/><path d="M574.1 1104.9l10.1-4l-10-12.1l-10.2 3.9z" fill="#f8fb16"/><path d="M593.4 1113.3l10.2-4l-10-12.6l-10.2 3.8z" fill="#defc14"/><path d="M632 1131.8l10.1-3.7l-9.9-13.7l-10.1 3.6z" fill="#a2fd10"/><path d="M651.2 1142l10.1-3.5l-9.9-14.3l-10.1 3.5z" fill="#7ffd0f"/><path d="M378.6 1056.4l10.2-5.4l-10.3-6.9l-10.2 5.3z" fill="#f18a35"/><path d="M612.7 1122.2l10.2-3.8l-10-13.2l-10.1 3.8z" fill="#c1fc12"/><path d="M349.2 1060.4l10.2-5.8l-10.3-6.4l-10.2 5.7z" fill="#f1903b"/><path d="M368.8 1061.6l10.2-5.6l-10.3-7l-10.2 5.6z" fill="#f39137"/><path d="M388.4 1063.5l10.2-5.5l-10.3-7.5l-10.2 5.4z" fill="#f49334"/><path d="M408 1066l10.2-5.3l-10.2-8l-10.3 5.2z" fill="#f69730"/><path d="M427.6 1069.1l10.3-5.2l-10.3-8.5l-10.2 5.1z" fill="#f79d2d"/><path d="M447.2 1072.9l10.3-5l-10.3-9.1l-10.2 5z" fill="#f8a429"/><path d="M466.8 1077.3l10.2-4.9l-10.2-9.6l-10.2 4.9z" fill="#f9ae26"/><path d="M486.4 1082.4l10.2-4.8l-10.2-10.1l-10.2 4.7z" fill="#faba23"/><path d="M505.9 1088l10.2-4.6l-10.2-10.6l-10.2 4.5z" fill="#fbc920"/><path d="M525.4 1094.4l10.2-4.5l-10.1-11.2l-10.2 4.4z" fill="#fcd91d"/><path d="M544.9 1101.3l10.2-4.4l-10.1-11.6l-10.2 4.3z" fill="#fdec1a"/><path d="M564.3 1108.9l10.2-4.2l-10.1-12.2l-10.2 4.1z" fill="#f8fd17"/><path d="M583.7 1117.1l10.1-4.1l-10-12.7l-10.1 4z" fill="#defe15"/><path d="M603 1126l10.1-4l-9.9-13.3l-10.2 3.9z" fill="#c2fe13"/><path d="M622.3 1135.5l10.1-3.9l-9.9-13.8l-10.2 3.8z" fill="#a2ff11"/><path d="M641.5 1145.6l10.1-3.8l-9.9-14.3l-10.1 3.7z" fill="#80ff0f"/><path d="M457 1082.1l10.3-5.1l-10.3-9.7l-10.2 5.1z" fill="#fbb427"/><path d="M535.1 1105.6l10.2-4.6l-10.1-11.7l-10.2 4.5z" fill="#fef11b"/><path d="M359 1067l10.2-5.8l-10.3-7l-10.2 5.7z" fill="#f59839"/><path d="M378.6 1068.8l10.2-5.7l-10.3-7.6l-10.2 5.6z" fill="#f69a36"/><path d="M398.2 1071.1l10.3-5.5l-10.3-8.1l-10.2 5.5z" fill="#f79e32"/><path d="M417.9 1074.1l10.2-5.4l-10.3-8.6l-10.2 5.4z" fill="#f9a32e"/><path d="M437.5 1077.8l10.2-5.3l-10.3-9.1l-10.2 5.2z" fill="#faab2b"/><path d="M476.6 1087l10.2-5l-10.2-10.1l-10.2 4.9z" fill="#fcc024"/><path d="M496.1 1092.6l10.2-4.9l-10.1-10.7l-10.3 4.8z" fill="#fdce21"/><path d="M515.6 1098.8l10.2-4.7l-10.1-11.3l-10.2 4.7z" fill="#fede1e"/><path d="M554.6 1113.1l10.1-4.5l-10-12.3l-10.2 4.4z" fill="#f7ff19"/><path d="M573.9 1121.2l10.2-4.3l-10-12.9l-10.2 4.3z" fill="#deff16"/><path d="M593.3 1129.9l10.1-4.2l-10-13.3l-10.1 4.1z" fill="#c2ff14"/><path d="M612.5 1139.3l10.2-4.1l-10-13.9l-10.1 4z" fill="#a3ff12"/><path d="M631.8 1149.3l10.1-4l-9.9-14.4l-10.1 3.9z" fill="#81ff10"/><path d="M368.9 1074.3l10.2-5.9l-10.3-7.7l-10.2 5.8z" fill="#f8a237"/><path d="M388.5 1076.5l10.2-5.8l-10.3-8.1l-10.2 5.7z" fill="#f9a534"/><path d="M408.1 1079.4l10.2-5.6l-10.3-8.7l-10.2 5.5z" fill="#faaa30"/><path d="M427.7 1082.9l10.2-5.5l-10.3-9.2l-10.2 5.4z" fill="#fcb22c"/><path d="M447.3 1087.1l10.2-5.4l-10.3-9.7l-10.2 5.2z" fill="#fdbb29"/><path d="M466.8 1091.9l10.2-5.2l-10.2-10.3l-10.2 5.1z" fill="#fec625"/><path d="M486.4 1097.3l10.2-5.1l-10.2-10.7l-10.2 4.9z" fill="#ffd422"/><path d="M505.9 1103.4l10.2-4.9l-10.2-11.4l-10.2 4.9z" fill="#ffe41f"/><path d="M525.4 1110.1l10.1-4.8l-10.1-11.8l-10.2 4.7z" fill="#fff61c"/><path d="M544.8 1117.5l10.2-4.7l-10.1-12.4l-10.2 4.6z" fill="#f5ff1a"/><path d="M564.2 1125.5l10.2-4.6l-10.1-12.9l-10.2 4.5z" fill="#dcff17"/><path d="M583.5 1134.1l10.2-4.4l-10-13.5l-10.2 4.4z" fill="#c1ff15"/><path d="M602.8 1143.4l10.2-4.3l-10-14l-10.1 4.2z" fill="#a2ff13"/><path d="M622 1153.3l10.2-4.2l-9.9-14.5l-10.2 4.1z" fill="#81ff11"/><path d="M378.7 1082.1l10.2-6l-10.3-8.2l-10.2 5.9z" fill="#fbad35"/><path d="M398.3 1084.8l10.2-5.8l-10.3-8.8l-10.2 5.8z" fill="#fcb232"/><path d="M437.5 1092.2l10.2-5.5l-10.3-9.8l-10.2 5.5z" fill="#fec22a"/><path d="M457.1 1096.9l10.2-5.4l-10.3-10.3l-10.2 5.3z" fill="#ffcd27"/><path d="M476.6 1102.2l10.2-5.2l-10.2-10.9l-10.2 5.2z" fill="#ffda24"/><path d="M515.6 1114.8l10.2-5l-10.2-11.9l-10.1 4.9z" fill="#fffc1d"/><path d="M535 1122.1l10.2-4.9l-10.1-12.5l-10.2 4.8z" fill="#f3ff1b"/><path d="M554.4 1129.9l10.2-4.7l-10-13l-10.2 4.6z" fill="#daff18"/><path d="M593.1 1147.6l10.1-4.5l-9.9-14.1l-10.2 4.5z" fill="#a1ff14"/><path d="M612.3 1157.4l10.2-4.4l-9.9-14.6l-10.2 4.3z" fill="#80ff12"/><path d="M417.9 1088.2l10.2-5.7l-10.3-9.3l-10.2 5.6z" fill="#fdb92e"/><path d="M496.1 1108.2l10.2-5.1l-10.2-11.4l-10.2 5z" fill="#ffea20"/><path d="M573.8 1138.5l10.1-4.7l-10-13.5l-10.1 4.5z" fill="#bfff16"/><path d="M408.2 1093.7l10.2-5.9l-10.3-9.3l-10.2 5.8z" fill="#ffc030"/><path d="M583.4 1152.1l10.1-4.7l-10-14.2l-10.1 4.6z" fill="#9fff15"/><path d="M388.6 1090.5l10.2-6.1l-10.3-8.8l-10.2 6z" fill="#feba33"/><path d="M427.7 1097.6l10.2-5.7l-10.2-9.9l-10.2 5.7z" fill="#ffc92c"/><path d="M447.3 1102.2l10.2-5.6l-10.2-10.4l-10.2 5.5z" fill="#ffd428"/><path d="M466.8 1107.4l10.2-5.5l-10.2-10.9l-10.2 5.4z" fill="#ffe125"/><path d="M486.4 1113.2l10.1-5.3l-10.1-11.5l-10.2 5.3z" fill="#fff022"/><path d="M505.8 1119.7l10.2-5.2l-10.1-12l-10.2 5.1z" fill="#ffff1f"/><path d="M525.3 1126.8l10.2-5l-10.1-12.6l-10.2 5z" fill="#f0ff1c"/><path d="M544.7 1134.6l10.2-4.9l-10.1-13.1l-10.2 4.8z" fill="#d8ff19"/><path d="M564.1 1143l10.1-4.8l-10-13.6l-10.2 4.7z" fill="#bdff17"/><path d="M602.6 1161.8l10.1-4.6l-9.9-14.7l-10.1 4.5z" fill="#7eff13"/><path d="M398.4 1099.5l10.2-6.1l-10.3-9.5l-10.2 6z" fill="#ffc931"/><path d="M418 1103.3l10.2-6l-10.3-10l-10.2 5.9z" fill="#ffd12d"/><path d="M437.5 1107.7l10.2-5.8l-10.2-10.6l-10.2 5.8z" fill="#ffdc2a"/><path d="M457.1 1112.8l10.2-5.7l-10.2-11.1l-10.2 5.6z" fill="#ffe826"/><path d="M476.6 1118.5l10.2-5.6l-10.2-11.6l-10.2 5.5z" fill="#fff823"/><path d="M496.1 1124.8l10.2-5.4l-10.2-12.1l-10.2 5.3z" fill="#ffff20"/><path d="M515.6 1131.8l10.1-5.3l-10.1-12.6l-10.2 5.2z" fill="#ecff1d"/><path d="M535 1139.5l10.1-5.2l-10-13.1l-10.2 5z" fill="#d4ff1a"/><path d="M554.3 1147.8l10.2-5l-10-13.8l-10.2 5z" fill="#baff18"/><path d="M573.7 1156.7l10.1-4.9l-10-14.2l-10.1 4.8z" fill="#9cff15"/><path d="M592.9 1166.3l10.1-4.8l-9.9-14.8l-10.1 4.7z" fill="#7cff13"/><path d="M408.2 1109.1l10.2-6.2l-10.2-10.1l-10.2 6.1z" fill="#ffd92f"/><path d="M427.8 1113.4l10.2-6.1l-10.3-10.6l-10.2 6z" fill="#ffe42b"/><path d="M486.4 1130.2l10.1-5.7l-10.1-12.2l-10.2 5.6z" fill="#fcff21"/><path d="M505.8 1137.1l10.2-5.5l-10.2-12.8l-10.1 5.4z" fill="#e8ff1e"/><path d="M563.9 1161.6l10.2-5.1l-10-14.4l-10.2 5.1z" fill="#99ff16"/><path d="M583.2 1171.1l10.1-5l-9.9-14.9l-10.1 4.9z" fill="#79ff14"/><path d="M447.3 1118.3l10.2-5.9l-10.2-11.1l-10.2 5.8z" fill="#fff028"/><path d="M466.9 1123.9l10.1-5.7l-10.2-11.7l-10.1 5.7z" fill="#ffff24"/><path d="M525.2 1144.6l10.2-5.4l-10.1-13.3l-10.2 5.3z" fill="#d0ff1b"/><path d="M544.6 1152.8l10.2-5.3l-10.1-13.8l-10.1 5.2z" fill="#b6ff19"/><path d="M418.1 1119.3l10.1-6.3l-10.2-10.6l-10.2 6.1z" fill="#ffec2d"/><path d="M437.6 1124.1l10.2-6.1l-10.3-11.2l-10.1 6z" fill="#fff929"/><path d="M457.1 1129.6l10.2-6l-10.2-11.7l-10.2 5.9z" fill="#ffff26"/><path d="M476.6 1135.7l10.2-5.8l-10.2-12.3l-10.2 5.7z" fill="#f7ff22"/><path d="M496.1 1142.5l10.1-5.7l-10.1-12.9l-10.2 5.7z" fill="#e3ff1f"/><path d="M515.5 1149.9l10.2-5.6l-10.1-13.4l-10.2 5.5z" fill="#ccff1c"/><path d="M534.9 1158l10.1-5.5l-10-13.9l-10.2 5.4z" fill="#b2ff1a"/><path d="M554.2 1166.7l10.2-5.4l-10.1-14.4l-10.1 5.2z" fill="#95ff17"/><path d="M573.5 1176l10.1-5.2l-9.9-15l-10.2 5.2z" fill="#75ff15"/><path d="M427.9 1130.1l10.1-6.3l-10.2-11.3l-10.2 6.2z" fill="#ffff2a"/><path d="M447.4 1135.5l10.2-6.2l-10.3-11.9l-10.1 6.2z" fill="#ffff27"/><path d="M466.9 1141.5l10.1-6.1l-10.1-12.4l-10.2 6z" fill="#f1ff23"/><path d="M486.3 1148.1l10.2-5.9l-10.1-12.9l-10.2 5.8z" fill="#ddff20"/><path d="M505.8 1155.4l10.1-5.8l-10.1-13.4l-10.1 5.7z" fill="#c6ff1d"/><path d="M525.2 1163.4l10.1-5.7l-10.1-14l-10.1 5.6z" fill="#adff1b"/><path d="M544.5 1172l10.1-5.6l-10-14.5l-10.1 5.4z" fill="#90ff18"/><path d="M563.8 1181.2l10.1-5.4l-10-15.1l-10.1 5.3z" fill="#71ff16"/><path d="M437.7 1141.6l10.1-6.4l-10.2-12l-10.2 6.4z" fill="#fbff28"/><path d="M457.2 1147.5l10.1-6.3l-10.2-12.5l-10.1 6.2z" fill="#eaff25"/><path d="M476.6 1154l10.2-6.2l-10.2-13l-10.1 6.1z" fill="#d7ff21"/><path d="M496.1 1161.2l10.1-6.1l-10.1-13.5l-10.2 5.9z" fill="#c0ff1f"/><path d="M515.5 1169l10.1-5.9l-10.1-14.1l-10.1 5.8z" fill="#a7ff1c"/><path d="M534.8 1177.5l10.1-5.8l-10-14.6l-10.1 5.6z" fill="#8bff19"/><path d="M554.1 1186.6l10.1-5.6l-10-15.2l-10.1 5.5z" fill="#6cff17"/><path d="M447.4 1153.7l10.2-6.6l-10.2-12.5l-10.2 6.4z" fill="#e2ff26"/><path d="M466.9 1160.1l10.2-6.4l-10.2-13.1l-10.2 6.3z" fill="#cfff23"/><path d="M525.1 1183.2l10.1-6l-10-14.7l-10.2 5.9z" fill="#84ff1a"/><path d="M544.4 1192.2l10.1-5.8l-10-15.3l-10.1 5.7z" fill="#66ff18"/><path d="M486.3 1167.1l10.2-6.2l-10.2-13.7l-10.1 6.2z" fill="#b9ff20"/><path d="M505.7 1174.8l10.2-6.1l-10.1-14.2l-10.2 6.1z" fill="#a0ff1d"/><path d="M457.2 1166.4l10.1-6.6l-10.1-13.2l-10.2 6.5z" fill="#c7ff24"/><path d="M476.6 1173.3l10.2-6.5l-10.2-13.7l-10.1 6.4z" fill="#b2ff21"/><path d="M496 1180.9l10.2-6.3l-10.1-14.3l-10.2 6.2z" fill="#99ff1e"/><path d="M515.4 1189.1l10.1-6.2l-10-14.8l-10.2 6.1z" fill="#7eff1b"/><path d="M534.7 1198.1l10.1-6.1l-10-15.4l-10.1 6z" fill="#5fff19"/><path d="M466.9 1179.7l10.2-6.7l-10.2-13.8l-10.1 6.6z" fill="#a9ff22"/><path d="M486.3 1187.2l10.2-6.6l-10.2-14.4l-10.1 6.5z" fill="#91ff1f"/><path d="M505.7 1195.3l10.1-6.4l-10.1-15l-10.1 6.4z" fill="#76ff1c"/><path d="M525 1204.1l10.1-6.3l-10-15.5l-10.1 6.2z" fill="#58ff19"/><path d="M496 1201.7l10.1-6.7l-10.1-15l-10.1 6.5z" fill="#6eff1d"/><path d="M476.7 1193.7l10.1-6.8l-10.2-14.5l-10.1 6.7z" fill="#89ff20"/><path d="M515.3 1210.4l10.1-6.6l-10-15.6l-10.1 6.5z" fill="#50ff1a"/><path d="M486.3 1208.3l10.1-6.9l-10.1-15.1l-10.1 6.7z" fill="#65ff1e"/><path d="M505.7 1216.8l10.1-6.7l-10.1-15.7l-10.1 6.7z" fill="#47ff1b"/><path d="M496 1223.6l10.1-7l-10.1-15.8l-10.1 6.9z" fill="#3eff1c"/></g>
<path d="M496 1223.1l-19.3-29.9l-19.5-27.3l-19.5-24.8l-19.6-22.2l-19.7-19.9l-19.7-17.4l-19.7-15l-19.7-12.7l-19.7-10.4l-19.6-8.2l-19.6-5.9l-19.5-3.8l-19.5-1.6l-19.3 0.4l-19.2 2.5l-19.1 4.6l-18.9 6.5l-18.7 8.4M500.3 1220.1l-19.3-29.8l-19.4-27.2l-19.6-24.7l-19.6-22.2l-19.6-19.8l-19.7-17.3l-19.7-15l-19.7-12.6l-19.7-10.4l-19.6-8.1l-19.6-5.8l-19.5-3.7l-19.5-1.6l-19.3 0.5l-19.2 2.5l-19.1 4.6l-18.9 6.6l-18.8 8.5M504.7 1217.1l-19.3-29.7l-19.5-27.2l-19.5-24.6l-19.6-22.1l-19.6-19.6l-19.7-17.3l-19.7-14.9l-19.7-12.6l-19.7-10.2l-19.6-8.1l-19.6-5.8l-19.6-3.7l-19.4-1.5l-19.3 0.6l-19.3 2.6l-19 4.6l-19 6.6l-18.7 8.5M509.1 1214.1l-19.4-29.6l-19.4-27l-19.5-24.6l-19.6-22l-19.6-19.6l-19.7-17.2l-19.7-14.8l-19.7-12.5l-19.7-10.2l-19.6-8l-19.6-5.7l-19.6-3.6l-19.4-1.5l-19.4 0.6l-19.2 2.7l-19.1 4.6l-18.9 6.7l-18.8 8.5M513.4 1211.2l-19.3-29.5l-19.4-27l-19.5-24.4l-19.6-21.9l-19.6-19.6l-19.7-17.1l-19.7-14.7l-19.7-12.4l-19.7-10.2l-19.6-7.9l-19.6-5.7l-19.6-3.5l-19.4-1.5l-19.4 0.7l-19.2 2.7l-19.1 4.7l-18.9 6.7l-18.8 8.6M517.8 1208.3l-19.3-29.4l-19.4-26.8l-19.5-24.4l-19.6-21.9l-19.6-19.4l-19.7-17l-19.7-14.7l-19.7-12.4l-19.7-10l-19.6-7.9l-19.6-5.6l-19.6-3.5l-19.4-1.4l-19.4 0.7l-19.2 2.8l-19.1 4.7l-19 6.7l-18.8 8.7M522.1 1205.5l-19.3-29.3l-19.4-26.8l-19.5-24.2l-19.5-21.8l-19.7-19.4l-19.6-16.9l-19.7-14.6l-19.7-12.3l-19.7-10.1l-19.6-7.7l-19.6-5.6l-19.6-3.5l-19.4-1.3l-19.4 0.8l-19.2 2.8l-19.2 4.8l-18.9 6.7l-18.8 8.7M526.5 1202.7l-19.3-29.2l-19.4-26.7l-19.5-24.2l-19.5-21.7l-19.7-19.2l-19.6-16.9l-19.7-14.6l-19.7-12.2l-19.7-9.9l-19.6-7.8l-19.6-5.5l-19.6-3.4l-19.4-1.2l-19.4 0.8l-19.3 2.8l-19.1 4.8l-18.9 6.8l-18.8 8.7M530.8 1200l-19.2-29.1l-19.4-26.6l-19.5-24.1l-19.5-21.6l-19.7-19.2l-19.6-16.9l-19.7-14.4l-19.7-12.2l-19.7-9.9l-19.6-7.6l-19.6-5.5l-19.6-3.3l-19.4-1.3l-19.4 0.9l-19.3 2.9l-19.1 4.9l-19 6.8l-18.8 8.7M535.2 1197.3l-19.3-29l-19.3-26.5l-19.5-24l-19.6-21.6l-19.6-19.1l-19.6-16.7l-19.7-14.4l-19.7-12.1l-19.7-9.9l-19.6-7.6l-19.6-5.4l-19.6-3.3l-19.4-1.1l-19.4 0.9l-19.3 2.9l-19.1 4.9l-19 6.9l-18.8 8.8M539.6 1194.7l-19.3-29l-19.4-26.4l-19.4-23.9l-19.6-21.5l-19.6-19l-19.6-16.7l-19.7-14.3l-19.7-12.1l-19.7-9.7l-19.6-7.6l-19.6-5.3l-19.6-3.2l-19.4-1.2l-19.4 1l-19.3 3l-19.1 4.9l-19 6.9l-18.8 8.9M543.9 1192.1l-19.2-28.9l-19.4-26.3l-19.4-23.9l-19.6-21.3l-19.6-19l-19.6-16.6l-19.7-14.3l-19.7-11.9l-19.6-9.7l-19.7-7.5l-19.6-5.3l-19.6-3.2l-19.4-1.1l-19.4 1l-19.3 3.1l-19.1 5l-19 6.9l-18.9 8.9M548.3 1189.5l-19.2-28.8l-19.4-26.2l-19.4-23.8l-19.6-21.3l-19.6-18.8l-19.6-16.6l-19.7-14.2l-19.7-11.9l-19.6-9.6l-19.7-7.4l-19.6-5.3l-19.6-3.1l-19.4-1l-19.4 1l-19.3 3.1l-19.2 5l-19 7l-18.8 8.9M552.6 1187l-19.2-28.7l-19.3-26.1l-19.4-23.7l-19.6-21.2l-19.6-18.8l-19.6-16.5l-19.7-14.1l-19.6-11.8l-19.7-9.6l-19.7-7.4l-19.6-5.2l-19.5-3.1l-19.5-0.9l-19.4 1.1l-19.3 3.1l-19.2 5.1l-19 7l-18.8 8.9M557 1184.5l-19.2-28.6l-19.3-26l-19.5-23.6l-19.5-21.2l-19.5-18.7l-19.7-16.4l-19.6-14l-19.7-11.8l-19.7-9.5l-19.7-7.3l-19.6-5.2l-19.5-3l-19.5-0.9l-19.4 1.1l-19.3 3.2l-19.2 5.1l-19 7.1l-18.9 8.9M561.4 1182.1l-19.2-28.5l-19.3-26l-19.5-23.5l-19.5-21l-19.5-18.7l-19.7-16.3l-19.6-14l-19.7-11.7l-19.7-9.5l-19.6-7.2l-19.7-5.1l-19.5-3l-19.5-0.8l-19.4 1.1l-19.3 3.2l-19.2 5.2l-19 7.1l-18.9 9M565.7 1179.7l-19.1-28.4l-19.4-25.9l-19.4-23.4l-19.5-21l-19.5-18.6l-19.7-16.2l-19.6-13.9l-19.7-11.7l-19.7-9.4l-19.6-7.2l-19.6-5l-19.6-2.9l-19.5-0.8l-19.4 1.2l-19.3 3.2l-19.2 5.2l-19 7.2l-18.9 9M570.1 1177.4l-19.2-28.3l-19.3-25.8l-19.4-23.4l-19.5-20.9l-19.5-18.5l-19.6-16.2l-19.7-13.8l-19.7-11.6l-19.6-9.3l-19.7-7.2l-19.6-5l-19.6-2.8l-19.5-0.8l-19.4 1.3l-19.3 3.3l-19.2 5.2l-19 7.2l-18.9 9M574.5 1175.1l-19.2-28.2l-19.3-25.8l-19.4-23.2l-19.5-20.9l-19.5-18.4l-19.6-16.1l-19.7-13.8l-19.7-11.5l-19.6-9.3l-19.7-7.1l-19.6-4.9l-19.6-2.8l-19.5-0.7l-19.4 1.3l-19.3 3.3l-19.2 5.3l-19.1 7.2l-18.8 9.1M578.8 1172.8l-19.1-28.1l-19.3-25.6l-19.4-23.2l-19.5-20.8l-19.5-18.4l-19.6-16l-19.7-13.7l-19.6-11.4l-19.7-9.3l-19.7-7l-19.6-4.9l-19.6-2.7l-19.5-0.7l-19.4 1.4l-19.3 3.3l-19.2 5.3l-19.1 7.3l-18.9 9.1M583.2 1170.6l-19.1-28l-19.3-25.6l-19.4-23.1l-19.5-20.7l-19.5-18.3l-19.6-15.9l-19.7-13.7l-19.6-11.4l-19.7-9.1l-19.6-7l-19.7-4.8l-19.5-2.7l-19.5-0.6l-19.5 1.4l-19.3 3.4l-19.2 5.3l-19.1 7.3M587.6 1168.5l-19.1-28l-19.3-25.5l-19.4-23l-19.5-20.6l-19.5-18.2l-19.6-15.9l-19.6-13.6l-19.7-11.3l-19.7-9.1l-19.6-6.9l-19.6-4.8l-19.6-2.7l-19.5-0.5l-19.5 1.4l-19.3 3.4l-19.2 5.4l-19.1 7.4M592 1166.3l-19.2-27.8l-19.2-25.4l-19.4-23l-19.4-20.5l-19.6-18.2l-19.6-15.8l-19.6-13.5l-19.7-11.3l-19.6-9l-19.7-6.9l-19.6-4.7l-19.6-2.6l-19.5-0.5l-19.4 1.5l-19.4 3.5l-19.2 5.4l-19.1 7.3M596.3 1164.2l-19.1-27.7l-19.2-25.3l-19.4-22.9l-19.4-20.5l-19.6-18l-19.6-15.8l-19.6-13.4l-19.6-11.2l-19.7-9l-19.7-6.8l-19.6-4.7l-19.6-2.5l-19.5-0.5l-19.4 1.5l-19.4 3.5l-19.2 5.5l-19.1 7.4M600.7 1162.2l-19.1-27.7l-19.2-25.2l-19.4-22.8l-19.4-20.4l-19.6-18l-19.5-15.7l-19.7-13.4l-19.6-11.1l-19.7-8.9l-19.6-6.8l-19.7-4.6l-19.5-2.5l-19.6-0.4l-19.4 1.5l-19.4 3.6l-19.2 5.5l-19.1 7.4M605.1 1160.2l-19.1-27.6l-19.3-25.2l-19.3-22.7l-19.4-20.3l-19.5-17.9l-19.6-15.6l-19.6-13.3l-19.7-11.1l-19.7-8.9l-19.6-6.7l-19.6-4.5l-19.6-2.5l-19.5-0.4l-19.5 1.6l-19.3 3.6l-19.3 5.6l-19.1 7.4M609.4 1158.2l-19-27.5l-19.3-25l-19.3-22.7l-19.4-20.2l-19.5-17.9l-19.6-15.5l-19.6-13.3l-19.7-11l-19.6-8.8l-19.7-6.6l-19.6-4.5l-19.6-2.4l-19.5-0.4l-19.5 1.7l-19.3 3.6l-19.3 5.6l-19.1 7.5M613.8 1156.3l-19.1-27.4l-19.2-25l-19.3-22.5l-19.4-20.2l-19.5-17.8l-19.6-15.5l-19.6-13.2l-19.7-10.9l-19.6-8.8l-19.7-6.6l-19.6-4.4l-19.6-2.4l-19.5-0.3l-19.5 1.7l-19.3 3.7l-19.3 5.6l-19.1 7.5M618.2 1154.5l-19.1-27.4l-19.2-24.9l-19.3-22.5l-19.4-20l-19.5-17.8l-19.6-15.4l-19.6-13.1l-19.6-10.9l-19.7-8.7l-19.6-6.5l-19.7-4.4l-19.6-2.4l-19.5-0.2l-19.4 1.7l-19.4 3.7l-19.3 5.7l-19.1 7.5M622.5 1152.6l-19-27.3l-19.2-24.8l-19.3-22.4l-19.4-20l-19.5-17.6l-19.6-15.4l-19.6-13l-19.6-10.9l-19.7-8.6l-19.6-6.5l-19.6-4.3l-19.6-2.3l-19.6-0.2l-19.4 1.8l-19.4 3.7l-19.2 5.7l-19.2 7.6M626.9 1150.8l-19-27.2l-19.2-24.7l-19.3-22.3l-19.4-19.9l-19.5-17.6l-19.5-15.3l-19.6-13l-19.7-10.8l-19.6-8.6l-19.7-6.4l-19.6-4.3l-19.6-2.2l-19.5-0.2l-19.5 1.8l-19.4 3.8l-19.2 5.7l-19.2 7.7M631.3 1149.1l-19.1-27.1l-19.1-24.7l-19.3-22.2l-19.4-19.9l-19.5-17.5l-19.5-15.2l-19.6-12.9l-19.6-10.8l-19.7-8.5l-19.6-6.4l-19.7-4.2l-19.6-2.2l-19.5-0.1l-19.5 1.8l-19.4 3.9l-19.2 5.7l-19.2 7.7M635.6 1147.4l-19-27.1l-19.1-24.5l-19.3-22.2l-19.4-19.8l-19.5-17.4l-19.5-15.2l-19.6-12.8l-19.6-10.7l-19.7-8.5l-19.6-6.3l-19.6-4.2l-19.6-2.1l-19.6-0.1l-19.5 1.9l-19.3 3.8l-19.3 5.8M640 1145.7l-19-26.9l-19.1-24.5l-19.3-22.1l-19.4-19.7l-19.4-17.4l-19.6-15.1l-19.6-12.8l-19.6-10.6l-19.6-8.4l-19.7-6.3l-19.6-4.2l-19.6-2l-19.6-0.1l-19.4 2l-19.4 3.9l-19.3 5.8M644.4 1144.1l-19-26.9l-19.1-24.4l-19.3-22l-19.4-19.6l-19.4-17.4l-19.6-15l-19.6-12.7l-19.6-10.6l-19.6-8.3l-19.7-6.3l-19.6-4.1l-19.6-2l-19.5 0l-19.5 2l-19.4 3.9l-19.3 5.9M648.7 1142.5l-18.9-26.8l-19.2-24.3l-19.2-22l-19.4-19.5l-19.4-17.3l-19.5-14.9l-19.6-12.7l-19.6-10.5l-19.7-8.3l-19.6-6.2l-19.7-4l-19.6-2l-19.5 0l-19.5 2l-19.4 4l-19.3 5.9M653.1 1140.9l-19-26.7l-19.1-24.2l-19.2-21.9l-19.4-19.5l-19.4-17.1l-19.5-14.9l-19.6-12.7l-19.6-10.4l-19.7-8.2l-19.6-6.2l-19.6-4l-19.6-1.9l-19.6 0l-19.5 2.1l-19.4 4l-19.3 6M657.5 1139.4l-19-26.6l-19.1-24.2l-19.2-21.8l-19.4-19.4l-19.4-17.1l-19.5-14.8l-19.6-12.6l-19.6-10.4l-19.6-8.1l-19.7-6.1l-19.6-4l-19.6-1.9l-19.6 0.1l-19.4 2.1l-19.4 4.1l-19.4 6M661.8 1137.9l-18.9-26.5l-19.1-24.1l-19.2-21.7l-19.4-19.3l-19.4-17.1l-19.5-14.7l-19.6-12.6l-19.6-10.3l-19.6-8.1l-19.6-6l-19.7-3.9l-19.6-1.9l-19.5 0.2l-19.5 2.1l-19.4 4.1l-19.3 6M666.2 1136.5l-18.9-26.4l-19.1-24.1l-19.2-21.6l-19.4-19.3l-19.4-16.9l-19.5-14.7l-19.5-12.5l-19.7-10.2l-19.6-8.1l-19.6-6l-19.6-3.9l-19.6-1.8l-19.6 0.2l-19.5 2.2l-19.4 4.1l-19.3 6M670.6 1135.1l-19-26.4l-19-23.9l-19.2-21.5l-19.4-19.3l-19.4-16.9l-19.5-14.6l-19.5-12.4l-19.6-10.2l-19.7-8l-19.6-5.9l-19.6-3.9l-19.6-1.7l-19.6 0.2l-19.5 2.2l-19.4 4.2l-19.3 6M674.9 1133.7l-18.9-26.2l-19.1-23.9l-19.1-21.5l-19.4-19.1l-19.4-16.8l-19.5-14.6l-19.5-12.4l-19.6-10.1l-19.6-8l-19.7-5.8l-19.6-3.8l-19.6-1.8l-19.6 0.3l-19.5 2.3l-19.4 4.2l-19.3 6.1M679.3 1132.4l-18.9-26.2l-19.1-23.7l-19.2-21.5l-19.3-19l-19.4-16.8l-19.4-14.5l-19.6-12.3l-19.6-10.1l-19.6-7.9l-19.6-5.8l-19.7-3.7l-19.6-1.7l-19.5 0.3l-19.5 2.3l-19.5 4.2l-19.3 6.1M683.6 1131.2l-18.9-26.2l-19-23.7l-19.2-21.3l-19.3-19l-19.4-16.7l-19.4-14.4l-19.6-12.3l-19.6-10l-19.6-7.9l-19.6-5.7l-19.6-3.7l-19.6-1.7l-19.6 0.4l-19.5 2.3l-19.4 4.3M688 1129.9l-18.9-26l-19-23.6l-19.2-21.3l-19.3-18.9l-19.3-16.7l-19.5-14.4l-19.6-12.1l-19.5-10l-19.7-7.8l-19.6-5.7l-19.6-3.7l-19.6-1.6l-19.6 0.4l-19.5 2.4l-19.4 4.3M692.3 1128.7l-18.8-25.9l-19-23.6l-19.2-21.2l-19.3-18.8l-19.3-16.6l-19.5-14.3l-19.5-12.1l-19.6-10l-19.6-7.7l-19.7-5.7l-19.6-3.6l-19.6-1.6l-19.6 0.5l-19.5 2.4l-19.4 4.3M696.7 1127.6l-18.9-25.9l-19-23.5l-19.1-21.1l-19.3-18.8l-19.3-16.5l-19.5-14.3l-19.5-12l-19.6-9.9l-19.6-7.7l-19.6-5.6l-19.7-3.6l-19.6-1.5l-19.5 0.5l-19.6 2.4l-19.4 4.4M701 1126.4l-18.8-25.8l-19-23.4l-19.1-21l-19.3-18.7l-19.3-16.5l-19.5-14.2l-19.5-12l-19.6-9.8l-19.6-7.6l-19.6-5.6l-19.6-3.5l-19.6-1.5l-19.6 0.5l-19.5 2.5l-19.5 4.4M705.4 1125.3l-18.8-25.7l-19-23.3l-19.1-21l-19.3-18.6l-19.3-16.4l-19.5-14.1l-19.5-12l-19.6-9.7l-19.6-7.7l-19.6-5.5l-19.6-3.4l-19.6-1.5l-19.6 0.6l-19.5 2.5l-19.5 4.4M709.7 1124.3l-18.8-25.6l-18.9-23.3l-19.2-20.9l-19.2-18.6l-19.3-16.3l-19.5-14.1l-19.5-11.8l-19.6-9.7l-19.6-7.6l-19.6-5.5l-19.6-3.4l-19.6-1.4l-19.6 0.6l-19.5 2.5l-19.4 4.5M714.1 1123.3l-18.8-25.6l-19-23.1l-19.1-20.9l-19.2-18.5l-19.3-16.2l-19.5-14.1l-19.5-11.8l-19.5-9.6l-19.6-7.6l-19.7-5.4l-19.6-3.4l-19.6-1.3l-19.6 0.6l-19.5 2.6l-19.4 4.5M718.4 1122.3l-18.7-25.5l-19-23.1l-19.1-20.7l-19.2-18.5l-19.3-16.2l-19.5-13.9l-19.5-11.8l-19.5-9.6l-19.6-7.4l-19.6-5.4l-19.7-3.4l-19.6-1.3l-19.5 0.7l-19.6 2.6l-19.4 4.5M722.8 1121.4l-18.8-25.4l-18.9-23l-19.1-20.7l-19.2-18.4l-19.4-16.1l-19.4-13.9l-19.5-11.7l-19.5-9.6l-19.6-7.4l-19.6-5.3l-19.6-3.3l-19.6-1.3l-19.6 0.7l-19.6 2.7l-19.4 4.5M727.1 1120.5l-18.7-25.3l-19-23l-19-20.6l-19.2-18.3l-19.4-16.1l-19.4-13.8l-19.5-11.7l-19.5-9.5l-19.6-7.3l-19.6-5.3l-19.6-3.3l-19.6-1.2l-19.6 0.7l-19.5 2.7l-19.5 4.6M731.5 1119.6l-18.8-25.2l-18.9-22.9l-19.1-20.5l-19.2-18.3l-19.3-16l-19.4-13.8l-19.5-11.6l-19.5-9.4l-19.6-7.3l-19.6-5.3l-19.6-3.2l-19.6-1.2l-19.6 0.8l-19.5 2.7l-19.5 4.7M735.8 1118.8l-18.7-25.2l-18.9-22.8l-19.1-20.4l-19.2-18.2l-19.3-16l-19.4-13.7l-19.5-11.5l-19.5-9.4l-19.6-7.3l-19.6-5.2l-19.6-3.1l-19.6-1.2l-19.6 0.8l-19.5 2.8M740.1 1118l-18.7-25.1l-18.9-22.7l-19-20.4l-19.2-18.1l-19.3-15.9l-19.4-13.7l-19.5-11.5l-19.5-9.3l-19.6-7.2l-19.6-5.2l-19.6-3.1l-19.6-1.1l-19.6 0.9l-19.5 2.7M744.5 1117.3l-18.7-25l-18.9-22.7l-19.1-20.3l-19.1-18.1l-19.3-15.8l-19.4-13.6l-19.5-11.4l-19.5-9.3l-19.6-7.2l-19.6-5.1l-19.6-3.1l-19.6-1.1l-19.6 0.9l-19.5 2.8M748.8 1116.6l-18.7-25l-18.9-22.6l-19-20.2l-19.2-18l-19.2-15.8l-19.4-13.5l-19.5-11.4l-19.5-9.2l-19.6-7.2l-19.6-5l-19.6-3.1l-19.6-1l-19.5 0.9l-19.6 2.9M753.1 1115.9l-18.7-24.9l-18.8-22.5l-19-20.2l-19.2-17.9l-19.2-15.7l-19.4-13.5l-19.5-11.3l-19.5-9.2l-19.5-7.1l-19.6-5l-19.7-3l-19.6-1l-19.5 1l-19.6 2.9M757.4 1115.2l-18.6-24.7l-18.9-22.5l-19-20.1l-19.1-17.9l-19.3-15.6l-19.3-13.4l-19.5-11.3l-19.5-9.1l-19.5-7.1l-19.6-5l-19.6-2.9l-19.7-1l-19.5 1l-19.6 3M761.8 1114.6l-18.7-24.7l-18.8-22.3l-19-20.1l-19.1-17.8l-19.3-15.6l-19.3-13.4l-19.5-11.2l-19.5-9l-19.5-7l-19.6-5l-19.6-2.9l-19.6-0.9l-19.6 1l-19.6 3M766.1 1114.1l-18.7-24.7l-18.8-22.3l-19-20l-19.1-17.7l-19.2-15.5l-19.4-13.3l-19.4-11.2l-19.5-9l-19.6-7l-19.5-4.8l-19.6-2.9l-19.6-0.9l-19.6 1.1l-19.6 3M770.4 1113.5l-18.6-24.5l-18.8-22.3l-19-19.9l-19.1-17.7l-19.2-15.4l-19.4-13.3l-19.4-11.1l-19.5-9l-19.6-6.8l-19.5-4.9l-19.6-2.8l-19.6-0.9l-19.6 1.1l-19.6 3.1M774.7 1113l-18.6-24.5l-18.8-22.1l-18.9-19.9l-19.1-17.6l-19.3-15.4l-19.3-13.2l-19.4-11l-19.5-9l-19.6-6.8l-19.5-4.8l-19.6-2.8l-19.6-0.8l-19.6 1.1l-19.6 3.1M779 1112.6l-18.6-24.4l-18.8-22.1l-18.9-19.8l-19.1-17.6l-19.2-15.3l-19.3-13.1l-19.4-11l-19.5-8.9l-19.6-6.8l-19.6-4.8l-19.5-2.7l-19.6-0.8l-19.6 1.2l-19.6 3M783.3 1112.1l-18.5-24.3l-18.8-22l-19-19.7l-19-17.5l-19.2-15.3l-19.4-13.1l-19.4-10.9l-19.4-8.9l-19.6-6.7l-19.6-4.7l-19.6-2.7l-19.6-0.8l-19.5 1.2M787.6 1111.7l-18.5-24.2l-18.8-22l-18.9-19.6l-19.1-17.4l-19.2-15.3l-19.3-13l-19.4-10.9l-19.5-8.8l-19.5-6.7l-19.6-4.6l-19.6-2.7l-19.6-0.7l-19.5 1.2M792 1111.4l-18.6-24.2l-18.8-21.9l-18.9-19.6l-19-17.3l-19.2-15.2l-19.3-13l-19.4-10.8l-19.5-8.7l-19.5-6.7l-19.6-4.6l-19.6-2.7l-19.6-0.6l-19.6 1.2M796.3 1111.1l-18.6-24.1l-18.7-21.9l-18.9-19.5l-19.1-17.3l-19.2-15.1l-19.3-12.9l-19.3-10.8l-19.5-8.7l-19.5-6.6l-19.6-4.6l-19.6-2.6l-19.6-0.6l-19.6 1.3M800.5 1110.8l-18.5-24.1l-18.7-21.7l-18.9-19.5l-19-17.2l-19.2-15l-19.3-12.9l-19.4-10.7l-19.4-8.7l-19.6-6.6l-19.5-4.5l-19.6-2.6l-19.6-0.5l-19.6 1.3M804.8 1110.5l-18.5-23.9l-18.7-21.7l-18.9-19.4l-19-17.2l-19.2-15l-19.2-12.8l-19.4-10.7l-19.5-8.6l-19.5-6.5l-19.5-4.5l-19.6-2.5l-19.6-0.6l-19.6 1.4M809.1 1110.3l-18.5-23.9l-18.7-21.6l-18.8-19.3l-19.1-17.1l-19.1-15l-19.3-12.7l-19.3-10.7l-19.5-8.5l-19.5-6.5l-19.6-4.4l-19.5-2.5l-19.6-0.5l-19.6 1.4M813.4 1110.1l-18.5-23.8l-18.7-21.5l-18.8-19.3l-19-17.1l-19.2-14.8l-19.2-12.7l-19.4-10.6l-19.4-8.5l-19.5-6.5l-19.6-4.4l-19.6-2.4l-19.6-0.5l-19.5 1.4M817.7 1110l-18.5-23.8l-18.7-21.5l-18.8-19.2l-19-17l-19.1-14.8l-19.3-12.6l-19.3-10.5l-19.5-8.5l-19.5-6.4l-19.5-4.4l-19.6-2.4l-19.6-0.4l-19.6 1.4M822 1109.8l-18.5-23.6l-18.6-21.4l-18.9-19.2l-19-16.9l-19.1-14.8l-19.2-12.6l-19.4-10.4l-19.4-8.4l-19.5-6.4l-19.5-4.3l-19.6-2.4l-19.6-0.4l-19.6 1.5M826.3 1109.8l-18.5-23.7l-18.6-21.3l-18.9-19.1l-18.9-16.8l-19.2-14.7l-19.2-12.6l-19.3-10.4l-19.4-8.4l-19.5-6.3l-19.6-4.3l-19.6-2.3l-19.5-0.4l-19.6 1.6M830.5 1109.7l-18.4-23.5l-18.6-21.3l-18.9-19l-18.9-16.8l-19.1-14.7l-19.2-12.4l-19.4-10.4l-19.4-8.3l-19.5-6.3l-19.5-4.3l-19.6-2.3l-19.6-0.3M834.8 1109.7l-18.4-23.5l-18.6-21.2l-18.8-18.9l-19-16.8l-19.1-14.6l-19.2-12.4l-19.3-10.3l-19.4-8.3l-19.5-6.2l-19.6-4.2l-19.5-2.3l-19.6-0.3M839.1 1109.7l-18.4-23.4l-18.7-21.1l-18.7-18.9l-19-16.7l-19.1-14.5l-19.2-12.4l-19.3-10.3l-19.4-8.2l-19.5-6.2l-19.5-4.2l-19.6-2.2l-19.5-0.3M843.3 1109.7l-18.4-23.3l-18.6-21l-18.7-18.9l-19-16.6l-19-14.5l-19.2-12.3l-19.4-10.2l-19.4-8.2l-19.4-6.1l-19.5-4.2l-19.6-2.2l-19.6-0.2" fill="none" stroke="#000" stroke-opacity="0.4" stroke-width="1.0"/>
<path d="M496 1223.1l19.3-13.2l19.4-12.3l19.4-11.4l19.4-10.6l19.4-9.7l19.4-8.9l19.5-8.1l19.4-7.3l19.4-6.5l19.3-5.7l19.4-5l19.3-4.2l19.2-3.5l19.2-2.8l19.2-2l19.1-1.4l19.1-0.7l18.9-0.1M491.7 1216.2l19.3-13.1l19.4-12.3l19.4-11.3l19.4-10.5l19.4-9.6l19.5-8.8l19.4-8l19.4-7.2l19.4-6.4l19.4-5.7l19.3-4.9l19.4-4.1l19.2-3.4l19.3-2.7l19.1-2l19.2-1.3l19-0.6l19 0M487.3 1209.3l19.4-13l19.4-12.1l19.4-11.2l19.4-10.4l19.4-9.6l19.5-8.7l19.4-7.9l19.4-7.1l19.5-6.4l19.4-5.5l19.3-4.8l19.3-4.1l19.3-3.3l19.3-2.6l19.2-1.9l19.1-1.3l19.1-0.5l19 0.1M483 1202.6l19.3-12.9l19.4-12l19.4-11.1l19.5-10.4l19.4-9.4l19.5-8.7l19.4-7.8l19.5-7l19.4-6.3l19.4-5.4l19.4-4.8l19.3-3.9l19.3-3.3l19.3-2.5l19.2-1.9l19.1-1.1l19.1-0.5l19 0.1M478.6 1196.1l19.4-12.8l19.4-12l19.4-11l19.5-10.2l19.4-9.4l19.5-8.6l19.4-7.7l19.5-7l19.4-6.1l19.5-5.4l19.3-4.7l19.4-3.9l19.3-3.2l19.3-2.4l19.2-1.8l19.2-1.1l19.1-0.4l19 0.2M474.2 1189.7l19.4-12.8l19.4-11.8l19.5-11l19.4-10.1l19.5-9.3l19.5-8.5l19.4-7.6l19.5-6.9l19.5-6.1l19.4-5.3l19.4-4.6l19.4-3.8l19.3-3.1l19.3-2.4l19.2-1.7l19.2-1l19.1-0.3l19 0.3M469.9 1183.4l19.4-12.7l19.4-11.7l19.4-10.9l19.5-10l19.5-9.3l19.5-8.3l19.4-7.6l19.5-6.8l19.5-6l19.4-5.2l19.4-4.5l19.4-3.8l19.3-3l19.3-2.3l19.3-1.7l19.2-0.9l19.1-0.3l19 0.4M465.5 1177.2l19.4-12.5l19.4-11.7l19.5-10.8l19.5-10l19.4-9.1l19.5-8.3l19.5-7.5l19.5-6.7l19.5-5.9l19.4-5.2l19.5-4.4l19.3-3.7l19.4-2.9l19.3-2.3l19.3-1.5l19.2-0.9l19.1-0.2l19.1 0.4M461.1 1171.2l19.4-12.5l19.5-11.6l19.4-10.7l19.5-9.8l19.5-9.1l19.5-8.2l19.5-7.4l19.5-6.6l19.5-5.9l19.4-5.1l19.5-4.3l19.4-3.6l19.3-2.9l19.4-2.2l19.2-1.5l19.2-0.8l19.2-0.1l19.1 0.5M456.7 1165.3l19.4-12.4l19.5-11.5l19.5-10.6l19.5-9.8l19.5-9l19.5-8.1l19.5-7.3l19.5-6.6l19.5-5.8l19.5-5l19.4-4.2l19.4-3.6l19.4-2.8l19.3-2.1l19.3-1.4l19.2-0.7l19.2-0.1l19.1 0.6M452.3 1159.5l19.5-12.3l19.4-11.4l19.5-10.5l19.5-9.7l19.5-8.9l19.5-8.1l19.6-7.2l19.5-6.5l19.5-5.7l19.5-4.9l19.4-4.2l19.4-3.5l19.4-2.7l19.4-2.1l19.3-1.3l19.2-0.7l19.2 0l19.1 0.6M447.9 1153.8l19.5-12.2l19.4-11.3l19.5-10.4l19.5-9.7l19.6-8.8l19.5-7.9l19.5-7.2l19.5-6.4l19.6-5.6l19.4-4.9l19.5-4.1l19.4-3.4l19.4-2.7l19.4-1.9l19.3-1.3l19.2-0.6l19.2 0l19.1 0.7M443.5 1148.3l19.5-12.1l19.5-11.2l19.5-10.4l19.5-9.5l19.5-8.8l19.5-7.9l19.6-7.1l19.5-6.3l19.5-5.5l19.5-4.8l19.5-4.1l19.5-3.3l19.4-2.6l19.3-1.9l19.3-1.2l19.3-0.5l19.2 0.1l19.1 0.7M439.1 1142.9l19.5-12l19.5-11.2l19.5-10.3l19.5-9.4l19.5-8.6l19.6-7.9l19.5-7l19.6-6.2l19.5-5.5l19.5-4.7l19.5-4l19.5-3.3l19.4-2.5l19.3-1.8l19.4-1.2l19.2-0.4l19.2 0.1l19.2 0.9M434.7 1137.6l19.5-11.9l19.5-11.1l19.5-10.2l19.5-9.4l19.6-8.5l19.5-7.8l19.6-6.9l19.5-6.2l19.6-5.4l19.5-4.6l19.5-3.9l19.4-3.2l19.5-2.5l19.4-1.7l19.3-1.1l19.3-0.4l19.2 0.2l19.1 0.9M430.3 1132.5l19.5-11.9l19.5-10.9l19.5-10.2l19.5-9.3l19.6-8.5l19.6-7.6l19.5-6.9l19.6-6.1l19.5-5.3l19.6-4.6l19.5-3.8l19.4-3.2l19.5-2.4l19.4-1.7l19.3-1l19.3-0.3l19.2 0.3l19.2 0.9M425.9 1127.5l19.5-11.8l19.5-10.9l19.5-10.1l19.6-9.2l19.5-8.4l19.6-7.6l19.6-6.8l19.5-6l19.6-5.3l19.5-4.5l19.5-3.7l19.5-3.1l19.5-2.3l19.4-1.6l19.3-1l19.3-0.3l19.3 0.4l19.1 1M421.5 1122.6l19.5-11.7l19.5-10.8l19.5-10l19.6-9.1l19.5-8.4l19.6-7.5l19.6-6.7l19.6-6l19.5-5.2l19.6-4.4l19.5-3.7l19.5-3l19.4-2.3l19.5-1.5l19.3-0.9l19.3-0.2l19.3 0.4l19.2 1.1M417.1 1117.8l19.5-11.6l19.5-10.7l19.5-9.9l19.6-9.1l19.6-8.3l19.5-7.4l19.6-6.7l19.6-5.8l19.6-5.2l19.5-4.3l19.6-3.7l19.5-2.9l19.4-2.2l19.4-1.5l19.4-0.8l19.3-0.2l19.3 0.5l19.2 1.1M412.7 1113.2l19.5-11.6l19.5-10.6l19.5-9.8l19.6-9l19.6-8.2l19.6-7.4l19.5-6.6l19.6-5.8l19.6-5l19.6-4.3l19.5-3.6l19.5-2.9l19.5-2.1l19.4-1.4l19.4-0.8l19.3-0.1l19.3 0.5l19.2 1.2M408.2 1108.6l19.5-11.4l19.6-10.6l19.5-9.7l19.6-9l19.6-8.1l19.6-7.3l19.6-6.5l19.6-5.7l19.5-5l19.6-4.2l19.6-3.5l19.5-2.8l19.5-2.1l19.4-1.4l19.4-0.7l19.3 0l19.3 0.6l19.2 1.2M403.8 1104.2l19.5-11.3l19.5-10.5l19.6-9.7l19.6-8.8l19.6-8.1l19.6-7.2l19.6-6.5l19.6-5.6l19.6-4.9l19.5-4.2l19.6-3.5l19.5-2.7l19.5-2l19.5-1.3l19.4-0.7l19.3 0l19.3 0.7l19.2 1.3M399.4 1100l19.5-11.3l19.5-10.5l19.6-9.5l19.6-8.8l19.6-8l19.6-7.1l19.6-6.4l19.6-5.6l19.6-4.9l19.6-4.1l19.5-3.4l19.6-2.6l19.5-2l19.4-1.2l19.4-0.6l19.4 0l19.3 0.8l19.2 1.3M395 1095.8l19.5-11.2l19.5-10.4l19.6-9.5l19.6-8.7l19.6-7.9l19.6-7.1l19.6-6.3l19.6-5.5l19.6-4.8l19.6-4l19.6-3.3l19.5-2.6l19.5-1.9l19.5-1.2l19.4-0.6l19.4 0.1l19.3 0.8l19.2 1.4M390.5 1091.8l19.5-11.2l19.6-10.2l19.6-9.5l19.6-8.6l19.6-7.8l19.6-7.1l19.6-6.2l19.6-5.5l19.6-4.7l19.6-4l19.6-3.2l19.5-2.6l19.6-1.8l19.4-1.1l19.5-0.5l19.3 0.2l19.3 0.8l19.3 1.4M386.1 1087.9l19.5-11.1l19.6-10.2l19.5-9.4l19.6-8.5l19.7-7.8l19.6-6.9l19.6-6.2l19.6-5.4l19.7-4.7l19.6-3.9l19.5-3.2l19.6-2.5l19.5-1.7l19.5-1.1l19.4-0.5l19.4 0.3l19.3 0.9l19.3 1.5M381.7 1084.1l19.5-11l19.5-10.1l19.6-9.3l19.6-8.5l19.6-7.7l19.7-6.9l19.6-6.1l19.6-5.4l19.7-4.5l19.6-3.9l19.6-3.1l19.5-2.4l19.5-1.8l19.5-1l19.5-0.4l19.3 0.3l19.4 1l19.2 1.5M377.2 1080.4l19.6-10.9l19.5-10.1l19.6-9.2l19.6-8.4l19.6-7.6l19.7-6.8l19.6-6.1l19.6-5.3l19.7-4.5l19.6-3.8l19.6-3.1l19.5-2.3l19.6-1.7l19.5-1l19.4-0.3l19.4 0.4l19.3 0.9l19.3 1.7M372.8 1076.9l19.5-10.9l19.6-10l19.6-9.1l19.6-8.4l19.6-7.5l19.7-6.8l19.6-6l19.6-5.2l19.7-4.4l19.6-3.8l19.6-3l19.6-2.3l19.5-1.6l19.5-0.9l19.4-0.3l19.4 0.4l19.4 1l19.3 1.7M368.4 1073.4l19.5-10.7l19.6-10l19.6-9l19.6-8.3l19.6-7.5l19.6-6.7l19.7-5.9l19.6-5.2l19.7-4.4l19.6-3.7l19.6-2.9l19.6-2.3l19.5-1.5l19.5-0.9l19.5-0.2l19.4 0.5l19.3 1.1l19.3 1.7M363.9 1070.1l19.6-10.7l19.5-9.8l19.6-9l19.6-8.3l19.7-7.4l19.6-6.6l19.7-5.9l19.6-5.1l19.7-4.3l19.6-3.6l19.6-2.9l19.6-2.2l19.5-1.5l19.5-0.8l19.5-0.2l19.4 0.5l19.4 1.2l19.3 1.7M359.5 1066.9l19.5-10.6l19.6-9.8l19.6-8.9l19.6-8.2l19.7-7.3l19.6-6.6l19.7-5.8l19.6-5l19.7-4.3l19.6-3.6l19.6-2.8l19.6-2.1l19.6-1.5l19.5-0.8l19.4-0.1l19.5 0.6l19.3 1.2l19.3 1.8M355.1 1063.9l19.5-10.6l19.6-9.7l19.6-8.9l19.6-8.1l19.6-7.3l19.7-6.5l19.7-5.7l19.6-5l19.7-4.2l19.6-3.5l19.6-2.8l19.6-2.1l19.6-1.4l19.5-0.7l19.5 0l19.4 0.6l19.4 1.2l19.3 1.9M350.6 1060.9l19.6-10.5l19.5-9.6l19.6-8.9l19.7-8l19.6-7.2l19.7-6.4l19.6-5.7l19.7-4.9l19.6-4.2l19.7-3.4l19.6-2.8l19.6-2l19.6-1.3l19.5-0.7l19.5 0l19.4 0.7l19.4 1.2l19.3 1.9M346.2 1058.1l19.5-10.5l19.6-9.5l19.6-8.8l19.6-7.9l19.7-7.2l19.7-6.4l19.6-5.6l19.7-4.9l19.6-4.1l19.7-3.4l19.6-2.6l19.6-2l19.6-1.3l19.5-0.6l19.5 0l19.4 0.7l19.4 1.4l19.3 1.9M341.8 1055.3l19.5-10.3l19.6-9.5l19.6-8.7l19.6-7.9l19.7-7.1l19.6-6.3l19.7-5.6l19.7-4.8l19.6-4l19.7-3.4l19.6-2.6l19.6-1.9l19.6-1.3l19.5-0.5l19.5 0.1l19.5 0.7l19.3 1.4l19.4 2M337.3 1052.7l19.6-10.2l19.6-9.5l19.6-8.6l19.6-7.9l19.6-7l19.7-6.2l19.7-5.5l19.6-4.8l19.7-4l19.7-3.3l19.6-2.5l19.6-1.9l19.6-1.2l19.5-0.5l19.5 0.1l19.5 0.8l19.4 1.4l19.3 2.1M332.9 1050.2l19.6-10.2l19.5-9.4l19.6-8.5l19.7-7.8l19.6-7l19.7-6.2l19.7-5.4l19.6-4.7l19.7-3.9l19.7-3.3l19.6-2.5l19.6-1.8l19.6-1.1l19.5-0.5l19.5 0.2l19.5 0.8l19.4 1.5l19.3 2.1M328.5 1047.9l19.5-10.2l19.6-9.3l19.6-8.5l19.6-7.7l19.7-6.9l19.7-6.2l19.6-5.3l19.7-4.7l19.7-3.9l19.6-3.2l19.7-2.4l19.6-1.8l19.6-1.1l19.5-0.4l19.5 0.2l19.5 0.9l19.4 1.5l19.3 2.2M324.1 1045.6l19.5-10.1l19.6-9.2l19.6-8.5l19.6-7.6l19.7-6.9l19.6-6.1l19.7-5.3l19.7-4.6l19.7-3.8l19.6-3.1l19.7-2.4l19.6-1.8l19.6-1l19.5-0.4l19.5 0.3l19.5 0.9l19.4 1.6l19.4 2.2M319.6 1043.5l19.6-10.1l19.5-9.1l19.7-8.4l19.6-7.6l19.6-6.8l19.7-6l19.7-5.3l19.7-4.5l19.6-3.8l19.7-3.1l19.7-2.4l19.6-1.6l19.6-1l19.5-0.4l19.5 0.4l19.5 0.9l19.4 1.6l19.4 2.3M315.2 1041.4l19.5-9.9l19.6-9.2l19.6-8.3l19.7-7.5l19.6-6.7l19.7-6l19.7-5.2l19.7-4.5l19.6-3.7l19.7-3.1l19.6-2.3l19.7-1.6l19.6-1l19.5-0.2l19.5 0.3l19.5 1.1l19.4 1.6l19.4 2.3M310.8 1039.5l19.5-9.9l19.6-9l19.6-8.3l19.6-7.5l19.7-6.7l19.7-5.9l19.6-5.1l19.7-4.5l19.7-3.7l19.7-2.9l19.6-2.3l19.7-1.6l19.6-0.9l19.5-0.2l19.5 0.4l19.5 1.1l19.4 1.7l19.4 2.2M306.4 1037.7l19.5-9.8l19.6-9l19.6-8.2l19.6-7.4l19.7-6.7l19.6-5.8l19.7-5.1l19.7-4.4l19.7-3.7l19.7-2.9l19.6-2.2l19.6-1.5l19.6-0.9l19.6-0.2l19.5 0.5l19.5 1.1l19.4 1.7l19.4 2.3M301.9 1036l19.6-9.7l19.6-9l19.6-8.1l19.6-7.4l19.7-6.6l19.6-5.8l19.7-5l19.7-4.4l19.7-3.5l19.6-2.9l19.7-2.2l19.6-1.5l19.6-0.8l19.6-0.1l19.5 0.5l19.5 1.1l19.4 1.8l19.4 2.3M297.5 1034.4l19.6-9.7l19.5-8.9l19.6-8l19.7-7.3l19.6-6.6l19.7-5.7l19.7-5l19.7-4.3l19.7-3.5l19.6-2.9l19.7-2.1l19.6-1.4l19.6-0.8l19.6-0.1l19.5 0.5l19.5 1.2l19.4 1.8l19.4 2.4M293.1 1033l19.6-9.7l19.5-8.8l19.6-8l19.7-7.3l19.6-6.4l19.7-5.8l19.7-4.9l19.7-4.2l19.6-3.5l19.7-2.8l19.7-2.1l19.6-1.4l19.6-0.7l19.6-0.1l19.5 0.6l19.5 1.2l19.4 1.9l19.4 2.4M288.7 1031.6l19.5-9.6l19.6-8.7l19.6-8l19.6-7.2l19.7-6.4l19.7-5.7l19.7-4.9l19.6-4.1l19.7-3.5l19.7-2.7l19.6-2.1l19.7-1.3l19.6-0.7l19.6 0l19.5 0.6l19.5 1.3l19.4 1.8l19.4 2.5M284.3 1030.4l19.5-9.6l19.6-8.7l19.6-7.9l19.6-7.1l19.7-6.4l19.7-5.6l19.6-4.8l19.7-4.2l19.7-3.4l19.7-2.7l19.6-2l19.7-1.3l19.6-0.6l19.6 0l19.5 0.7l19.5 1.3l19.4 1.9l19.4 2.5M279.9 1029.2l19.5-9.4l19.6-8.7l19.6-7.9l19.6-7l19.7-6.4l19.6-5.5l19.7-4.8l19.7-4.1l19.7-3.3l19.7-2.7l19.6-1.9l19.7-1.3l19.6-0.6l19.5 0.1l19.6 0.7l19.5 1.3l19.4 1.9l19.4 2.6M275.5 1028.2l19.5-9.4l19.6-8.6l19.6-7.8l19.6-7l19.7-6.3l19.6-5.5l19.7-4.8l19.7-4l19.7-3.3l19.6-2.6l19.7-1.9l19.6-1.2l19.7-0.6l19.5 0.1l19.6 0.7l19.5 1.4l19.4 2l19.4 2.6M271.1 1027.3l19.5-9.4l19.6-8.5l19.6-7.8l19.6-6.9l19.7-6.3l19.6-5.4l19.7-4.7l19.7-4l19.7-3.3l19.6-2.5l19.7-1.9l19.6-1.2l19.6-0.5l19.6 0.1l19.6 0.8l19.5 1.4l19.4 2.1l19.4 2.6M266.7 1026.5l19.5-9.3l19.6-8.5l19.6-7.7l19.6-6.9l19.7-6.2l19.6-5.4l19.7-4.7l19.7-3.9l19.7-3.2l19.6-2.5l19.7-1.9l19.6-1.1l19.6-0.5l19.6 0.2l19.6 0.8l19.5 1.4l19.4 2.1l19.4 2.7M262.3 1025.8l19.5-9.2l19.6-8.5l19.6-7.6l19.6-6.9l19.7-6.1l19.6-5.4l19.7-4.6l19.7-3.9l19.6-3.2l19.7-2.5l19.7-1.7l19.6-1.1l19.6-0.5l19.6 0.2l19.5 0.9l19.5 1.5l19.5 2l19.4 2.7M257.9 1025.2l19.6-9.2l19.5-8.4l19.6-7.6l19.6-6.8l19.7-6.1l19.6-5.3l19.7-4.6l19.7-3.8l19.6-3.1l19.7-2.5l19.7-1.7l19.6-1.1l19.6-0.4l19.6 0.3l19.5 0.9l19.5 1.5l19.5 2.1l19.4 2.7M253.6 1024.7l19.5-9.1l19.5-8.3l19.6-7.6l19.6-6.8l19.7-6l19.6-5.3l19.7-4.5l19.7-3.8l19.6-3.1l19.7-2.4l19.7-1.7l19.6-1l19.6-0.4l19.6 0.3l19.5 0.9l19.5 1.6l19.5 2.1l19.4 2.8M249.2 1024.4l19.5-9.1l19.5-8.3l19.6-7.5l19.6-6.8l19.7-5.9l19.6-5.2l19.7-4.5l19.7-3.8l19.6-3l19.7-2.4l19.7-1.7l19.6-0.9l19.6-0.4l19.6 0.3l19.5 1l19.5 1.6l19.5 2.2l19.4 2.8M244.8 1024.1l19.5-9l19.6-8.3l19.5-7.4l19.6-6.7l19.7-5.9l19.6-5.2l19.7-4.5l19.7-3.7l19.6-3l19.7-2.3l19.7-1.6l19.6-1l19.6-0.3l19.6 0.4l19.5 1l19.5 1.6l19.5 2.2M240.5 1023.9l19.5-8.9l19.5-8.2l19.6-7.4l19.6-6.7l19.6-5.9l19.6-5.1l19.7-4.4l19.7-3.7l19.6-2.9l19.7-2.3l19.7-1.6l19.6-0.9l19.6-0.3l19.6 0.4l19.5 1l19.5 1.7l19.5 2.2M236.1 1023.9l19.5-9l19.5-8.1l19.6-7.4l19.6-6.5l19.6-5.9l19.7-5.1l19.6-4.3l19.7-3.7l19.7-2.9l19.6-2.2l19.7-1.6l19.6-0.9l19.6-0.2l19.6 0.4l19.5 1.1l19.5 1.7M231.8 1023.9l19.4-8.8l19.6-8.1l19.5-7.4l19.6-6.5l19.6-5.8l19.7-5l19.6-4.4l19.7-3.5l19.7-2.9l19.6-2.2l19.7-1.5l19.6-0.9l19.6-0.2l19.6 0.5l19.5 1.1M227.4 1024.1l19.5-8.8l19.5-8.1l19.6-7.3l19.6-6.5l19.6-5.7l19.6-5l19.7-4.3l19.6-3.5l19.7-2.9l19.6-2.1l19.7-1.5l19.6-0.8l19.6-0.2l19.6 0.5l19.5 1.1M223.1 1024.4l19.4-8.8l19.6-8l19.5-7.3l19.6-6.4l19.6-5.7l19.6-5l19.7-4.2l19.6-3.5l19.7-2.8l19.6-2.2l19.7-1.4l19.6-0.8l19.6-0.1l19.6 0.5M218.7 1024.7l19.5-8.7l19.5-8l19.6-7.1l19.5-6.5l19.6-5.6l19.7-4.9l19.6-4.2l19.7-3.5l19.6-2.8l19.7-2.1l19.6-1.4l19.6-0.7l19.6-0.1l19.6 0.5M214.4 1025.2l19.5-8.7l19.5-7.9l19.5-7.1l19.6-6.4l19.6-5.6l19.6-4.9l19.7-4.2l19.6-3.4l19.6-2.7l19.7-2.1l19.6-1.4l19.6-0.7l19.6-0.1M210.1 1025.8l19.4-8.7l19.5-7.8l19.6-7.1l19.5-6.4l19.6-5.5l19.7-4.9l19.6-4.1l19.6-3.4l19.7-2.7l19.6-2l19.6-1.4l19.7-0.7l19.6 0M205.8 1026.4l19.4-8.6l19.5-7.8l19.5-7l19.6-6.3l19.6-5.5l19.6-4.8l19.6-4.1l19.7-3.4l19.6-2.7l19.6-2l19.7-1.3l19.6-0.6M201.5 1027.2l19.4-8.5l19.5-7.8l19.5-7l19.6-6.3l19.6-5.5l19.6-4.7l19.6-4.1l19.6-3.3l19.7-2.6l19.6-2l19.6-1.3M197.2 1028.1l19.4-8.5l19.5-7.7l19.5-7l19.5-6.2l19.6-5.5l19.6-4.7l19.6-4l19.7-3.3l19.6-2.6l19.6-1.9l19.6-1.3M192.9 1029.1l19.4-8.5l19.5-7.7l19.5-6.9l19.5-6.2l19.6-5.4l19.6-4.7l19.6-3.9l19.6-3.3l19.6-2.6l19.7-1.9M188.6 1030.2l19.4-8.5l19.5-7.6l19.5-6.9l19.5-6.1l19.6-5.4l19.6-4.6l19.6-4l19.6-3.2l19.6-2.6l19.6-1.8M184.3 1031.3l19.4-8.3l19.5-7.6l19.5-6.9l19.5-6.1l19.6-5.3l19.5-4.6l19.6-3.9l19.7-3.2l19.6-2.5M180 1032.6l19.4-8.3l19.5-7.6l19.5-6.8l19.5-6l19.6-5.3l19.5-4.6l19.6-3.9l19.6-3.1l19.6-2.5M175.8 1034l19.4-8.3l19.4-7.5l19.5-6.8l19.5-6l19.6-5.3l19.5-4.5l19.6-3.8l19.6-3.2M171.5 1035.5l19.4-8.3l19.4-7.5l19.5-6.7l19.5-5.9l19.6-5.3l19.5-4.5l19.6-3.8M167.3 1037.1l19.4-8.3l19.4-7.4l19.4-6.7l19.5-5.9l19.6-5.2l19.5-4.5l19.6-3.8M163 1038.7l19.4-8.1l19.4-7.4l19.5-6.7l19.5-5.9l19.5-5.2l19.5-4.4M158.8 1040.5l19.4-8.1l19.4-7.4l19.4-6.6l19.5-5.9l19.5-5.1l19.6-4.4M154.6 1042.4l19.4-8.1l19.3-7.3l19.5-6.6l19.5-5.8l19.5-5.1M150.4 1044.4l19.3-8.1l19.4-7.3l19.5-6.5l19.4-5.8l19.5-5.1M146.2 1046.4l19.3-8l19.4-7.3l19.4-6.5l19.5-5.7" fill="none" stroke="#000" stroke-opacity="0.4" stroke-width="1.0"/>
<g fill="#0a0a0a"><circle cx="140.4" cy="930.4" r="2.4"/><circle cx="143.2" cy="987.3" r="2.4"/><circle cx="146.1" cy="1044.2" r="2.4"/><circle cx="148.9" cy="1101.1" r="2.4"/><circle cx="151.8" cy="1158" r="2.4"/><circle cx="154.6" cy="1215" r="2.4"/><circle cx="157.5" cy="1271.9" r="2.4"/><circle cx="162.8" cy="1378.3" r="2.4"/><circle cx="496" cy="1534.6" r="2.2"/><circle cx="412.7" cy="1495.5" r="2.2"/><circle cx="329.4" cy="1456.4" r="2.2"/><circle cx="246.1" cy="1417.4" r="2.2"/><circle cx="579.4" cy="1495.5" r="2.2"/><circle cx="662.9" cy="1456.4" r="2.2"/><circle cx="746.3" cy="1417.4" r="2.2"/><circle cx="829.7" cy="1378.3" r="2.2"/></g>
<text transform="translate(106.2 925) scale(1 1.06)" y="10.8" font-size="32">8.0</text>
<text transform="translate(106.2 1040.7) scale(1 1.06)" y="10.8" font-size="32">7.0</text>
<text transform="translate(102.6 1157.5) scale(1 1.06)" y="10.8" font-size="32">6.0</text>
<text transform="translate(106.5 1270.8) scale(1 1.06)" y="10.8" font-size="32">5.0</text>
<text transform="translate(19.1 1173.3) rotate(-90) scale(1 1.06)" y="10.8" font-size="32">TPEU yield (%)</text>
<text transform="translate(139.1 1389.3) scale(1 1.06)" y="10.8" font-size="32" style="text-anchor:end">1.00</text>
<text transform="translate(192.8 1454.5) scale(1 1.06)" y="10.8" font-size="32">0.50</text>
<text transform="translate(289.3 1490.6) scale(1 1.06)" y="10.8" font-size="32">0.00</text>
<text transform="translate(365 1527.2) scale(1 1.06)" y="10.8" font-size="32">-0.50</text>
<text transform="translate(440.7 1561.9) scale(1 1.06)" y="10.8" font-size="32">-1.00</text>
<text transform="translate(198.9 1516.2) scale(1 1.06)" y="10.8" font-size="32">C:C</text>
<text transform="translate(542.3 1554.6) scale(1 1.06)" y="10.8" font-size="32">-1.00</text>
<text transform="translate(621.6 1515.5) scale(1 1.06)" y="10.8" font-size="32">-0.50</text>
<text transform="translate(707.1 1483.8) scale(1 1.06)" y="10.8" font-size="32">0.00</text>
<text transform="translate(790.1 1447.1) scale(1 1.06)" y="10.8" font-size="32">0.50</text>
<text transform="translate(843.9 1397.3) scale(1 1.06)" y="10.8" font-size="32" style="text-anchor:start">1.00</text>
<text transform="translate(788.9 1512.6) scale(1 1.06)" y="10.8" font-size="32">B:B</text>
<text x="480.5" y="1663.2" font-size="53" style="fill:#000;stroke:#000;stroke-width:0.55">c</text></g>
<g id="pd"><rect x="1176.1" y="926.2" width="571.9" height="532.3" fill="url(#gd)"/>
<g clip-path="url(#cd)" fill="none" stroke="#203800" stroke-opacity=".55" stroke-width="1.4">
<path d="M1768.5 1437.1L1750.5 1444.3L1732 1451L1712.9 1457.3L1693.3 1463.1L1673.2 1468.4L1652.6 1473.3L1631.6 1477.7L1610.2 1481.7L1588.5 1485.1L1566.4 1488.1M1334.7 1489.7L1311.3 1487.1L1287.9 1484L1264.7 1480.4L1241.7 1476.3L1218.8 1471.7L1196.2 1466.7L1173.9 1461.1L1151.9 1455.2"/>
<path d="M1147.7 936.7L1163.1 933.1L1178.8 929.8L1194.8 926.8L1211.1 924.2L1227.6 922L1244.4 920.2L1261.4 918.8L1278.5 917.7L1295.8 917L1313.2 916.7L1330.7 916.7L1348.2 917.2L1365.8 918L1383.4 919.2L1401 920.8L1418.6 922.8L1436.1 925.1L1453.4 927.8L1470.7 930.9L1487.8 934.3L1504.7 938.1L1521.4 942.2L1537.9 946.7L1554.1 951.5L1570.1 956.6L1585.8 962.1L1601.1 967.8L1616 973.9L1630.6 980.3L1644.8 986.9L1658.6 993.9L1671.9 1001L1684.8 1008.5L1697.2 1016.2L1709.1 1024.1L1720.5 1032.2L1731.3 1040.5L1741.6 1049L1751.3 1057.7L1760.5 1066.6L1769 1075.6L1776.9 1084.8M1775.2 1299.3L1767.1 1307.4L1758.4 1315.2L1749.2 1322.8L1739.3 1330.1L1728.9 1337.2L1718 1344.1L1706.5 1350.6L1694.4 1356.9L1681.9 1362.9L1669 1368.5L1655.5 1373.9L1641.7 1378.9L1627.4 1383.6L1612.7 1388L1597.6 1392L1582.2 1395.6L1566.5 1398.9L1550.5 1401.9L1534.2 1404.5L1517.6 1406.7L1500.9 1408.5L1483.9 1410L1466.8 1411L1449.5 1411.7L1432.1 1412.1L1414.6 1412L1397 1411.6L1379.5 1410.7L1361.8 1409.5L1344.3 1407.9L1326.7 1406L1309.2 1403.6L1291.9 1400.9L1274.6 1397.9L1257.5 1394.4L1240.6 1390.7L1223.9 1386.5L1207.4 1382L1191.1 1377.2L1175.2 1372.1L1159.5 1366.6L1144.2 1360.9"/>
</g>
<path d="M1169.1 926.2H1748" stroke="#5a6e3c" stroke-width="1.6" stroke-opacity=".55"/>
<path d="M1169.1 1458.5H1749" stroke="#5a783c" stroke-width="1.8" stroke-opacity=".7"/>
<path d="M1176.1 926.2V1458.5M1748 926.2V1458.5" stroke="#787850" stroke-width="1.2" stroke-opacity=".4"/>
<path d="M1160.1 1081.3H1176.1M1160.1 1211H1176.1M1160.1 1339.7H1176.1M1176.1 1458.5V1469.5M1319.1 1458.5V1469.5M1462 1458.5V1469.5M1605 1458.5V1469.5M1748 1458.5V1469.5" stroke="#8e8e8e" stroke-width="1.5" stroke-opacity=".55"/>
<rect x="1606" y="957.5" width="13" height="16" fill="#fff" stroke="#a0a0a0" stroke-width="1.2"/>
<text x="1612.5" y="968.8" font-size="9.5" class="s">7</text>
<rect x="1471.4" y="1397.7" width="11" height="13" fill="#fff" stroke="#a0a0a0" stroke-width="1.2"/>
<text x="1476.9" y="1407.5" font-size="9.5" class="s">7</text>
<rect x="1725.5" y="1443.7" width="18" height="12" fill="#fff" stroke="#a0a0a0" stroke-width="1.2"/>
<text x="1734.5" y="1453" font-size="9.5" class="s">6.5</text>
<text transform="translate(1471 884) scale(1 1.06)" y="11.2" font-size="33">TPEU yield (%)</text>
<text transform="translate(1143.9 925.3) scale(1 1.06)" y="10.8" font-size="32" style="text-anchor:end">1.00</text>
<text transform="translate(1134.7 1057.2) scale(1 1.06)" y="10.8" font-size="32" style="text-anchor:end">0.50</text>
<text transform="translate(1129.9 1189.4) scale(1 1.06)" y="10.8" font-size="32" style="text-anchor:end">0.00</text>
<text transform="translate(1129.9 1319.8) scale(1 1.06)" y="10.8" font-size="32" style="text-anchor:end">-0.50</text>
<text transform="translate(1143.7 1452.6) scale(1 1.06)" y="10.8" font-size="32" style="text-anchor:end">-1.00</text>
<text transform="translate(1177.2 1484.3) scale(1 1.06)" y="10.8" font-size="32">-1.00</text>
<text transform="translate(1306.9 1486.7) scale(1 1.06)" y="10.8" font-size="32">-0.50</text>
<text transform="translate(1457.3 1494.7) scale(1 1.06)" y="10.8" font-size="32">0.00</text>
<text transform="translate(1610.3 1486.7) scale(1 1.06)" y="10.8" font-size="32">0.50</text>
<text transform="translate(1761 1482.4) scale(1 1.06)" y="10.8" font-size="32">1.00</text>
<text transform="translate(1021.9 1195.4) rotate(-90) scale(1 1.06)" y="10.8" font-size="32">C:C</text>
<text transform="translate(1463.5 1564.3) scale(1 1.06)" y="10.8" font-size="32">B:B</text>
<text x="1464.4" y="1645.8" font-size="54" style="fill:#000;stroke:none">d</text></g>
<g id="pe"><path d="M292 2202.1L273.8 1803.5M361.6 2083L351.4 1787.2M435.5 2058.7L429 1770.9M509.4 2034.3L506.6 1754.6M583 2094.6L584.2 1738.3M873.4 2201.6L892.7 1806.7M804.3 2083.3L815.6 1789.6M730.6 2058.9L738.5 1772.5M657 2034.4L661.3 1755.4M273.8 1803.5L584.2 1738.3L892.7 1806.7M276.1 1854.1L584 1783.6L890.2 1856.9M278.4 1904.8L583.9 1828.8L887.8 1907.1M280.7 1955.4L583.7 1874.1L885.3 1957.2M283.1 2006.1L583.6 1919.4L882.9 2007.4M285.4 2056.7L583.4 1964.7L880.4 2057.6M287.7 2107.4L583.3 2009.9L878 2107.8" fill="none" stroke="#646464" stroke-opacity=".9" stroke-width="1.6"/>
<path d="M583.1 2340.3L873.4 2201.6L583 2094.6L292 2202.1Z" fill="#ff0" stroke="#8c8c14" stroke-width="1"/>
<g clip-path="url(#fce)" fill="none">
<path d="M652.1 2300.2L635.2 2301.2L618.1 2301.7L601.1 2301.4L584.1 2300.5L567.2 2299L550.5 2296.8L534.2 2294L518.2 2290.6L502.7 2286.6L487.7 2282.1L473.3 2277.1L459.6 2271.6L446.6 2265.6L434.5 2259.3L423.2 2252.6L412.8 2245.6L403.4 2238.4L395.1 2230.9L387.8 2223.2L381.5 2215.5L376.5 2207.6L372.5 2199.8L369.8 2191.9L368.2 2184.1L367.8 2176.4L368.6 2168.8L370.6 2161.4M856.9 2182.1L856.1 2189.9L854.1 2197.8L850.9 2205.6L846.6 2213.5L841.1 2221.3L834.6 2229L826.9 2236.5M717.1 2289.6L701.4 2293.2L685.3 2296.1L668.8 2298.5L652.1 2300.2" stroke="#8cff1e" stroke-width="2.2"/>
<path d="M641.7 2268.7L629.2 2269.5L616.6 2269.8L604 2269.6L591.5 2269L579 2267.9L566.7 2266.3L554.6 2264.4L542.8 2262L531.4 2259.2L520.3 2256L509.7 2252.4L499.6 2248.5L490 2244.3L481.1 2239.8L472.8 2235L465.1 2230L458.2 2224.8L452 2219.4L446.6 2213.9L442 2208.3L438.3 2202.6L435.4 2196.8L433.3 2191.1L432.2 2185.3L431.9 2179.7L432.5 2174L434 2168.5L436.3 2163.1L439.5 2157.9L443.6 2152.9L448.4 2148L454.1 2143.3L460.5 2138.9L467.7 2134.7L475.6 2130.8L484.2 2127.1L493.4 2123.7L503.1 2120.6L513.4 2117.9L524.2 2115.4L535.4 2113.2L547 2111.4L558.9 2109.8L571 2108.6L583.4 2107.8L595.9 2107.2L608.5 2107L621.1 2107.1L633.6 2107.6L646.1 2108.4L658.4 2109.5M782.8 2156.6L786.5 2161.8L789.4 2167.1L791.5 2172.6L792.6 2178.2L792.9 2183.9L792.3 2189.6L790.8 2195.4L788.5 2201.1L785.3 2206.8L781.3 2212.5L776.4 2218L770.8 2223.4L764.3 2228.7L757.2 2233.8L749.3 2238.6L740.8 2243.2L731.6 2247.5L721.9 2251.5L711.6 2255.1L700.8 2258.4L689.7 2261.3L678.1 2263.8L666.2 2265.9L654.1 2267.5L641.7 2268.7" stroke="#e0ff28" stroke-width="1.6"/>
</g>
<g><path d="M583.8 1843.7l8.9 2.6l-8.9 3.9l-8.9-2.6z" fill="#000000"/><path d="M575.4 1841.9l8.9 2.2l-8.9 3.9l-8.9-2.1z" fill="#000000"/><path d="M592.3 1840.6l8.9 2.7l-8.9 3.5l-8.9-2.6z" fill="#000000"/><path d="M566.9 1840.5l8.9 1.8l-8.9 4l-8.9-1.8z" fill="#000000"/><path d="M583.8 1838.8l8.9 2.3l-8.9 3.5l-8.9-2.2z" fill="#000000"/><path d="M600.7 1837.9l8.9 2.7l-8.9 3.2l-8.9-2.7z" fill="#000000"/><path d="M558.4 1839.5l8.9 1.4l-8.8 4l-9-1.4z" fill="#000000"/><path d="M575.3 1837.3l9 1.9l-8.9 3.6l-9-1.8z" fill="#000000"/><path d="M592.3 1836.1l8.9 2.3l-8.9 3.1l-8.9-2.2z" fill="#000000"/><path d="M609.2 1835.6l8.9 2.7l-8.9 2.8l-8.9-2.7z" fill="#000000"/><path d="M549.9 1838.8l8.9 1l-8.8 4.1l-9-1z" fill="#000000"/><path d="M566.8 1836.3l9 1.4l-8.9 3.7l-8.9-1.4z" fill="#000000"/><path d="M583.8 1834.6l8.9 1.9l-8.9 3.2l-8.9-1.9z" fill="#000000"/><path d="M600.7 1833.7l9 2.3l-9 2.8l-8.9-2.3z" fill="#000000"/><path d="M617.7 1833.6l8.9 2.8l-8.9 2.4l-8.9-2.8z" fill="#000000"/><path d="M541.4 1838.6l8.9 0.6l-8.8 4.1l-9-0.6z" fill="#000000"/><path d="M558.3 1835.6l9 1.1l-8.9 3.7l-8.9-1.1z" fill="#000000"/><path d="M575.3 1833.5l8.9 1.5l-8.9 3.2l-8.9-1.4z" fill="#000000"/><path d="M592.3 1832.2l8.9 1.9l-8.9 2.9l-9-2z" fill="#000000"/><path d="M609.2 1831.7l8.9 2.4l-8.9 2.4l-8.9-2.4z" fill="#000000"/><path d="M626.2 1832l8.9 2.8l-9 2l-8.9-2.8z" fill="#000000"/><path d="M532.9 1838.8l8.9 0.1l-8.8 4.2l-8.9-0.2z" fill="#000000"/><path d="M549.8 1835.4l9 0.6l-8.9 3.7l-8.9-0.6z" fill="#000000"/><path d="M566.8 1832.8l8.9 1.1l-8.9 3.3l-8.9-1.1z" fill="#000000"/><path d="M583.8 1831l8.9 1.6l-8.9 2.9l-8.9-1.5z" fill="#000000"/><path d="M600.7 1830.1l9 2l-9 2.5l-8.9-2z" fill="#000000"/><path d="M617.7 1830l8.9 2.5l-8.9 2l-8.9-2.4z" fill="#000000"/><path d="M634.7 1830.8l8.9 2.9l-9 1.6l-8.9-2.9z" fill="#000000"/><path d="M524.4 1839.3l8.9-0.2l-8.8 4.2l-8.9 0.3z" fill="#000000"/><path d="M541.3 1835.5l9 0.2l-8.9 3.8l-8.9-0.2z" fill="#000000"/><path d="M558.3 1832.5l8.9 0.7l-8.8 3.3l-9-0.6z" fill="#000000"/><path d="M575.3 1830.3l8.9 1.1l-8.9 3l-8.9-1.1z" fill="#000000"/><path d="M592.3 1829l8.9 1.5l-8.9 2.6l-9-1.6z" fill="#000000"/><path d="M609.2 1828.4l9 2.1l-9 2.1l-8.9-2z" fill="#000000"/><path d="M626.2 1828.8l8.9 2.4l-8.9 1.7l-8.9-2.4z" fill="#000000"/><path d="M643.2 1829.9l8.9 2.9l-9 1.3l-8.9-2.9z" fill="#000000"/><path d="M515.9 1840.3l8.9-0.6l-8.8 4.2l-8.9 0.7z" fill="#000000"/><path d="M651.7 1829.4l8.9 3l-9 0.8l-8.9-2.9z" fill="#000000"/><path d="M532.8 1836l9-0.2l-8.9 3.9l-8.9 0.2z" fill="#000000"/><path d="M549.8 1832.6l8.9 0.3l-8.8 3.4l-9-0.3z" fill="#000000"/><path d="M566.8 1830l8.9 0.7l-8.9 3l-9-0.7z" fill="#000000"/><path d="M583.7 1828.2l9 1.2l-8.9 2.5l-9-1.1z" fill="#000000"/><path d="M600.7 1827.3l9 1.6l-9 2.1l-8.9-1.6z" fill="#000000"/><path d="M617.7 1827.2l9 2l-9 1.7l-8.9-2z" fill="#000000"/><path d="M634.7 1827.9l8.9 2.5l-8.9 1.3l-8.9-2.5z" fill="#000000"/><path d="M507.4 1841.7l8.9-1l-8.8 4.2l-8.9 1.2z" fill="#000000"/><path d="M660.2 1829.4l8.9 3l-9 0.4l-8.9-3z" fill="#000000"/><path d="M524.3 1837l9-0.6l-8.9 3.8l-8.9 0.7z" fill="#000000"/><path d="M541.3 1833.1l8.9-0.1l-8.9 3.4l-8.9 0.2z" fill="#000000"/><path d="M558.2 1830.1l9 0.3l-8.9 3l-9-0.3z" fill="#000000"/><path d="M575.2 1827.9l9 0.7l-8.9 2.6l-9-0.7z" fill="#000000"/><path d="M592.2 1826.5l9 1.2l-8.9 2.2l-9-1.2z" fill="#000000"/><path d="M609.2 1825.9l9 1.7l-9 1.7l-8.9-1.6z" fill="#000000"/><path d="M626.3 1826.2l8.9 2.2l-9 1.3l-8.9-2.1z" fill="#000000"/><path d="M643.2 1827.4l8.9 2.5l-8.9 0.9l-8.9-2.5z" fill="#000000"/><path d="M498.9 1843.6l8.9-1.5l-8.8 4.3l-8.9 1.5z" fill="#000000"/><path d="M515.8 1838.4l8.9-1.1l-8.8 3.9l-8.9 1.1z" fill="#000000"/><path d="M532.7 1834.1l9-0.6l-8.9 3.4l-8.9 0.7z" fill="#000000"/><path d="M634.8 1825.7l8.9 2.2l-9 0.9l-8.9-2.1z" fill="#000000"/><path d="M651.7 1827.3l8.9 2.6l-8.9 0.4l-8.9-2.5z" fill="#000000"/><path d="M668.7 1829.7l8.9 3l-9 0l-8.9-3z" fill="#000000"/><path d="M549.7 1830.6l9-0.2l-8.9 3.1l-9 0.1z" fill="#000000"/><path d="M566.7 1827.9l9 0.3l-8.9 2.7l-9-0.3z" fill="#000000"/><path d="M583.7 1826.1l9 0.8l-8.9 2.2l-9-0.8z" fill="#000000"/><path d="M600.7 1825.1l9 1.3l-9 1.8l-8.9-1.3z" fill="#000000"/><path d="M617.8 1825l8.9 1.7l-9 1.4l-8.9-1.7z" fill="#000000"/><path d="M490.4 1845.8l8.9-1.9l-8.8 4.3l-8.9 2z" fill="#000000"/><path d="M507.3 1840.2l8.9-1.5l-8.8 3.9l-8.9 1.6z" fill="#000000"/><path d="M524.2 1835.4l9-1l-8.9 3.5l-8.9 1.1z" fill="#000000"/><path d="M643.3 1825.6l8.9 2.2l-9 0.5l-8.9-2.2z" fill="#000000"/><path d="M660.3 1827.5l8.8 2.7l-8.9 0.1l-8.9-2.6z" fill="#000000"/><path d="M677.2 1830.3l8.9 3.1l-9-0.3l-8.8-3.1z" fill="#000000"/><path d="M541.2 1831.5l9-0.6l-8.9 3.1l-9 0.6z" fill="#000000"/><path d="M558.2 1828.4l9-0.1l-8.9 2.7l-9 0.1z" fill="#000000"/><path d="M575.2 1826.1l9 0.4l-9 2.3l-8.9-0.4z" fill="#000000"/><path d="M592.2 1824.7l9 0.9l-9 1.8l-8.9-0.8z" fill="#000000"/><path d="M609.3 1824.2l8.9 1.2l-9 1.4l-8.9-1.2z" fill="#000000"/><path d="M626.3 1824.4l8.9 1.8l-9 0.9l-8.9-1.7z" fill="#000000"/><path d="M481.8 1848.5l9-2.4l-8.7 4.4l-9 2.4z" fill="#030301"/><path d="M498.7 1842.4l9-1.9l-8.8 4l-8.9 1.9z" fill="#030301"/><path d="M515.7 1837.2l9-1.5l-8.9 3.6l-8.9 1.5z" fill="#030301"/><path d="M532.6 1832.8l9-1l-8.8 3.2l-9 1z" fill="#030300"/><path d="M549.6 1829.3l9-0.6l-8.9 2.8l-8.9 0.5z" fill="#030200"/><path d="M617.8 1823.6l8.9 1.3l-8.9 1l-9-1.3z" fill="#010100"/><path d="M634.8 1824.3l8.9 1.8l-9 0.5l-8.9-1.7z" fill="#000000"/><path d="M651.8 1825.8l8.9 2.2l-9 0.2l-8.9-2.2z" fill="#000000"/><path d="M668.8 1828.2l8.8 2.7l-8.9-0.3l-8.9-2.7z" fill="#000000"/><path d="M685.7 1831.4l8.8 3.1l-8.9-0.7l-8.8-3.1z" fill="#000000"/><path d="M566.7 1826.6l9-0.1l-9 2.3l-8.9 0.1z" fill="#030200"/><path d="M583.7 1824.7l9 0.4l-9 1.9l-8.9-0.4z" fill="#030200"/><path d="M600.7 1823.7l9 0.9l-9 1.4l-8.9-0.8z" fill="#020100"/><path d="M473.3 1851.6l9-2.8l-8.7 4.4l-9 2.9z" fill="#0b0b02"/><path d="M490.2 1845.1l9-2.4l-8.8 4l-8.9 2.4z" fill="#0c0b02"/><path d="M507.1 1839.4l9-1.9l-8.8 3.6l-8.9 1.9z" fill="#0c0b02"/><path d="M524.1 1834.6l9-1.5l-8.8 3.2l-9 1.5z" fill="#0c0a02"/><path d="M541.1 1830.6l9-1l-8.9 2.8l-9 0.9z" fill="#0c0902"/><path d="M626.3 1823.4l8.9 1.4l-8.9 0.5l-9-1.3z" fill="#0b0601"/><path d="M643.3 1824.5l8.9 1.8l-8.9 0.2l-9-1.8z" fill="#0a0600"/><path d="M660.3 1826.5l8.9 2.2l-9-0.3l-8.9-2.2z" fill="#090600"/><path d="M677.3 1829.3l8.8 2.7l-8.9-0.8l-8.9-2.6z" fill="#080500"/><path d="M694.2 1832.9l8.8 3.2l-8.9-1.2l-8.8-3.1z" fill="#070500"/><path d="M558.1 1827.4l9-0.4l-8.9 2.3l-9 0.5z" fill="#0c0802"/><path d="M575.2 1825.2l9-0.1l-9 1.9l-9 0.1z" fill="#0c0801"/><path d="M592.2 1823.7l9 0.5l-9 1.4l-8.9-0.4z" fill="#0c0701"/><path d="M609.2 1823.1l9 0.9l-8.9 1.1l-9-0.9z" fill="#0b0701"/><path d="M464.8 1855.2l9-3.3l-8.6 4.4l-9 3.4z" fill="#111304"/><path d="M481.6 1848.2l9.1-2.8l-8.7 4l-9 2.8z" fill="#131204"/><path d="M498.6 1842l9-2.3l-8.7 3.6l-9 2.4z" fill="#131104"/><path d="M515.5 1836.7l9.1-1.8l-8.8 3.2l-9 1.9z" fill="#141004"/><path d="M532.5 1832.3l9.1-1.4l-8.9 2.8l-9 1.4z" fill="#140f03"/><path d="M549.6 1828.7l9-0.9l-8.9 2.4l-9 0.9z" fill="#140e03"/><path d="M566.6 1826l9-0.5l-8.9 2l-9 0.4z" fill="#140d03"/><path d="M600.7 1823.1l9 0.5l-9 1l-8.9-0.4z" fill="#130b02"/><path d="M617.8 1822.9l8.9 1l-8.9 0.6l-9-0.9z" fill="#120b01"/><path d="M634.8 1823.6l8.9 1.4l-8.9 0.2l-9-1.4z" fill="#120a01"/><path d="M651.8 1825.1l8.9 1.9l-8.9-0.3l-9-1.8z" fill="#110a01"/><path d="M668.8 1827.5l8.9 2.3l-9-0.7l-8.9-2.3z" fill="#100a00"/><path d="M685.8 1830.7l8.8 2.8l-8.9-1.2l-8.9-2.7z" fill="#0f0a00"/><path d="M702.7 1834.8l8.8 3.2l-9-1.6l-8.7-3.2z" fill="#0e0a00"/><path d="M583.7 1824.1l9 0l-9 1.5l-9 0z" fill="#130c02"/><path d="M456.2 1859.9l9.1-4.5l-8.4 3.7l-9.2 4.6z" fill="#171906"/><path d="M711.3 1837.1l8.7 3.2l-9-2l-8.8-3.2z" fill="#140f00"/><path d="M472.9 1852.4l9.3-3.9l-8.4 3.3l-9.3 4z" fill="#1a1906"/><path d="M489.7 1845.5l9.4-3.2l-8.4 3.1l-9.3 3.4z" fill="#1a1806"/><path d="M506.7 1839.6l9.4-2.5l-8.5 2.9l-9.3 2.6z" fill="#1b1606"/><path d="M523.8 1834.5l9.2-1.9l-8.6 2.8l-9.2 1.9z" fill="#1b1405"/><path d="M540.9 1830.5l9.2-1.4l-8.8 2.3l-9.1 1.4z" fill="#1b1305"/><path d="M558 1827.3l9.1-0.9l-8.8 1.9l-9.1 0.9z" fill="#1b1104"/><path d="M609.2 1822.9l9 0.5l-8.9 0.6l-9-0.4z" fill="#1a0e02"/><path d="M626.3 1823.1l8.9 1l-8.9 0.2l-9-0.9z" fill="#190e02"/><path d="M643.3 1824.2l9 1.4l-9-0.2l-8.9-1.4z" fill="#180d01"/><path d="M660.4 1826.1l8.8 1.9l-9-0.6l-8.8-1.9z" fill="#170d01"/><path d="M677.4 1828.9l8.8 2.4l-9-1.1l-8.8-2.3z" fill="#160e01"/><path d="M694.3 1832.6l8.8 2.7l-9-1.5l-8.8-2.7z" fill="#150e00"/><path d="M575.1 1824.9l9-0.4l-8.9 1.6l-9 0.4z" fill="#1b1003"/><path d="M592.2 1823.5l9 0l-9 1.1l-9 0z" fill="#1a0f03"/><path d="M447.9 1864.5l9-5.1l-8.7 3.7l-8.9 5.1z" fill="#1c1f09"/><path d="M720 1840.5l8.4 2.5l-9.2-3.2l-8.5-2.4z" fill="#1a1300"/><path d="M464.7 1856.6l9-4.6l-8.7 3.2l-8.9 4.6z" fill="#202009"/><path d="M481.6 1849.5l9-4.1l-8.7 2.8l-9 4.1z" fill="#211e08"/><path d="M498.5 1843.3l9-3.6l-8.7 2.3l-9 3.7z" fill="#211c08"/><path d="M515.4 1837.9l9.1-3.1l-8.8 1.9l-9 3.2z" fill="#221a07"/><path d="M532.4 1833.5l9.1-2.7l-8.8 1.5l-9.1 2.7z" fill="#221807"/><path d="M549.5 1829.8l9-2.2l-8.8 1.1l-9.1 2.3z" fill="#221606"/><path d="M566.5 1827.1l9.1-1.8l-8.9 0.7l-9 1.8z" fill="#221405"/><path d="M583.6 1825.2l9-1.3l-8.8 0.2l-9.1 1.3z" fill="#221304"/><path d="M600.6 1824.1l9.1-0.8l-8.9-0.2l-9.1 0.8z" fill="#211104"/><path d="M617.7 1823.9l9-0.3l-8.9-0.7l-9 0.4z" fill="#201103"/><path d="M634.9 1824.6l8.9 0.1l-9-1.1l-9-0.1z" fill="#1f1002"/><path d="M652 1826.1l8.8 0.5l-9.1-1.5l-8.8-0.5z" fill="#1f1002"/><path d="M669.1 1828.4l8.7 1.1l-9.2-2l-8.7-1z" fill="#1d1001"/><path d="M686.1 1831.5l8.6 1.6l-9.2-2.3l-8.6-1.5z" fill="#1c1101"/><path d="M703.1 1835.6l8.5 2.1l-9.2-2.8l-8.6-2z" fill="#1b1200"/><path d="M439.5 1869.4l8.9-5.5l-8.6 3.6l-8.9 5.6z" fill="#20250b"/><path d="M456.3 1861l8.9-5.1l-8.7 3.3l-8.9 5.1z" fill="#25260b"/><path d="M711.3 1838.4l8.7 2l-8.9-3.3l-8.8-1.9z" fill="#211701"/><path d="M728.1 1843.8l8.8 2.4l-9-3.8l-8.7-2.3z" fill="#201800"/><path d="M473.2 1853.4l8.9-4.5l-8.7 2.8l-9 4.6z" fill="#27250b"/><path d="M575.1 1826.4l9-1.7l-8.9 0.2l-9 1.8z" fill="#291606"/><path d="M592.1 1824.9l9.1-1.3l-9-0.1l-9 1.3z" fill="#281505"/><path d="M694.4 1833.9l8.8 1.5l-9-2.8l-8.8-1.5z" fill="#231501"/><path d="M490 1846.8l9-4.1l-8.8 2.4l-8.9 4.1z" fill="#28220b"/><path d="M507 1841l9-3.6l-8.8 2l-9 3.6z" fill="#281f0a"/><path d="M524 1836l9-3.1l-8.9 1.6l-9 3.1z" fill="#291d09"/><path d="M541 1832l9-2.7l-8.9 1.1l-9 2.7z" fill="#291b08"/><path d="M558 1828.7l9-2.1l-8.9 0.7l-9 2.2z" fill="#291807"/><path d="M609.2 1824.3l9-0.8l-8.9-0.6l-9 0.8z" fill="#271404"/><path d="M626.3 1824.5l9-0.3l-9-1.1l-9 0.4z" fill="#271303"/><path d="M643.3 1825.6l9 0.1l-9-1.5l-8.9-0.1z" fill="#251203"/><path d="M660.4 1827.5l8.9 0.6l-9-2l-8.9-0.5z" fill="#241302"/><path d="M677.4 1830.3l8.8 1l-8.9-2.4l-8.9-1z" fill="#241401"/><path d="M431.1 1874.7l8.9-6l-8.7 3.7l-8.8 6.1z" fill="#242b0e"/><path d="M447.9 1865.9l8.9-5.6l-8.7 3.3l-8.9 5.6z" fill="#2a2c0e"/><path d="M464.7 1857.8l8.9-5l-8.7 2.9l-8.9 5z" fill="#2d2b0e"/><path d="M583.6 1826.1l9-1.7l-8.9-0.1l-9 1.7z" fill="#2f1808"/><path d="M702.8 1836.6l8.8 1.5l-8.9-3.2l-8.8-1.5z" fill="#2a1a01"/><path d="M719.7 1841.5l8.8 2l-8.9-3.7l-8.8-2z" fill="#281b01"/><path d="M736.6 1847.3l8.7 2.4l-8.9-4.1l-8.7-2.4z" fill="#261d00"/><path d="M481.6 1850.7l8.9-4.5l-8.8 2.4l-8.9 4.6z" fill="#2e280e"/><path d="M566.5 1828l9.1-2.1l-9 0.3l-9 2.2z" fill="#301a09"/><path d="M600.7 1825l9-1.2l-9-0.6l-9 1.3z" fill="#2e1706"/><path d="M685.9 1832.5l8.8 1.1l-8.9-2.8l-8.9-1.1z" fill="#2c1801"/><path d="M498.5 1844.4l9-4l-8.9 2l-8.9 4.1z" fill="#2f250d"/><path d="M515.5 1839l8.9-3.5l-8.8 1.6l-9 3.6z" fill="#2f220c"/><path d="M532.5 1834.5l9-3.1l-8.9 1.2l-9 3.1z" fill="#30200b"/><path d="M549.5 1830.8l9-2.6l-8.9 0.7l-9 2.7z" fill="#301d0a"/><path d="M617.7 1824.8l9-0.8l-8.9-1l-9 0.8z" fill="#2e1505"/><path d="M634.8 1825.4l9-0.3l-9-1.4l-9 0.3z" fill="#2c1504"/><path d="M651.9 1826.9l8.9 0.2l-9-1.9l-8.9-0.1z" fill="#2c1503"/><path d="M668.9 1829.3l8.9 0.6l-9-2.3l-8.9-0.6z" fill="#2c1602"/><path d="M422.8 1880.5l8.8-6.4l-8.7 3.7l-8.8 6.5z" fill="#273011"/><path d="M439.5 1871.2l8.8-6l-8.7 3.3l-8.8 6z" fill="#2e3211"/><path d="M456.3 1862.7l8.8-5.5l-8.7 2.9l-8.9 5.5z" fill="#333211"/><path d="M473.1 1855.1l8.9-5l-8.8 2.5l-8.9 5z" fill="#342f11"/><path d="M575.1 1827.7l9-2.1l-9-0.1l-9 2.1z" fill="#361c0a"/><path d="M592.1 1826.2l9-1.7l-8.9-0.5l-9 1.7z" fill="#351a09"/><path d="M694.3 1835.2l8.9 1l-8.9-3.2l-8.9-1z" fill="#331c02"/><path d="M711.3 1839.7l8.8 1.5l-8.9-3.7l-8.9-1.5z" fill="#301e01"/><path d="M728.1 1845l8.8 2l-8.8-4.1l-8.9-2z" fill="#2e2001"/><path d="M745 1851.3l8.7 2.4l-8.8-4.6l-8.8-2.4z" fill="#2b2300"/><path d="M490 1848.4l8.9-4.6l-8.8 2.1l-8.9 4.5z" fill="#352c10"/><path d="M558 1830.1l9-2.6l-8.9 0.4l-9 2.6z" fill="#361f0c"/><path d="M609.2 1825.5l9-1.1l-9-1l-9 1.2z" fill="#351807"/><path d="M677.4 1831.5l8.9 0.7l-9-2.8l-8.9-0.6z" fill="#361b02"/><path d="M506.9 1842.5l9-4l-8.8 1.6l-9 4z" fill="#36280f"/><path d="M523.9 1837.5l9-3.5l-8.9 1.1l-8.9 3.6z" fill="#36250e"/><path d="M541 1833.4l9-3.1l-9 0.8l-9 3.1z" fill="#37220d"/><path d="M626.3 1825.7l9-0.7l-9-1.4l-9 0.7z" fill="#341706"/><path d="M643.3 1826.8l9-0.3l-9-1.8l-8.9 0.3z" fill="#351804"/><path d="M660.4 1828.7l8.9 0.2l-9-2.3l-8.9-0.2z" fill="#361903"/><path d="M414.4 1886.8l8.8-7l-8.7 3.8l-8.7 7z" fill="#293614"/><path d="M431.1 1876.9l8.8-6.4l-8.7 3.3l-8.8 6.5z" fill="#313714"/><path d="M447.8 1868l8.9-6l-8.8 3l-8.8 5.9z" fill="#383914"/><path d="M464.6 1859.9l8.9-5.4l-8.7 2.4l-8.9 5.5z" fill="#3a3614"/><path d="M481.5 1852.7l8.9-5l-8.8 2.1l-8.9 5z" fill="#3b3214"/><path d="M566.5 1829.8l9-2.6l-8.9-0.1l-9 2.6z" fill="#3d210e"/><path d="M583.6 1827.8l9-2.1l-9-0.5l-9 2.1z" fill="#3c1e0c"/><path d="M600.7 1826.7l9-1.6l-9-1l-9 1.7z" fill="#3d1c0a"/><path d="M685.9 1834.1l8.9 0.7l-9-3.2l-8.9-0.6z" fill="#3d1e02"/><path d="M702.8 1838.2l8.9 1.1l-8.9-3.6l-8.9-1.1z" fill="#3a2002"/><path d="M719.7 1843.2l8.9 1.5l-8.9-4.1l-8.9-1.5z" fill="#372301"/><path d="M736.6 1849l8.8 2l-8.9-4.6l-8.8-2z" fill="#342601"/><path d="M753.4 1855.6l8.7 2.5l-8.8-5l-8.8-2.5z" fill="#312900"/><path d="M498.4 1846.4l9-4.5l-8.9 1.6l-8.9 4.6z" fill="#3c2f13"/><path d="M549.5 1832.6l9-3l-9 0.4l-9 3z" fill="#3d240f"/><path d="M617.7 1826.5l9-1.2l-8.9-1.4l-9 1.2z" fill="#3e1b08"/><path d="M668.9 1830.9l8.9 0.2l-8.9-2.7l-9-0.2z" fill="#401d03"/><path d="M515.4 1840.9l9-4l-8.9 1.2l-9 4.1z" fill="#3d2b12"/><path d="M532.4 1836.4l9-3.6l-8.9 0.8l-9 3.6z" fill="#3d2711"/><path d="M634.8 1827.1l9-0.7l-9-1.9l-9 0.8z" fill="#3f1b06"/><path d="M651.9 1828.6l8.9-0.3l-9-2.3l-8.9 0.3z" fill="#3f1b05"/><path d="M406.1 1893.5l8.7-7.4l-8.6 3.8l-8.8 7.4z" fill="#2b3b17"/><path d="M422.7 1883.2l8.8-6.9l-8.7 3.3l-8.8 7z" fill="#333d17"/><path d="M439.4 1873.7l8.8-6.4l-8.7 3l-8.8 6.4z" fill="#3b3e17"/><path d="M456.2 1865.2l8.9-5.9l-8.8 2.5l-8.9 5.9z" fill="#403d18"/><path d="M473 1857.5l8.9-5.4l-8.8 2.1l-8.9 5.4z" fill="#413917"/><path d="M489.9 1850.7l9-4.9l-8.9 1.7l-8.9 4.9z" fill="#423517"/><path d="M558 1832.3l9-3l-9-0.1l-9 3.1z" fill="#452611"/><path d="M575 1829.9l9-2.6l-8.9-0.5l-9 2.6z" fill="#46230f"/><path d="M592.1 1828.3l9-2.1l-9-0.9l-9 2.1z" fill="#47210d"/><path d="M609.2 1827.6l9-1.6l-9-1.4l-9 1.7z" fill="#481f0b"/><path d="M677.4 1833.5l8.9 0.3l-8.9-3.2l-9-0.2z" fill="#472104"/><path d="M694.4 1837.2l8.8 0.7l-8.9-3.6l-8.9-0.7z" fill="#442303"/><path d="M711.3 1841.7l8.8 1.1l-8.9-4l-8.8-1.2z" fill="#402502"/><path d="M728.2 1847.1l8.8 1.6l-8.9-4.6l-8.8-1.5z" fill="#3d2801"/><path d="M745 1853.3l8.8 2.1l-8.9-5l-8.8-2.1z" fill="#3a2c01"/><path d="M761.7 1860.4l8.8 2.5l-8.8-5.4l-8.8-2.5z" fill="#373000"/><path d="M506.9 1844.8l9-4.5l-8.9 1.3l-9 4.5z" fill="#433116"/><path d="M540.9 1835.6l9-3.5l-8.9 0.4l-9 3.5z" fill="#442a13"/><path d="M626.3 1827.8l9-1.1l-9-1.9l-9 1.2z" fill="#491e09"/><path d="M660.4 1830.8l8.9-0.3l-8.9-2.7l-9 0.3z" fill="#4a2005"/><path d="M523.9 1839.8l9-4l-8.9 0.8l-9 4z" fill="#442d15"/><path d="M643.3 1828.9l9-0.7l-9-2.3l-8.9 0.7z" fill="#491e07"/><path d="M397.7 1900.7l8.7-7.9l-8.6 3.8l-8.7 7.9z" fill="#2c401a"/><path d="M414.3 1889.9l8.8-7.4l-8.7 3.4l-8.7 7.4z" fill="#35421a"/><path d="M431 1880l8.8-6.9l-8.7 2.9l-8.8 7z" fill="#3e441b"/><path d="M447.8 1870.9l8.8-6.4l-8.7 2.6l-8.9 6.4z" fill="#45451b"/><path d="M464.6 1862.8l8.9-5.9l-8.8 2.1l-8.9 5.9z" fill="#47411b"/><path d="M481.5 1855.5l8.9-5.4l-8.9 1.7l-8.9 5.4z" fill="#483c1b"/><path d="M498.4 1849.1l8.9-4.9l-8.8 1.3l-9 4.9z" fill="#4a381a"/><path d="M549.4 1835.2l9-3.4l-8.9-0.1l-9 3.5z" fill="#4e2d15"/><path d="M566.5 1832.4l9-3l-9-0.5l-9 3z" fill="#502a13"/><path d="M583.6 1830.4l9-2.6l-9-0.9l-9 2.6z" fill="#512611"/><path d="M600.6 1829.2l9-2l-8.9-1.4l-9 2.1z" fill="#52240e"/><path d="M617.7 1829l9-1.6l-9-1.8l-9 1.6z" fill="#53220c"/><path d="M668.9 1833.4l8.9-0.2l-8.9-3.2l-9 0.2z" fill="#522305"/><path d="M685.9 1836.6l8.9 0.2l-8.9-3.6l-9-0.2z" fill="#4e2504"/><path d="M702.8 1840.6l8.9 0.8l-8.9-4.1l-8.9-0.7z" fill="#4b2703"/><path d="M719.7 1845.6l8.9 1.2l-8.9-4.5l-8.8-1.2z" fill="#472b02"/><path d="M736.6 1851.4l8.8 1.6l-8.8-4.9l-8.9-1.6z" fill="#442f01"/><path d="M753.4 1858.1l8.8 2.1l-8.9-5.5l-8.7-2z" fill="#403301"/><path d="M770.1 1865.7l8.7 2.5l-8.7-5.9l-8.8-2.5z" fill="#3d3800"/><path d="M515.4 1843.6l8.9-4.4l-8.9 0.8l-8.9 4.5z" fill="#4b3419"/><path d="M532.4 1839l9-4l-9 0.5l-8.9 3.9z" fill="#4d3117"/><path d="M634.8 1829.6l9-1.2l-9-2.2l-9 1.1z" fill="#542209"/><path d="M651.8 1831l9-0.6l-8.9-2.7l-9 0.7z" fill="#552207"/><path d="M389.4 1908.4l8.7-8.4l-8.6 3.8l-8.6 8.4z" fill="#2c441d"/><path d="M778.5 1871.3l8.7 2.5l-8.8-6.3l-8.7-2.5z" fill="#434100"/><path d="M406 1897.1l8.7-7.9l-8.6 3.4l-8.7 7.9z" fill="#36461e"/><path d="M422.6 1886.7l8.8-7.4l-8.7 3l-8.7 7.4z" fill="#3f491e"/><path d="M439.3 1877.1l8.9-6.8l-8.8 2.5l-8.8 6.9z" fill="#494b1f"/><path d="M456.1 1868.5l8.9-6.4l-8.8 2.2l-8.8 6.4z" fill="#4d491f"/><path d="M473 1860.8l8.9-5.9l-8.8 1.7l-8.9 5.9z" fill="#50451f"/><path d="M489.9 1853.9l8.9-5.4l-8.8 1.3l-9 5.4z" fill="#52411e"/><path d="M506.8 1847.9l9-4.9l-8.9 0.9l-8.9 4.9z" fill="#543d1d"/><path d="M523.8 1842.9l9-4.5l-8.9 0.5l-9 4.4z" fill="#56391c"/><path d="M540.9 1838.6l9-3.9l-9 0l-9 4z" fill="#58351a"/><path d="M557.9 1835.3l9-3.5l-8.9-0.4l-9 3.5z" fill="#5a3118"/><path d="M575 1832.8l9-2.9l-9-0.9l-9 3z" fill="#5c2d15"/><path d="M592.1 1831.2l9-2.5l-9-1.3l-9 2.5z" fill="#5d2a12"/><path d="M609.2 1830.5l9-2l-9-1.8l-9 2.1z" fill="#5e270f"/><path d="M626.2 1830.7l9-1.6l-8.9-2.2l-9 1.6z" fill="#60260d"/><path d="M643.3 1831.7l9-1.1l-9-2.6l-9 1.1z" fill="#60260a"/><path d="M660.4 1833.6l8.9-0.6l-8.9-3.1l-9 0.6z" fill="#5e2608"/><path d="M677.4 1836.4l8.9-0.2l-8.9-3.6l-9 0.2z" fill="#5a2706"/><path d="M694.4 1840l8.9 0.3l-9-4l-8.9-0.3z" fill="#562904"/><path d="M711.3 1844.5l8.9 0.8l-8.9-4.5l-8.9-0.7z" fill="#522d03"/><path d="M728.2 1849.9l8.8 1.2l-8.8-4.9l-8.9-1.2z" fill="#4e3102"/><path d="M745 1856.2l8.8 1.6l-8.8-5.4l-8.8-1.6z" fill="#4a3601"/><path d="M761.8 1863.3l8.7 2.1l-8.8-5.9l-8.7-2z" fill="#463b01"/><path d="M381.2 1916.5l8.6-8.9l-8.6 3.9l-8.6 8.9z" fill="#2c4920"/><path d="M397.7 1904.7l8.7-8.3l-8.6 3.4l-8.7 8.4z" fill="#374c21"/><path d="M515.3 1847.1l9-4.8l-8.9 0.4l-9 4.9z" fill="#604221"/><path d="M532.3 1842.5l9-4.4l-8.9 0l-9 4.4z" fill="#623d1f"/><path d="M634.8 1832.8l9-1.5l-9-2.6l-9 1.5z" fill="#6c290d"/><path d="M651.8 1834.3l9-1.1l-9-3.1l-8.9 1.1z" fill="#6a290a"/><path d="M770.1 1868.9l8.8 2.2l-8.8-6.3l-8.7-2.1z" fill="#4c4401"/><path d="M786.8 1877.4l8.7 2.6l-8.8-6.8l-8.6-2.6z" fill="#474900"/><path d="M414.3 1893.8l8.7-7.8l-8.7 3l-8.7 7.8z" fill="#424f22"/><path d="M431 1883.8l8.7-7.3l-8.7 2.6l-8.8 7.3z" fill="#4c5223"/><path d="M447.7 1874.7l8.8-6.8l-8.7 2.1l-8.8 6.9z" fill="#555323"/><path d="M464.5 1866.5l8.9-6.4l-8.8 1.8l-8.9 6.3z" fill="#584f23"/><path d="M481.4 1859.2l8.9-5.9l-8.8 1.3l-8.9 5.9z" fill="#5b4b23"/><path d="M498.3 1852.7l9-5.4l-8.9 0.9l-8.9 5.4z" fill="#5d4622"/><path d="M549.4 1838.7l9-3.9l-9-0.5l-9 4z" fill="#65391d"/><path d="M566.4 1835.7l9-3.4l-8.9-0.8l-9 3.4z" fill="#67341a"/><path d="M583.5 1833.7l9-2.9l-8.9-1.3l-9 2.9z" fill="#683017"/><path d="M600.6 1832.5l9-2.4l-9-1.8l-9 2.5z" fill="#6a2d14"/><path d="M617.7 1832.2l9-2l-9-2.1l-9 2z" fill="#6b2a10"/><path d="M668.9 1836.6l8.9-0.6l-8.9-3.5l-9 0.6z" fill="#662a08"/><path d="M685.9 1839.8l8.9-0.1l-8.9-4l-9 0.1z" fill="#612b06"/><path d="M702.8 1843.9l8.9 0.3l-8.9-4.5l-8.9-0.2z" fill="#5d2f04"/><path d="M719.7 1848.8l8.9 0.8l-8.9-4.9l-8.8-0.8z" fill="#593303"/><path d="M736.6 1854.7l8.8 1.2l-8.8-5.4l-8.8-1.2z" fill="#543802"/><path d="M753.4 1861.4l8.8 1.6l-8.8-5.8l-8.8-1.7z" fill="#503e01"/><path d="M372.9 1925.1l8.6-9.3l-8.5 3.9l-8.6 9.3z" fill="#2b5023"/><path d="M523.8 1846.8l9-4.9l-8.9 0.1l-9 4.8z" fill="#6c4724"/><path d="M643.3 1835.4l9-1.5l-9-3.1l-9 1.5z" fill="#772d0e"/><path d="M795.1 1883.9l8.6 2.6l-8.6-7.2l-8.7-2.6z" fill="#474e00"/><path d="M389.4 1912.8l8.7-8.8l-8.6 3.5l-8.7 8.8z" fill="#375324"/><path d="M405.9 1901.4l8.8-8.3l-8.7 3.1l-8.7 8.3z" fill="#435625"/><path d="M506.8 1851.9l9-5.3l-8.9 0.4l-9 5.4z" fill="#694c26"/><path d="M540.8 1842.5l9-4.4l-8.9-0.4l-9 4.4z" fill="#6f4122"/><path d="M626.2 1834.4l9-2l-9-2.6l-9 2z" fill="#792e11"/><path d="M660.3 1837.3l9-1.1l-8.9-3.5l-9 1.1z" fill="#722d0b"/><path d="M761.8 1867l8.7 1.7l-8.7-6.3l-8.8-1.7z" fill="#574601"/><path d="M778.5 1875l8.7 2.2l-8.7-6.8l-8.8-2.1z" fill="#524e01"/><path d="M422.6 1890.9l8.7-7.8l-8.7 2.7l-8.7 7.8z" fill="#4f5926"/><path d="M439.3 1881.4l8.8-7.4l-8.7 2.2l-8.8 7.4z" fill="#5b5d27"/><path d="M456.1 1872.7l8.8-6.9l-8.8 1.8l-8.8 6.8z" fill="#605a28"/><path d="M472.9 1864.9l8.9-6.4l-8.8 1.4l-8.9 6.3z" fill="#635528"/><path d="M489.9 1857.9l8.9-5.8l-8.9 0.9l-8.9 5.9z" fill="#665027"/><path d="M557.9 1839.1l9-3.9l-9-0.8l-9 3.9z" fill="#713c1f"/><path d="M575 1836.6l9-3.4l-9-1.3l-9 3.5z" fill="#74381c"/><path d="M592 1835l9.1-2.9l-9-1.8l-9 3z" fill="#763319"/><path d="M609.1 1834.2l9-2.4l-8.9-2.2l-9 2.5z" fill="#773015"/><path d="M677.4 1840l8.9-0.6l-8.9-3.9l-9 0.6z" fill="#6e2e08"/><path d="M694.3 1843.7l9-0.2l-8.9-4.4l-9 0.2z" fill="#693106"/><path d="M711.3 1848.2l8.9 0.3l-8.9-4.9l-8.9-0.3z" fill="#643504"/><path d="M728.2 1853.6l8.8 0.8l-8.8-5.4l-8.9-0.8z" fill="#603a03"/><path d="M745 1859.8l8.8 1.3l-8.8-5.8l-8.8-1.3z" fill="#5b4002"/><path d="M364.7 1934.2l8.6-9.8l-8.5 3.9l-8.6 9.8z" fill="#295626"/><path d="M515.3 1851.5l8.9-5.3l-8.9 0l-8.9 5.4z" fill="#76512a"/><path d="M532.3 1846.8l9-4.9l-9-0.3l-8.9 4.8z" fill="#794b28"/><path d="M634.7 1836.9l9-1.9l-8.9-3.1l-9 2z" fill="#843212"/><path d="M651.8 1838.4l9-1.5l-9-3.5l-9 1.5z" fill="#7f310e"/><path d="M803.3 1890.9l8.7 2.6l-8.7-7.7l-8.6-2.5z" fill="#455400"/><path d="M381.1 1921.4l8.7-9.3l-8.6 3.5l-8.6 9.3z" fill="#365927"/><path d="M786.8 1881.5l8.7 2.2l-8.7-7.2l-8.7-2.1z" fill="#585801"/><path d="M397.6 1909.5l8.7-8.8l-8.6 3.1l-8.7 8.8z" fill="#435d29"/><path d="M414.2 1898.6l8.8-8.3l-8.7 2.6l-8.7 8.3z" fill="#51602a"/><path d="M498.3 1857.1l8.9-5.8l-8.8 0.5l-9 5.8z" fill="#73562b"/><path d="M549.3 1842.9l9-4.3l-8.9-0.8l-9 4.3z" fill="#7c4625"/><path d="M617.7 1836.4l9-2.5l-9-2.6l-9 2.5z" fill="#853416"/><path d="M668.8 1840.7l9-1l-8.9-4l-9 1z" fill="#7b310b"/><path d="M753.4 1865.5l8.8 1.2l-8.8-6.2l-8.8-1.3z" fill="#614902"/><path d="M770.1 1873.1l8.8 1.7l-8.8-6.8l-8.7-1.6z" fill="#5d5001"/><path d="M430.9 1888.5l8.8-7.8l-8.7 2.2l-8.8 7.8z" fill="#5e642b"/><path d="M736.6 1858.7l8.8 0.9l-8.8-5.8l-8.8-0.8z" fill="#664203"/><path d="M447.7 1879.3l8.8-7.3l-8.8 1.8l-8.8 7.3z" fill="#68652c"/><path d="M464.5 1871l8.9-6.8l-8.9 1.4l-8.8 6.8z" fill="#6b602c"/><path d="M481.4 1863.6l8.9-6.3l-8.9 1l-8.9 6.3z" fill="#6f5b2c"/><path d="M566.4 1840l9-3.9l-8.9-1.3l-9 3.9z" fill="#7f4022"/><path d="M583.5 1837.9l9-3.4l-9-1.7l-9 3.4z" fill="#813b1e"/><path d="M600.6 1836.7l9-2.9l-9-2.2l-9 3z" fill="#83371a"/><path d="M685.8 1843.9l9-0.6l-8.9-4.4l-9 0.6z" fill="#763308"/><path d="M702.8 1848l8.9-0.1l-8.9-4.9l-8.9 0.1z" fill="#703706"/><path d="M719.7 1852.9l8.9 0.4l-8.9-5.4l-8.8-0.3z" fill="#6b3c04"/><path d="M356.6 1943.8l8.5-10.3l-8.5 3.9l-8.5 10.4z" fill="#285b2b"/><path d="M372.9 1930.5l8.6-9.8l-8.6 3.5l-8.5 9.8z" fill="#345f2a"/><path d="M506.8 1856.7l8.9-5.8l-8.9 0.1l-8.9 5.8z" fill="#805c30"/><path d="M523.8 1851.5l8.9-5.3l-8.9-0.3l-8.9 5.3z" fill="#83562e"/><path d="M540.8 1847.2l9-4.8l-9-0.8l-8.9 4.8z" fill="#87502b"/><path d="M626.2 1838.9l9-2.4l-9-3l-9 2.4z" fill="#913817"/><path d="M643.3 1839.9l8.9-1.9l-8.9-3.5l-9 1.9z" fill="#8d3612"/><path d="M660.3 1841.8l9-1.5l-9-3.9l-8.9 1.5z" fill="#88350e"/><path d="M795.1 1888.5l8.6 2.2l-8.6-7.7l-8.7-2.1z" fill="#565e01"/><path d="M811.6 1898.3l8.6 2.7l-8.6-8.2l-8.6-2.6z" fill="#425900"/><path d="M389.4 1918.1l8.6-9.3l-8.6 3.1l-8.6 9.3z" fill="#43632c"/><path d="M778.4 1879.6l8.8 1.7l-8.7-7.2l-8.8-1.7z" fill="#635c01"/><path d="M405.9 1906.7l8.7-8.8l-8.6 2.6l-8.7 8.8z" fill="#51672e"/><path d="M422.6 1896.1l8.7-8.3l-8.7 2.2l-8.7 8.3z" fill="#606b2f"/><path d="M489.8 1862.8l8.9-6.3l-8.8 0.5l-8.9 6.3z" fill="#7c6131"/><path d="M557.9 1843.8l9-4.4l-9-1.2l-9 4.4z" fill="#8a4a28"/><path d="M609.1 1838.8l9-2.9l-9-2.6l-9 2.9z" fill="#923b1b"/><path d="M677.3 1844.5l9-1l-8.9-4.4l-9 1.1z" fill="#83360b"/><path d="M745 1864.4l8.8 0.8l-8.8-6.3l-8.8-0.8z" fill="#6d4b03"/><path d="M761.8 1871.5l8.7 1.3l-8.7-6.7l-8.8-1.3z" fill="#685302"/><path d="M439.3 1886.4l8.8-7.8l-8.8 1.9l-8.8 7.7z" fill="#6e6f30"/><path d="M728.1 1858.1l8.9 0.3l-8.8-5.7l-8.9-0.4z" fill="#724404"/><path d="M456.1 1877.6l8.8-7.2l-8.8 1.4l-8.8 7.2z" fill="#746c31"/><path d="M472.9 1869.8l8.9-6.8l-8.8 1l-8.9 6.7z" fill="#786631"/><path d="M574.9 1841.2l9-3.8l-8.9-1.7l-9 3.9z" fill="#8d4424"/><path d="M592 1839.6l9-3.4l-8.9-2.1l-9.1 3.4z" fill="#8f3f20"/><path d="M694.3 1848.2l8.9-0.6l-8.9-4.8l-8.9 0.5z" fill="#7d3908"/><path d="M711.3 1852.7l8.9-0.1l-8.9-5.3l-8.9 0.1z" fill="#783e06"/><path d="M348.4 1953.9l8.5-10.8l-8.5 3.9l-8.4 10.9z" fill="#2b6134"/><path d="M364.7 1940.1l8.6-10.3l-8.6 3.5l-8.5 10.3z" fill="#31652d"/><path d="M381.1 1927.2l8.6-9.8l-8.6 3.1l-8.5 9.8z" fill="#41692f"/><path d="M498.3 1862.4l8.9-6.3l-8.9 0.1l-8.9 6.3z" fill="#896735"/><path d="M515.3 1856.7l8.9-5.8l-8.9-0.3l-8.9 5.8z" fill="#8d6134"/><path d="M532.3 1851.9l8.9-5.3l-8.9-0.7l-9 5.3z" fill="#915b32"/><path d="M549.3 1848l9-4.8l-8.9-1.2l-9 4.8z" fill="#95542f"/><path d="M617.6 1841.3l9-2.8l-8.9-3l-9 2.8z" fill="#9e3f1c"/><path d="M634.7 1841.9l9-2.4l-9-3.5l-9 2.4z" fill="#9a3c17"/><path d="M651.8 1843.3l9-1.9l-9-3.9l-9 1.9z" fill="#963a13"/><path d="M668.8 1845.6l9-1.5l-9-4.3l-8.9 1.4z" fill="#903a0f"/><path d="M786.8 1886.5l8.7 1.8l-8.7-7.7l-8.7-1.7z" fill="#686801"/><path d="M803.3 1895.9l8.7 2.2l-8.6-8.1l-8.7-2.2z" fill="#536301"/><path d="M819.8 1906.2l8.6 2.7l-8.6-8.6l-8.6-2.7z" fill="#3e5f00"/><path d="M397.6 1915.2l8.7-9.3l-8.7 2.7l-8.6 9.3z" fill="#506e31"/><path d="M770.1 1878l8.8 1.3l-8.8-7.1l-8.8-1.3z" fill="#6e5f02"/><path d="M414.2 1904.2l8.7-8.8l-8.7 2.3l-8.7 8.7z" fill="#607233"/><path d="M430.9 1894l8.8-8.3l-8.8 1.9l-8.7 8.3z" fill="#6f7734"/><path d="M481.4 1868.9l8.8-6.7l-8.8 0.5l-8.9 6.8z" fill="#846d36"/><path d="M566.4 1845l9-4.3l-9-1.6l-9 4.3z" fill="#984e2b"/><path d="M600.5 1841.7l9.1-3.4l-9-2.5l-9 3.3z" fill="#9e4321"/><path d="M685.8 1848.8l9-1l-9-4.8l-8.9 1z" fill="#8b3d0b"/><path d="M736.6 1863.7l8.8 0.4l-8.8-6.3l-8.9-0.3z" fill="#794e04"/><path d="M753.4 1870.4l8.8 0.9l-8.8-6.7l-8.8-0.9z" fill="#735603"/><path d="M447.7 1884.7l8.8-7.7l-8.8 1.4l-8.8 7.8z" fill="#7b7835"/><path d="M719.7 1857.8l8.9 0l-8.9-5.8l-8.9 0.1z" fill="#7f4606"/><path d="M464.5 1876.4l8.8-7.3l-8.8 1l-8.8 7.3z" fill="#807236"/><path d="M583.5 1842.9l9-3.8l-9-2.1l-9 3.8z" fill="#9b4826"/><path d="M702.8 1852.9l8.9-0.6l-8.9-5.2l-8.9 0.5z" fill="#854108"/><path d="M340.3 1964.5l8.5-11.4l-8.5 4l-8.4 11.4z" fill="#2e673f"/><path d="M356.6 1950.2l8.5-10.8l-8.5 3.5l-8.5 10.8z" fill="#306b33"/><path d="M372.9 1936.8l8.6-10.3l-8.6 3.1l-8.5 10.3z" fill="#3d6f32"/><path d="M389.4 1924.3l8.6-9.8l-8.6 2.7l-8.6 9.8z" fill="#4e7434"/><path d="M489.8 1868.5l8.9-6.8l-8.9 0.2l-8.9 6.7z" fill="#91733b"/><path d="M506.8 1862.3l8.9-6.2l-8.9-0.3l-8.9 6.3z" fill="#966d3a"/><path d="M523.7 1857.1l9-5.8l-8.9-0.7l-9 5.8z" fill="#9b6738"/><path d="M540.8 1852.7l9-5.2l-9-1.2l-9 5.3z" fill="#9f6035"/><path d="M557.8 1849.3l9-4.8l-8.9-1.6l-9 4.7z" fill="#a35931"/><path d="M609.1 1844.2l9-3.3l-9-3l-9 3.3z" fill="#ac4823"/><path d="M626.1 1844.3l9.1-2.9l-9-3.4l-9 2.9z" fill="#a8431d"/><path d="M643.2 1845.3l9-2.4l-8.9-3.9l-9 2.4z" fill="#a34018"/><path d="M660.3 1847.1l8.9-1.9l-8.9-4.3l-9 1.9z" fill="#9e3f13"/><path d="M677.3 1849.9l8.9-1.5l-8.9-4.8l-8.9 1.5z" fill="#98410f"/><path d="M778.4 1885l8.8 1.3l-8.7-7.6l-8.8-1.3z" fill="#746b02"/><path d="M795 1893.9l8.7 1.8l-8.6-8.1l-8.7-1.7z" fill="#666e01"/><path d="M811.6 1903.8l8.6 2.2l-8.6-8.6l-8.7-2.2z" fill="#4e6901"/><path d="M828 1914.5l8.6 2.7l-8.6-9l-8.6-2.7z" fill="#376400"/><path d="M405.9 1912.7l8.7-9.2l-8.7 2.3l-8.6 9.2z" fill="#5f7936"/><path d="M761.7 1876.9l8.8 0.9l-8.7-7.2l-8.8-0.8z" fill="#7a6102"/><path d="M422.6 1902.1l8.7-8.8l-8.7 1.9l-8.8 8.7z" fill="#707e38"/><path d="M439.3 1892.3l8.7-8.2l-8.7 1.4l-8.8 8.3z" fill="#818339"/><path d="M472.9 1875.5l8.9-7.2l-8.9 0.6l-8.8 7.2z" fill="#8d793b"/><path d="M574.9 1846.7l9-4.3l-9-2.1l-9 4.3z" fill="#a7532d"/><path d="M592 1845l9-3.8l-9-2.5l-9 3.8z" fill="#aa4d28"/><path d="M694.3 1853.5l8.9-1l-8.9-5.2l-8.9 0.9z" fill="#92440b"/><path d="M728.1 1863.4l8.9 0l-8.8-6.2l-8.9 0z" fill="#865006"/><path d="M744.9 1869.7l8.9 0.4l-8.8-6.6l-8.9-0.4z" fill="#805804"/><path d="M456 1883.5l8.9-7.8l-8.8 1l-8.8 7.8z" fill="#887f3b"/><path d="M711.2 1858l8.9-0.5l-8.8-5.7l-9 0.5z" fill="#8c4908"/><path d="M332.3 1975.6l8.4-11.9l-8.5 4l-8.3 11.9z" fill="#306c4b"/><path d="M836.1 1923.3l8.6 2.7l-8.5-9.5l-8.6-2.7z" fill="#2f6900"/><path d="M348.5 1960.7l8.4-11.3l-8.5 3.6l-8.4 11.3z" fill="#33703e"/><path d="M364.7 1946.8l8.6-10.8l-8.6 3.2l-8.5 10.8z" fill="#397535"/><path d="M381.1 1933.8l8.6-10.2l-8.6 2.7l-8.5 10.3z" fill="#4a7a37"/><path d="M397.6 1921.8l8.7-9.8l-8.7 2.3l-8.6 9.8z" fill="#5c7f3a"/><path d="M481.3 1875.1l8.9-7.2l-8.8 0.1l-8.9 7.3z" fill="#9a8040"/><path d="M498.3 1868.5l8.9-6.8l-8.9-0.2l-8.9 6.7z" fill="#9f7a40"/><path d="M515.2 1862.7l9-6.2l-8.9-0.7l-9 6.2z" fill="#a4733e"/><path d="M532.2 1857.9l9-5.7l-8.9-1.2l-9 5.8z" fill="#a96c3c"/><path d="M549.3 1854l9-5.3l-9-1.6l-9 5.3z" fill="#ae6538"/><path d="M566.3 1850.9l9-4.7l-8.9-2.1l-9 4.8z" fill="#b25e34"/><path d="M583.4 1848.8l9-4.3l-8.9-2.5l-9 4.3z" fill="#b6572f"/><path d="M600.5 1847.5l9-3.8l-9-2.9l-9 3.8z" fill="#b95229"/><path d="M617.6 1847.2l9-3.4l-9-3.4l-9 3.3z" fill="#b54c23"/><path d="M634.7 1847.7l9-2.9l-9-3.8l-9 2.8z" fill="#b1481e"/><path d="M651.7 1849.1l9-2.4l-8.9-4.3l-9 2.4z" fill="#ac4518"/><path d="M668.8 1851.4l8.9-1.9l-8.9-4.8l-9 1.9z" fill="#a64613"/><path d="M685.8 1854.6l8.9-1.5l-8.9-5.2l-9 1.4z" fill="#a0480e"/><path d="M770 1883.8l8.8 0.9l-8.7-7.6l-8.8-0.9z" fill="#806e02"/><path d="M786.7 1892.4l8.7 1.3l-8.6-8.1l-8.8-1.3z" fill="#797901"/><path d="M803.3 1901.8l8.6 1.8l-8.6-8.6l-8.7-1.7z" fill="#607401"/><path d="M819.8 1912.1l8.6 2.2l-8.6-9l-8.6-2.2z" fill="#476e00"/><path d="M414.2 1910.6l8.7-9.2l-8.7 1.9l-8.7 9.2z" fill="#6e843c"/><path d="M464.5 1882.6l8.8-7.7l-8.8 0.6l-8.9 7.7z" fill="#948640"/><path d="M702.7 1858.6l9-0.9l-8.9-5.7l-9 0.9z" fill="#9a4d0b"/><path d="M753.3 1876.2l8.8 0.4l-8.7-7.1l-8.9-0.4z" fill="#866404"/><path d="M430.9 1900.4l8.8-8.8l-8.8 1.5l-8.7 8.7z" fill="#808a3e"/><path d="M447.6 1891l8.8-8.2l-8.7 1l-8.8 8.3z" fill="#8f8c3f"/><path d="M719.6 1863.6l8.9-0.5l-8.8-6.2l-8.9 0.5z" fill="#935308"/><path d="M736.5 1869.5l8.9-0.1l-8.8-6.6l-8.9 0z" fill="#8c5b05"/><path d="M324.3 1987.2l8.3-12.4l-8.4 4l-8.3 12.4z" fill="#327158"/><path d="M340.4 1971.8l8.4-11.8l-8.5 3.6l-8.4 11.8z" fill="#35764a"/><path d="M574.9 1853l9-4.7l-9-2.5l-9 4.7z" fill="#c16336"/><path d="M591.9 1851.3l9.1-4.3l-9-2.9l-9 4.3z" fill="#c55d31"/><path d="M827.9 1920.9l8.6 2.2l-8.5-9.5l-8.6-2.2z" fill="#3e7300"/><path d="M844.2 1932.6l8.6 2.7l-8.5-10l-8.5-2.7z" fill="#246e00"/><path d="M472.9 1882.2l8.9-7.7l-8.9 0.1l-8.8 7.8z" fill="#a28d45"/><path d="M694.2 1859.7l9-1.4l-8.9-5.7l-9 1.4z" fill="#a8510e"/><path d="M356.6 1957.4l8.5-11.3l-8.5 3.2l-8.5 11.3z" fill="#387b3d"/><path d="M373 1943.9l8.5-10.8l-8.6 2.8l-8.5 10.8z" fill="#46803a"/><path d="M389.4 1931.3l8.6-10.2l-8.6 2.3l-8.6 10.3z" fill="#59853d"/><path d="M405.9 1919.7l8.7-9.8l-8.7 1.9l-8.6 9.8z" fill="#6c8a3f"/><path d="M456.1 1890.2l8.8-8.2l-8.8 0.6l-8.9 8.2z" fill="#9c9345"/><path d="M489.8 1875.1l8.9-7.2l-8.9-0.3l-8.9 7.2z" fill="#a78745"/><path d="M506.7 1868.9l9-6.8l-8.9-0.7l-9 6.8z" fill="#ad8045"/><path d="M523.7 1863.6l9-6.3l-8.9-1.1l-9 6.2z" fill="#b37943"/><path d="M540.8 1859.1l8.9-5.7l-8.9-1.6l-9 5.8z" fill="#b87240"/><path d="M557.8 1855.6l9-5.2l-9-2l-9 5.2z" fill="#bd6b3b"/><path d="M609 1850.5l9-3.8l-8.9-3.4l-9 3.8z" fill="#c2562a"/><path d="M626.1 1850.5l9-3.3l-8.9-3.8l-9.1 3.3z" fill="#bf5024"/><path d="M643.2 1851.5l9-2.8l-9-4.3l-9 2.8z" fill="#ba4d1e"/><path d="M660.2 1853.3l9-2.3l-8.9-4.8l-9 2.4z" fill="#b54c18"/><path d="M677.2 1856.1l9-1.9l-8.9-5.2l-9 1.8z" fill="#af4d13"/><path d="M711.2 1864.2l8.9-0.9l-8.9-6.2l-8.9 1z" fill="#a1570a"/><path d="M761.6 1883.1l8.9 0.5l-8.8-7.6l-8.8-0.4z" fill="#8c7203"/><path d="M778.3 1891.2l8.8 0.9l-8.7-8l-8.8-0.9z" fill="#857d02"/><path d="M795 1900.2l8.7 1.4l-8.7-8.6l-8.7-1.3z" fill="#747f01"/><path d="M811.5 1910.1l8.6 1.8l-8.5-9l-8.7-1.8z" fill="#597901"/><path d="M422.6 1908.9l8.7-9.2l-8.7 1.5l-8.8 9.2z" fill="#7f9042"/><path d="M744.9 1875.9l8.8 0l-8.7-7.1l-8.9 0z" fill="#936705"/><path d="M439.3 1899.1l8.7-8.7l-8.7 1l-8.8 8.8z" fill="#929643"/><path d="M728 1869.6l8.9-0.5l-8.8-6.6l-8.9 0.5z" fill="#9a5e07"/><path d="M583.4 1855.5l9-4.7l-9-2.9l-9 4.7z" fill="#d16938"/><path d="M316.3 1999.2l8.3-12.8l-8.4 4l-8.2 12.9z" fill="#357666"/><path d="M332.3 1983.4l8.4-12.4l-8.4 3.7l-8.4 12.3z" fill="#377b58"/><path d="M348.5 1968.4l8.4-11.8l-8.4 3.2l-8.5 11.9z" fill="#3a8049"/><path d="M464.5 1889.7l8.8-8.2l-8.8 0.2l-8.9 8.2z" fill="#a99b4a"/><path d="M566.3 1857.7l9-5.2l-8.9-2.5l-9 5.3z" fill="#cc703e"/><path d="M600.5 1854.2l9-4.2l-9-3.4l-9 4.3z" fill="#cf6132"/><path d="M702.7 1865.3l8.9-1.4l-8.9-6.2l-8.9 1.4z" fill="#af5b0e"/><path d="M819.7 1918.9l8.6 1.8l-8.5-9.5l-8.7-1.8z" fill="#4f7e01"/><path d="M836 1930.1l8.6 2.3l-8.5-10l-8.5-2.2z" fill="#337800"/><path d="M852.3 1942.3l8.5 2.7l-8.4-10.5l-8.5-2.7z" fill="#187200"/><path d="M481.3 1882.1l8.9-7.7l-8.9-0.2l-8.8 7.7z" fill="#af944b"/><path d="M685.7 1861.2l9-1.9l-8.9-5.6l-9 1.8z" fill="#b65612"/><path d="M364.8 1954.4l8.5-11.2l-8.6 2.7l-8.4 11.3z" fill="#3f853d"/><path d="M381.2 1941.4l8.6-10.8l-8.7 2.3l-8.5 10.8z" fill="#538b40"/><path d="M397.7 1929.2l8.6-10.2l-8.7 1.9l-8.6 10.2z" fill="#679043"/><path d="M414.3 1918l8.6-9.8l-8.7 1.5l-8.6 9.8z" fill="#7c9645"/><path d="M447.7 1898.2l8.7-8.7l-8.8 0.6l-8.7 8.8z" fill="#a3a149"/><path d="M498.3 1875.4l8.9-7.1l-8.9-0.7l-8.9 7.2z" fill="#b58e4b"/><path d="M515.2 1869.7l9-6.7l-9-1.2l-8.9 6.7z" fill="#bb8749"/><path d="M532.2 1864.8l9-6.2l-9-1.6l-8.9 6.2z" fill="#c17f47"/><path d="M549.3 1860.8l8.9-5.7l-8.9-2l-9 5.7z" fill="#c77843"/><path d="M617.5 1853.8l9.1-3.7l-9-3.8l-9 3.7z" fill="#cc5b2b"/><path d="M634.6 1854.3l9-3.2l-8.9-4.3l-9 3.3z" fill="#c85624"/><path d="M651.7 1855.7l9-2.8l-9-4.7l-9 2.8z" fill="#c3541e"/><path d="M668.7 1858l9-2.3l-8.9-5.2l-9 2.3z" fill="#bd5418"/><path d="M719.6 1870.2l8.9-0.9l-8.9-6.6l-8.9 0.9z" fill="#a8620a"/><path d="M753.2 1882.8l8.9 0.1l-8.8-7.6l-8.8 0z" fill="#997505"/><path d="M770 1890.5l8.8 0.5l-8.8-8.1l-8.8-0.4z" fill="#928103"/><path d="M786.6 1899.1l8.8 0.9l-8.7-8.5l-8.7-0.9z" fill="#898b02"/><path d="M803.2 1908.5l8.7 1.4l-8.6-9l-8.7-1.4z" fill="#6c8401"/><path d="M430.9 1907.6l8.8-9.2l-8.8 1.1l-8.7 9.2z" fill="#909c47"/><path d="M736.4 1876.1l8.9-0.5l-8.8-7l-8.9 0.4z" fill="#a06b07"/><path d="M574.8 1860.2l9-5.2l-8.9-2.9l-9 5.2z" fill="#db7640"/><path d="M591.9 1858.5l9-4.7l-8.9-3.4l-9.1 4.7z" fill="#db6e3a"/><path d="M308.4 2011.9l8.2-13.4l-8.3 4l-8.2 13.4z" fill="#377a75"/><path d="M324.3 1995.5l8.4-12.9l-8.4 3.7l-8.3 12.8z" fill="#3a7f66"/><path d="M340.5 1980l8.3-12.3l-8.4 3.2l-8.4 12.3z" fill="#3d8557"/><path d="M356.7 1965.5l8.4-11.8l-8.5 2.8l-8.4 11.8z" fill="#408a48"/><path d="M456.1 1897.8l8.8-8.7l-8.8 0.2l-8.8 8.7z" fill="#b0a94f"/><path d="M472.9 1889.7l8.8-8.2l-8.8-0.2l-8.8 8.2z" fill="#b6a350"/><path d="M557.8 1862.9l9-5.7l-9-2.5l-9 5.7z" fill="#d67e46"/><path d="M609 1857.6l9-4.2l-9-3.8l-9 4.2z" fill="#d96633"/><path d="M694.1 1866.8l9-1.9l-8.9-6.1l-8.9 1.8z" fill="#be6112"/><path d="M711.1 1871.3l8.9-1.4l-8.8-6.6l-9 1.4z" fill="#b6670d"/><path d="M811.4 1917.3l8.7 1.4l-8.6-9.5l-8.7-1.4z" fill="#628a01"/><path d="M827.8 1928.1l8.6 1.8l-8.5-9.9l-8.6-1.8z" fill="#448301"/><path d="M844.1 1939.8l8.6 2.3l-8.4-10.4l-8.6-2.3z" fill="#267d00"/><path d="M860.4 1952.5l8.4 2.7l-8.3-10.9l-8.5-2.8z" fill="#0a7700"/><path d="M439.3 1906.7l8.8-9.1l-8.8 0.6l-8.8 9.2z" fill="#a2a94d"/><path d="M489.8 1882.5l8.9-7.7l-8.9-0.6l-8.9 7.6z" fill="#bd9c50"/><path d="M677.2 1863.1l8.9-2.3l-8.9-5.6l-8.9 2.3z" fill="#c55d17"/><path d="M728 1876.7l8.9-0.9l-8.8-7.1l-8.9 0.9z" fill="#ae6f0a"/><path d="M373 1951.9l8.5-11.3l-8.6 2.4l-8.5 11.3z" fill="#4c9043"/><path d="M389.5 1939.2l8.5-10.7l-8.6 1.9l-8.6 10.8z" fill="#629646"/><path d="M406 1927.5l8.6-10.2l-8.7 1.5l-8.6 10.2z" fill="#779c49"/><path d="M422.6 1916.7l8.7-9.8l-8.7 1.1l-8.7 9.7z" fill="#8ca34b"/><path d="M506.7 1876.2l9-7.1l-9-1.1l-8.9 7.1z" fill="#c3954f"/><path d="M523.7 1870.9l9-6.7l-9-1.5l-8.9 6.6z" fill="#ca8d4d"/><path d="M540.7 1866.4l9-6.2l-8.9-2l-9 6.2z" fill="#d0864a"/><path d="M626.1 1857.6l9-3.7l-9-4.3l-9 3.8z" fill="#d6602b"/><path d="M643.1 1858.6l9-3.3l-8.9-4.7l-9 3.2z" fill="#d15d24"/><path d="M660.2 1860.4l8.9-2.8l-8.9-5.2l-9 2.8z" fill="#cb5b1d"/><path d="M744.8 1883l8.9-0.4l-8.8-7.6l-8.9 0.5z" fill="#a77907"/><path d="M761.6 1890.2l8.8 0l-8.7-8l-8.9 0z" fill="#9f8505"/><path d="M778.3 1898.3l8.7 0.5l-8.6-8.5l-8.8-0.5z" fill="#989103"/><path d="M794.9 1907.4l8.7 0.9l-8.6-9l-8.8-0.9z" fill="#809002"/><path d="M300.5 2025l8.2-13.9l-8.3 4.1l-8.2 13.9z" fill="#39787f"/><path d="M566.3 1865.4l9-5.7l-9-2.9l-9 5.7z" fill="#e58548"/><path d="M583.4 1863.2l9-5.2l-9-3.4l-9 5.2z" fill="#e67b42"/><path d="M600.4 1861.8l9-4.7l-8.9-3.8l-9 4.7z" fill="#e4733a"/><path d="M868.4 1963.1l8.4 2.8l-8.3-11.4l-8.5-2.8z" fill="#007b07"/><path d="M447.7 1906.3l8.8-9.2l-8.8 0.2l-8.8 9.2z" fill="#b4b653"/><path d="M719.5 1877.7l8.9-1.3l-8.8-7.1l-8.9 1.4z" fill="#bd740d"/><path d="M316.4 2008.1l8.3-13.4l-8.4 3.6l-8.3 13.4z" fill="#3c8475"/><path d="M332.4 1992.1l8.4-12.9l-8.5 3.3l-8.3 12.8z" fill="#3f8966"/><path d="M348.6 1977l8.4-12.3l-8.5 2.8l-8.4 12.4z" fill="#428f56"/><path d="M364.9 1962.9l8.5-11.8l-8.6 2.4l-8.5 11.8z" fill="#459546"/><path d="M431 1915.8l8.7-9.7l-8.8 0.6l-8.7 9.7z" fill="#9daf51"/><path d="M464.5 1897.7l8.8-8.7l-8.8-0.2l-8.8 8.7z" fill="#bdb155"/><path d="M481.4 1890.1l8.8-8.2l-8.9-0.7l-8.8 8.2z" fill="#c4aa56"/><path d="M549.2 1868.5l9-6.2l-8.9-2.4l-9 6.2z" fill="#df8d4d"/><path d="M617.5 1861.4l9-4.2l-8.9-4.3l-9.1 4.3z" fill="#e16c33"/><path d="M685.6 1868.7l9-2.3l-8.9-6.1l-9 2.3z" fill="#cc6717"/><path d="M702.6 1872.8l8.9-1.9l-8.8-6.5l-9 1.8z" fill="#c56c11"/><path d="M736.3 1883.6l8.9-0.9l-8.8-7.5l-8.8 0.9z" fill="#b57e09"/><path d="M803.1 1916.1l8.7 1l-8.6-9.5l-8.7-0.9z" fill="#759602"/><path d="M819.6 1926.5l8.6 1.4l-8.5-9.9l-8.7-1.4z" fill="#568f01"/><path d="M835.9 1937.8l8.6 1.8l-8.4-10.4l-8.6-1.8z" fill="#368801"/><path d="M852.2 1950l8.5 2.3l-8.4-10.9l-8.5-2.3z" fill="#178100"/><path d="M498.3 1883.3l8.9-7.7l-8.9-1.1l-8.9 7.7z" fill="#cba355"/><path d="M668.6 1865.5l9-2.7l-8.9-5.7l-9 2.8z" fill="#d3651d"/><path d="M381.3 1949.7l8.5-11.2l-8.6 2l-8.5 11.2z" fill="#5b9b49"/><path d="M397.7 1937.5l8.6-10.7l-8.6 1.5l-8.6 10.7z" fill="#71a24c"/><path d="M414.3 1926.2l8.7-10.2l-8.7 1.1l-8.7 10.2z" fill="#87a84f"/><path d="M515.2 1877.5l8.9-7.2l-8.9-1.5l-8.9 7.1z" fill="#d29c54"/><path d="M532.2 1872.5l9-6.6l-9-2l-8.9 6.6z" fill="#d99551"/><path d="M634.6 1861.9l9-3.7l-9-4.8l-9 3.8z" fill="#de672b"/><path d="M651.6 1863.3l9-3.3l-8.9-5.2l-9 3.3z" fill="#d96524"/><path d="M753.1 1890.4l8.9-0.5l-8.8-8l-8.8 0.5z" fill="#ad8907"/><path d="M769.9 1898l8.8 0.1l-8.7-8.5l-8.8 0z" fill="#a59604"/><path d="M786.5 1906.6l8.8 0.5l-8.7-8.9l-8.7-0.5z" fill="#959d03"/><path d="M292.7 2038.6l8.1-14.4l-8.3 4.1l-8.1 14.4z" fill="#3a6f83"/><path d="M308.5 2021.2l8.2-13.9l-8.3 3.7l-8.2 13.9z" fill="#3e8886"/><path d="M439.3 1915.3l8.8-9.7l-8.8 0.2l-8.7 9.7z" fill="#afbc57"/><path d="M557.8 1871l8.9-6.2l-8.9-2.8l-9 6.1z" fill="#ea914f"/><path d="M574.8 1868.3l9-5.7l-9-3.3l-9 5.7z" fill="#ea8748"/><path d="M591.9 1866.5l9-5.2l-9-3.7l-9 5.1z" fill="#e87d41"/><path d="M608.9 1865.6l9.1-4.7l-9-4.2l-9 4.7z" fill="#e67539"/><path d="M727.9 1884.6l8.9-1.3l-8.8-7.5l-8.9 1.3z" fill="#c3830c"/><path d="M860.2 1960.6l8.5 2.3l-8.3-11.3l-8.5-2.3z" fill="#068600"/><path d="M876.3 1974.2l8.4 2.8l-8.2-11.9l-8.5-2.7z" fill="#008019"/><path d="M456.1 1906.2l8.8-9.1l-8.8-0.2l-8.8 9.1z" fill="#c3c059"/><path d="M711 1879.2l8.9-1.8l-8.8-7l-8.9 1.8z" fill="#cb7a11"/><path d="M324.5 2004.7l8.3-13.4l-8.5 3.3l-8.2 13.3z" fill="#418e76"/><path d="M340.6 1989.1l8.3-12.8l-8.5 2.8l-8.3 12.8z" fill="#449465"/><path d="M356.8 1974.5l8.4-12.3l-8.5 2.4l-8.4 12.3z" fill="#489a55"/><path d="M373.1 1960.8l8.5-11.8l-8.6 2l-8.5 11.8z" fill="#52a04b"/><path d="M422.7 1925.3l8.6-10.2l-8.7 0.7l-8.7 10.2z" fill="#98b555"/><path d="M472.9 1898.1l8.9-8.7l-8.9-0.6l-8.8 8.6z" fill="#cab95b"/><path d="M489.8 1890.8l8.9-8.1l-8.9-1.1l-8.9 8.2z" fill="#d2b25b"/><path d="M540.7 1874.6l9-6.7l-9-2.4l-8.9 6.7z" fill="#e69b54"/><path d="M626 1865.6l9-4.2l-8.9-4.7l-9 4.2z" fill="#e46f31"/><path d="M677.1 1871.1l9-2.8l-8.9-6.1l-9 2.8z" fill="#da6f1c"/><path d="M694.1 1874.7l8.9-2.3l-8.8-6.5l-9 2.2z" fill="#d37316"/><path d="M744.7 1891l8.9-0.9l-8.8-8l-8.9 0.9z" fill="#bb8e09"/><path d="M794.7 1915.4l8.8 0.5l-8.6-9.4l-8.8-0.5z" fill="#8aa203"/><path d="M811.3 1925.3l8.6 1l-8.5-9.9l-8.7-1z" fill="#689b02"/><path d="M827.7 1936.2l8.6 1.4l-8.5-10.4l-8.6-1.4z" fill="#479301"/><path d="M844 1947.9l8.6 1.9l-8.4-10.9l-8.6-1.8z" fill="#268c01"/><path d="M506.7 1884.5l8.9-7.6l-8.9-1.6l-8.9 7.7z" fill="#d9ab5a"/><path d="M660.1 1868.4l9-3.3l-8.9-5.6l-9 3.2z" fill="#dd6c22"/><path d="M389.5 1948l8.6-11.2l-8.7 1.5l-8.5 11.3z" fill="#69a74f"/><path d="M406 1936.2l8.7-10.7l-8.7 1.1l-8.6 10.7z" fill="#80ae52"/><path d="M523.7 1879.1l9-7.1l-9-2l-8.9 7.1z" fill="#e1a458"/><path d="M643.1 1866.6l9-3.8l-9-5.1l-9 3.7z" fill="#e16c2a"/><path d="M761.5 1898.2l8.8-0.4l-8.7-8.5l-8.9 0.4z" fill="#b29b06"/><path d="M778.1 1906.3l8.8 0.1l-8.6-9l-8.8 0z" fill="#aaa904"/><path d="M300.6 2034.8l8.2-14.4l-8.3 3.7l-8.1 14.4z" fill="#3f818c"/><path d="M316.5 2017.8l8.3-13.9l-8.4 3.3l-8.2 13.8z" fill="#439287"/><path d="M431 1924.8l8.7-10.2l-8.7 0.3l-8.7 10.2z" fill="#a9c15b"/><path d="M447.7 1915.2l8.8-9.6l-8.8-0.2l-8.8 9.7z" fill="#c1c95e"/><path d="M549.2 1877.1l9-6.6l-9-2.9l-8.9 6.6z" fill="#ed9d54"/><path d="M566.3 1873.9l9-6.1l-9-3.3l-9 6.1z" fill="#ee934e"/><path d="M583.3 1871.7l9-5.7l-8.9-3.7l-9 5.6z" fill="#ec8847"/><path d="M600.4 1870.3l9-5.1l-9-4.3l-9 5.2z" fill="#eb803f"/><path d="M617.4 1869.9l9.1-4.7l-9-4.7l-9 4.7z" fill="#e87937"/><path d="M719.4 1886.1l8.9-1.8l-8.8-7.5l-8.9 1.8z" fill="#d28a10"/><path d="M736.2 1892l8.9-1.3l-8.7-8l-8.9 1.3z" fill="#c9940c"/><path d="M852 1958.6l8.6 1.9l-8.4-11.4l-8.5-1.9z" fill="#149101"/><path d="M868.2 1971.7l8.5 2.4l-8.3-11.9l-8.5-2.3z" fill="#008a0e"/><path d="M464.5 1906.6l8.8-9.2l-8.8-0.6l-8.8 9.2z" fill="#d0c95f"/><path d="M702.5 1881.2l8.9-2.3l-8.8-7l-9 2.2z" fill="#d98115"/><path d="M332.6 2001.7l8.3-13.4l-8.5 2.9l-8.3 13.3z" fill="#469875"/><path d="M348.7 1986.5l8.4-12.8l-8.5 2.4l-8.4 12.8z" fill="#4a9e64"/><path d="M365 1972.3l8.4-12.3l-8.5 2l-8.5 12.3z" fill="#4da553"/><path d="M381.3 1959l8.6-11.7l-8.7 1.5l-8.5 11.8z" fill="#60ac51"/><path d="M414.4 1935.3l8.6-10.7l-8.7 0.7l-8.6 10.7z" fill="#90ba58"/><path d="M481.4 1898.9l8.8-8.7l-8.9-1l-8.8 8.6z" fill="#d8c260"/><path d="M498.3 1892.1l8.9-8.2l-8.9-1.5l-8.9 8.1z" fill="#e0bb60"/><path d="M532.2 1881.2l9-7.2l-9-2.4l-8.9 7.2z" fill="#e9a75a"/><path d="M634.5 1870.3l9-4.2l-8.9-5.1l-9 4.2z" fill="#e67430"/><path d="M668.6 1873.9l8.9-3.2l-8.9-6.1l-9 3.2z" fill="#e07421"/><path d="M685.5 1877.1l9-2.7l-8.9-6.6l-8.9 2.7z" fill="#dc791a"/><path d="M753 1898.8l8.9-0.9l-8.7-8.4l-8.9 0.8z" fill="#c0a108"/><path d="M786.4 1915.1l8.8 0l-8.7-9.4l-8.7 0z" fill="#9faf04"/><path d="M803 1924.6l8.7 0.5l-8.6-9.9l-8.7-0.5z" fill="#7ca703"/><path d="M819.4 1935l8.7 1l-8.5-10.4l-8.7-1z" fill="#599f02"/><path d="M835.8 1946.3l8.6 1.5l-8.5-10.9l-8.6-1.4z" fill="#369801"/><path d="M515.2 1886.2l8.9-7.7l-8.9-1.9l-8.9 7.6z" fill="#e6b25e"/><path d="M651.5 1871.7l9-3.7l-8.9-5.6l-9 3.7z" fill="#e37328"/><path d="M397.8 1946.7l8.6-11.2l-8.7 1.1l-8.5 11.2z" fill="#78b355"/><path d="M769.7 1906.5l8.9-0.4l-8.7-9l-8.8 0.5z" fill="#b8ae06"/><path d="M308.7 2031.4l8.1-14.4l-8.3 3.3l-8.2 14.4z" fill="#449396"/><path d="M324.6 2014.8l8.3-13.9l-8.4 2.9l-8.3 13.8z" fill="#489c87"/><path d="M422.7 1934.8l8.7-10.7l-8.8 0.3l-8.6 10.7z" fill="#a1c65e"/><path d="M439.4 1924.7l8.7-10.1l-8.8-0.2l-8.7 10.2z" fill="#bace61"/><path d="M456.2 1915.6l8.7-9.7l-8.8-0.6l-8.8 9.7z" fill="#d3d664"/><path d="M540.7 1883.7l9-7.2l-9-2.8l-8.9 7.1z" fill="#f0aa5a"/><path d="M557.7 1880l9-6.6l-8.9-3.3l-9 6.6z" fill="#f19f54"/><path d="M574.8 1877.3l9-6.1l-9-3.8l-9 6.1z" fill="#f0944d"/><path d="M591.8 1875.5l9-5.7l-8.9-4.2l-9 5.7z" fill="#ef8b46"/><path d="M608.9 1874.5l9-5.1l-9-4.7l-9 5.2z" fill="#ed833e"/><path d="M625.9 1874.5l9.1-4.6l-9-5.2l-9 4.7z" fill="#eb7e36"/><path d="M710.9 1888.1l8.9-2.3l-8.8-7.5l-8.9 2.3z" fill="#db8e14"/><path d="M727.8 1893.5l8.9-1.8l-8.8-8l-8.9 1.8z" fill="#d89b0f"/><path d="M744.6 1899.8l8.9-1.3l-8.8-8.4l-8.9 1.3z" fill="#cfa70b"/><path d="M843.8 1957l8.6 1.4l-8.4-11.4l-8.6-1.4z" fill="#239c01"/><path d="M860 1969.7l8.6 1.9l-8.4-11.9l-8.5-1.8z" fill="#019501"/><path d="M473 1907.4l8.8-9.2l-8.9-1l-8.8 9.1z" fill="#ded265"/><path d="M523.7 1888.2l8.9-7.6l-8.9-2.4l-8.9 7.6z" fill="#ecb45f"/><path d="M643 1875.4l9-4.1l-8.9-5.6l-9 4.1z" fill="#e87b2e"/><path d="M694 1883.6l8.9-2.8l-8.8-7l-9 2.7z" fill="#df8419"/><path d="M340.7 1999.1l8.3-13.3l-8.4 2.4l-8.4 13.3z" fill="#4ca375"/><path d="M356.9 1984.4l8.4-12.8l-8.5 2l-8.4 12.8z" fill="#50a963"/><path d="M373.2 1970.6l8.5-12.3l-8.6 1.6l-8.5 12.2z" fill="#55b053"/><path d="M389.6 1957.7l8.6-11.7l-8.7 1.1l-8.5 11.8z" fill="#6eb757"/><path d="M406.1 1945.8l8.6-11.2l-8.7 0.7l-8.6 11.2z" fill="#87bf5b"/><path d="M489.8 1900.1l8.9-8.7l-8.9-1.5l-8.8 8.7z" fill="#e6ca65"/><path d="M506.8 1893.7l8.9-8.1l-9-2l-8.8 8.2z" fill="#e9bf63"/><path d="M660 1877.2l9-3.7l-8.9-6l-9 3.7z" fill="#e57a26"/><path d="M677 1879.9l9-3.2l-8.9-6.5l-9 3.2z" fill="#e27e1f"/><path d="M761.3 1907.1l8.9-0.9l-8.7-8.9l-8.9 0.9z" fill="#c6b508"/><path d="M778 1915.2l8.8-0.4l-8.6-9.4l-8.8 0.4z" fill="#b5bd05"/><path d="M794.6 1924.3l8.7 0.1l-8.5-9.9l-8.8-0.1z" fill="#90b404"/><path d="M811.1 1934.3l8.7 0.5l-8.5-10.4l-8.7-0.5z" fill="#6bac02"/><path d="M827.5 1945.2l8.7 0.9l-8.5-10.8l-8.6-1z" fill="#47a402"/><path d="M532.2 1890.7l9-7.6l-9-2.8l-8.9 7.6z" fill="#f2b75f"/><path d="M634.4 1879.7l9-4.7l-8.9-5.6l-9 4.7z" fill="#ed8434"/><path d="M316.7 2028.4l8.2-14.4l-8.4 2.9l-8.2 14.4z" fill="#4aa09a"/><path d="M332.7 2012.2l8.3-13.9l-8.4 2.5l-8.3 13.8z" fill="#4ea787"/><path d="M397.9 1956.8l8.6-11.7l-8.7 0.7l-8.5 11.7z" fill="#7dc35d"/><path d="M414.5 1945.3l8.6-11.2l-8.7 0.3l-8.6 11.2z" fill="#97cb61"/><path d="M431.1 1934.7l8.7-10.6l-8.8-0.2l-8.7 10.7z" fill="#b1d365"/><path d="M447.8 1925.1l8.7-10.2l-8.8-0.6l-8.7 10.2z" fill="#cbdb67"/><path d="M464.6 1916.4l8.8-9.7l-8.9-1l-8.8 9.6z" fill="#e3e269"/><path d="M515.2 1895.8l8.9-8.2l-8.9-2.3l-8.9 8.1z" fill="#eec163"/><path d="M549.2 1886.6l9-7.1l-9-3.3l-8.9 7.1z" fill="#f4ac59"/><path d="M566.2 1883.4l9-6.6l-8.9-3.8l-9 6.6z" fill="#f3a153"/><path d="M583.3 1881.1l9-6.1l-9-4.2l-9 6.1z" fill="#f2974c"/><path d="M600.3 1879.7l9-5.6l-8.9-4.7l-9 5.6z" fill="#f18e44"/><path d="M617.4 1879.2l9-5.1l-8.9-5.1l-9.1 5.1z" fill="#ef883c"/><path d="M651.5 1881l9-4.2l-9-6l-9 4.1z" fill="#eb822c"/><path d="M702.4 1890.5l8.9-2.8l-8.8-7.4l-9 2.7z" fill="#e19117"/><path d="M719.3 1895.4l8.9-2.2l-8.8-8l-8.9 2.3z" fill="#de9d12"/><path d="M736.1 1901.3l8.9-1.8l-8.7-8.4l-8.9 1.8z" fill="#daac0e"/><path d="M752.9 1908.1l8.9-1.3l-8.8-8.9l-8.8 1.3z" fill="#d4bc0a"/><path d="M769.6 1915.8l8.8-0.8l-8.6-9.4l-8.9 0.8z" fill="#cbcb07"/><path d="M835.6 1955.8l8.6 1l-8.4-11.4l-8.6-1z" fill="#33a801"/><path d="M851.9 1968.1l8.5 1.4l-8.3-11.8l-8.6-1.5z" fill="#0da001"/><path d="M481.4 1908.6l8.9-9.2l-8.9-1.4l-8.8 9.1z" fill="#e8d869"/><path d="M685.4 1886.4l9-3.2l-8.8-7l-9 3.2z" fill="#e5891d"/><path d="M348.9 1996.9l8.3-13.3l-8.5 2l-8.3 13.3z" fill="#52ad75"/><path d="M365.1 1982.6l8.4-12.8l-8.5 1.6l-8.4 12.8z" fill="#56b462"/><path d="M381.5 1969.2l8.5-12.2l-8.7 1.1l-8.4 12.3z" fill="#63bb5a"/><path d="M498.3 1901.7l8.9-8.6l-8.9-1.9l-8.9 8.6z" fill="#ebcc66"/><path d="M668.5 1883.2l9-3.6l-8.9-6.6l-9 3.7z" fill="#e88424"/><path d="M786.2 1924.4l8.8-0.3l-8.6-9.9l-8.8 0.4z" fill="#a5c105"/><path d="M802.8 1934l8.7 0.1l-8.5-10.4l-8.8-0.1z" fill="#7fb903"/><path d="M819.2 1944.4l8.7 0.6l-8.5-10.9l-8.7-0.5z" fill="#58b002"/><path d="M406.2 1956.3l8.6-11.7l-8.7 0.3l-8.6 11.7z" fill="#8ccf64"/><path d="M523.7 1898.3l8.9-8.2l-8.9-2.8l-8.9 8.1z" fill="#f4c463"/><path d="M642.9 1885.2l9-4.6l-8.9-6.1l-9 4.7z" fill="#ef8b31"/><path d="M761.2 1916.9l8.8-1.3l-8.7-9.4l-8.8 1.3z" fill="#d9d20a"/><path d="M540.7 1893.6l9-7.6l-9-3.2l-8.9 7.6z" fill="#f6b95e"/><path d="M625.9 1884.3l9-5.1l-8.9-5.6l-9.1 5.2z" fill="#f18e3a"/><path d="M324.8 2025.8l8.2-14.4l-8.4 2.5l-8.2 14.3z" fill="#4faa9a"/><path d="M340.9 2010l8.3-13.8l-8.5 2l-8.3 13.8z" fill="#53b187"/><path d="M389.7 1968.3l8.6-12.2l-8.7 0.7l-8.5 12.3z" fill="#71c760"/><path d="M422.8 1945.2l8.7-11.2l-8.8-0.1l-8.6 11.2z" fill="#a6d767"/><path d="M439.5 1935.1l8.7-10.7l-8.8-0.6l-8.7 10.7z" fill="#c1df6b"/><path d="M456.2 1925.9l8.8-10.2l-8.9-1l-8.7 10.1z" fill="#dbe76d"/><path d="M473 1917.6l8.8-9.7l-8.8-1.4l-8.8 9.6z" fill="#eae56c"/><path d="M506.8 1903.8l8.9-8.6l-8.9-2.4l-8.9 8.6z" fill="#f0ce67"/><path d="M557.7 1890l9-7.1l-9-3.8l-8.9 7.1z" fill="#f6ae58"/><path d="M574.8 1887.2l8.9-6.6l-8.9-4.2l-9 6.6z" fill="#f5a351"/><path d="M591.8 1885.3l9-6.1l-9-4.6l-9 6.1z" fill="#f49a4a"/><path d="M608.8 1884.4l9-5.6l-8.9-5.2l-9 5.7z" fill="#f39342"/><path d="M659.9 1887l9-4.2l-8.9-6.5l-9 4.2z" fill="#ed8b29"/><path d="M693.9 1893.3l8.9-3.2l-8.8-7.4l-9 3.1z" fill="#e7961c"/><path d="M710.8 1897.8l8.9-2.7l-8.8-7.9l-8.9 2.7z" fill="#e4a016"/><path d="M727.6 1903.3l8.9-2.3l-8.7-8.4l-8.9 2.2z" fill="#e0ad11"/><path d="M744.4 1909.6l8.9-1.8l-8.7-8.9l-8.9 1.8z" fill="#dcbe0d"/><path d="M777.8 1925l8.8-0.8l-8.6-9.9l-8.8 0.9z" fill="#bacf07"/><path d="M827.3 1955l8.7 0.6l-8.5-11.3l-8.6-0.6z" fill="#43b402"/><path d="M843.6 1966.9l8.6 1l-8.3-11.8l-8.6-1z" fill="#1cac01"/><path d="M489.9 1910.2l8.8-9.1l-8.9-1.9l-8.8 9.1z" fill="#edd96a"/><path d="M676.9 1889.7l9-3.7l-8.9-7l-9 3.7z" fill="#ea8f22"/><path d="M357.1 1995.2l8.3-13.3l-8.5 1.6l-8.4 13.3z" fill="#57b874"/><path d="M373.4 1981.3l8.4-12.8l-8.6 1.2l-8.4 12.7z" fill="#5cbf61"/><path d="M794.4 1934.1l8.8-0.4l-8.6-10.3l-8.7 0.4z" fill="#92c605"/><path d="M810.9 1944.1l8.7 0.1l-8.5-10.8l-8.7-0.1z" fill="#6abd03"/><path d="M398.1 1967.8l8.5-12.2l-8.7 0.3l-8.5 12.2z" fill="#7fd366"/><path d="M414.6 1956.2l8.6-11.7l-8.7-0.1l-8.6 11.7z" fill="#9adb6a"/><path d="M515.3 1906.3l8.9-8.6l-9-2.8l-8.8 8.6z" fill="#f6d167"/><path d="M532.2 1901.2l9-8.1l-9-3.3l-8.9 8.1z" fill="#f8c663"/><path d="M634.4 1889.9l9-5.1l-9-6l-9 5.1z" fill="#f49537"/><path d="M651.4 1891.2l9-4.6l-8.9-6.5l-9 4.6z" fill="#f2942f"/><path d="M752.7 1918.3l8.9-1.7l-8.7-9.4l-8.9 1.8z" fill="#ded30c"/><path d="M769.4 1926.1l8.9-1.3l-8.7-9.9l-8.8 1.3z" fill="#ccdb09"/><path d="M498.3 1912.3l8.9-9.1l-8.9-2.4l-8.8 9.1z" fill="#f2dc6b"/><path d="M549.2 1897l9-7.6l-9-3.7l-8.9 7.6z" fill="#f8bb5d"/><path d="M617.3 1889.5l9-5.6l-8.9-5.6l-9 5.6z" fill="#f59940"/><path d="M668.4 1893.5l9-4.2l-8.9-7l-9 4.2z" fill="#ef9627"/><path d="M332.9 2023.6l8.3-14.4l-8.5 2.1l-8.2 14.3z" fill="#55b59b"/><path d="M349 2008.2l8.4-13.8l-8.6 1.6l-8.3 13.8z" fill="#59bc87"/><path d="M381.6 1980.3l8.5-12.7l-8.6 0.7l-8.5 12.8z" fill="#63cb62"/><path d="M431.2 1945.6l8.7-11.2l-8.8-0.6l-8.7 11.2z" fill="#b6e36d"/><path d="M447.9 1935.9l8.7-10.7l-8.8-1l-8.7 10.7z" fill="#cee96f"/><path d="M464.6 1927.1l8.8-10.2l-8.8-1.4l-8.8 10.1z" fill="#e3ec6f"/><path d="M481.5 1919.2l8.8-9.6l-8.9-1.9l-8.8 9.6z" fill="#efe76d"/><path d="M566.2 1893.8l9-7.1l-8.9-4.2l-9 7.1z" fill="#f8b057"/><path d="M583.3 1891.4l8.9-6.6l-8.9-4.6l-9 6.6z" fill="#f7a750"/><path d="M600.3 1890l9-6.1l-9-5.1l-8.9 6.1z" fill="#f79f48"/><path d="M685.3 1896.6l9-3.7l-8.8-7.4l-9 3.7z" fill="#ec9c20"/><path d="M702.3 1900.7l8.9-3.2l-8.8-7.9l-9 3.1z" fill="#e9a41a"/><path d="M719.1 1905.6l9-2.7l-8.8-8.4l-8.9 2.7z" fill="#e6b014"/><path d="M736 1911.5l8.9-2.2l-8.8-8.9l-8.9 2.2z" fill="#e2c010"/><path d="M786.1 1934.7l8.7-0.8l-8.5-10.4l-8.8 0.9z" fill="#a6d406"/><path d="M819.1 1954.7l8.6 0.1l-8.4-11.3l-8.7-0.1z" fill="#54c103"/><path d="M835.4 1966.1l8.6 0.6l-8.4-11.8l-8.6-0.6z" fill="#2bb802"/><path d="M365.3 1993.8l8.4-13.3l-8.6 1.2l-8.4 13.3z" fill="#5dc374"/><path d="M802.6 1944.3l8.7-0.4l-8.5-10.8l-8.7 0.3z" fill="#7dca04"/><path d="M506.8 1914.8l8.9-9.1l-8.9-2.8l-8.9 9.1z" fill="#f7df6b"/><path d="M659.8 1897.7l9-4.6l-8.9-7l-9 4.6z" fill="#f49f2d"/><path d="M389.9 1979.9l8.5-12.8l-8.7 0.3l-8.5 12.8z" fill="#70d668"/><path d="M406.4 1967.7l8.5-12.2l-8.7-0.1l-8.5 12.2z" fill="#8ddf6c"/><path d="M422.9 1956.6l8.7-11.7l-8.8-0.6l-8.6 11.7z" fill="#a9e770"/><path d="M489.9 1921.3l8.9-9.6l-8.9-2.4l-8.8 9.6z" fill="#f4ea6e"/><path d="M523.8 1909.2l8.9-8.6l-9-3.2l-8.9 8.6z" fill="#fad467"/><path d="M540.7 1904.5l9-8l-9-3.8l-8.9 8.1z" fill="#fac862"/><path d="M625.8 1895.1l9-5.6l-8.9-6.1l-9 5.6z" fill="#f8a03d"/><path d="M642.8 1895.9l9-5.1l-8.9-6.5l-9 5.1z" fill="#f69e35"/><path d="M676.8 1900.4l9-4.2l-8.9-7.4l-9 4.1z" fill="#f1a325"/><path d="M744.3 1920.3l8.9-2.2l-8.7-9.4l-8.9 2.2z" fill="#e4d40f"/><path d="M761 1927.5l8.9-1.7l-8.7-9.8l-8.9 1.7z" fill="#d8e10b"/><path d="M777.7 1935.7l8.8-1.2l-8.6-10.4l-8.9 1.3z" fill="#b5dd08"/><path d="M557.7 1900.8l9-7.6l-9-4.1l-8.9 7.5z" fill="#fabd5c"/><path d="M608.8 1895.1l9-6.1l-9-5.5l-8.9 6.1z" fill="#f9a545"/><path d="M341.1 2021.8l8.3-14.3l-8.5 1.6l-8.3 14.4z" fill="#5abf9b"/><path d="M357.2 2006.9l8.4-13.8l-8.6 1.2l-8.3 13.8z" fill="#5fc787"/><path d="M373.5 1992.9l8.5-13.3l-8.7 0.8l-8.4 13.3z" fill="#63ce73"/><path d="M439.6 1946.4l8.7-11.2l-8.8-1l-8.7 11.2z" fill="#c1eb71"/><path d="M456.3 1937.1l8.7-10.7l-8.8-1.4l-8.7 10.6z" fill="#d6ee71"/><path d="M473.1 1928.7l8.8-10.1l-8.9-1.9l-8.8 10.1z" fill="#ebf170"/><path d="M574.7 1898l9-7.1l-8.9-4.6l-9 7.1z" fill="#fab455"/><path d="M591.8 1896.1l8.9-6.6l-8.9-5.1l-9 6.6z" fill="#faab4e"/><path d="M693.7 1904l9-3.7l-8.8-7.9l-9 3.6z" fill="#eeaa1e"/><path d="M710.6 1908.5l9-3.2l-8.8-8.4l-9 3.2z" fill="#ebb518"/><path d="M727.5 1913.9l8.9-2.7l-8.8-8.8l-8.9 2.6z" fill="#e8c313"/><path d="M794.2 1944.8l8.8-0.8l-8.5-10.8l-8.8 0.8z" fill="#8fd806"/><path d="M810.7 1954.9l8.7-0.4l-8.4-11.3l-8.8 0.4z" fill="#65ce04"/><path d="M827.1 1965.8l8.7 0.2l-8.4-11.9l-8.7-0.1z" fill="#3ac503"/><path d="M498.4 1923.8l8.8-9.6l-8.9-2.8l-8.8 9.6z" fill="#f9ed6e"/><path d="M668.3 1904.6l9-4.6l-8.9-7.4l-9 4.6z" fill="#f6ab2a"/><path d="M515.3 1917.7l8.9-9.1l-8.9-3.2l-8.9 9.1z" fill="#fce26b"/><path d="M651.3 1902.4l9-5.1l-8.9-7l-9 5.1z" fill="#f8a832"/><path d="M365.5 2006l8.4-13.8l-8.6 0.7l-8.4 13.8z" fill="#65d287"/><path d="M381.8 1992.4l8.4-13.3l-8.6 0.3l-8.4 13.3z" fill="#69da73"/><path d="M398.2 1979.8l8.5-12.8l-8.7-0.1l-8.5 12.8z" fill="#7ee26e"/><path d="M414.7 1968.1l8.6-12.2l-8.7-0.6l-8.6 12.3z" fill="#9aea72"/><path d="M431.3 1957.4l8.7-11.7l-8.8-1l-8.6 11.7z" fill="#b2ed73"/><path d="M481.5 1930.8l8.8-10.1l-8.8-2.4l-8.8 10.1z" fill="#f2f571"/><path d="M532.2 1912.6l9-8.6l-9-3.7l-8.9 8.6z" fill="#fcd666"/><path d="M549.2 1908.4l9-8.1l-9-4.2l-8.9 8.1z" fill="#fccb61"/><path d="M617.3 1900.7l9-6.1l-9-6l-9 6.1z" fill="#fbac43"/><path d="M634.3 1901.1l9-5.6l-8.9-6.5l-9 5.6z" fill="#faa93a"/><path d="M685.2 1907.7l9-4.1l-8.9-7.9l-8.9 4.1z" fill="#f3b123"/><path d="M735.8 1922.7l8.9-2.7l-8.7-9.4l-8.9 2.7z" fill="#ead712"/><path d="M752.6 1929.5l8.8-2.2l-8.6-9.9l-8.9 2.2z" fill="#e2e60e"/><path d="M769.3 1937.2l8.8-1.7l-8.6-10.3l-8.9 1.7z" fill="#c1e30a"/><path d="M785.9 1945.9l8.7-1.3l-8.5-10.8l-8.8 1.3z" fill="#9ddf08"/><path d="M802.4 1955.5l8.7-0.8l-8.5-11.3l-8.7 0.8z" fill="#76db06"/><path d="M566.2 1905.1l9-7.6l-9-4.6l-8.9 7.5z" fill="#fcc15b"/><path d="M600.3 1901.2l8.9-6.6l-8.9-5.5l-9 6.6z" fill="#fcb14b"/><path d="M349.2 2020.5l8.4-14.4l-8.6 1.2l-8.3 14.4z" fill="#60ca9b"/><path d="M448 1947.6l8.7-11.2l-8.8-1.4l-8.7 11.1z" fill="#c8ef73"/><path d="M464.7 1938.7l8.8-10.6l-8.9-1.9l-8.7 10.6z" fill="#ddf272"/><path d="M583.2 1902.7l9-7.1l-8.9-5.1l-9 7.1z" fill="#fcb853"/><path d="M702.1 1911.8l9-3.6l-8.8-8.4l-9 3.6z" fill="#f1ba1c"/><path d="M719 1916.8l8.9-3.2l-8.7-8.9l-9 3.2z" fill="#edc717"/><path d="M818.8 1966l8.7-0.4l-8.4-11.8l-8.7 0.4z" fill="#4ad204"/><path d="M373.7 2005.5l8.4-13.8l-8.6 0.3l-8.4 13.8z" fill="#6bdd87"/><path d="M490 1933.3l8.8-10.1l-8.9-2.8l-8.8 10.1z" fill="#f8fa71"/><path d="M506.9 1926.7l8.8-9.6l-8.9-3.2l-8.8 9.6z" fill="#fdf16e"/><path d="M659.7 1909.3l9-5.1l-8.9-7.4l-8.9 5.1z" fill="#fab430"/><path d="M676.7 1912l9-4.6l-8.9-7.9l-9 4.6z" fill="#f8b928"/><path d="M794 1956.5l8.8-1.3l-8.5-11.3l-8.8 1.3z" fill="#82e107"/><path d="M523.8 1921.1l8.9-9.1l-8.9-3.7l-8.9 9.1z" fill="#fee46a"/><path d="M642.8 1907.5l8.9-5.5l-8.9-7l-9 5.6z" fill="#fcb338"/><path d="M357.5 2019.5l8.3-14.3l-8.6 0.8l-8.3 14.3z" fill="#66d59c"/><path d="M390.1 1992.3l8.5-13.2l-8.7-0.1l-8.5 13.2z" fill="#6fe572"/><path d="M406.5 1980.1l8.6-12.7l-8.7-0.6l-8.6 12.8z" fill="#89ec73"/><path d="M423.1 1968.9l8.6-12.2l-8.8-1l-8.6 12.2z" fill="#a2ee74"/><path d="M439.7 1958.6l8.7-11.7l-8.8-1.4l-8.7 11.6z" fill="#b9f174"/><path d="M473.2 1940.8l8.7-10.7l-8.8-2.3l-8.8 10.7z" fill="#e4f673"/><path d="M540.7 1916.4l9-8.6l-9-4.2l-8.9 8.6z" fill="#fed965"/><path d="M557.7 1912.6l9-8.1l-9-4.6l-8.9 8.1z" fill="#fecf5f"/><path d="M608.7 1906.8l9-6.6l-8.9-6l-9 6.6z" fill="#feb849"/><path d="M625.8 1906.7l8.9-6.1l-8.9-6.4l-9 6z" fill="#fdb440"/><path d="M693.6 1915.6l9-4.1l-8.8-8.4l-9 4.1z" fill="#f5c121"/><path d="M727.3 1925.5l8.9-3.1l-8.7-9.4l-8.9 3.2z" fill="#efdb15"/><path d="M744.1 1931.9l8.9-2.7l-8.7-9.8l-8.9 2.7z" fill="#eaec10"/><path d="M760.8 1939.2l8.9-2.2l-8.7-10.4l-8.8 2.2z" fill="#cbe80d"/><path d="M777.5 1947.4l8.8-1.8l-8.6-10.8l-8.8 1.8z" fill="#a8e509"/><path d="M810.5 1966.6l8.7-0.8l-8.4-11.8l-8.8 0.8z" fill="#59dd05"/><path d="M574.7 1909.7l9-7.5l-9-5.1l-8.9 7.6z" fill="#fec658"/><path d="M591.7 1907.8l9-7.1l-8.9-5.5l-9 7.1z" fill="#febe51"/><path d="M456.4 1949.2l8.7-11.1l-8.8-1.9l-8.7 11.1z" fill="#cff374"/><path d="M710.5 1920.1l8.9-3.6l-8.7-8.9l-9 3.6z" fill="#f2cc1a"/><path d="M365.7 2019l8.3-14.3l-8.6 0.4l-8.3 14.3z" fill="#6ce09d"/><path d="M382 2005.4l8.4-13.8l-8.6-0.1l-8.4 13.8z" fill="#71e887"/><path d="M481.6 1943.3l8.8-10.6l-8.9-2.8l-8.7 10.6z" fill="#e9fb74"/><path d="M498.5 1936.2l8.8-10.1l-8.9-3.2l-8.8 10.1z" fill="#fdfe71"/><path d="M515.3 1930.1l8.9-9.6l-8.9-3.7l-8.9 9.6z" fill="#fff36e"/><path d="M532.3 1924.9l8.9-9.1l-9-4.1l-8.8 9.1z" fill="#ffe769"/><path d="M634.2 1913.2l9-6.1l-8.9-6.9l-9 6z" fill="#ffbe3d"/><path d="M651.2 1914.5l9-5.6l-8.9-7.4l-9 5.5z" fill="#febf35"/><path d="M668.2 1916.7l8.9-5.1l-8.8-7.9l-9 5.1z" fill="#fcc22d"/><path d="M685.1 1919.8l9-4.6l-8.9-8.4l-8.9 4.6z" fill="#fac925"/><path d="M785.6 1958l8.8-1.7l-8.5-11.3l-8.8 1.7z" fill="#8ce609"/><path d="M802.2 1967.6l8.7-1.2l-8.5-11.8l-8.8 1.2z" fill="#64e306"/><path d="M398.4 1992.7l8.5-13.3l-8.7-0.5l-8.5 13.2z" fill="#77ed74"/><path d="M414.9 1980.9l8.5-12.7l-8.7-1l-8.5 12.7z" fill="#91f075"/><path d="M431.5 1970.1l8.6-12.2l-8.8-1.4l-8.6 12.2z" fill="#a9f276"/><path d="M448.1 1960.2l8.7-11.7l-8.8-1.8l-8.7 11.6z" fill="#c0f576"/><path d="M464.8 1951.3l8.8-11.2l-8.9-2.3l-8.7 11.2z" fill="#d5f875"/><path d="M549.2 1920.6l9-8.5l-9-4.6l-8.9 8.5z" fill="#ffdd64"/><path d="M566.2 1917.3l9-8.1l-9-5l-8.9 8z" fill="#ffd35d"/><path d="M583.2 1914.9l9-7.6l-9-5.5l-8.9 7.5z" fill="#ffcb56"/><path d="M600.2 1913.4l9-7.1l-8.9-6l-9 7.1z" fill="#ffc54e"/><path d="M617.2 1912.8l9-6.5l-8.9-6.5l-9 6.6z" fill="#ffc146"/><path d="M702 1923.9l8.9-4.1l-8.8-8.9l-8.9 4.1z" fill="#f7d31f"/><path d="M718.8 1928.8l9-3.6l-8.8-9.3l-8.9 3.6z" fill="#f4e119"/><path d="M735.6 1934.7l8.9-3.1l-8.7-9.8l-8.9 3.1z" fill="#f1f114"/><path d="M752.4 1941.6l8.8-2.7l-8.6-10.3l-8.9 2.7z" fill="#d3ee0f"/><path d="M769 1949.3l8.9-2.2l-8.6-10.8l-8.9 2.2z" fill="#b1ea0c"/><path d="M373.9 2019l8.4-14.4l-8.6 0l-8.4 14.3z" fill="#72ea9d"/><path d="M390.3 2005.7l8.4-13.8l-8.6-0.5l-8.5 13.8z" fill="#74ef85"/><path d="M456.5 1962.3l8.7-11.7l-8.8-2.3l-8.7 11.7z" fill="#c5f977"/><path d="M473.3 1953.8l8.7-11.2l-8.8-2.7l-8.8 11.1z" fill="#dafc76"/><path d="M490.1 1946.2l8.8-10.6l-8.9-3.2l-8.8 10.6z" fill="#eeff74"/><path d="M506.9 1939.6l8.9-10.1l-8.9-3.7l-8.9 10.1z" fill="#feff71"/><path d="M523.8 1933.9l8.9-9.6l-8.9-4.1l-8.9 9.6z" fill="#fff66d"/><path d="M540.8 1929.2l8.9-9.1l-9-4.6l-8.9 9.1z" fill="#ffeb68"/><path d="M574.7 1922.4l8.9-8l-8.9-5.6l-8.9 8.1z" fill="#ffd95b"/><path d="M591.7 1920.5l9-7.6l-9-6l-8.9 7.6z" fill="#ffd253"/><path d="M625.7 1919.3l9-6.6l-8.9-6.9l-9 6.6z" fill="#ffcb43"/><path d="M642.7 1920.1l8.9-6l-8.8-7.5l-9 6.1z" fill="#ffca3a"/><path d="M659.6 1921.9l9-5.6l-8.9-7.9l-8.9 5.6z" fill="#ffcd32"/><path d="M676.6 1924.5l8.9-5.1l-8.8-8.3l-9 5z" fill="#fed22a"/><path d="M693.5 1928.1l8.9-4.6l-8.8-8.8l-8.9 4.6z" fill="#fcdb23"/><path d="M710.3 1932.6l9-4.1l-8.8-9.3l-8.9 4.1z" fill="#f9e71d"/><path d="M777.2 1960l8.8-2.2l-8.5-11.3l-8.8 2.2z" fill="#96ec0b"/><path d="M793.8 1969.1l8.7-1.7l-8.5-11.8l-8.7 1.7z" fill="#6fe808"/><path d="M406.7 1993.5l8.5-13.3l-8.7-1l-8.5 13.3z" fill="#7ff176"/><path d="M423.2 1982.1l8.6-12.7l-8.7-1.4l-8.6 12.7z" fill="#98f377"/><path d="M439.8 1971.7l8.7-12.2l-8.8-1.8l-8.6 12.2z" fill="#aff677"/><path d="M557.7 1925.3l8.9-8.5l-8.9-5.1l-8.9 8.6z" fill="#ffe162"/><path d="M608.7 1919.4l9-7l-9-6.5l-8.9 7.1z" fill="#ffce4b"/><path d="M727.2 1938.1l8.9-3.7l-8.8-9.8l-8.9 3.6z" fill="#f6f617"/><path d="M743.9 1944.4l8.9-3.1l-8.7-10.3l-8.9 3.1z" fill="#d9f312"/><path d="M760.6 1951.7l8.9-2.6l-8.7-10.8l-8.8 2.6z" fill="#b9ef0e"/><path d="M464.9 1964.8l8.8-11.7l-8.9-2.7l-8.7 11.6z" fill="#c9fd77"/><path d="M701.8 1936.9l9-4.6l-8.8-9.3l-9 4.5z" fill="#feef21"/><path d="M382.2 2019.3l8.4-14.3l-8.6-0.5l-8.4 14.3z" fill="#75f09b"/><path d="M398.6 2006.5l8.5-13.8l-8.7-0.9l-8.5 13.8z" fill="#76f282"/><path d="M448.2 1973.8l8.7-12.2l-8.8-2.3l-8.7 12.2z" fill="#b4fa78"/><path d="M481.7 1956.7l8.8-11.1l-8.9-3.2l-8.7 11.1z" fill="#deff76"/><path d="M498.5 1949.6l8.8-10.6l-8.8-3.7l-8.8 10.6z" fill="#efff73"/><path d="M515.4 1943.4l8.8-10.1l-8.9-4.1l-8.8 10.1z" fill="#feff70"/><path d="M532.3 1938.2l8.9-9.6l-8.9-4.6l-8.9 9.6z" fill="#fffa6b"/><path d="M549.2 1933.9l9-9.1l-9-5.1l-8.9 9.1z" fill="#fff066"/><path d="M566.2 1930.5l8.9-8.6l-8.9-5.5l-8.9 8.6z" fill="#ffe75f"/><path d="M583.2 1928l8.9-8l-8.9-6l-9 8z" fill="#ffe058"/><path d="M600.2 1926.5l8.9-7.6l-8.9-6.4l-9 7.5z" fill="#ffdb50"/><path d="M617.1 1925.9l9-7l-8.9-7l-9 7.1z" fill="#ffd848"/><path d="M634.1 1926.2l9-6.5l-8.9-7.4l-9 6.5z" fill="#ffd740"/><path d="M651.1 1927.5l9-6l-8.9-7.9l-9 6z" fill="#ffd837"/><path d="M668 1929.7l9-5.6l-8.8-8.3l-9 5.5z" fill="#ffdc2f"/><path d="M684.9 1932.8l9-5l-8.8-8.9l-9 5.1z" fill="#ffe428"/><path d="M718.7 1941.9l8.9-4.1l-8.8-9.9l-8.9 4.1z" fill="#f9fb1b"/><path d="M768.8 1962.4l8.8-2.7l-8.5-11.3l-8.9 2.7z" fill="#9df10d"/><path d="M785.4 1971.1l8.8-2.2l-8.5-11.8l-8.9 2.2z" fill="#78ed0a"/><path d="M415.1 1994.7l8.5-13.3l-8.7-1.4l-8.6 13.3z" fill="#85f577"/><path d="M431.6 1983.8l8.6-12.8l-8.8-1.8l-8.5 12.7z" fill="#9df778"/><path d="M735.4 1947.8l8.9-3.7l-8.7-10.3l-8.9 3.7z" fill="#def815"/><path d="M752.2 1954.6l8.8-3.1l-8.6-10.8l-8.9 3.1z" fill="#c0f411"/><path d="M456.7 1976.3l8.6-12.2l-8.8-2.7l-8.7 12.2z" fill="#b8fe79"/><path d="M473.4 1967.8l8.7-11.7l-8.8-3.2l-8.8 11.7z" fill="#cdff77"/><path d="M693.3 1941.6l9-5.1l-8.8-9.3l-9 5.1z" fill="#fff825"/><path d="M710.2 1946.1l8.9-4.6l-8.8-9.8l-8.9 4.6z" fill="#f9ff1f"/><path d="M390.5 2020.1l8.4-14.3l-8.6-1l-8.5 14.3z" fill="#77f498"/><path d="M406.9 2007.7l8.5-13.7l-8.7-1.4l-8.5 13.7z" fill="#78f67f"/><path d="M440 1985.8l8.6-12.7l-8.8-2.3l-8.6 12.7z" fill="#a2fb79"/><path d="M490.2 1960.1l8.7-11.1l-8.8-3.7l-8.8 11.2z" fill="#dfff75"/><path d="M507 1953.4l8.8-10.6l-8.9-4.1l-8.8 10.6z" fill="#efff72"/><path d="M523.9 1947.7l8.8-10.1l-8.9-4.6l-8.8 10.1z" fill="#feff6f"/><path d="M540.8 1942.9l8.9-9.6l-8.9-5l-8.9 9.5z" fill="#ffff6a"/><path d="M557.7 1939l8.9-9.1l-8.9-5.5l-8.9 9.1z" fill="#fff664"/><path d="M574.7 1936.1l8.9-8.6l-8.9-6l-8.9 8.6z" fill="#ffef5d"/><path d="M591.6 1934.1l9-8.1l-8.9-6.4l-9 8z" fill="#ffe955"/><path d="M608.6 1933l9-7.6l-8.9-6.9l-9 7.6z" fill="#ffe54d"/><path d="M625.6 1932.9l9-7.1l-8.9-7.4l-9 7.1z" fill="#ffe345"/><path d="M642.6 1933.6l8.9-6.5l-8.8-7.9l-9 6.6z" fill="#ffe43c"/><path d="M659.5 1935.4l9-6.1l-8.9-8.3l-9 6z" fill="#ffe834"/><path d="M676.4 1938l9-5.5l-8.8-8.9l-9 5.6z" fill="#ffee2c"/><path d="M727 1951.6l8.9-4.1l-8.7-10.3l-9 4.1z" fill="#e1fd19"/><path d="M760.4 1965.2l8.8-3.1l-8.6-11.3l-8.8 3.2z" fill="#a3f610"/><path d="M777 1973.5l8.8-2.7l-8.5-11.7l-8.9 2.6z" fill="#7ff30c"/><path d="M423.4 1996.3l8.6-13.2l-8.8-1.9l-8.5 13.3z" fill="#8af879"/><path d="M743.7 1957.9l8.9-3.6l-8.7-10.8l-8.9 3.6z" fill="#c4f914"/><path d="M448.4 1988.4l8.6-12.7l-8.8-2.8l-8.6 12.7z" fill="#a5ff7a"/><path d="M465.1 1979.3l8.7-12.2l-8.9-3.2l-8.6 12.2z" fill="#bbff79"/><path d="M481.8 1971.2l8.8-11.7l-8.9-3.7l-8.7 11.7z" fill="#ceff77"/><path d="M684.8 1946.8l9-5.6l-8.8-9.3l-9 5.6z" fill="#ffff2a"/><path d="M701.7 1950.8l8.9-5l-8.8-9.8l-8.9 5z" fill="#f8ff23"/><path d="M718.5 1955.8l8.9-4.6l-8.7-10.2l-9 4.5z" fill="#e2ff1c"/><path d="M398.8 2021.3l8.5-14.3l-8.7-1.4l-8.5 14.3z" fill="#78f795"/><path d="M415.3 2009.4l8.5-13.8l-8.8-1.8l-8.5 13.7z" fill="#79f97d"/><path d="M431.8 1998.4l8.6-13.2l-8.8-2.3l-8.6 13.2z" fill="#8ffc7a"/><path d="M498.6 1964l8.8-11.2l-8.9-4.1l-8.8 11.1z" fill="#dfff75"/><path d="M515.5 1957.7l8.8-10.6l-8.9-4.6l-8.8 10.6z" fill="#eeff71"/><path d="M532.3 1952.4l8.9-10.1l-8.9-5l-8.9 10.1z" fill="#fbff6d"/><path d="M549.3 1948.1l8.9-9.6l-9-5.5l-8.9 9.5z" fill="#ffff67"/><path d="M566.2 1944.6l8.9-9l-8.9-6l-8.9 9z" fill="#fffe61"/><path d="M583.2 1942.1l8.9-8.5l-8.9-6.5l-9 8.6z" fill="#fff85a"/><path d="M600.1 1940.6l9-8.1l-8.9-6.9l-9 8.1z" fill="#fff352"/><path d="M617.1 1940l9-7.6l-8.9-7.4l-9 7.6z" fill="#fff14a"/><path d="M634 1940.3l9-7.1l-8.9-7.9l-8.9 7.1z" fill="#fff142"/><path d="M651 1941.5l9-6.5l-8.9-8.4l-9 6.6z" fill="#fff439"/><path d="M667.9 1943.7l9-6.1l-8.9-8.8l-8.9 6z" fill="#fff931"/><path d="M735.2 1961.7l8.9-4.1l-8.6-10.7l-9 4z" fill="#c7fe17"/><path d="M751.9 1968.6l8.9-3.6l-8.6-11.3l-8.9 3.6z" fill="#a8fb12"/><path d="M768.6 1976.4l8.8-3.2l-8.6-11.7l-8.8 3.1z" fill="#85f80e"/><path d="M423.6 2011.5l8.6-13.8l-8.8-2.3l-8.5 13.8z" fill="#7afd7b"/><path d="M440.2 2000.9l8.6-13.2l-8.8-2.8l-8.6 13.3z" fill="#92ff7a"/><path d="M456.8 1991.3l8.7-12.7l-8.8-3.2l-8.7 12.7z" fill="#a8ff7a"/><path d="M473.5 1982.7l8.7-12.2l-8.8-3.6l-8.7 12.1z" fill="#bcff79"/><path d="M490.3 1975l8.7-11.7l-8.8-4.1l-8.8 11.7z" fill="#cdff77"/><path d="M557.7 1953.7l8.9-9.6l-8.9-6l-8.9 9.6z" fill="#ffff65"/><path d="M608.6 1947.5l8.9-8l-8.9-7.4l-8.9 8z" fill="#ffff4f"/><path d="M676.3 1952.5l8.9-6.1l-8.8-9.3l-8.9 6.1z" fill="#ffff2e"/><path d="M693.1 1956l9-5.5l-8.8-9.8l-8.9 5.5z" fill="#f5ff27"/><path d="M710 1960.6l8.9-5.1l-8.7-10.3l-9 5.1z" fill="#e1ff20"/><path d="M726.7 1966l9-4.6l-8.7-10.7l-9 4.5z" fill="#c8ff1a"/><path d="M743.5 1972.4l8.9-4.1l-8.7-11.3l-8.9 4.1z" fill="#aaff15"/><path d="M407.1 2023l8.5-14.3l-8.7-1.9l-8.5 14.3z" fill="#7afa93"/><path d="M507.1 1968.3l8.8-11.2l-8.9-4.6l-8.8 11.2z" fill="#ddff74"/><path d="M523.9 1962.4l8.9-10.6l-8.9-5l-8.9 10.6z" fill="#ebff70"/><path d="M540.8 1957.6l8.9-10.1l-8.9-5.5l-8.9 10.1z" fill="#f8ff6b"/><path d="M574.7 1950.7l8.9-9.1l-8.9-6.4l-8.9 9z" fill="#ffff5e"/><path d="M591.6 1948.6l9-8.5l-8.9-6.9l-9 8.5z" fill="#ffff57"/><path d="M625.5 1947.4l9-7.6l-8.9-7.8l-9 7.5z" fill="#ffff47"/><path d="M642.5 1948.1l8.9-7l-8.8-8.4l-9 7.1z" fill="#ffff3e"/><path d="M659.4 1949.8l9-6.5l-8.9-8.8l-9 6.5z" fill="#ffff36"/><path d="M760.1 1979.7l8.9-3.6l-8.6-11.8l-8.9 3.6z" fill="#89fc11"/><path d="M432 2014l8.6-13.8l-8.8-2.7l-8.6 13.8z" fill="#7dff7b"/><path d="M735 1976.7l8.9-4.6l-8.7-11.3l-8.9 4.6z" fill="#abff19"/><path d="M415.5 2025.1l8.5-14.3l-8.8-2.3l-8.4 14.3z" fill="#7bfe91"/><path d="M448.6 2003.9l8.6-13.2l-8.8-3.2l-8.6 13.2z" fill="#94ff7b"/><path d="M465.2 1994.7l8.7-12.7l-8.8-3.6l-8.7 12.7z" fill="#a9ff7a"/><path d="M481.9 1986.5l8.8-12.1l-8.9-4.1l-8.7 12.1z" fill="#bbff78"/><path d="M498.7 1979.3l8.8-11.7l-8.9-4.5l-8.8 11.6z" fill="#ccff76"/><path d="M549.3 1963.2l8.9-10.1l-8.9-5.9l-8.9 10z" fill="#f3ff68"/><path d="M566.2 1959.7l8.9-9.5l-8.9-6.5l-8.9 9.6z" fill="#fdff62"/><path d="M583.1 1957.2l9-9.1l-8.9-6.9l-9 9.1z" fill="#ffff5b"/><path d="M600.1 1955.6l8.9-8.5l-8.9-7.4l-8.9 8.5z" fill="#ffff53"/><path d="M617 1955l9-8.1l-8.9-7.8l-9 8z" fill="#ffff4b"/><path d="M667.8 1958.6l8.9-6.5l-8.8-9.3l-9 6.5z" fill="#feff33"/><path d="M684.6 1961.7l9-6l-8.8-9.8l-9 6z" fill="#f0ff2b"/><path d="M701.5 1965.8l8.9-5.6l-8.7-10.3l-9 5.6z" fill="#ddff24"/><path d="M718.3 1970.8l8.9-5.1l-8.7-10.8l-9 5.1z" fill="#c6ff1e"/><path d="M751.7 1983.5l8.8-4.1l-8.6-11.7l-8.8 4.1z" fill="#8bff14"/><path d="M515.5 1973l8.9-11.1l-8.9-5.1l-8.9 11.1z" fill="#dbff72"/><path d="M532.4 1967.6l8.8-10.6l-8.9-5.5l-8.8 10.6z" fill="#e8ff6e"/><path d="M633.9 1955.2l9-7.5l-8.9-8.3l-8.9 7.5z" fill="#ffff43"/><path d="M650.9 1956.5l8.9-7.1l-8.8-8.8l-9 7z" fill="#ffff3b"/><path d="M423.8 2027.6l8.6-14.3l-8.8-2.7l-8.5 14.3z" fill="#7bff90"/><path d="M440.4 2017l8.6-13.8l-8.8-3.2l-8.6 13.8z" fill="#7eff7b"/><path d="M574.7 1966.3l8.9-9.6l-8.9-6.9l-8.9 9.6z" fill="#f6ff5f"/><path d="M591.6 1964.2l8.9-9.1l-8.9-7.4l-8.9 9.1z" fill="#fcff58"/><path d="M726.5 1981.4l8.9-5l-8.6-11.3l-9 5.1z" fill="#aaff1c"/><path d="M743.2 1987.8l8.9-4.6l-8.6-11.7l-8.9 4.5z" fill="#8cff17"/><path d="M457 2007.3l8.6-13.2l-8.8-3.7l-8.6 13.3z" fill="#94ff7b"/><path d="M473.7 1998.6l8.6-12.7l-8.8-4.1l-8.7 12.7z" fill="#a8ff79"/><path d="M490.4 1990.8l8.7-12.1l-8.8-4.6l-8.8 12.2z" fill="#b9ff77"/><path d="M507.2 1984l8.8-11.6l-8.9-5l-8.8 11.6z" fill="#c9ff74"/><path d="M540.9 1973.3l8.8-10.7l-8.9-5.9l-8.8 10.6z" fill="#e3ff6b"/><path d="M557.7 1969.3l8.9-10.1l-8.9-6.4l-8.9 10.1z" fill="#edff66"/><path d="M608.5 1963.1l9-8.6l-8.9-7.9l-9 8.6z" fill="#ffff50"/><path d="M625.4 1962.9l9-8.1l-8.9-8.3l-8.9 8z" fill="#ffff48"/><path d="M659.3 1965.3l8.9-7.1l-8.8-9.3l-9 7.1z" fill="#f5ff38"/><path d="M676.1 1967.9l9-6.5l-8.8-9.8l-9 6.5z" fill="#e9ff30"/><path d="M693 1971.5l8.9-6.1l-8.7-10.3l-9 6.1z" fill="#d8ff29"/><path d="M709.8 1976l8.9-5.6l-8.7-10.7l-9 5.5z" fill="#c3ff22"/><path d="M524 1978.2l8.8-11.2l-8.9-5.5l-8.8 11.2z" fill="#d7ff70"/><path d="M642.4 1963.6l8.9-7.5l-8.8-8.9l-9 7.6z" fill="#fcff40"/><path d="M432.2 2030.6l8.6-14.3l-8.8-3.2l-8.5 14.3z" fill="#7cff90"/><path d="M448.8 2020.4l8.6-13.8l-8.8-3.6l-8.6 13.8z" fill="#7fff7b"/><path d="M515.6 1989.2l8.8-11.6l-8.9-5.5l-8.8 11.6z" fill="#c5ff72"/><path d="M566.2 1975.8l8.9-10.1l-8.9-6.9l-8.9 10.1z" fill="#e5ff62"/><path d="M583.1 1973.3l8.9-9.6l-8.9-7.4l-8.9 9.6z" fill="#ecff5c"/><path d="M600 1971.6l9-9l-8.9-7.9l-9 9.1z" fill="#f1ff54"/><path d="M650.7 1972.4l9-7.5l-8.8-9.3l-9 7.5z" fill="#eaff3c"/><path d="M718 1986.7l9-5.6l-8.7-11.2l-9 5.5z" fill="#a6ff20"/><path d="M734.8 1992.6l8.8-5.1l-8.6-11.7l-8.9 5z" fill="#8aff1a"/><path d="M465.4 2011.2l8.7-13.3l-8.9-4.1l-8.6 13.3z" fill="#93ff7a"/><path d="M482.1 2002.9l8.7-12.7l-8.9-4.6l-8.7 12.7z" fill="#a6ff79"/><path d="M498.8 1995.6l8.8-12.2l-8.9-5l-8.7 12.2z" fill="#b6ff76"/><path d="M532.5 1983.8l8.8-11.1l-8.9-6l-8.8 11.1z" fill="#d1ff6e"/><path d="M549.3 1979.4l8.9-10.7l-8.9-6.4l-8.9 10.6z" fill="#dcff69"/><path d="M616.9 1971l9-8.6l-8.9-8.3l-8.9 8.5z" fill="#f2ff4c"/><path d="M633.8 1971.2l9-8l-8.9-8.9l-8.9 8.1z" fill="#f0ff44"/><path d="M667.6 1974.6l9-7.1l-8.8-9.8l-9 7.1z" fill="#e0ff34"/><path d="M684.5 1977.7l8.9-6.6l-8.8-10.3l-8.9 6.6z" fill="#d1ff2d"/><path d="M701.3 1981.7l8.9-6.1l-8.7-10.7l-9 6z" fill="#beff26"/><path d="M440.6 2034l8.6-14.3l-8.8-3.6l-8.6 14.3z" fill="#7cff90"/><path d="M457.2 2024.3l8.6-13.8l-8.8-4.1l-8.6 13.8z" fill="#7eff7b"/><path d="M473.8 2015.5l8.7-13.2l-8.9-4.6l-8.6 13.2z" fill="#91ff7a"/><path d="M490.5 2007.7l8.7-12.7l-8.8-5.1l-8.7 12.7z" fill="#a2ff77"/><path d="M507.3 2000.8l8.7-12.2l-8.8-5.5l-8.8 12.2z" fill="#b1ff74"/><path d="M524.1 1994.9l8.8-11.7l-8.9-5.9l-8.8 11.6z" fill="#bfff70"/><path d="M540.9 1989.9l8.8-11.1l-8.8-6.4l-8.9 11.1z" fill="#caff6b"/><path d="M557.8 1985.9l8.8-10.6l-8.9-6.9l-8.8 10.6z" fill="#d4ff66"/><path d="M574.7 1982.8l8.9-10.1l-8.9-7.3l-8.9 10.1z" fill="#dcff5f"/><path d="M591.5 1980.7l9-9.6l-8.9-7.8l-8.9 9.6z" fill="#e1ff58"/><path d="M608.4 1979.5l9-9l-8.9-8.3l-8.9 9z" fill="#e3ff50"/><path d="M625.3 1979.3l9-8.5l-8.9-8.8l-8.9 8.5z" fill="#e2ff49"/><path d="M642.2 1980l9-8l-8.8-9.3l-9 8z" fill="#deff41"/><path d="M659.1 1981.7l9-7.5l-8.8-9.8l-9 7.5z" fill="#d5ff39"/><path d="M676 1984.3l8.9-7l-8.8-10.3l-8.9 7z" fill="#c9ff31"/><path d="M692.8 1987.9l8.9-6.6l-8.7-10.7l-9 6.5z" fill="#b7ff2a"/><path d="M709.6 1992.4l8.9-6.1l-8.7-11.2l-9 6z" fill="#a1ff23"/><path d="M726.3 1997.8l8.9-5.5l-8.7-11.8l-8.9 5.6z" fill="#87ff1d"/><path d="M449 2037.9l8.6-14.3l-8.8-4.1l-8.6 14.3z" fill="#7cff90"/><path d="M465.6 2028.6l8.6-13.8l-8.8-4.5l-8.6 13.8z" fill="#7bff7a"/><path d="M499 2012.9l8.7-12.7l-8.9-5.5l-8.7 12.7z" fill="#9dff76"/><path d="M515.7 2006.5l8.8-12.2l-8.9-6l-8.8 12.2z" fill="#abff72"/><path d="M532.5 2001l8.8-11.7l-8.9-6.4l-8.8 11.7z" fill="#b7ff6e"/><path d="M549.4 1996.5l8.8-11.2l-8.9-6.8l-8.8 11.1z" fill="#c1ff69"/><path d="M566.2 1992.9l8.9-10.6l-8.9-7.4l-8.9 10.6z" fill="#caff62"/><path d="M583.1 1990.3l8.9-10.1l-8.9-7.8l-8.9 10z" fill="#d0ff5c"/><path d="M600 1988.6l8.9-9.5l-8.9-8.4l-8.9 9.6z" fill="#d3ff54"/><path d="M616.9 1987.9l8.9-9l-8.9-8.8l-8.9 9z" fill="#d3ff4d"/><path d="M633.7 1988.2l9-8.6l-8.8-9.3l-9 8.6z" fill="#d0ff45"/><path d="M650.6 1989.3l9-8l-8.9-9.8l-8.9 8z" fill="#c9ff3d"/><path d="M667.5 1991.5l8.9-7.6l-8.8-10.2l-8.9 7.5z" fill="#beff35"/><path d="M701.1 1998.6l8.9-6.6l-8.7-11.2l-9 6.5z" fill="#9aff27"/><path d="M717.8 2003.6l8.9-6.1l-8.7-11.7l-8.9 6z" fill="#82ff21"/><path d="M482.2 2020.3l8.7-13.3l-8.8-5l-8.7 13.2z" fill="#8dff79"/><path d="M684.3 1994.6l8.9-7.1l-8.7-10.7l-9 7z" fill="#aeff2e"/><path d="M457.4 2042.3l8.6-14.4l-8.8-4.5l-8.6 14.3z" fill="#7bff92"/><path d="M474 2033.4l8.6-13.8l-8.8-5l-8.6 13.8z" fill="#79ff7c"/><path d="M490.7 2025.5l8.7-13.2l-8.9-5.5l-8.7 13.2z" fill="#88ff77"/><path d="M507.4 2018.6l8.7-12.7l-8.8-6l-8.8 12.7z" fill="#96ff74"/><path d="M524.2 2012.6l8.7-12.2l-8.8-6.4l-8.8 12.2z" fill="#a3ff70"/><path d="M541 2007.6l8.8-11.7l-8.9-6.9l-8.8 11.7z" fill="#aeff6b"/><path d="M557.8 2003.5l8.9-11.1l-8.9-7.4l-8.9 11.1z" fill="#b7ff65"/><path d="M574.6 2000.4l8.9-10.6l-8.8-7.9l-8.9 10.6z" fill="#bdff5f"/><path d="M591.5 1998.2l8.9-10l-8.9-8.4l-8.9 10.1z" fill="#c2ff58"/><path d="M608.4 1997l8.9-9.5l-8.8-8.9l-9 9.6z" fill="#c3ff51"/><path d="M625.3 1996.8l8.9-9.1l-8.8-9.3l-9 9.1z" fill="#c1ff49"/><path d="M642.1 1997.5l9-8.6l-8.9-9.8l-8.9 8.6z" fill="#bbff41"/><path d="M659 1999.1l8.9-8l-8.8-10.3l-8.9 8z" fill="#b2ff3a"/><path d="M675.8 2001.7l8.9-7.5l-8.7-10.8l-9 7.5z" fill="#a4ff32"/><path d="M692.6 2005.3l8.9-7.1l-8.7-11.2l-9 7z" fill="#92ff2b"/><path d="M709.3 2009.8l8.9-6.6l-8.6-11.7l-9 6.5z" fill="#7bff25"/><path d="M549.4 2014.6l8.8-11.6l-8.8-7.4l-8.9 11.6z" fill="#a3ff68"/><path d="M616.8 2005.9l8.9-9.6l-8.8-9.3l-9 9.6z" fill="#b1ff4d"/><path d="M465.8 2047.1l8.6-14.4l-8.8-5l-8.6 14.3z" fill="#7aff94"/><path d="M482.4 2038.6l8.7-13.7l-8.9-5.5l-8.6 13.7z" fill="#78ff7e"/><path d="M499.1 2031.2l8.7-13.3l-8.9-5.9l-8.7 13.2z" fill="#81ff75"/><path d="M515.8 2024.7l8.8-12.7l-8.9-6.4l-8.7 12.7z" fill="#8eff72"/><path d="M532.6 2019.2l8.8-12.2l-8.9-6.9l-8.8 12.2z" fill="#9aff6d"/><path d="M566.2 2011l8.9-11.1l-8.9-7.9l-8.8 11.1z" fill="#aaff62"/><path d="M583.1 2008.4l8.9-10.7l-8.9-8.3l-8.9 10.6z" fill="#afff5c"/><path d="M599.9 2006.7l8.9-10.1l-8.8-8.9l-8.9 10.1z" fill="#b1ff54"/><path d="M633.6 2006.1l9-9l-8.9-9.8l-8.9 9z" fill="#acff45"/><path d="M650.5 2007.3l8.9-8.6l-8.8-10.3l-8.9 8.6z" fill="#a4ff3e"/><path d="M667.3 2009.4l8.9-8.1l-8.7-10.7l-9 8z" fill="#98ff36"/><path d="M684.1 2012.5l8.9-7.6l-8.7-11.2l-9 7.5z" fill="#87ff2f"/><path d="M700.8 2016.5l9-7.1l-8.7-11.7l-9 7z" fill="#72ff28"/><path d="M474.2 2052.3l8.6-14.3l-8.8-5.5l-8.6 14.3z" fill="#79ff96"/><path d="M490.8 2044.3l8.7-13.7l-8.8-6l-8.7 13.8z" fill="#76ff82"/><path d="M507.5 2037.3l8.7-13.2l-8.8-6.4l-8.7 13.2z" fill="#79ff73"/><path d="M524.3 2031.3l8.7-12.7l-8.8-6.9l-8.8 12.7z" fill="#85ff6f"/><path d="M541 2026.2l8.8-12.2l-8.8-7.3l-8.8 12.1z" fill="#8eff6a"/><path d="M557.8 2022.1l8.9-11.6l-8.9-7.9l-8.8 11.7z" fill="#96ff65"/><path d="M574.7 2019l8.8-11.2l-8.9-8.3l-8.8 11.1z" fill="#9bff5f"/><path d="M591.5 2016.8l8.9-10.6l-8.9-8.9l-8.9 10.6z" fill="#9eff58"/><path d="M608.3 2015.5l8.9-10.1l-8.8-9.3l-8.9 10.1z" fill="#9fff51"/><path d="M625.2 2015.3l8.9-9.6l-8.8-9.8l-9 9.6z" fill="#9cff49"/><path d="M642 2015.9l8.9-9l-8.8-10.3l-8.9 9z" fill="#95ff42"/><path d="M658.8 2017.6l8.9-8.6l-8.7-10.8l-9 8.6z" fill="#8aff3a"/><path d="M675.6 2020.1l8.9-8l-8.7-11.3l-8.9 8.1z" fill="#7bff33"/><path d="M692.4 2023.7l8.9-7.6l-8.7-11.7l-8.9 7.5z" fill="#68ff2c"/><path d="M482.6 2058l8.6-14.3l-8.8-6l-8.6 14.3z" fill="#77ff9a"/><path d="M499.2 2050.5l8.7-13.8l-8.8-6.4l-8.7 13.8z" fill="#74ff86"/><path d="M532.7 2038.4l8.8-12.7l-8.9-7.4l-8.8 12.7z" fill="#79ff6c"/><path d="M549.5 2033.8l8.8-12.2l-8.9-7.9l-8.8 12.2z" fill="#81ff67"/><path d="M566.2 2030.1l8.9-11.7l-8.9-8.3l-8.8 11.7z" fill="#87ff61"/><path d="M599.9 2025.7l8.9-10.6l-8.9-9.3l-8.9 10.6z" fill="#8cff54"/><path d="M616.7 2024.9l8.9-10.1l-8.8-9.8l-8.9 10.1z" fill="#8aff4d"/><path d="M633.5 2025.1l9-9.6l-8.9-10.3l-8.9 9.6z" fill="#84ff46"/><path d="M667.1 2028.3l9-8.5l-8.8-11.3l-8.9 8.5z" fill="#6dff37"/><path d="M683.9 2031.4l8.9-8.1l-8.7-11.7l-8.9 8z" fill="#5bff30"/><path d="M515.9 2044l8.8-13.3l-8.9-6.9l-8.7 13.2z" fill="#71ff72"/><path d="M583.1 2027.4l8.8-11.1l-8.8-8.8l-8.9 11.1z" fill="#8bff5b"/><path d="M650.3 2026.2l9-9l-8.8-10.8l-8.9 9z" fill="#7bff3e"/><path d="M507.7 2057.1l8.7-13.8l-8.9-6.9l-8.7 13.8z" fill="#72ff8b"/><path d="M658.7 2037l8.9-9.1l-8.8-11.2l-8.9 9z" fill="#5eff3b"/><path d="M491 2064.2l8.7-14.3l-8.9-6.5l-8.6 14.3z" fill="#75ff9f"/><path d="M524.4 2051l8.7-13.2l-8.8-7.4l-8.8 13.2z" fill="#6eff79"/><path d="M541.1 2045.9l8.8-12.7l-8.9-7.9l-8.8 12.7z" fill="#6cff69"/><path d="M557.9 2041.8l8.8-12.2l-8.9-8.4l-8.8 12.2z" fill="#73ff64"/><path d="M574.7 2038.6l8.8-11.7l-8.8-8.8l-8.9 11.6z" fill="#77ff5e"/><path d="M591.5 2036.3l8.8-11.1l-8.8-9.3l-8.9 11.1z" fill="#78ff57"/><path d="M608.3 2035l8.9-10.6l-8.9-9.8l-8.9 10.6z" fill="#76ff50"/><path d="M625.1 2034.7l8.9-10.1l-8.8-10.2l-8.9 10z" fill="#72ff49"/><path d="M641.9 2035.4l8.9-9.6l-8.8-10.8l-8.9 9.6z" fill="#6aff42"/><path d="M675.4 2039.6l8.9-8.6l-8.7-11.8l-8.9 8.6z" fill="#4eff34"/><path d="M499.4 2070.8l8.7-14.3l-8.9-6.9l-8.6 14.3z" fill="#73ffa5"/><path d="M516.1 2064.2l8.7-13.8l-8.9-7.3l-8.7 13.7z" fill="#70ff92"/><path d="M532.8 2058.6l8.7-13.3l-8.8-7.8l-8.8 13.2z" fill="#6bff80"/><path d="M549.5 2053.9l8.8-12.7l-8.9-8.3l-8.7 12.7z" fill="#66ff6f"/><path d="M566.3 2050.2l8.8-12.2l-8.9-8.8l-8.8 12.2z" fill="#62ff61"/><path d="M583.1 2047.5l8.8-11.7l-8.8-9.3l-8.9 11.7z" fill="#64ff5a"/><path d="M599.8 2045.7l8.9-11.1l-8.8-9.8l-8.9 11.1z" fill="#63ff54"/><path d="M616.6 2044.9l8.9-10.6l-8.8-10.3l-8.9 10.6z" fill="#5fff4d"/><path d="M633.4 2045.1l8.9-10.1l-8.8-10.8l-8.9 10.1z" fill="#58ff46"/><path d="M650.2 2046.2l8.9-9.6l-8.8-11.3l-8.9 9.6z" fill="#4dff3e"/><path d="M666.9 2048.3l9-9.1l-8.8-11.8l-8.9 9.1z" fill="#3eff37"/><path d="M507.8 2077.9l8.7-14.3l-8.8-7.4l-8.7 14.3z" fill="#71ffac"/><path d="M524.5 2071.8l8.7-13.8l-8.8-7.9l-8.8 13.8z" fill="#6dff9a"/><path d="M574.7 2059.2l8.8-12.2l-8.8-9.3l-8.9 12.1z" fill="#5dff6b"/><path d="M591.4 2056.9l8.9-11.7l-8.8-9.8l-8.9 11.7z" fill="#57ff5f"/><path d="M641.7 2055.9l8.9-10.1l-8.7-11.3l-8.9 10.1z" fill="#42ff49"/><path d="M658.5 2057.5l8.9-9.6l-8.7-11.8l-9 9.6z" fill="#3bff48"/><path d="M541.2 2066.6l8.7-13.3l-8.8-8.3l-8.8 13.3z" fill="#68ff89"/><path d="M557.9 2062.4l8.8-12.7l-8.8-8.8l-8.8 12.7z" fill="#63ff7a"/><path d="M608.2 2055.6l8.9-11.2l-8.8-10.3l-8.9 11.2z" fill="#50ff55"/><path d="M625 2055.2l8.9-10.6l-8.8-10.8l-8.9 10.7z" fill="#49ff4d"/><path d="M516.2 2085.5l8.7-14.3l-8.8-7.9l-8.7 14.4z" fill="#6effb4"/><path d="M532.9 2079.8l8.7-13.8l-8.8-8.3l-8.8 13.8z" fill="#6affa4"/><path d="M549.6 2075.1l8.7-13.3l-8.8-8.8l-8.8 13.3z" fill="#65ff94"/><path d="M566.3 2071.4l8.8-12.8l-8.8-9.3l-8.8 12.7z" fill="#5fff86"/><path d="M583 2068.6l8.9-12.2l-8.8-9.8l-8.9 12.2z" fill="#59ff7a"/><path d="M599.8 2066.8l8.9-11.7l-8.9-10.3l-8.8 11.7z" fill="#53ff6f"/><path d="M616.6 2065.9l8.8-11.1l-8.8-10.8l-8.8 11.1z" fill="#4cff67"/><path d="M633.3 2066.1l8.9-10.7l-8.8-11.2l-8.9 10.6z" fill="#45ff62"/><path d="M650 2067.2l8.9-10.1l-8.7-11.8l-8.9 10.1z" fill="#3eff61"/><path d="M524.6 2093.6l8.7-14.4l-8.8-8.3l-8.7 14.3z" fill="#6bffbe"/><path d="M541.3 2088.4l8.7-13.9l-8.8-8.8l-8.8 13.8z" fill="#67ffaf"/><path d="M558 2084.1l8.7-13.3l-8.8-9.3l-8.8 13.3z" fill="#62ffa1"/><path d="M574.7 2080.8l8.8-12.7l-8.8-9.8l-8.8 12.7z" fill="#5cff94"/><path d="M591.4 2078.5l8.8-12.2l-8.8-10.3l-8.8 12.2z" fill="#56ff8a"/><path d="M608.1 2077.2l8.9-11.7l-8.8-10.8l-8.9 11.7z" fill="#4fff82"/><path d="M624.9 2076.8l8.9-11.2l-8.8-11.3l-8.9 11.2z" fill="#49ff7c"/><path d="M641.6 2077.4l8.9-10.7l-8.8-11.7l-8.8 10.6z" fill="#42ff7a"/><path d="M533 2102.1l8.7-14.3l-8.8-8.9l-8.7 14.4z" fill="#68ffca"/><path d="M549.7 2097.3l8.7-13.8l-8.8-9.3l-8.8 13.8z" fill="#64ffbc"/><path d="M566.3 2093.6l8.8-13.3l-8.8-9.8l-8.8 13.2z" fill="#5effb0"/><path d="M583 2090.7l8.9-12.7l-8.9-10.3l-8.8 12.7z" fill="#58ffa5"/><path d="M599.8 2088.9l8.8-12.2l-8.8-10.8l-8.8 12.2z" fill="#52ff9d"/><path d="M616.5 2088l8.8-11.7l-8.7-11.3l-8.9 11.7z" fill="#4cff97"/><path d="M633.2 2088.1l8.9-11.2l-8.8-11.7l-8.9 11.1z" fill="#45ff94"/><path d="M541.4 2111.1l8.7-14.3l-8.8-9.3l-8.7 14.3z" fill="#65ffd8"/><path d="M558 2106.8l8.8-13.8l-8.8-9.8l-8.8 13.8z" fill="#60ffcb"/><path d="M608.1 2099.8l8.8-12.3l-8.8-11.2l-8.8 12.2z" fill="#4effb2"/><path d="M624.8 2099.4l8.8-11.7l-8.7-11.8l-8.9 11.7z" fill="#48ffaf"/><path d="M574.7 2103.5l8.8-13.3l-8.8-10.3l-8.8 13.3z" fill="#5bffc0"/><path d="M591.4 2101.1l8.8-12.7l-8.8-10.8l-8.8 12.7z" fill="#55ffb8"/><path d="M549.7 2120.6l8.8-14.3l-8.8-9.9l-8.8 14.4z" fill="#62ffe7"/><path d="M566.4 2116.8l8.7-13.8l-8.8-10.3l-8.7 13.8z" fill="#5dffdc"/><path d="M583 2113.9l8.8-13.3l-8.8-10.8l-8.7 13.3z" fill="#57ffd4"/><path d="M599.7 2112l8.8-12.7l-8.7-11.3l-8.9 12.7z" fill="#51ffcd"/><path d="M616.4 2111.1l8.8-12.2l-8.7-11.8l-8.9 12.2z" fill="#4bffca"/><path d="M558.1 2130.6l8.7-14.4l-8.8-10.3l-8.7 14.4z" fill="#5ffff9"/><path d="M574.7 2127.2l8.8-13.8l-8.8-10.8l-8.8 13.8z" fill="#59fff0"/><path d="M591.4 2124.8l8.8-13.3l-8.8-11.3l-8.8 13.3z" fill="#54ffe9"/><path d="M608 2123.4l8.8-12.7l-8.7-11.8l-8.8 12.7z" fill="#4dffe5"/><path d="M583 2138.2l8.8-13.9l-8.8-11.3l-8.7 13.8z" fill="#56ffff"/><path d="M566.4 2141.1l8.8-14.4l-8.8-10.8l-8.8 14.3z" fill="#5bffff"/><path d="M599.7 2136.3l8.8-13.4l-8.8-11.8l-8.8 13.3z" fill="#50ffff"/><path d="M574.8 2152l8.7-14.4l-8.8-11.3l-8.7 14.4z" fill="#58ffff"/><path d="M591.4 2149.6l8.7-13.9l-8.7-11.8l-8.8 13.9z" fill="#52ffff"/><path d="M583.1 2163.5l8.7-14.4l-8.8-11.8l-8.7 14.3z" fill="#54efff"/></g>
<path d="M583.1 2163l-16.7-22.4l-16.7-20.4l-16.7-18.5l-16.8-16.6l-16.8-14.7l-16.8-12.8l-16.8-11l-16.8-9.1l-16.8-7.3l-16.7-5.6l-16.7-3.7l-16.6-2l-16.5-0.3l-16.5 1.4l-16.3 3.1l-16.2 4.8l-16.1 6.5l-15.9 8M586.8 2156.7l-16.6-22.4l-16.7-20.4l-16.8-18.5l-16.8-16.6l-16.8-14.6l-16.8-12.9l-16.8-10.9l-16.8-9.1l-16.8-7.3l-16.8-5.6l-16.7-3.7l-16.6-2l-16.5-0.3l-16.5 1.4l-16.3 3.2l-16.2 4.7l-16.1 6.5l-16 8M590.5 2150.5l-16.6-22.4l-16.7-20.4l-16.8-18.4l-16.7-16.6l-16.9-14.7l-16.8-12.8l-16.8-10.9l-16.9-9.1l-16.7-7.3l-16.8-5.5l-16.7-3.8l-16.6-2l-16.6-0.3l-16.5 1.5l-16.3 3.1l-16.3 4.8l-16.1 6.4l-16 8M594.3 2144.4l-16.7-22.3l-16.7-20.4l-16.7-18.5l-16.8-16.5l-16.8-14.7l-16.9-12.8l-16.8-10.9l-16.9-9.1l-16.8-7.3l-16.7-5.5l-16.7-3.7l-16.7-2l-16.6-0.3l-16.5 1.4l-16.3 3.1l-16.3 4.8l-16.1 6.4l-16 8M598 2138.4l-16.6-22.3l-16.7-20.4l-16.8-18.4l-16.8-16.6l-16.8-14.6l-16.9-12.8l-16.8-10.9l-16.9-9.1l-16.8-7.3l-16.7-5.5l-16.8-3.7l-16.6-2l-16.6-0.3l-16.5 1.4l-16.4 3.1l-16.3 4.8l-16.2 6.4l-16 8M601.8 2132.5l-16.7-22.3l-16.7-20.3l-16.7-18.5l-16.8-16.5l-16.9-14.6l-16.8-12.8l-16.9-10.9l-16.8-9.1l-16.9-7.2l-16.8-5.5l-16.7-3.8l-16.7-2l-16.6-0.2l-16.5 1.4l-16.4 3.1l-16.3 4.7l-16.2 6.4l-16.1 8M605.5 2126.8l-16.6-22.3l-16.7-20.4l-16.8-18.4l-16.8-16.5l-16.8-14.6l-16.9-12.7l-16.9-10.9l-16.8-9.1l-16.9-7.3l-16.8-5.5l-16.7-3.7l-16.7-2l-16.6-0.3l-16.6 1.4l-16.4 3.1l-16.3 4.8l-16.2 6.3l-16.1 8M609.3 2121.1l-16.7-22.3l-16.7-20.3l-16.7-18.4l-16.8-16.5l-16.9-14.6l-16.9-12.7l-16.8-10.9l-16.9-9.1l-16.9-7.3l-16.8-5.4l-16.7-3.8l-16.7-2l-16.7-0.2l-16.5 1.4l-16.5 3.1l-16.3 4.7l-16.3 6.4l-16 7.9M613 2115.5l-16.6-22.2l-16.7-20.3l-16.8-18.4l-16.8-16.5l-16.8-14.6l-16.9-12.7l-16.9-10.9l-16.9-9l-16.8-7.3l-16.9-5.5l-16.7-3.7l-16.8-2l-16.6-0.3l-16.6 1.4l-16.5 3.1l-16.3 4.7l-16.3 6.4l-16.1 8M616.8 2110.1l-16.6-22.3l-16.7-20.3l-16.8-18.3l-16.8-16.5l-16.9-14.6l-16.9-12.7l-16.9-10.8l-16.8-9.1l-16.9-7.2l-16.8-5.5l-16.8-3.7l-16.8-2l-16.6-0.3l-16.6 1.4l-16.5 3.1l-16.4 4.7l-16.3 6.3l-16.1 8M620.6 2104.7l-16.7-22.2l-16.7-20.3l-16.7-18.3l-16.9-16.5l-16.8-14.5l-16.9-12.7l-16.9-10.9l-16.9-9l-16.9-7.3l-16.8-5.5l-16.8-3.7l-16.8-2l-16.7-0.2l-16.6 1.4l-16.5 3l-16.4 4.7l-16.2 6.4l-16.2 7.9M624.4 2099.5l-16.7-22.2l-16.7-20.3l-16.8-18.3l-16.8-16.5l-16.9-14.5l-16.8-12.7l-16.9-10.9l-17-9l-16.8-7.2l-16.9-5.5l-16.8-3.7l-16.8-2l-16.7-0.3l-16.6 1.4l-16.5 3.1l-16.4 4.7l-16.3 6.3l-16.2 7.9M628.1 2094.4l-16.6-22.2l-16.7-20.3l-16.8-18.3l-16.8-16.4l-16.9-14.6l-16.9-12.7l-16.9-10.8l-16.9-9l-16.9-7.3l-16.9-5.4l-16.8-3.7l-16.8-2l-16.7-0.3l-16.6 1.4l-16.5 3.1l-16.5 4.6l-16.3 6.4l-16.2 7.9M631.9 2089.3l-16.6-22.2l-16.7-20.2l-16.8-18.3l-16.8-16.4l-16.9-14.5l-16.9-12.7l-16.9-10.8l-16.9-9.1l-16.9-7.2l-16.9-5.4l-16.9-3.8l-16.7-1.9l-16.8-0.3l-16.6 1.4l-16.6 3l-16.4 4.7l-16.4 6.3l-16.2 7.9M635.7 2084.4l-16.6-22.2l-16.7-20.2l-16.8-18.3l-16.8-16.4l-16.9-14.5l-16.9-12.7l-16.9-10.8l-17-9l-16.9-7.2l-16.9-5.5l-16.8-3.7l-16.8-2l-16.8-0.3l-16.6 1.4l-16.6 3.1l-16.5 4.7l-16.3 6.3l-16.2 7.8M639.5 2079.6l-16.6-22.2l-16.7-20.2l-16.8-18.3l-16.9-16.3l-16.8-14.5l-16.9-12.7l-17-10.8l-16.9-9l-16.9-7.2l-16.9-5.5l-16.9-3.7l-16.8-2l-16.7-0.3l-16.7 1.4l-16.6 3.1l-16.5 4.6l-16.4 6.3l-16.2 7.9M643.3 2074.8l-16.6-22.1l-16.7-20.2l-16.8-18.2l-16.9-16.4l-16.8-14.5l-17-12.6l-16.9-10.8l-16.9-9l-17-7.3l-16.9-5.4l-16.8-3.7l-16.9-2l-16.7-0.3l-16.7 1.4l-16.6 3l-16.5 4.7l-16.4 6.3l-16.3 7.8M647.1 2070.2l-16.6-22.1l-16.7-20.2l-16.8-18.2l-16.9-16.4l-16.9-14.5l-16.9-12.6l-16.9-10.8l-16.9-9l-17-7.2l-16.9-5.4l-16.9-3.7l-16.8-2l-16.8-0.3l-16.7 1.4l-16.6 3l-16.5 4.7l-16.4 6.2l-16.3 7.9M650.9 2065.7l-16.6-22.1l-16.7-20.1l-16.8-18.3l-16.9-16.3l-16.9-14.5l-16.9-12.6l-16.9-10.8l-17-9l-16.9-7.2l-16.9-5.4l-16.9-3.7l-16.9-2l-16.8-0.3l-16.7 1.3l-16.6 3.1l-16.5 4.6l-16.5 6.3l-16.3 7.8M654.7 2061.3l-16.6-22.1l-16.7-20.1l-16.8-18.2l-16.9-16.4l-16.8-14.4l-17-12.7l-16.9-10.7l-17-9l-16.9-7.2l-17-5.5l-16.9-3.7l-16.8-1.9l-16.8-0.3l-16.7 1.3l-16.7 3l-16.5 4.7l-16.5 6.2l-16.3 7.8M658.5 2057l-16.6-22.1l-16.7-20.1l-16.8-18.2l-16.9-16.3l-16.8-14.5l-17-12.6l-16.9-10.8l-17-8.9l-16.9-7.2l-17-5.5l-16.9-3.7l-16.8-2l-16.9-0.3l-16.7 1.4l-16.7 3l-16.5 4.6l-16.5 6.3l-16.3 7.8M662.3 2052.8l-16.6-22.1l-16.7-20.1l-16.8-18.2l-16.8-16.3l-16.9-14.4l-17-12.6l-16.9-10.8l-17-9l-16.9-7.1l-17-5.5l-16.9-3.7l-16.9-2l-16.8-0.3l-16.8 1.4l-16.6 3l-16.6 4.6l-16.5 6.2l-16.3 7.8M666.1 2048.7l-16.6-22l-16.7-20.1l-16.8-18.2l-16.8-16.3l-16.9-14.5l-17-12.5l-16.9-10.8l-17-9l-16.9-7.2l-17-5.4l-16.9-3.7l-16.9-2l-16.8-0.3l-16.8 1.4l-16.7 3l-16.6 4.6l-16.5 6.2l-16.4 7.7M669.9 2044.7l-16.6-22l-16.7-20.1l-16.8-18.2l-16.8-16.3l-16.9-14.4l-16.9-12.6l-17-10.7l-17-9l-16.9-7.2l-17-5.4l-16.9-3.7l-16.9-2l-16.9-0.3l-16.8 1.3l-16.7 3l-16.6 4.6l-16.5 6.2l-16.4 7.8M673.7 2040.8l-16.6-22l-16.7-20.1l-16.7-18.1l-16.9-16.3l-16.9-14.4l-16.9-12.6l-17-10.8l-17-8.9l-16.9-7.2l-17-5.4l-16.9-3.7l-17-2l-16.8-0.3l-16.8 1.3l-16.7 3l-16.6 4.6l-16.6 6.2l-16.4 7.7M677.5 2037l-16.6-22l-16.7-20l-16.7-18.2l-16.9-16.3l-16.9-14.4l-16.9-12.5l-17-10.8l-16.9-8.9l-17-7.2l-17-5.4l-17-3.7l-16.9-2l-16.8-0.3l-16.8 1.3l-16.8 3l-16.6 4.5l-16.5 6.2l-16.5 7.7M681.3 2033.3l-16.5-22l-16.7-20l-16.8-18.2l-16.8-16.2l-16.9-14.4l-17-12.6l-16.9-10.7l-17-8.9l-17-7.2l-17-5.4l-17-3.7l-16.9-2l-16.9-0.4l-16.8 1.4l-16.7 2.9l-16.7 4.6l-16.5 6.1l-16.4 7.8M685.2 2029.7l-16.6-21.9l-16.7-20.1l-16.8-18.1l-16.8-16.3l-16.9-14.3l-16.9-12.6l-17-10.7l-17-9l-17-7.1l-17-5.5l-17-3.7l-16.9-2l-16.9-0.3l-16.8 1.3l-16.7 3l-16.7 4.5l-16.6 6.2l-16.4 7.7M689 2026.2l-16.6-21.9l-16.7-20l-16.7-18.2l-16.9-16.2l-16.9-14.4l-16.9-12.5l-17-10.7l-17-9l-17-7.1l-17-5.5l-16.9-3.7l-17-2l-16.9-0.3l-16.8 1.3l-16.8 2.9l-16.7 4.6l-16.5 6.1l-16.5 7.7M692.8 2022.9l-16.6-22l-16.7-20l-16.7-18.1l-16.9-16.2l-16.8-14.4l-17-12.6l-17-10.7l-17-8.9l-17-7.2l-17-5.4l-16.9-3.7l-17-2l-16.9-0.3l-16.8 1.3l-16.8 2.9l-16.7 4.5l-16.6 6.1l-16.5 7.7M696.6 2019.6l-16.6-22l-16.6-20l-16.8-18.1l-16.8-16.2l-16.9-14.4l-17-12.5l-16.9-10.7l-17-8.9l-17-7.2l-17-5.4l-17-3.7l-17-2l-16.9-0.4l-16.8 1.3l-16.8 2.9l-16.7 4.6l-16.6 6.1l-16.5 7.6M700.4 2016.4l-16.5-21.9l-16.7-20l-16.8-18.1l-16.8-16.2l-16.9-14.4l-16.9-12.5l-17-10.7l-17-9l-17-7.1l-17-5.4l-17-3.7l-17-2.1l-16.9-0.3l-16.8 1.3l-16.8 2.9l-16.8 4.5l-16.6 6.1l-16.5 7.6M704.2 2013.3l-16.5-21.9l-16.7-20l-16.7-18.1l-16.9-16.2l-16.8-14.3l-17-12.6l-17-10.7l-17-8.9l-17-7.1l-17-5.5l-17-3.7l-16.9-2l-17-0.4l-16.9 1.3l-16.8 2.9l-16.7 4.5l-16.6 6.1l-16.5 7.6M708.1 2010.3l-16.6-21.9l-16.6-20l-16.8-18l-16.8-16.2l-16.9-14.4l-16.9-12.5l-17-10.7l-17-8.9l-17-7.2l-17.1-5.4l-17-3.7l-16.9-2l-17-0.4l-16.9 1.3l-16.8 2.9l-16.7 4.5l-16.7 6l-16.5 7.6M711.9 2007.4l-16.6-21.9l-16.6-19.9l-16.8-18.1l-16.8-16.2l-16.9-14.3l-16.9-12.5l-17-10.7l-17-8.9l-17-7.2l-17-5.4l-17-3.7l-17-2.1l-17-0.3l-16.8 1.2l-16.9 2.9l-16.7 4.5l-16.7 6l-16.5 7.6M715.7 2004.6l-16.5-21.9l-16.7-19.9l-16.7-18.1l-16.8-16.2l-16.9-14.3l-17-12.5l-16.9-10.7l-17-8.9l-17.1-7.1l-17-5.5l-17-3.7l-17-2l-16.9-0.4l-16.9 1.3l-16.9 2.8l-16.7 4.5l-16.7 6l-16.6 7.6M719.5 2001.9l-16.5-21.8l-16.7-20l-16.7-18l-16.8-16.2l-16.9-14.3l-16.9-12.5l-17-10.7l-17-8.9l-17-7.2l-17-5.4l-17.1-3.7l-17-2.1l-16.9-0.4l-16.9 1.3l-16.9 2.9l-16.7 4.4l-16.7 6l-16.6 7.6M723.3 1999.3l-16.5-21.8l-16.6-20l-16.8-18l-16.8-16.2l-16.8-14.3l-17-12.5l-16.9-10.7l-17.1-8.9l-17-7.1l-17-5.5l-17-3.7l-17-2l-17-0.4l-16.9 1.2l-16.9 2.9l-16.7 4.4l-16.7 6l-16.6 7.5M727.1 1996.8l-16.5-21.8l-16.6-19.9l-16.7-18.1l-16.8-16.1l-16.9-14.3l-16.9-12.5l-17-10.7l-17-8.9l-17-7.2l-17.1-5.4l-17-3.7l-17-2.1l-17-0.4l-16.9 1.2l-16.9 2.9l-16.8 4.4l-16.7 6l-16.6 7.5M730.9 1994.4l-16.5-21.8l-16.6-19.9l-16.7-18l-16.8-16.2l-16.8-14.3l-17-12.5l-17-10.7l-17-8.9l-17-7.1l-17-5.5l-17.1-3.7l-17-2.1l-16.9-0.4l-17 1.3l-16.8 2.8l-16.8 4.4l-16.8 5.9l-16.6 7.5M734.8 1992.1l-16.5-21.8l-16.6-19.9l-16.7-18l-16.8-16.2l-16.9-14.3l-16.9-12.4l-17-10.7l-17-8.9l-17-7.2l-17.1-5.4l-17-3.8l-17-2l-17-0.5l-16.9 1.3l-16.9 2.8l-16.8 4.4l-16.8 5.9l-16.6 7.5M738.6 1989.9l-16.5-21.8l-16.6-19.9l-16.7-18l-16.8-16.1l-16.9-14.3l-16.9-12.5l-17-10.7l-17-8.9l-17-7.2l-17-5.4l-17.1-3.8l-17-2l-17-0.4l-16.9 1.2l-16.9 2.8l-16.8 4.3l-16.8 6l-16.6 7.4M742.4 1987.8l-16.5-21.8l-16.6-19.9l-16.7-18l-16.8-16.1l-16.8-14.3l-16.9-12.5l-17-10.7l-17-8.9l-17-7.1l-17.1-5.5l-17-3.7l-17-2.1l-17-0.4l-17 1.2l-16.9 2.7l-16.8 4.4l-16.8 5.9l-16.6 7.4M746.2 1985.8l-16.5-21.8l-16.6-19.9l-16.6-18l-16.8-16.1l-16.9-14.3l-16.9-12.5l-17-10.6l-17-9l-17-7.1l-17-5.5l-17.1-3.7l-17-2.1l-17-0.4l-17 1.1l-16.9 2.8l-16.8 4.4l-16.8 5.8l-16.6 7.5M750 1983.9l-16.5-21.8l-16.5-19.9l-16.7-18l-16.8-16.1l-16.8-14.3l-16.9-12.5l-17-10.6l-17-8.9l-17-7.2l-17.1-5.5l-17-3.7l-17.1-2.1l-17-0.5l-16.9 1.2l-16.9 2.8l-16.9 4.3l-16.8 5.9l-16.6 7.4M753.8 1982.1l-16.4-21.8l-16.6-19.9l-16.7-18l-16.7-16.1l-16.9-14.3l-16.9-12.4l-17-10.7l-17-8.9l-17-7.2l-17-5.5l-17.1-3.7l-17-2.1l-17-0.5l-17 1.2l-16.9 2.7l-16.9 4.3l-16.8 5.9l-16.6 7.4M757.6 1980.4l-16.4-21.8l-16.6-19.9l-16.6-18l-16.8-16.1l-16.8-14.3l-16.9-12.4l-17-10.7l-17-8.9l-17-7.2l-17.1-5.5l-17-3.7l-17.1-2.1l-17-0.5l-17 1.1l-16.9 2.8l-16.9 4.3l-16.7 5.8l-16.7 7.3M761.4 1978.7l-16.4-21.8l-16.6-19.8l-16.6-18l-16.8-16.1l-16.8-14.3l-16.9-12.4l-17-10.7l-17-8.9l-17-7.2l-17-5.5l-17.1-3.8l-17-2.1l-17-0.5l-17 1.2l-17 2.7l-16.8 4.3l-16.8 5.8l-16.7 7.3M765.2 1977.2l-16.4-21.8l-16.6-19.8l-16.6-18l-16.7-16.1l-16.9-14.3l-16.9-12.5l-16.9-10.6l-17-8.9l-17-7.2l-17.1-5.5l-17-3.8l-17.1-2.1l-17-0.5l-17 1.1l-16.9 2.7l-16.9 4.3l-16.8 5.8l-16.7 7.3M769 1975.8l-16.4-21.8l-16.5-19.9l-16.7-17.9l-16.7-16.1l-16.8-14.3l-16.9-12.5l-17-10.7l-17-8.9l-17-7.2l-17-5.4l-17.1-3.8l-17-2.2l-17-0.5l-17 1.1l-17 2.7l-16.9 4.3l-16.8 5.8l-16.7 7.2M772.8 1974.4l-16.4-21.7l-16.5-19.9l-16.6-18l-16.8-16.1l-16.8-14.2l-16.9-12.5l-16.9-10.7l-17-8.9l-17-7.2l-17.1-5.5l-17-3.8l-17.1-2.1l-17-0.5l-17 1.1l-17 2.6l-16.8 4.3l-16.9 5.7l-16.7 7.3M776.6 1973.2l-16.4-21.8l-16.5-19.8l-16.6-18l-16.7-16.1l-16.8-14.3l-16.9-12.4l-17-10.7l-17-8.9l-17-7.2l-17-5.5l-17.1-3.8l-17-2.2l-17.1-0.5l-17 1.1l-16.9 2.6l-16.9 4.2l-16.8 5.8l-16.8 7.2M780.4 1972l-16.4-21.7l-16.5-19.9l-16.6-17.9l-16.7-16.1l-16.8-14.3l-16.9-12.5l-16.9-10.7l-17-8.9l-17-7.2l-17.1-5.5l-17-3.8l-17.1-2.2l-17-0.5l-17 1.1l-17 2.6l-16.9 4.2l-16.8 5.7l-16.8 7.2M784.1 1970.9l-16.3-21.7l-16.5-19.8l-16.6-18l-16.7-16.1l-16.8-14.3l-16.8-12.4l-17-10.7l-17-8.9l-17-7.2l-17-5.5l-17.1-3.9l-17-2.1l-17.1-0.6l-17 1.1l-16.9 2.6l-16.9 4.2l-16.9 5.6l-16.8 7.2M787.9 1970l-16.3-21.8l-16.5-19.8l-16.6-17.9l-16.7-16.1l-16.8-14.3l-16.8-12.5l-16.9-10.7l-17-8.9l-17-7.2l-17.1-5.5l-17-3.9l-17.1-2.1l-17-0.6l-17 1l-17 2.6l-16.9 4.2l-16.9 5.7l-16.7 7.1M791.7 1969.1l-16.3-21.7l-16.5-19.9l-16.6-17.9l-16.6-16.1l-16.8-14.3l-16.9-12.4l-16.9-10.7l-17-9l-17-7.2l-17-5.5l-17.1-3.9l-17-2.2l-17.1-0.5l-17 1l-17 2.6l-16.9 4.1l-16.8 5.7l-16.8 7.1M795.5 1968.3l-16.3-21.7l-16.5-19.8l-16.6-18l-16.6-16.1l-16.8-14.3l-16.8-12.4l-17-10.7l-16.9-9l-17-7.2l-17.1-5.5l-17-3.9l-17.1-2.2l-17-0.6l-17 1l-17 2.6l-16.9 4.1l-16.9 5.7l-16.8 7.1M799.2 1967.6l-16.3-21.7l-16.4-19.8l-16.6-18l-16.6-16.1l-16.8-14.2l-16.8-12.5l-16.9-10.7l-17-9l-17-7.2l-17-5.5l-17.1-3.9l-17-2.2l-17.1-0.6l-17 1l-17 2.5l-16.9 4.1l-16.9 5.6l-16.8 7.1M803 1967l-16.3-21.7l-16.4-19.8l-16.6-18l-16.6-16.1l-16.8-14.2l-16.8-12.5l-16.9-10.7l-16.9-9l-17-7.2l-17.1-5.6l-17-3.8l-17.1-2.3l-17-0.6l-17 1l-17 2.5l-17 4.1l-16.9 5.6M806.8 1966.5l-16.3-21.7l-16.4-19.8l-16.6-18l-16.6-16.1l-16.7-14.2l-16.9-12.5l-16.9-10.7l-16.9-9l-17-7.2l-17-5.6l-17.1-3.9l-17-2.2l-17.1-0.7l-17 1l-17 2.5l-16.9 4.1l-16.9 5.5M810.5 1966.1l-16.2-21.7l-16.4-19.8l-16.6-18l-16.6-16.1l-16.7-14.3l-16.8-12.4l-16.9-10.8l-17-8.9l-17-7.3l-17-5.5l-17-3.9l-17.1-2.3l-17-0.6l-17.1 0.9l-17 2.5l-16.9 4l-16.9 5.6M814.3 1965.8l-16.3-21.7l-16.4-19.8l-16.5-18l-16.6-16.1l-16.7-14.3l-16.8-12.5l-16.9-10.7l-16.9-9l-17-7.2l-17-5.6l-17.1-3.9l-17-2.3l-17.1-0.7l-17 1l-17 2.4l-17 4.1l-16.9 5.5M818 1965.6l-16.2-21.8l-16.4-19.8l-16.5-17.9l-16.6-16.1l-16.7-14.3l-16.8-12.5l-16.9-10.7l-16.9-9l-17-7.3l-17-5.6l-17.1-3.9l-17-2.3l-17-0.7l-17.1 0.9l-17 2.5l-16.9 4l-16.9 5.5M821.7 1965.4l-16.2-21.7l-16.3-19.8l-16.5-18l-16.6-16.1l-16.7-14.3l-16.8-12.5l-16.9-10.7l-16.9-9l-17-7.3l-17-5.6l-17-3.9l-17.1-2.3l-17-0.7l-17 0.9l-17 2.4l-17 4M825.5 1965.4l-16.2-21.7l-16.4-19.9l-16.4-17.9l-16.6-16.1l-16.7-14.3l-16.8-12.5l-16.8-10.8l-17-9l-16.9-7.3l-17-5.6l-17.1-3.9l-17-2.3l-17.1-0.7l-17 0.8l-17 2.4l-17 4M829.2 1965.4l-16.2-21.7l-16.3-19.8l-16.5-18l-16.5-16.1l-16.7-14.3l-16.8-12.5l-16.8-10.8l-16.9-9l-17-7.3l-17-5.6l-17-3.9l-17.1-2.4l-17-0.7l-17.1 0.8l-17 2.4l-16.9 4M832.9 1965.6l-16.1-21.8l-16.3-19.8l-16.5-18l-16.5-16.1l-16.7-14.3l-16.8-12.5l-16.8-10.8l-16.9-9l-17-7.3l-17-5.6l-17-4l-17-2.3l-17.1-0.8l-17 0.8l-17 2.4l-17 3.9M836.6 1965.8l-16.1-21.7l-16.3-19.9l-16.4-17.9l-16.6-16.2l-16.6-14.3l-16.8-12.5l-16.8-10.8l-16.9-9l-17-7.3l-17-5.7l-17-4l-17-2.3l-17.1-0.8l-17 0.8l-17 2.4M840.4 1966.1l-16.2-21.7l-16.2-19.9l-16.5-17.9l-16.5-16.2l-16.6-14.3l-16.8-12.5l-16.8-10.8l-16.9-9l-16.9-7.4l-17-5.6l-17-4l-17.1-2.4l-17-0.8l-17.1 0.8l-17 2.3M844.1 1966.5l-16.1-21.7l-16.3-19.9l-16.4-18l-16.5-16.1l-16.7-14.3l-16.7-12.5l-16.8-10.8l-16.9-9.1l-16.9-7.3l-17-5.7l-17-4l-17.1-2.4l-17-0.8l-17 0.7l-17 2.4M847.8 1967l-16.1-21.8l-16.3-19.8l-16.4-18l-16.5-16.1l-16.6-14.3l-16.7-12.6l-16.8-10.8l-16.9-9l-16.9-7.4l-17-5.7l-17-4l-17-2.4l-17.1-0.9l-17 0.8l-17 2.3M851.5 1967.6l-16.1-21.8l-16.3-19.8l-16.3-18l-16.5-16.2l-16.6-14.3l-16.7-12.5l-16.8-10.8l-16.9-9.1l-16.9-7.4l-17-5.7l-17-4l-17-2.5l-17-0.8l-17.1 0.7M855.1 1968.2l-16-21.7l-16.2-19.9l-16.4-18l-16.5-16.1l-16.6-14.4l-16.7-12.5l-16.7-10.8l-16.9-9.1l-16.9-7.4l-17-5.7l-17-4.1l-17-2.4l-17-0.9l-17 0.7M858.8 1969l-16-21.8l-16.2-19.8l-16.4-18l-16.4-16.2l-16.6-14.3l-16.7-12.6l-16.8-10.8l-16.8-9.1l-16.9-7.4l-17-5.8l-17-4l-17-2.5l-17-0.9l-17 0.7M862.5 1969.8l-16-21.7l-16.2-19.9l-16.3-18l-16.5-16.2l-16.5-14.3l-16.7-12.6l-16.8-10.8l-16.8-9.2l-16.9-7.4l-17-5.7l-17-4.1l-17-2.5l-17-0.9l-17 0.6M866.2 1970.7l-16-21.7l-16.2-19.9l-16.3-18l-16.4-16.2l-16.6-14.3l-16.7-12.6l-16.7-10.9l-16.8-9.1l-16.9-7.4l-17-5.8l-17-4.1l-17-2.5l-17-0.9M869.8 1971.8l-16-21.8l-16.1-19.9l-16.3-18l-16.4-16.2l-16.6-14.4l-16.6-12.6l-16.7-10.8l-16.9-9.2l-16.8-7.4l-17-5.8l-17-4.1l-17-2.6l-17-0.9M873.5 1972.9l-16-21.8l-16.1-19.9l-16.3-18l-16.4-16.2l-16.5-14.4l-16.7-12.6l-16.7-10.9l-16.8-9.1l-16.9-7.5l-16.9-5.8l-17-4.2l-17-2.5l-17-1M877.1 1974.1l-15.9-21.8l-16.1-19.9l-16.3-18l-16.4-16.2l-16.5-14.5l-16.6-12.6l-16.7-10.9l-16.8-9.1l-16.9-7.5l-16.9-5.8l-17-4.2l-17-2.6l-17-1M880.8 1975.3l-16-21.8l-16.1-19.8l-16.2-18.1l-16.4-16.2l-16.5-14.4l-16.6-12.7l-16.7-10.9l-16.8-9.1l-16.8-7.5l-16.9-5.9l-17-4.2l-17-2.6M884.4 1976.7l-15.9-21.8l-16.1-19.9l-16.2-18.1l-16.4-16.2l-16.5-14.4l-16.5-12.7l-16.7-10.9l-16.8-9.2l-16.9-7.5l-16.9-5.8l-16.9-4.3l-17-2.6" fill="none" stroke="#000" stroke-opacity="0.4" stroke-width="1.0"/>
<path d="M583.1 2163l16.6-27.2l16.7-25.1l16.8-23l16.8-21l16.9-18.9l17-16.9l16.9-14.9l17-12.9l17-11l16.9-9l16.9-7.2l16.8-5.3l16.8-3.4l16.6-1.7l16.6 0.2l16.5 1.9l16.3 3.7l16.2 5.4M579.3 2157.8l16.6-27.2l16.8-25.1l16.8-23l16.8-20.9l16.9-18.9l17-16.9l16.9-14.9l17-12.9l17-10.9l16.9-9.1l16.9-7.2l16.8-5.2l16.8-3.5l16.7-1.6l16.6 0.1l16.5 2l16.3 3.6l16.2 5.4M575.6 2152.7l16.6-27.2l16.7-25.1l16.8-23l16.9-20.9l16.9-18.8l16.9-16.9l17-14.9l17-12.9l17-10.9l16.9-9.1l16.9-7.1l16.9-5.3l16.7-3.4l16.8-1.7l16.6 0.2l16.5 1.9l16.3 3.7l16.3 5.4M571.8 2147.7l16.7-27.2l16.7-25l16.8-23l16.8-20.9l16.9-18.9l17-16.8l17-14.9l17-12.9l16.9-10.9l17-9l16.9-7.2l16.9-5.3l16.8-3.4l16.7-1.6l16.6 0.1l16.5 1.9l16.4 3.7l16.3 5.4M568.1 2142.8l16.6-27.2l16.7-25l16.8-23l16.9-20.9l16.9-18.8l17-16.8l16.9-14.9l17-12.9l17-10.9l17-9l16.9-7.2l16.9-5.2l16.8-3.5l16.7-1.6l16.7 0.2l16.5 1.9l16.4 3.6l16.3 5.4M564.3 2138l16.7-27.2l16.7-25l16.8-22.9l16.8-20.9l17-18.8l16.9-16.9l17-14.8l17-12.9l17-10.9l17-9l16.9-7.1l16.9-5.3l16.8-3.4l16.8-1.7l16.6 0.2l16.6 1.9l16.4 3.7l16.3 5.3M560.6 2133.2l16.6-27.1l16.7-25l16.8-22.9l16.9-20.9l16.9-18.8l17-16.8l17-14.8l17-12.9l17-10.9l16.9-9l17-7.1l16.9-5.3l16.8-3.4l16.8-1.6l16.7 0.1l16.5 1.9l16.5 3.7l16.3 5.3M556.8 2128.6l16.6-27.1l16.8-25l16.8-22.9l16.8-20.8l16.9-18.8l17-16.8l17-14.8l17-12.9l17-10.9l17-9l17-7.1l16.9-5.3l16.8-3.4l16.8-1.6l16.7 0.1l16.6 1.9l16.4 3.7l16.4 5.3M553.1 2124.1l16.6-27.1l16.7-25l16.8-22.8l16.9-20.9l16.9-18.8l17-16.7l17-14.8l17-12.9l17-10.9l17-9l17-7.1l16.9-5.2l16.8-3.5l16.8-1.6l16.7 0.2l16.6 1.9l16.5 3.6l16.3 5.3M549.3 2119.7l16.6-27.1l16.7-24.9l16.8-22.9l16.9-20.8l16.9-18.8l17-16.8l17-14.8l17-12.8l17-10.9l17.1-9l16.9-7.1l17-5.2l16.8-3.5l16.8-1.6l16.7 0.2l16.7 1.9l16.4 3.6l16.4 5.3M545.6 2115.4l16.6-27.1l16.7-24.9l16.8-22.9l16.8-20.8l17-18.8l16.9-16.7l17-14.8l17.1-12.8l17-10.9l17-9l17-7.1l16.9-5.2l16.9-3.5l16.8-1.6l16.8 0.2l16.6 1.9l16.5 3.6l16.4 5.3M541.8 2111.1l16.6-27l16.7-24.9l16.8-22.9l16.8-20.8l17-18.7l17-16.8l17-14.7l17-12.8l17-10.9l17.1-9l17-7.1l16.9-5.2l16.9-3.4l16.8-1.7l16.8 0.2l16.6 1.9l16.5 3.6l16.4 5.3M538 2107l16.6-27l16.7-24.9l16.8-22.9l16.9-20.7l16.9-18.8l17-16.7l17-14.7l17-12.8l17.1-10.9l17-9l17-7.1l17-5.2l16.9-3.4l16.8-1.7l16.8 0.2l16.6 1.9l16.6 3.6l16.4 5.3M534.3 2103l16.5-27l16.7-24.9l16.8-22.8l16.9-20.8l16.9-18.7l17-16.7l17-14.8l17.1-12.8l17-10.8l17-9l17.1-7.1l16.9-5.2l16.9-3.5l16.9-1.6l16.8 0.2l16.6 1.8l16.6 3.6l16.4 5.3M530.5 2099.1l16.6-27l16.7-24.9l16.7-22.8l16.9-20.8l16.9-18.7l17-16.7l17-14.7l17.1-12.8l17-10.9l17.1-8.9l17-7.1l17-5.3l16.9-3.4l16.9-1.6l16.7 0.1l16.7 1.9l16.6 3.6l16.4 5.3M526.7 2095.2l16.6-27l16.7-24.8l16.8-22.8l16.8-20.7l17-18.8l16.9-16.7l17.1-14.7l17-12.7l17.1-10.9l17-9l17-7l17-5.3l17-3.4l16.8-1.6l16.8 0.1l16.7 1.9l16.6 3.6l16.5 5.2M522.9 2091.5l16.6-27l16.7-24.8l16.8-22.8l16.8-20.7l17-18.7l17-16.7l17-14.7l17-12.8l17.1-10.8l17-9l17.1-7.1l17-5.2l16.9-3.4l16.9-1.6l16.8 0.1l16.7 1.9l16.6 3.5l16.5 5.3M519.2 2087.8l16.5-26.9l16.7-24.8l16.8-22.8l16.8-20.7l17-18.7l17-16.7l17-14.7l17-12.7l17.1-10.9l17.1-8.9l17-7.1l17-5.2l17-3.5l16.9-1.6l16.8 0.1l16.7 1.9l16.6 3.6l16.5 5.2M515.4 2084.3l16.5-26.9l16.7-24.9l16.8-22.7l16.8-20.7l17-18.7l17-16.7l17-14.6l17.1-12.8l17-10.8l17.1-9l17-7l17-5.3l17-3.4l16.9-1.6l16.8 0.1l16.8 1.9l16.6 3.5l16.5 5.3M511.6 2080.8l16.5-26.9l16.7-24.8l16.8-22.7l16.8-20.7l17-18.7l17-16.6l17-14.7l17.1-12.8l17-10.8l17.1-8.9l17.1-7.1l17-5.2l16.9-3.4l17-1.7l16.8 0.1l16.7 1.9l16.7 3.5l16.5 5.3M507.8 2077.5l16.6-26.9l16.6-24.8l16.8-22.7l16.9-20.7l16.9-18.7l17-16.6l17-14.7l17.1-12.7l17-10.9l17.1-8.9l17.1-7l17-5.3l17-3.4l16.9-1.6l16.9 0.1l16.7 1.8l16.7 3.6l16.5 5.2M504 2074.2l16.6-26.9l16.6-24.7l16.8-22.8l16.9-20.6l16.9-18.7l17-16.6l17-14.7l17.1-12.7l17-10.8l17.1-8.9l17.1-7.1l17-5.2l17-3.5l16.9-1.6l16.9 0.1l16.8 1.8l16.6 3.6l16.6 5.2M500.3 2071.1l16.5-26.9l16.6-24.8l16.8-22.7l16.8-20.6l17-18.7l17-16.6l17-14.7l17.1-12.7l17-10.8l17.1-8.9l17.1-7.1l17-5.2l17-3.4l17-1.7l16.8 0.1l16.8 1.8l16.7 3.6l16.6 5.2M496.5 2068l16.5-26.9l16.6-24.7l16.8-22.7l16.8-20.7l17-18.6l17-16.6l17-14.7l17.1-12.7l17-10.8l17.1-8.9l17.1-7.1l17-5.2l17.1-3.4l16.9-1.7l16.9 0.1l16.8 1.8l16.7 3.6l16.5 5.2M492.7 2065l16.5-26.8l16.6-24.8l16.8-22.7l16.8-20.6l17-18.6l16.9-16.6l17.1-14.7l17-12.7l17.1-10.8l17.1-8.9l17.1-7.1l17.1-5.2l17-3.4l16.9-1.7l16.9 0.1l16.8 1.8l16.7 3.5l16.6 5.2M488.9 2062.2l16.5-26.9l16.6-24.7l16.8-22.7l16.8-20.6l16.9-18.6l17-16.6l17.1-14.7l17-12.7l17.1-10.8l17.1-8.9l17.1-7.1l17.1-5.2l17-3.4l17-1.7l16.9 0.1l16.8 1.8l16.7 3.5l16.6 5.2M485.1 2059.4l16.5-26.9l16.6-24.7l16.8-22.7l16.8-20.6l16.9-18.6l17-16.6l17.1-14.6l17-12.7l17.1-10.8l17.1-8.9l17.1-7.1l17.1-5.2l17-3.4l17-1.7l16.9 0.1l16.8 1.8l16.7 3.5l16.6 5.1M481.3 2056.7l16.5-26.8l16.6-24.8l16.8-22.6l16.8-20.6l16.9-18.6l17-16.6l17-14.6l17.1-12.7l17.1-10.8l17.1-8.9l17.1-7.1l17.1-5.2l17-3.5l17-1.6l16.9 0.1l16.8 1.7l16.8 3.5l16.6 5.2M477.5 2054.1l16.5-26.8l16.6-24.7l16.8-22.7l16.8-20.6l16.9-18.5l17-16.6l17-14.7l17.1-12.7l17.1-10.7l17.1-9l17.1-7l17.1-5.2l17-3.5l17-1.7l16.9 0.1l16.9 1.8l16.7 3.5l16.7 5.1M473.8 2051.6l16.4-26.8l16.7-24.7l16.7-22.6l16.8-20.6l16.9-18.6l17-16.6l17-14.6l17.1-12.7l17.1-10.8l17.1-8.9l17.1-7l17.1-5.3l17-3.4l17-1.7l16.9 0.1l16.9 1.7l16.7 3.5l16.7 5.1M470 2049.2l16.5-26.8l16.6-24.7l16.7-22.6l16.8-20.6l16.9-18.6l17-16.5l17-14.7l17-12.6l17.1-10.8l17.2-8.9l17.1-7.1l17-5.2l17.1-3.5l17-1.7l16.9 0.1l16.9 1.8l16.8 3.4l16.6 5.1M466.2 2046.9l16.5-26.8l16.6-24.7l16.7-22.6l16.8-20.6l16.9-18.5l16.9-16.6l17.1-14.6l17-12.7l17.1-10.8l17.1-8.9l17.1-7.1l17.1-5.2l17.1-3.4l17-1.7l16.9 0l16.9 1.8l16.8 3.4l16.7 5.1M462.4 2044.6l16.5-26.7l16.6-24.7l16.7-22.6l16.8-20.6l16.8-18.5l17-16.6l17-14.6l17.1-12.7l17.1-10.8l17.1-8.9l17.1-7l17.1-5.3l17.1-3.4l17-1.7l16.9 0l16.9 1.8l16.8 3.4l16.7 5M458.6 2042.5l16.5-26.8l16.6-24.6l16.6-22.6l16.8-20.6l16.9-18.5l17-16.6l17-14.6l17.1-12.7l17.1-10.7l17.1-8.9l17.1-7.1l17.1-5.2l17.1-3.5l17-1.7l16.9 0l16.9 1.7l16.8 3.5l16.7 5M454.9 2040.5l16.4-26.8l16.6-24.6l16.6-22.6l16.8-20.6l16.9-18.5l17-16.6l17-14.6l17-12.6l17.1-10.8l17.2-8.9l17.1-7.1l17.1-5.2l17-3.5l17.1-1.7l16.9 0l16.9 1.7l16.9 3.4l16.7 5.1M451.1 2038.5l16.4-26.7l16.6-24.7l16.6-22.6l16.8-20.5l16.9-18.5l16.9-16.6l17.1-14.6l17-12.6l17.1-10.8l17.1-8.9l17.1-7.1l17.1-5.3l17.1-3.4l17.1-1.7l16.9 0l16.9 1.7l16.9 3.4l16.7 5M447.3 2036.7l16.4-26.8l16.6-24.6l16.6-22.6l16.8-20.5l16.9-18.5l16.9-16.6l17-14.6l17.1-12.7l17.1-10.7l17.1-8.9l17.1-7.1l17.1-5.3l17.1-3.4l17-1.8l17 0l16.9 1.7l16.9 3.4l16.7 5M443.5 2034.9l16.4-26.7l16.6-24.7l16.6-22.5l16.8-20.6l16.9-18.5l16.9-16.5l17-14.6l17.1-12.7l17.1-10.8l17.1-8.9l17.1-7l17.1-5.3l17.1-3.5l17-1.7l17 0l16.9 1.7l16.9 3.3l16.7 5M439.8 2033.2l16.3-26.7l16.6-24.6l16.6-22.6l16.8-20.5l16.8-18.5l17-16.6l17-14.5l17-12.7l17.1-10.8l17.1-8.9l17.2-7.1l17.1-5.2l17.1-3.5l17-1.8l17 0l16.9 1.7l16.9 3.3l16.7 5M436 2031.6l16.4-26.7l16.5-24.6l16.6-22.5l16.8-20.6l16.8-18.5l16.9-16.5l17-14.6l17.1-12.7l17.1-10.7l17.1-9l17.1-7l17.1-5.3l17.1-3.5l17.1-1.8l17 0l16.9 1.7l16.9 3.3l16.7 5M432.2 2030.2l16.4-26.7l16.5-24.7l16.6-22.5l16.8-20.5l16.8-18.5l16.9-16.6l17-14.6l17.1-12.6l17.1-10.8l17.1-8.9l17.1-7.1l17.1-5.3l17.1-3.5l17.1-1.7l17-0.1l16.9 1.7l16.9 3.3l16.7 4.9M428.4 2028.8l16.4-26.7l16.5-24.6l16.6-22.6l16.7-20.5l16.9-18.5l16.9-16.5l17-14.6l17-12.7l17.1-10.8l17.1-8.9l17.2-7.1l17.1-5.3l17.1-3.5l17-1.7l17-0.1l17 1.6l16.9 3.3l16.7 5M424.7 2027.4l16.3-26.6l16.5-24.6l16.6-22.6l16.7-20.5l16.9-18.5l16.9-16.5l17-14.6l17-12.7l17.1-10.8l17.1-8.9l17.1-7.1l17.1-5.3l17.1-3.5l17.1-1.8l17 0l17 1.6l16.9 3.3l16.7 4.9M420.9 2026.2l16.3-26.7l16.5-24.5l16.6-22.6l16.7-20.5l16.9-18.5l16.9-16.5l16.9-14.6l17.1-12.7l17.1-10.8l17.1-8.9l17.1-7.1l17.1-5.3l17.1-3.5l17.1-1.8l17-0.1l17 1.6l16.8 3.3l16.8 4.9M417.2 2025.1l16.3-26.7l16.4-24.6l16.6-22.5l16.7-20.5l16.8-18.5l16.9-16.5l17-14.6l17-12.7l17.1-10.8l17.1-8.9l17.2-7.1l17.1-5.3l17.1-3.5l17-1.8l17.1-0.1l16.9 1.6l16.9 3.2l16.8 4.9M413.4 2024.1l16.3-26.7l16.4-24.6l16.6-22.5l16.7-20.5l16.8-18.5l16.9-16.5l17-14.6l17-12.7l17.1-10.8l17.1-8.9l17.1-7.1l17.1-5.4l17.1-3.5l17.1-1.8l17-0.1l17 1.6l16.9 3.2l16.8 4.8M409.6 2023.1l16.3-26.7l16.5-24.5l16.5-22.6l16.7-20.5l16.8-18.5l16.9-16.5l17-14.6l17-12.6l17.1-10.8l17.1-9l17.1-7.1l17.1-5.3l17.1-3.6l17.1-1.8l17-0.1l17 1.6l16.9 3.2l16.8 4.8M405.9 2022.3l16.3-26.7l16.4-24.6l16.5-22.5l16.7-20.5l16.8-18.5l16.9-16.5l16.9-14.6l17.1-12.7l17-10.8l17.1-8.9l17.1-7.2l17.2-5.3l17.1-3.6l17-1.8l17.1-0.1l17 1.5l16.9 3.2l16.8 4.8M402.1 2021.5l16.3-26.7l16.4-24.6l16.6-22.5l16.6-20.5l16.8-18.5l16.9-16.5l16.9-14.6l17-12.7l17.1-10.8l17.1-8.9l17.1-7.1l17.1-5.4l17.1-3.6l17.1-1.8l17.1-0.1l16.9 1.5l17 3.2l16.8 4.8M398.4 2020.8l16.2-26.7l16.4-24.5l16.6-22.5l16.6-20.5l16.8-18.5l16.9-16.6l16.9-14.6l17-12.6l17.1-10.8l17.1-9l17.1-7.1l17.1-5.4l17.1-3.6l17.1-1.8l17-0.2l17 1.5l16.9 3.2l16.9 4.8M394.6 2020.2l16.3-26.6l16.4-24.6l16.5-22.5l16.6-20.5l16.8-18.5l16.8-16.6l17-14.5l17-12.7l17-10.8l17.1-9l17.1-7.2l17.1-5.3l17.2-3.6l17-1.9l17.1-0.1l17 1.5l16.9 3.1l16.9 4.7M390.9 2019.7l16.2-26.6l16.4-24.6l16.5-22.5l16.6-20.5l16.8-18.5l16.8-16.6l17-14.6l17-12.6l17-10.9l17.1-8.9l17.1-7.2l17.1-5.4l17.1-3.6l17.1-1.8l17.1-0.2l17 1.5l16.9 3.1l16.8 4.7M387.2 2019.3l16.2-26.7l16.3-24.5l16.5-22.5l16.7-20.5l16.7-18.5l16.8-16.6l16.9-14.6l17-12.7l17.1-10.8l17.1-9l17.1-7.1l17.1-5.4l17.1-3.6l17.1-1.9l17-0.2l17 1.4l17 3.1l16.8 4.7M383.4 2019l16.2-26.7l16.4-24.6l16.5-22.5l16.6-20.5l16.7-18.5l16.8-16.5l16.9-14.6l17-12.7l17-10.8l17.1-9l17.1-7.2l17.1-5.4l17.1-3.6l17.1-1.9l17.1-0.2l17 1.4l16.9 3.1l16.9 4.7M379.7 2018.7l16.2-26.6l16.3-24.6l16.5-22.5l16.6-20.5l16.7-18.5l16.8-16.6l16.9-14.6l17-12.7l17-10.8l17.1-9l17.1-7.2l17.1-5.4l17.1-3.6l17.1-1.9l17.1-0.3l17 1.4l16.9 3.1l16.9 4.7M376 2018.6l16.1-26.7l16.4-24.6l16.4-22.5l16.6-20.5l16.7-18.5l16.8-16.5l16.9-14.6l17-12.7l17-10.9l17.1-9l17.1-7.2l17.1-5.4l17.1-3.6l17.1-2l17-0.2l17 1.4l17 3l16.8 4.7M372.3 2018.5l16.1-26.7l16.3-24.5l16.4-22.5l16.6-20.5l16.7-18.5l16.8-16.6l16.9-14.6l17-12.7l17-10.9l17-9l17.1-7.2l17.1-5.4l17.1-3.7l17.1-1.9l17.1-0.3l17 1.4l16.9 3l16.9 4.6M368.6 2018.5l16.1-26.6l16.3-24.6l16.4-22.5l16.6-20.5l16.6-18.5l16.8-16.6l16.9-14.6l16.9-12.7l17.1-10.9l17-9l17.1-7.2l17.1-5.5l17.1-3.7l17.1-1.9l17-0.3l17.1 1.4l16.9 3M364.9 2018.6l16.1-26.6l16.2-24.6l16.4-22.5l16.6-20.5l16.7-18.5l16.7-16.6l16.9-14.6l16.9-12.8l17-10.8l17.1-9.1l17.1-7.2l17.1-5.4l17.1-3.7l17.1-2l17-0.3l17 1.3l17 3M361.1 2018.8l16.1-26.6l16.3-24.6l16.4-22.5l16.5-20.5l16.7-18.6l16.7-16.5l16.9-14.7l16.9-12.7l17-10.9l17.1-9l17-7.3l17.1-5.4l17.1-3.7l17.1-2l17.1-0.4l17 1.4l17 2.9M357.4 2019.1l16.1-26.7l16.2-24.5l16.4-22.6l16.6-20.5l16.6-18.5l16.8-16.6l16.8-14.6l16.9-12.8l17-10.8l17.1-9.1l17-7.2l17.1-5.5l17.1-3.8l17.1-2l17-0.3l17.1 1.3l16.9 2.9M353.8 2019.5l16-26.7l16.2-24.6l16.4-22.5l16.5-20.5l16.6-18.6l16.8-16.5l16.8-14.7l16.9-12.7l17-10.9l17-9.1l17.1-7.3l17.1-5.4l17.1-3.8l17.1-2l17-0.4l17 1.3l17 2.9M350.1 2019.9l16-26.6l16.2-24.6l16.3-22.6l16.5-20.5l16.7-18.5l16.7-16.6l16.8-14.7l16.9-12.7l17-10.9l17-9.1l17.1-7.3l17.1-5.5l17.1-3.8l17-2l17.1-0.4l17 1.3M346.4 2020.5l16-26.7l16.2-24.6l16.3-22.5l16.5-20.6l16.6-18.5l16.7-16.6l16.8-14.7l16.9-12.7l17-11l17-9l17.1-7.3l17-5.6l17.1-3.7l17.1-2.1l17.1-0.4l17 1.2M342.7 2021.1l16-26.7l16.2-24.6l16.3-22.5l16.4-20.6l16.6-18.5l16.7-16.6l16.8-14.7l16.9-12.8l17-10.9l17-9.1l17-7.3l17.1-5.5l17.1-3.8l17.1-2.1l17-0.5l17 1.3M339 2021.8l16-26.7l16.1-24.6l16.4-22.5l16.4-20.6l16.6-18.5l16.7-16.6l16.8-14.7l16.8-12.8l17-11l17-9.1l17-7.3l17.1-5.5l17.1-3.9l17.1-2.1l17-0.4l17 1.2M335.4 2022.6l15.9-26.7l16.1-24.6l16.3-22.6l16.5-20.5l16.5-18.6l16.7-16.6l16.8-14.7l16.9-12.8l16.9-10.9l17-9.2l17-7.3l17.1-5.6l17.1-3.8l17-2.1l17.1-0.5l17 1.2M331.7 2023.4l15.9-26.6l16.1-24.6l16.3-22.6l16.4-20.6l16.6-18.5l16.7-16.7l16.7-14.7l16.9-12.8l16.9-11l17-9.1l17-7.3l17.1-5.6l17-3.9l17.1-2.1l17.1-0.5M328 2024.4l16-26.7l16-24.6l16.3-22.6l16.4-20.5l16.5-18.6l16.7-16.6l16.8-14.8l16.8-12.8l16.9-11l17-9.1l17-7.4l17.1-5.6l17-3.9l17.1-2.1l17-0.5M324.4 2025.5l15.9-26.7l16.1-24.7l16.2-22.5l16.4-20.6l16.5-18.6l16.6-16.7l16.8-14.7l16.8-12.8l16.9-11l17-9.2l17-7.4l17.1-5.6l17-3.9l17.1-2.2l17-0.5M320.7 2026.6l15.9-26.7l16.1-24.7l16.2-22.5l16.4-20.6l16.5-18.6l16.6-16.7l16.7-14.7l16.9-12.9l16.9-11l16.9-9.2l17-7.4l17.1-5.6l17-3.9l17.1-2.2l17-0.6M317.1 2027.8l15.9-26.7l16-24.7l16.2-22.6l16.4-20.5l16.4-18.7l16.7-16.6l16.7-14.8l16.8-12.8l16.9-11.1l16.9-9.2l17-7.4l17.1-5.6l17-4l17-2.2M313.5 2029.1l15.8-26.7l16-24.7l16.2-22.6l16.4-20.6l16.4-18.6l16.6-16.7l16.7-14.8l16.8-12.8l16.9-11.1l16.9-9.2l17-7.4l17.1-5.7l17-4l17-2.2M309.9 2030.5l15.8-26.8l16-24.6l16.1-22.6l16.4-20.6l16.4-18.7l16.6-16.7l16.7-14.7l16.8-12.9l16.8-11.1l17-9.2l16.9-7.5l17.1-5.7l17-4l17-2.2M306.2 2031.9l15.8-26.7l16-24.7l16.2-22.6l16.3-20.6l16.4-18.7l16.6-16.7l16.6-14.8l16.8-12.9l16.9-11l16.9-9.3l17-7.5l17-5.7l17-4l17-2.3M302.6 2033.5l15.8-26.8l16-24.7l16.1-22.6l16.3-20.6l16.4-18.7l16.5-16.7l16.7-14.8l16.8-12.9l16.8-11.1l16.9-9.3l17-7.5l17-5.7l17-4l17-2.4M299 2035.1l15.8-26.8l15.9-24.7l16.1-22.6l16.3-20.6l16.4-18.7l16.5-16.7l16.7-14.9l16.7-12.9l16.9-11.1l16.9-9.3l16.9-7.5l17-5.8l17-4M295.4 2036.8l15.8-26.8l15.9-24.7l16.1-22.6l16.2-20.7l16.4-18.7l16.5-16.7l16.7-14.9l16.7-12.9l16.8-11.1l16.9-9.3l16.9-7.6l17-5.8l17-4M291.9 2038.6l15.7-26.8l15.9-24.7l16-22.7l16.2-20.6l16.4-18.7l16.5-16.8l16.6-14.9l16.8-12.9l16.8-11.2l16.8-9.3l17-7.6l16.9-5.8l17-4M288.3 2040.5l15.7-26.8l15.8-24.8l16.1-22.6l16.2-20.7l16.3-18.7l16.5-16.8l16.6-14.9l16.7-13l16.8-11.1l16.9-9.4l16.9-7.6l17-5.8l17-4.1M284.7 2042.4l15.7-26.8l15.8-24.7l16-22.7l16.2-20.7l16.4-18.8l16.4-16.7l16.6-14.9l16.7-13l16.8-11.2l16.8-9.4l17-7.6l16.9-5.8l17-4.2" fill="none" stroke="#000" stroke-opacity="0.4" stroke-width="1.0"/>
<g fill="#0a0a0a"><circle cx="273.8" cy="1803.5" r="2.4"/><circle cx="276.1" cy="1854.1" r="2.4"/><circle cx="278.4" cy="1904.8" r="2.4"/><circle cx="280.7" cy="1955.4" r="2.4"/><circle cx="283.1" cy="2006.1" r="2.4"/><circle cx="285.4" cy="2056.7" r="2.4"/><circle cx="287.7" cy="2107.4" r="2.4"/><circle cx="292" cy="2202.1" r="2.4"/><circle cx="583.1" cy="2340.3" r="2.2"/><circle cx="510.3" cy="2305.8" r="2.2"/><circle cx="437.6" cy="2271.2" r="2.2"/><circle cx="364.8" cy="2236.6" r="2.2"/><circle cx="655.7" cy="2305.6" r="2.2"/><circle cx="728.2" cy="2270.9" r="2.2"/><circle cx="800.8" cy="2236.3" r="2.2"/><circle cx="873.4" cy="2201.6" r="2.2"/></g>
<text transform="translate(241.4 1798.1) scale(1 1.06)" y="10.8" font-size="32">8.0</text>
<text transform="translate(241.4 1906.8) scale(1 1.06)" y="10.8" font-size="32">7.0</text>
<text transform="translate(238.4 2016.7) scale(1 1.06)" y="10.8" font-size="32">6.0</text>
<text transform="translate(242 2123) scale(1 1.06)" y="10.8" font-size="32">5.0</text>
<text transform="translate(159.3 2032.1) rotate(-90) scale(1 1.06)" y="10.3" font-size="30.4">TPEU yield (%)</text>
<text transform="translate(272 2235.8) scale(1 1.06)" y="10.8" font-size="32" style="text-anchor:end">1.00</text>
<text transform="translate(312.3 2265.1) scale(1 1.06)" y="10.8" font-size="32">0.50</text>
<text transform="translate(405.1 2301.8) scale(1 1.06)" y="10.8" font-size="32">0.00</text>
<text transform="translate(477.1 2329.8) scale(1 1.06)" y="10.8" font-size="32">-0.50</text>
<text transform="translate(535.7 2365.3) scale(1 1.06)" y="10.8" font-size="32">-1.00</text>
<text transform="translate(329.4 2329.8) scale(1 1.06)" y="10.8" font-size="32">C:C</text>
<text transform="translate(626.2 2361.6) scale(1 1.06)" y="10.8" font-size="32">-1.00</text>
<text transform="translate(705.1 2329.8) scale(1 1.06)" y="10.8" font-size="32">-0.50</text>
<text transform="translate(768.6 2299.3) scale(1 1.06)" y="10.8" font-size="32">0.00</text>
<text transform="translate(839.9 2260.2) scale(1 1.06)" y="10.8" font-size="32">0.50</text>
<text transform="translate(824 2323.7) scale(1 1.06)" y="10.8" font-size="32">A:A</text>
<text x="630" y="2496" font-size="54" style="fill:#000;stroke:none">e</text>
<text x="281" y="2213" font-size="7" class="s">1.00</text>
<text x="886" y="2213" font-size="7" class="s">1.00</text></g>
<g id="pf"><rect x="1178" y="1772.6" width="572" height="536.7" fill="url(#gf)"/>
<g clip-path="url(#cf)" fill="none" stroke="#203800" stroke-opacity=".55" stroke-width="1.4">
<path d="M1329.2 2295L1318.7 2287.4L1308.5 2279.3L1298.7 2270.8L1289.3 2261.9L1280.3 2252.6L1271.7 2243L1263.5 2233L1255.8 2222.7L1248.5 2212L1241.7 2201L1235.4 2189.8L1229.6 2178.3L1224.2 2166.5L1219.4 2154.5L1215.1 2142.2L1211.3 2129.8L1208 2117.2L1205.3 2104.4L1203.1 2091.5L1201.4 2078.5L1200.3 2065.3L1199.7 2052.1L1199.6 2038.9L1200.1 2025.5L1201.2 2012.2L1202.7 1998.9L1204.9 1985.6L1207.5 1972.3L1210.7 1959.1L1214.4 1946L1218.6 1933L1223.4 1920.1L1228.6 1907.4L1234.3 1894.8L1240.6 1882.4L1247.3 1870.2L1254.5 1858.2L1262.1 1846.5L1270.2 1835L1278.7 1823.8L1287.6 1812.9L1297 1802.3L1306.7 1792L1316.8 1782.1L1327.3 1772.5L1338.2 1763.3L1349.3 1754.5L1360.8 1746.1M1775.7 2254.4L1764.9 2263.6L1753.8 2272.4L1742.3 2280.8L1730.5 2288.8L1718.5 2296.4L1706.2 2303.6L1693.7 2310.3L1680.9 2316.5L1668 2322.3L1654.9 2327.6L1641.6 2332.4L1628.1 2336.7L1614.6 2340.5M1424.4 2339.9L1411.6 2335.9L1399 2331.5L1386.7 2326.6L1374.6 2321.2L1362.8 2315.4L1351.3 2309.1L1340.1 2302.3L1329.2 2295"/>
<path d="M1387.4 2221.3L1379.6 2215.6L1372.1 2209.7L1364.9 2203.4L1357.9 2196.8L1351.3 2190L1344.9 2182.9L1338.9 2175.5L1333.2 2167.9L1327.9 2160L1322.9 2151.9L1318.2 2143.6L1313.9 2135.1L1309.9 2126.4L1306.4 2117.5L1303.2 2108.5L1300.4 2099.3L1298 2090L1296 2080.6L1294.3 2071.1L1293.1 2061.4L1292.3 2051.8L1291.8 2042L1291.8 2032.2L1292.2 2022.4L1292.9 2012.5L1294.1 2002.7L1295.6 1992.9L1297.6 1983.1L1299.9 1973.4L1302.7 1963.7L1305.8 1954.1L1309.3 1944.6L1313.2 1935.1L1317.4 1925.9L1322 1916.7L1327 1907.7L1332.3 1898.9L1337.9 1890.2L1343.9 1881.7L1350.2 1873.5L1356.8 1865.4L1363.6 1857.6L1370.8 1850L1378.3 1842.7L1386 1835.6L1394 1828.8L1402.3 1822.3L1410.7 1816.1L1419.4 1810.2L1428.3 1804.6L1437.4 1799.3L1446.6 1794.4L1456 1789.8L1465.6 1785.5L1475.3 1781.6L1485.1 1778L1495 1774.9L1505 1772L1515.1 1769.6L1525.2 1767.5L1535.3 1765.8L1545.5 1764.5L1555.7 1763.6L1565.9 1763L1576.1 1762.9L1586.2 1763.1L1596.3 1763.7L1606.3 1764.7L1616.3 1766.1L1626.1 1767.9L1635.8 1770L1645.4 1772.5L1654.8 1775.4L1664.1 1778.7L1673.2 1782.3L1682.1 1786.3L1690.8 1790.6L1699.3 1795.3L1707.6 1800.3L1715.6 1805.6L1723.4 1811.3L1730.9 1817.2L1738.2 1823.5L1745.1 1830.1L1751.8 1836.9L1758.1 1844L1764.1 1851.4L1769.8 1859L1775.2 1866.9L1780.2 1875M1781.1 2110.2L1776.1 2119.2L1770.8 2128L1765.2 2136.7L1759.2 2145.2L1752.9 2153.4L1746.3 2161.5L1739.4 2169.3L1732.2 2176.9L1724.8 2184.2L1717 2191.3L1709 2198.1L1700.8 2204.6L1692.3 2210.8L1683.7 2216.7L1674.8 2222.3L1665.7 2227.6L1656.5 2232.5L1647 2237.2L1637.5 2241.4L1627.8 2245.3L1618 2248.9L1608.1 2252.1L1598.1 2254.9L1588 2257.3L1577.9 2259.4L1567.7 2261.1L1557.5 2262.4L1547.3 2263.3L1537.1 2263.9L1527 2264L1516.8 2263.8L1506.7 2263.2L1496.7 2262.2L1486.8 2260.8L1477 2259.1L1467.3 2256.9L1457.7 2254.4L1448.2 2251.5L1439 2248.2L1429.9 2244.6L1420.9 2240.6L1412.2 2236.3L1403.7 2231.6L1395.5 2226.6L1387.4 2221.3"/>
</g>
<path d="M1171 1772.6H1750" stroke="#5a6e3c" stroke-width="1.6" stroke-opacity=".55"/>
<path d="M1171 2309.6H1751" stroke="#909090" stroke-width="2.4"/>
<path d="M1178 1772.6V2309.3M1750 1772.6V2309.3" stroke="#787850" stroke-width="1.2" stroke-opacity=".4"/>
<path d="M1162 1907.1H1178M1162 2041.5H1178M1162 2174.9H1178M1178 2309.3V2320.3M1321 2309.3V2320.3M1464 2309.3V2320.3M1607 2309.3V2320.3M1750 2309.3V2320.3" stroke="#8e8e8e" stroke-width="1.5"/>
<rect x="1190.4" y="2034.4" width="18" height="14" fill="#fff" stroke="#a0a0a0" stroke-width="1.2"/>
<text x="1199.4" y="2044.7" font-size="9.5" class="s">6.5</text>
<rect x="1319.7" y="2141.6" width="12" height="14" fill="#fff" stroke="#a0a0a0" stroke-width="1.2"/>
<text x="1325.7" y="2151.9" font-size="9.5" class="s">7</text>
<rect x="1693.8" y="1783.7" width="12" height="14" fill="#fff" stroke="#a0a0a0" stroke-width="1.2"/>
<text x="1699.8" y="1794" font-size="9.5" class="s">7</text>
<rect x="1719.5" y="2276" width="17" height="14" fill="#fff" stroke="#a0a0a0" stroke-width="1.2"/>
<text x="1728" y="2286.3" font-size="9.5" class="s">6.5</text>
<text transform="translate(1473.6 1726) scale(1 1.06)" y="11.2" font-size="33">TPEU yield (%)</text>
<text transform="translate(1137.8 1771) scale(1 1.06)" y="10.8" font-size="32" style="text-anchor:end">1.00</text>
<text transform="translate(1130.4 1903.9) scale(1 1.06)" y="10.8" font-size="32" style="text-anchor:end">0.50</text>
<text transform="translate(1121.6 2039.2) scale(1 1.06)" y="10.8" font-size="32" style="text-anchor:end">0.00</text>
<text transform="translate(1121.6 2171) scale(1 1.06)" y="10.8" font-size="32" style="text-anchor:end">-0.50</text>
<text transform="translate(1136.3 2307.4) scale(1 1.06)" y="10.8" font-size="32" style="text-anchor:end">-1.00</text>
<text transform="translate(1171.2 2344.3) scale(1 1.06)" y="10.8" font-size="32">-1.00</text>
<text transform="translate(1307.5 2346.7) scale(1 1.06)" y="10.8" font-size="32">-0.50</text>
<text transform="translate(1460 2351.7) scale(1 1.06)" y="10.8" font-size="32">0.00</text>
<text transform="translate(1615 2345.3) scale(1 1.06)" y="10.8" font-size="32">0.50</text>
<text transform="translate(1770 2340.3) scale(1 1.06)" y="10.8" font-size="32">1.00</text>
<text transform="translate(1013.8 2044) rotate(-90) scale(1 1.06)" y="10.8" font-size="32">C:C</text>
<text transform="translate(1450.2 2416.6) scale(1 1.06)" y="10.8" font-size="32">A:A</text>
<text x="1455.3" y="2495.6" font-size="54" style="fill:#000;stroke:none">f</text></g>
</svg>
</body></html>
